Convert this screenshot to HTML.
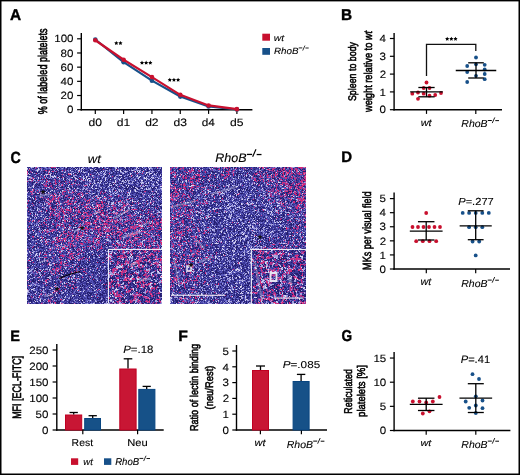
<!DOCTYPE html>
<html><head><meta charset="utf-8"><style>html,body{margin:0;padding:0;background:#fff;width:520px;height:475px;overflow:hidden}svg{display:block}text{font-family:"Liberation Sans",sans-serif}</style></head>
<body><svg style="will-change:transform" width="520" height="475" viewBox="0 0 520 475" font-family="Liberation Sans, sans-serif" text-rendering="geometricPrecision">
<rect width="520" height="475" fill="#fff"/>
<line x1="81.30" y1="33.00" x2="81.30" y2="110.40" stroke="#000" stroke-width="1.40"/>
<line x1="80.60" y1="109.70" x2="252.40" y2="109.70" stroke="#000" stroke-width="1.40"/>
<line x1="77.10" y1="109.70" x2="81.30" y2="109.70" stroke="#000" stroke-width="1.20"/>
<line x1="77.10" y1="95.52" x2="81.30" y2="95.52" stroke="#000" stroke-width="1.20"/>
<line x1="77.10" y1="81.34" x2="81.30" y2="81.34" stroke="#000" stroke-width="1.20"/>
<line x1="77.10" y1="67.16" x2="81.30" y2="67.16" stroke="#000" stroke-width="1.20"/>
<line x1="77.10" y1="52.98" x2="81.30" y2="52.98" stroke="#000" stroke-width="1.20"/>
<line x1="77.10" y1="38.80" x2="81.30" y2="38.80" stroke="#000" stroke-width="1.20"/>
<line x1="95.30" y1="109.70" x2="95.30" y2="113.90" stroke="#000" stroke-width="1.20"/>
<line x1="123.62" y1="109.70" x2="123.62" y2="113.90" stroke="#000" stroke-width="1.20"/>
<line x1="151.94" y1="109.70" x2="151.94" y2="113.90" stroke="#000" stroke-width="1.20"/>
<line x1="180.26" y1="109.70" x2="180.26" y2="113.90" stroke="#000" stroke-width="1.20"/>
<line x1="208.58" y1="109.70" x2="208.58" y2="113.90" stroke="#000" stroke-width="1.20"/>
<line x1="236.90" y1="109.70" x2="236.90" y2="113.90" stroke="#000" stroke-width="1.20"/>
<polyline points="95.30,39.51 123.62,62.20 151.94,80.63 180.26,96.58 208.58,106.51 236.90,109.49" fill="none" stroke="#175089" stroke-width="2.2" stroke-linejoin="round"/>
<circle cx="95.30" cy="39.51" r="2.30" fill="#175089"/>
<circle cx="123.62" cy="62.20" r="2.30" fill="#175089"/>
<circle cx="151.94" cy="80.63" r="2.30" fill="#175089"/>
<circle cx="180.26" cy="96.58" r="2.30" fill="#175089"/>
<circle cx="208.58" cy="106.51" r="2.30" fill="#175089"/>
<circle cx="236.90" cy="109.49" r="2.30" fill="#175089"/>
<polyline points="95.30,40.22 123.62,59.72 151.94,77.09 180.26,94.81 208.58,105.45 236.90,109.13" fill="none" stroke="#c8102e" stroke-width="2.2" stroke-linejoin="round"/>
<circle cx="95.30" cy="40.22" r="2.30" fill="#c8102e"/>
<circle cx="123.62" cy="59.72" r="2.30" fill="#c8102e"/>
<circle cx="151.94" cy="77.09" r="2.30" fill="#c8102e"/>
<circle cx="180.26" cy="94.81" r="2.30" fill="#c8102e"/>
<circle cx="208.58" cy="105.45" r="2.30" fill="#c8102e"/>
<circle cx="236.90" cy="109.13" r="2.30" fill="#c8102e"/>
<polygon points="116.30,41.00 116.95,42.31 118.39,42.52 117.35,43.54 117.59,44.98 116.30,44.30 115.01,44.98 115.25,43.54 114.21,42.52 115.65,42.31" fill="#000"/>
<polygon points="120.45,41.00 121.10,42.31 122.54,42.52 121.50,43.54 121.74,44.98 120.45,44.30 119.16,44.98 119.40,43.54 118.36,42.52 119.80,42.31" fill="#000"/>
<polygon points="142.00,60.60 142.65,61.91 144.09,62.12 143.05,63.14 143.29,64.58 142.00,63.90 140.71,64.58 140.95,63.14 139.91,62.12 141.35,61.91" fill="#000"/>
<polygon points="146.15,60.60 146.80,61.91 148.24,62.12 147.20,63.14 147.44,64.58 146.15,63.90 144.86,64.58 145.10,63.14 144.06,62.12 145.50,61.91" fill="#000"/>
<polygon points="150.30,60.60 150.95,61.91 152.39,62.12 151.35,63.14 151.59,64.58 150.30,63.90 149.01,64.58 149.25,63.14 148.21,62.12 149.65,61.91" fill="#000"/>
<polygon points="169.80,77.70 170.45,79.01 171.89,79.22 170.85,80.24 171.09,81.68 169.80,81.00 168.51,81.68 168.75,80.24 167.71,79.22 169.15,79.01" fill="#000"/>
<polygon points="173.95,77.70 174.60,79.01 176.04,79.22 175.00,80.24 175.24,81.68 173.95,81.00 172.66,81.68 172.90,80.24 171.86,79.22 173.30,79.01" fill="#000"/>
<polygon points="178.10,77.70 178.75,79.01 180.19,79.22 179.15,80.24 179.39,81.68 178.10,81.00 176.81,81.68 177.05,80.24 176.01,79.22 177.45,79.01" fill="#000"/>
<rect x="262.30" y="33.70" width="7.70" height="7.00" fill="#c8102e"/>
<rect x="262.30" y="48.00" width="7.70" height="6.80" fill="#175089"/>
<line x1="298.76" y1="47.91" x2="302.31" y2="47.91" stroke="#000" stroke-width="0.87"/>
<line x1="302.68" y1="50.57" x2="304.96" y2="45.55" stroke="#000" stroke-width="0.78"/>
<line x1="305.42" y1="48.00" x2="308.70" y2="48.00" stroke="#000" stroke-width="0.87"/>
<line x1="394.10" y1="33.00" x2="394.10" y2="110.40" stroke="#000" stroke-width="1.40"/>
<line x1="393.40" y1="109.70" x2="502.00" y2="109.70" stroke="#000" stroke-width="1.40"/>
<line x1="389.90" y1="109.70" x2="394.10" y2="109.70" stroke="#000" stroke-width="1.20"/>
<line x1="389.90" y1="91.90" x2="394.10" y2="91.90" stroke="#000" stroke-width="1.20"/>
<line x1="389.90" y1="74.10" x2="394.10" y2="74.10" stroke="#000" stroke-width="1.20"/>
<line x1="389.90" y1="56.30" x2="394.10" y2="56.30" stroke="#000" stroke-width="1.20"/>
<line x1="389.90" y1="38.50" x2="394.10" y2="38.50" stroke="#000" stroke-width="1.20"/>
<line x1="426.50" y1="109.70" x2="426.50" y2="113.90" stroke="#000" stroke-width="1.20"/>
<line x1="475.80" y1="109.70" x2="475.80" y2="113.90" stroke="#000" stroke-width="1.20"/>
<line x1="487.81" y1="120.51" x2="491.82" y2="120.51" stroke="#000" stroke-width="0.97"/>
<line x1="492.23" y1="123.09" x2="494.79" y2="117.44" stroke="#000" stroke-width="0.88"/>
<line x1="495.31" y1="120.61" x2="499.00" y2="120.61" stroke="#000" stroke-width="0.97"/>
<path d="M426.5,76 V44.4 H475.8 V51" fill="none" stroke="#111" stroke-width="1.3"/>
<polygon points="447.20,36.80 447.85,38.11 449.29,38.32 448.25,39.34 448.49,40.78 447.20,40.10 445.91,40.78 446.15,39.34 445.11,38.32 446.55,38.11" fill="#000"/>
<polygon points="451.35,36.80 452.00,38.11 453.44,38.32 452.40,39.34 452.64,40.78 451.35,40.10 450.06,40.78 450.30,39.34 449.26,38.32 450.70,38.11" fill="#000"/>
<polygon points="455.50,36.80 456.15,38.11 457.59,38.32 456.55,39.34 456.79,40.78 455.50,40.10 454.21,40.78 454.45,39.34 453.41,38.32 454.85,38.11" fill="#000"/>
<circle cx="426.50" cy="82.50" r="1.90" fill="#c8102e"/>
<circle cx="423.70" cy="88.00" r="1.90" fill="#c8102e"/>
<circle cx="429.50" cy="88.00" r="1.90" fill="#c8102e"/>
<circle cx="412.30" cy="93.70" r="1.90" fill="#c8102e"/>
<circle cx="418.00" cy="92.50" r="1.90" fill="#c8102e"/>
<circle cx="423.70" cy="93.70" r="1.90" fill="#c8102e"/>
<circle cx="429.50" cy="95.70" r="1.90" fill="#c8102e"/>
<circle cx="435.20" cy="95.00" r="1.90" fill="#c8102e"/>
<circle cx="441.00" cy="93.00" r="1.90" fill="#c8102e"/>
<circle cx="418.00" cy="98.80" r="1.90" fill="#c8102e"/>
<line x1="426.50" y1="87.50" x2="426.50" y2="96.80" stroke="#000" stroke-width="1.30"/>
<line x1="418.35" y1="87.50" x2="434.65" y2="87.50" stroke="#000" stroke-width="1.30"/>
<line x1="418.35" y1="96.80" x2="434.65" y2="96.80" stroke="#000" stroke-width="1.30"/>
<line x1="410.15" y1="91.80" x2="442.85" y2="91.80" stroke="#000" stroke-width="1.30"/>
<circle cx="476.00" cy="57.50" r="1.90" fill="#175089"/>
<circle cx="467.20" cy="66.00" r="1.90" fill="#175089"/>
<circle cx="476.00" cy="64.30" r="1.90" fill="#175089"/>
<circle cx="484.70" cy="64.80" r="1.90" fill="#175089"/>
<circle cx="467.20" cy="72.00" r="1.90" fill="#175089"/>
<circle cx="484.70" cy="69.50" r="1.90" fill="#175089"/>
<circle cx="484.70" cy="74.00" r="1.90" fill="#175089"/>
<circle cx="476.00" cy="75.80" r="1.90" fill="#175089"/>
<circle cx="484.70" cy="79.20" r="1.90" fill="#175089"/>
<circle cx="467.20" cy="82.00" r="1.90" fill="#175089"/>
<line x1="476.00" y1="62.80" x2="476.00" y2="78.00" stroke="#000" stroke-width="1.30"/>
<line x1="468.20" y1="62.80" x2="483.80" y2="62.80" stroke="#000" stroke-width="1.30"/>
<line x1="468.20" y1="78.00" x2="483.80" y2="78.00" stroke="#000" stroke-width="1.30"/>
<line x1="455.75" y1="70.50" x2="496.25" y2="70.50" stroke="#000" stroke-width="1.30"/>
<line x1="246.87" y1="154.42" x2="252.11" y2="154.42" stroke="#000" stroke-width="1.28"/>
<line x1="252.64" y1="156.66" x2="256.00" y2="149.28" stroke="#000" stroke-width="1.15"/>
<line x1="256.67" y1="154.54" x2="261.50" y2="154.54" stroke="#000" stroke-width="1.28"/>
<defs><filter id="hb" x="0" y="0" width="1" height="1"><feConvolveMatrix order="3" kernelMatrix="1 2 1 2 4 2 1 2 1" preserveAlpha="true" edgeMode="duplicate"/></filter></defs><g><g transform="translate(27.00 167.00)">
<rect width="135" height="137" fill="rgb(58, 54, 150)"/>
<g stroke="#241e6e" fill="none"><path d="M2 0.5h126" stroke-dasharray="1 4 1 5 1 6 1 9 2 5 1 2 2 6 1 1 1 2 2 2 1 2 1 7 3 5 1 5 1 1 1 7 1 2 1 3 1 3 2 6 1 1 1 6 1 4 1 1 1 135"/><path d="M1 1.5h134" stroke-dasharray="1 4 1 3 1 5 1 7 3 1 1 8 1 2 1 3 1 1 2 1 1 1 1 1 1 11 1 4 1 2 1 1 2 6 2 5 1 6 1 1 2 4 2 7 2 4 1 8 1 4 1 135"/><path d="M25 2.5h109" stroke-dasharray="1 3 1 1 1 7 2 1 1 5 1 6 1 1 1 3 1 4 1 1 2 1 1 2 1 4 3 7 1 6 1 1 1 1 1 2 1 1 1 5 1 4 1 3 1 5 1 1 1 1 2 1 1 135"/><path d="M0 3.5h134" stroke-dasharray="1 1 1 2 1 14 1 3 1 3 1 3 2 12 1 11 2 2 1 4 1 2 1 2 2 9 1 9 2 3 1 1 1 12 2 4 2 2 1 2 1 5 1 135"/><path d="M2 4.5h131" stroke-dasharray="1 2 1 1 1 4 1 3 2 5 1 6 1 1 1 14 1 1 1 5 1 1 1 3 3 2 3 2 2 6 1 5 1 2 1 1 1 4 1 6 2 2 1 2 1 1 1 6 3 7 1 3 1 135"/><path d="M1 5.5h133" stroke-dasharray="1 4 1 1 2 1 1 5 2 1 1 4 1 1 4 12 1 6 1 1 1 1 1 6 1 3 1 3 1 6 1 2 1 1 1 4 1 2 1 2 1 4 1 3 1 2 1 4 1 13 1 3 3 1 1 1 1 135"/><path d="M2 6.5h131" stroke-dasharray="1 1 1 5 1 3 1 1 2 4 1 2 1 1 1 1 1 4 1 3 1 8 3 1 2 2 1 2 1 27 1 2 1 9 1 1 1 7 1 3 1 14 1 3 1 135"/><path d="M7 7.5h128" stroke-dasharray="2 3 1 3 1 7 2 1 1 1 1 10 1 9 2 1 1 3 1 8 2 2 1 9 2 1 3 7 2 2 1 8 1 12 1 1 1 2 2 4 1 1 1 1 1 135"/><path d="M1 8.5h130" stroke-dasharray="3 6 1 10 1 8 1 2 2 5 2 1 1 1 1 7 1 5 1 3 1 5 1 8 1 1 1 6 1 7 1 6 1 4 1 4 1 5 2 3 1 6 1 135"/><path d="M5 9.5h129" stroke-dasharray="1 6 1 5 1 1 1 9 2 2 1 1 1 7 2 2 1 6 1 2 1 19 2 7 1 2 1 1 1 2 1 3 1 1 1 3 1 12 1 14 1 135"/><path d="M24 10.5h100" stroke-dasharray="1 8 2 2 1 8 1 2 2 1 1 8 2 10 1 22 2 6 1 2 1 5 1 6 1 2 1 135"/><path d="M14 11.5h117" stroke-dasharray="1 4 1 8 1 2 1 6 1 7 1 4 1 6 1 1 1 8 1 3 1 2 1 5 2 12 1 4 1 1 1 8 1 16 2 135"/><path d="M0 12.5h128" stroke-dasharray="1 3 1 3 2 2 1 1 1 1 1 1 1 1 4 5 1 7 2 8 1 4 1 4 1 5 1 1 1 6 2 7 2 3 1 7 1 2 1 1 1 2 1 6 2 7 1 4 1 2 2 135"/><path d="M9 13.5h121" stroke-dasharray="1 14 1 13 1 2 1 19 1 3 1 11 1 1 1 1 1 2 1 6 1 2 1 2 1 9 1 3 1 4 1 1 1 7 2 1 1 135"/><path d="M2 14.5h132" stroke-dasharray="1 4 1 26 4 9 1 9 1 7 1 3 3 3 1 11 1 5 1 4 1 1 1 2 1 7 1 4 1 13 1 2 1 135"/><path d="M2 15.5h133" stroke-dasharray="1 2 3 5 1 1 1 7 1 5 1 3 2 2 1 6 1 2 1 1 1 2 2 1 1 5 1 7 1 4 1 2 1 1 1 1 1 1 1 6 1 2 1 1 1 4 1 5 1 1 1 3 1 7 1 2 1 4 1 3 1 1 1 135"/><path d="M5 16.5h129" stroke-dasharray="1 3 1 2 1 9 1 2 1 1 1 2 1 11 1 1 1 5 1 1 1 1 1 2 1 8 1 17 1 1 1 1 1 1 2 3 1 1 1 1 1 7 1 5 1 3 1 2 1 6 1 4 2 135"/><path d="M0 17.5h130" stroke-dasharray="1 4 1 2 1 1 1 1 1 1 1 5 1 1 1 2 1 4 1 6 1 17 1 7 3 7 1 1 1 3 2 2 1 1 1 8 1 1 1 11 1 3 2 6 2 1 1 4 2 135"/><path d="M9 18.5h109" stroke-dasharray="1 1 2 2 1 4 1 1 1 2 2 3 1 7 1 1 1 8 1 3 1 7 1 12 2 9 3 8 2 2 1 2 2 4 1 7 1 135"/><path d="M1 19.5h130" stroke-dasharray="1 1 1 4 1 16 1 3 1 5 1 2 1 7 1 5 1 6 1 2 1 3 1 12 1 3 1 2 1 2 1 4 1 5 1 1 1 2 1 1 1 6 1 3 1 4 1 6 1 135"/><path d="M0 20.5h131" stroke-dasharray="1 6 1 2 2 1 1 2 1 6 1 4 1 4 3 3 1 3 2 3 2 4 1 11 1 1 1 1 1 4 1 2 2 3 1 4 2 2 1 2 1 3 1 1 1 1 1 1 1 1 1 3 2 4 2 3 1 1 1 2 1 2 1 135"/><path d="M18 21.5h111" stroke-dasharray="1 1 1 9 1 8 3 2 1 3 1 23 1 2 1 4 1 3 1 8 1 3 3 1 1 2 1 1 3 2 2 3 1 3 1 4 2 1 1 135"/><path d="M1 22.5h125" stroke-dasharray="1 12 1 12 1 7 2 14 1 5 1 6 1 4 2 3 1 5 1 6 1 11 2 4 1 3 1 4 1 10 1 135"/><path d="M0 23.5h132" stroke-dasharray="3 4 1 7 1 1 1 1 1 1 2 3 1 6 1 12 2 3 1 1 1 3 1 8 2 1 1 6 1 9 2 2 1 6 1 4 1 2 1 4 1 7 2 5 1 3 1 1 1 135"/><path d="M2 24.5h122" stroke-dasharray="1 10 1 2 3 13 1 1 1 24 1 1 1 14 2 8 1 6 1 19 1 1 2 4 1 1 1 135"/><path d="M1 25.5h128" stroke-dasharray="1 4 1 12 2 2 1 1 1 3 1 2 1 5 1 8 1 1 1 7 1 5 1 2 1 2 1 9 1 2 1 9 1 3 1 10 1 2 1 4 1 6 1 4 2 135"/><path d="M8 26.5h127" stroke-dasharray="1 3 1 4 1 2 1 4 1 7 1 12 1 1 1 1 1 6 1 3 1 7 1 4 1 2 1 6 1 8 1 3 1 7 1 3 1 1 1 12 1 1 1 2 1 4 1 135"/><path d="M3 27.5h131" stroke-dasharray="1 3 6 3 2 8 1 3 2 6 2 9 1 2 1 13 3 3 1 4 1 4 1 5 1 7 1 1 2 1 1 11 2 14 1 1 1 1 1 135"/><path d="M6 28.5h128" stroke-dasharray="1 5 1 1 1 3 1 8 1 6 1 2 1 19 1 2 1 3 2 7 1 3 1 2 1 14 1 9 1 4 1 3 1 5 1 3 2 1 1 1 2 2 1 135"/><path d="M4 29.5h130" stroke-dasharray="1 7 1 3 1 1 1 11 1 5 1 4 2 2 1 3 3 5 1 2 1 11 2 5 1 8 3 6 2 6 2 1 1 1 1 3 1 3 1 4 1 5 1 3 1 135"/><path d="M7 30.5h126" stroke-dasharray="1 3 1 9 1 14 1 1 2 7 1 6 1 1 1 1 1 9 1 13 1 4 1 2 1 10 1 23 1 4 1 1 1 135"/><path d="M0 31.5h132" stroke-dasharray="1 1 1 4 1 4 1 1 1 7 1 11 1 1 1 5 1 8 1 3 1 4 1 1 1 4 1 6 1 23 1 1 1 3 1 1 1 5 2 3 1 3 1 3 1 5 1 135"/><path d="M2 32.5h133" stroke-dasharray="2 1 1 6 2 1 1 1 1 15 1 3 2 1 1 2 2 3 1 31 1 5 2 3 1 2 2 1 1 13 2 1 1 3 1 4 1 3 2 3 1 1 1 135"/><path d="M5 33.5h126" stroke-dasharray="3 2 1 2 3 1 1 1 1 7 1 7 1 1 1 11 1 1 2 3 1 9 1 15 1 8 2 8 2 3 1 1 1 3 1 9 1 7 1 135"/><path d="M5 34.5h118" stroke-dasharray="1 2 2 3 1 7 1 4 1 3 1 20 2 6 1 1 1 2 2 2 2 3 1 3 1 1 1 3 2 3 1 15 1 10 1 1 1 2 1 1 1 135"/><path d="M0 35.5h133" stroke-dasharray="3 2 2 1 1 1 2 2 3 9 2 1 1 12 2 2 1 3 2 3 1 3 1 3 1 12 1 2 1 26 1 3 1 3 1 4 2 7 1 3 1 135"/><path d="M6 36.5h129" stroke-dasharray="3 2 1 4 1 6 1 3 2 8 1 8 1 3 1 3 2 14 1 1 3 5 1 2 1 5 2 7 1 3 3 1 1 20 1 1 1 3 2 135"/><path d="M10 37.5h124" stroke-dasharray="1 3 1 1 1 8 1 22 1 8 1 6 1 12 1 1 1 23 3 7 1 1 1 3 1 3 1 9 1 135"/><path d="M3 38.5h128" stroke-dasharray="1 4 1 9 1 6 1 2 2 5 1 6 1 4 1 6 1 12 1 10 1 3 1 6 1 5 1 15 3 2 1 1 1 4 1 5 2 135"/><path d="M4 39.5h130" stroke-dasharray="1 1 1 2 1 5 1 2 1 5 4 1 1 6 1 7 3 9 1 7 1 9 1 2 1 12 1 30 1 2 4 1 1 3 1 135"/><path d="M5 40.5h130" stroke-dasharray="2 4 1 1 1 6 1 4 1 12 1 5 1 6 1 1 2 7 1 4 1 2 1 1 1 4 2 13 2 5 1 3 1 7 1 3 1 3 1 10 1 3 1 135"/><path d="M1 41.5h134" stroke-dasharray="2 2 2 2 1 16 1 1 1 4 1 4 1 7 2 1 2 1 1 19 1 14 1 2 1 2 1 9 1 2 1 3 2 5 1 2 3 4 1 1 1 1 1 2 1 135"/><path d="M1 42.5h132" stroke-dasharray="1 4 1 2 1 5 2 1 1 2 1 2 1 17 1 2 1 1 1 2 1 1 1 2 1 2 1 2 1 2 1 4 2 4 2 1 2 5 1 12 2 3 1 7 1 2 1 2 1 12 1 1 1 135"/><path d="M1 43.5h132" stroke-dasharray="1 6 1 8 2 2 1 2 3 8 1 1 1 18 1 2 1 2 1 1 1 1 1 2 1 6 1 4 2 2 2 11 1 3 1 1 1 8 2 10 1 6 1 135"/><path d="M3 44.5h131" stroke-dasharray="1 1 1 1 1 7 1 4 2 4 1 4 1 2 1 18 1 3 1 5 1 7 1 2 1 6 1 3 1 9 1 5 1 3 2 8 1 1 1 2 1 7 1 4 1 135"/><path d="M1 45.5h128" stroke-dasharray="2 7 1 9 1 14 1 6 1 3 1 1 1 5 1 5 2 1 1 10 1 2 2 12 2 1 2 7 2 1 1 10 1 9 2 135"/><path d="M4 46.5h129" stroke-dasharray="1 1 2 3 2 2 1 3 2 18 2 2 1 6 1 3 2 8 1 6 1 1 1 3 1 7 1 12 2 4 1 7 1 1 1 6 1 10 1 135"/><path d="M7 47.5h126" stroke-dasharray="1 13 1 2 1 4 1 3 2 7 1 2 1 5 2 1 1 3 1 7 1 2 1 2 1 4 1 3 3 7 1 1 1 2 2 3 1 7 1 8 1 3 1 5 1 3 1 135"/><path d="M1 48.5h129" stroke-dasharray="1 1 1 2 1 9 1 1 2 1 1 3 1 17 1 5 2 17 1 17 1 1 1 1 1 5 2 14 1 1 1 3 2 7 3 135"/><path d="M3 49.5h126" stroke-dasharray="2 4 1 15 2 8 1 2 1 4 1 19 2 9 1 7 1 2 1 4 2 1 1 13 1 9 1 2 1 7 1 135"/><path d="M6 50.5h127" stroke-dasharray="1 1 1 4 1 5 3 7 1 9 1 5 1 12 1 1 1 2 1 1 3 6 1 12 2 3 1 5 1 2 1 9 1 10 2 1 1 6 1 135"/><path d="M6 51.5h125" stroke-dasharray="1 9 1 7 4 1 1 5 1 9 1 5 1 2 1 12 2 6 2 2 2 2 1 1 1 1 1 3 1 4 2 6 1 4 3 2 1 1 1 1 1 3 2 1 1 3 2 135"/><path d="M4 52.5h130" stroke-dasharray="1 4 1 1 2 7 1 2 1 4 2 1 1 2 1 10 1 1 1 3 2 1 1 1 2 5 1 4 1 7 1 2 1 11 1 14 1 1 1 4 1 4 1 14 1 135"/><path d="M1 53.5h133" stroke-dasharray="2 7 1 2 1 4 1 5 1 2 1 1 1 4 1 4 1 1 1 4 2 9 1 8 1 14 1 10 1 4 1 6 1 11 2 2 2 2 1 1 1 5 2 135"/><path d="M6 54.5h127" stroke-dasharray="1 9 1 6 1 10 1 1 1 2 1 7 1 1 1 12 1 1 1 5 1 3 1 11 1 4 1 4 1 4 1 2 1 2 1 9 1 14 1 135"/><path d="M1 55.5h121" stroke-dasharray="1 6 1 3 1 1 1 3 1 2 1 2 1 2 1 3 1 1 1 6 1 2 2 6 3 10 1 6 1 3 2 1 1 2 1 8 1 8 2 2 1 16 2 135"/><path d="M11 56.5h122" stroke-dasharray="1 2 1 1 1 1 1 1 1 21 3 9 1 15 1 20 1 11 1 2 1 1 3 2 1 5 1 8 1 3 1 135"/><path d="M6 57.5h128" stroke-dasharray="1 5 1 10 1 3 1 3 1 6 1 8 2 12 1 3 1 1 1 3 2 15 2 2 1 3 1 4 1 4 1 8 1 4 1 2 2 8 1 135"/><path d="M2 58.5h130" stroke-dasharray="3 3 1 4 3 2 1 3 1 3 1 8 1 2 1 1 2 2 1 1 1 2 2 15 2 1 1 4 1 4 1 12 1 1 1 2 2 4 1 16 1 5 1 4 1 135"/><path d="M17 59.5h117" stroke-dasharray="2 4 1 3 1 10 1 1 1 4 1 1 1 1 1 8 1 2 2 12 1 8 1 7 1 1 2 2 1 19 1 3 1 10 1 135"/><path d="M8 60.5h121" stroke-dasharray="1 4 4 5 1 4 2 1 1 8 1 1 1 3 1 4 1 5 1 4 1 2 1 19 1 7 1 6 1 1 1 10 1 3 1 1 1 4 1 4 1 135"/><path d="M1 61.5h132" stroke-dasharray="1 2 1 2 1 2 2 3 3 2 2 5 2 11 1 6 3 11 1 6 1 1 1 15 2 4 1 9 1 7 1 6 1 4 2 7 2 135"/><path d="M5 62.5h116" stroke-dasharray="1 2 1 1 1 3 1 1 1 2 1 12 1 4 1 9 1 60 1 5 1 1 1 3 1 135"/><path d="M1 63.5h134" stroke-dasharray="1 1 2 4 2 4 1 7 1 6 1 8 1 1 1 5 1 5 1 3 2 2 1 8 1 2 2 2 1 6 1 3 1 1 1 3 1 7 1 3 1 6 1 5 1 5 1 2 1 5 1 135"/><path d="M6 64.5h128" stroke-dasharray="1 7 1 24 1 6 1 2 1 13 1 9 1 2 1 7 1 15 1 2 1 28 2 135"/><path d="M7 65.5h128" stroke-dasharray="1 6 1 9 1 1 1 1 1 5 1 2 3 9 1 8 1 2 1 15 1 2 1 3 1 4 1 6 1 2 1 6 1 13 1 11 1 1 1 135"/><path d="M1 66.5h134" stroke-dasharray="1 3 1 1 1 13 2 1 2 2 1 1 2 2 1 6 1 6 2 2 1 13 1 4 1 10 1 2 2 3 2 4 1 31 1 4 2 135"/><path d="M3 67.5h131" stroke-dasharray="3 7 1 4 2 7 1 9 1 3 1 4 1 1 1 14 1 6 1 3 1 1 2 4 2 5 1 7 1 3 1 9 1 1 1 4 1 4 2 7 2 135"/><path d="M0 68.5h115" stroke-dasharray="2 1 1 2 2 21 1 5 1 16 1 16 1 7 1 7 1 2 2 5 1 13 1 1 1 1 2 135"/><path d="M1 69.5h132" stroke-dasharray="2 6 1 6 1 3 1 1 1 2 1 11 1 3 2 1 1 21 1 2 1 3 2 14 1 1 1 1 1 2 1 10 1 2 1 10 1 6 2 2 1 135"/><path d="M1 70.5h129" stroke-dasharray="2 7 1 6 2 5 1 6 2 2 1 4 2 8 1 4 2 12 1 1 1 13 1 3 1 1 1 13 2 6 2 10 1 2 2 135"/><path d="M1 71.5h132" stroke-dasharray="2 2 1 1 2 2 1 2 1 4 1 4 1 3 1 2 1 8 1 1 2 2 1 9 1 17 2 2 1 7 1 8 1 5 1 3 1 6 1 4 1 2 1 8 1 2 1 135"/><path d="M0 72.5h135" stroke-dasharray="1 6 1 4 2 4 1 28 1 4 1 15 1 2 2 1 1 1 1 7 4 1 2 7 1 1 1 4 1 14 1 3 1 3 1 4 2 135"/><path d="M1 73.5h131" stroke-dasharray="1 19 2 6 1 10 1 12 1 16 1 2 1 1 1 2 1 5 1 7 1 1 1 3 1 5 1 9 1 13 1 1 2 135"/><path d="M2 74.5h130" stroke-dasharray="2 7 1 18 1 5 1 2 1 18 1 26 1 11 1 4 1 5 2 21 1 135"/><path d="M0 75.5h133" stroke-dasharray="1 8 1 3 1 1 1 15 2 7 1 4 1 6 1 1 1 10 1 3 1 3 1 6 1 6 1 1 1 10 2 5 1 8 1 3 1 4 1 6 1 135"/><path d="M7 76.5h125" stroke-dasharray="1 9 1 6 1 3 1 4 1 1 1 1 1 23 1 3 2 10 1 31 1 9 3 1 1 7 1 135"/><path d="M9 77.5h124" stroke-dasharray="1 1 2 6 1 4 1 7 1 11 1 5 1 9 1 2 3 4 1 4 2 2 2 1 1 6 1 10 1 1 1 2 1 3 1 18 2 2 1 135"/><path d="M0 78.5h122" stroke-dasharray="2 2 1 5 1 2 1 5 1 1 1 1 2 42 1 7 1 1 2 1 2 4 1 2 2 5 1 9 1 12 1 1 1 135"/><path d="M2 79.5h133" stroke-dasharray="1 4 1 1 1 1 1 8 1 20 1 3 1 4 1 2 1 2 1 15 1 2 1 3 1 6 1 5 1 10 1 3 1 2 1 4 1 2 1 6 1 8 1 135"/><path d="M6 80.5h128" stroke-dasharray="2 1 1 3 4 17 1 6 1 2 3 4 1 2 1 4 1 1 1 1 1 1 1 4 1 21 1 2 1 13 2 2 1 4 1 6 1 7 1 135"/><path d="M2 81.5h123" stroke-dasharray="1 2 1 3 1 2 1 2 1 3 1 22 1 3 1 12 1 3 1 1 1 6 1 5 1 2 1 16 1 3 2 5 1 5 1 4 2 2 1 135"/><path d="M2 82.5h132" stroke-dasharray="1 18 1 14 2 8 2 1 1 6 1 3 1 5 2 7 1 1 1 2 1 2 1 2 1 1 1 6 1 2 1 6 1 2 1 1 1 12 1 1 1 7 1 135"/><path d="M3 83.5h132" stroke-dasharray="2 2 1 5 1 2 1 9 1 4 2 7 2 17 1 2 1 1 1 4 1 9 1 1 1 2 1 2 1 8 1 17 1 5 1 6 2 3 1 1 1 135"/><path d="M12 84.5h123" stroke-dasharray="1 1 1 2 1 1 1 4 1 11 1 2 1 6 1 1 2 2 1 2 1 3 1 7 1 3 2 3 2 4 1 7 2 4 1 2 1 12 1 11 1 5 1 1 1 1 1 135"/><path d="M10 85.5h123" stroke-dasharray="2 7 2 2 1 4 1 15 1 4 1 3 2 3 1 8 1 1 1 1 1 1 1 6 1 1 1 1 1 3 1 5 1 2 1 1 2 1 1 3 1 4 2 4 1 3 1 2 1 7 1 135"/><path d="M4 86.5h129" stroke-dasharray="1 11 1 5 1 5 2 5 1 3 1 9 1 8 1 2 2 9 1 5 1 1 1 16 1 4 2 3 1 1 1 2 1 2 1 1 1 1 1 6 1 3 1 1 1 135"/><path d="M2 87.5h123" stroke-dasharray="1 12 2 7 2 1 1 4 1 22 2 4 1 4 3 4 1 1 1 1 1 3 2 3 1 1 1 5 1 6 1 5 1 10 2 4 1 135"/><path d="M13 88.5h116" stroke-dasharray="1 16 1 1 1 6 1 1 1 5 1 1 1 3 1 4 2 2 1 1 2 2 1 13 2 9 1 5 2 1 1 3 1 9 1 2 1 8 1 135"/><path d="M1 89.5h134" stroke-dasharray="1 7 1 6 1 14 2 14 2 7 3 2 1 1 1 1 1 2 3 6 1 1 1 2 1 8 2 10 1 1 1 1 1 3 1 13 3 5 2 135"/><path d="M0 90.5h134" stroke-dasharray="1 3 1 2 1 18 1 12 1 4 1 4 1 8 1 4 1 1 1 3 1 3 1 2 1 1 1 9 1 11 3 1 1 4 1 5 1 6 1 5 2 2 2 135"/><path d="M8 91.5h122" stroke-dasharray="1 4 1 1 2 2 2 2 2 3 1 4 1 1 1 1 1 2 1 3 1 2 1 8 2 2 1 4 1 6 6 2 1 2 2 2 1 12 1 3 1 1 1 3 1 7 1 2 2 6 1 135"/><path d="M2 92.5h122" stroke-dasharray="1 5 1 6 1 3 1 1 2 22 2 2 1 11 1 4 1 1 1 6 1 1 1 1 1 3 1 1 2 2 3 6 2 5 1 5 1 5 1 5 1 135"/><path d="M3 93.5h125" stroke-dasharray="1 4 1 2 1 1 1 8 1 10 1 9 1 1 2 2 1 3 1 9 1 4 1 1 2 2 1 3 1 5 1 4 1 6 1 14 1 4 1 7 1 2 1 135"/><path d="M10 94.5h121" stroke-dasharray="2 1 1 2 1 1 1 4 1 4 1 15 1 3 1 2 1 1 1 1 2 4 1 4 1 5 1 4 1 1 1 1 1 1 1 9 1 2 1 2 1 13 2 3 1 2 1 1 1 2 1 3 1 135"/><path d="M0 95.5h133" stroke-dasharray="3 1 1 4 1 4 1 1 1 2 3 16 2 3 4 4 1 1 1 2 1 2 1 1 3 5 1 1 3 4 1 14 3 3 1 1 1 2 2 12 1 3 1 4 1 2 1 1 1 135"/><path d="M0 96.5h132" stroke-dasharray="1 3 1 5 1 3 1 2 1 1 1 8 3 1 1 3 1 3 1 4 1 1 1 4 2 3 1 15 2 7 1 1 1 2 1 4 2 19 2 6 1 3 1 5 1 135"/><path d="M2 97.5h131" stroke-dasharray="1 2 1 1 1 1 1 2 1 3 1 2 1 8 1 2 1 6 1 4 1 8 1 3 1 1 4 11 1 3 1 4 1 1 1 1 1 2 1 6 1 1 1 5 2 1 1 6 1 6 1 3 1 2 1 3 1 135"/><path d="M0 98.5h135" stroke-dasharray="1 2 2 4 1 2 1 8 1 3 1 3 2 3 1 10 2 4 2 1 2 1 1 2 1 5 2 4 1 2 2 1 1 5 1 1 2 4 1 7 1 3 1 2 2 5 1 2 2 6 1 1 1 6 1 135"/><path d="M1 99.5h125" stroke-dasharray="1 1 1 20 1 2 1 2 1 4 1 12 3 1 1 5 1 3 6 37 1 7 1 10 2 135"/><path d="M3 100.5h130" stroke-dasharray="1 4 1 2 1 6 1 8 2 18 2 4 2 2 2 2 1 4 1 1 1 2 1 2 2 5 1 5 2 6 1 9 2 2 2 6 1 7 1 1 1 1 1 1 2 135"/><path d="M1 101.5h120" stroke-dasharray="2 4 1 1 2 1 1 2 1 1 1 3 1 2 1 10 1 1 1 2 1 2 1 3 2 3 4 5 1 2 1 8 1 4 2 4 2 1 1 1 1 1 1 1 1 6 1 6 1 4 1 2 1 4 1 135"/><path d="M7 102.5h126" stroke-dasharray="4 24 1 7 1 1 1 6 1 5 1 2 1 3 1 1 1 2 1 2 1 5 1 8 1 2 1 2 2 6 2 1 1 2 1 3 1 2 1 10 1 5 1 135"/><path d="M6 103.5h128" stroke-dasharray="1 2 2 1 1 3 1 2 1 1 1 3 1 6 2 2 1 1 1 2 2 4 1 5 1 2 1 1 1 10 2 2 1 1 2 1 1 1 1 1 1 5 1 3 1 5 1 3 2 4 1 3 1 2 1 1 1 1 2 4 1 1 1 2 2 1 1 135"/><path d="M1 104.5h131" stroke-dasharray="1 11 1 18 1 2 1 2 1 4 1 2 1 1 1 15 1 6 2 1 1 1 1 3 3 1 1 19 1 5 3 1 2 6 1 3 1 4 1 135"/><path d="M0 105.5h132" stroke-dasharray="1 13 1 1 1 5 1 2 1 5 2 4 1 2 1 2 1 4 1 3 4 1 1 6 3 1 1 1 1 5 1 2 2 8 1 1 1 13 1 1 1 12 1 8 1 1 1 135"/><path d="M2 106.5h128" stroke-dasharray="1 8 1 2 3 2 1 2 1 8 1 1 1 3 1 2 1 2 1 1 2 7 1 3 1 7 1 1 1 4 1 1 1 3 1 4 2 4 1 7 1 12 1 5 1 5 1 5 1 135"/><path d="M5 107.5h124" stroke-dasharray="1 5 1 3 1 2 1 2 2 5 2 5 2 1 2 7 1 4 1 4 1 15 1 8 1 5 2 1 1 3 1 10 3 1 1 5 2 1 1 1 2 1 1 2 2 135"/><path d="M5 108.5h130" stroke-dasharray="1 6 1 1 1 2 1 3 1 1 1 2 1 1 1 3 1 3 1 5 1 7 2 9 2 17 1 1 1 4 1 3 1 5 1 2 2 23 2 7 1 135"/><path d="M3 109.5h130" stroke-dasharray="1 2 1 2 2 2 1 5 3 2 1 8 3 6 1 13 1 1 1 7 1 3 1 2 1 2 4 3 1 2 3 3 2 1 1 3 2 6 1 7 1 3 1 1 2 5 1 2 2 135"/><path d="M4 110.5h131" stroke-dasharray="1 13 1 22 1 1 1 4 1 5 1 5 1 5 1 5 1 2 2 7 3 2 1 1 1 1 1 5 2 3 1 1 2 2 2 1 2 7 1 4 2 5 1 135"/><path d="M2 111.5h129" stroke-dasharray="1 3 1 11 4 3 1 4 1 3 1 26 1 1 1 1 1 6 1 4 1 3 1 1 1 2 1 2 1 4 1 1 1 2 1 1 1 4 1 8 1 4 1 2 1 2 1 2 2 135"/><path d="M1 112.5h134" stroke-dasharray="1 4 1 3 2 10 1 2 1 1 1 5 1 1 1 2 1 7 1 7 1 4 1 1 1 3 1 1 2 5 2 3 1 5 1 3 1 3 1 1 1 15 1 9 1 4 1 5 1 1 1 135"/><path d="M2 113.5h131" stroke-dasharray="1 2 2 1 1 7 1 17 1 2 1 1 1 2 2 4 1 3 2 3 2 1 3 3 1 5 1 1 1 1 1 2 2 2 2 9 2 6 1 1 1 1 1 3 1 1 1 11 1 1 1 3 1 1 1 135"/><path d="M2 114.5h132" stroke-dasharray="1 2 3 2 2 1 2 5 1 4 1 1 1 3 1 9 3 4 1 4 1 2 1 2 1 1 1 5 1 9 1 6 2 2 1 14 2 3 2 7 1 5 1 2 1 6 1 135"/><path d="M0 115.5h132" stroke-dasharray="1 1 1 1 1 6 2 2 2 8 1 1 2 2 1 6 1 5 1 3 1 5 1 7 1 5 1 1 1 8 2 1 1 2 1 1 1 11 1 7 2 9 5 5 1 2 1 135"/><path d="M0 116.5h131" stroke-dasharray="1 13 1 4 1 2 1 9 1 7 2 5 2 10 2 2 2 3 1 3 1 1 1 3 4 6 1 1 1 1 1 2 1 5 1 7 1 1 1 10 1 4 2 1 1 135"/><path d="M2 117.5h133" stroke-dasharray="1 18 1 3 1 2 1 1 1 3 1 3 2 7 1 7 1 3 1 2 1 6 3 1 1 2 1 1 1 1 1 23 1 1 1 11 1 2 1 6 1 3 1 1 1 135"/><path d="M17 118.5h96" stroke-dasharray="1 2 1 1 1 3 1 3 1 10 1 11 1 1 2 3 1 3 1 11 2 8 1 1 1 6 1 2 1 4 1 8 1 135"/><path d="M4 119.5h125" stroke-dasharray="1 1 1 1 2 7 1 7 1 6 1 11 3 1 1 4 1 1 1 1 1 6 2 2 2 1 1 4 2 1 1 1 1 13 1 1 1 4 1 2 1 6 1 8 1 2 1 1 3 135"/><path d="M3 120.5h128" stroke-dasharray="1 2 3 2 2 5 1 3 1 4 1 2 1 2 1 3 1 2 4 2 1 14 1 4 1 2 1 3 1 2 1 2 3 2 1 7 1 1 1 7 1 2 1 1 1 3 1 6 1 6 1 3 2 135"/><path d="M0 121.5h134" stroke-dasharray="1 10 1 2 1 2 1 4 2 11 1 6 1 4 2 4 2 2 1 4 1 1 1 3 1 3 1 4 1 4 1 8 1 1 1 3 1 6 1 10 2 7 1 8 1 135"/><path d="M3 122.5h130" stroke-dasharray="1 7 1 3 1 18 1 1 2 4 1 2 1 8 1 4 1 5 1 4 1 2 1 6 2 9 1 15 1 8 1 3 1 1 1 5 1 3 1 135"/><path d="M5 123.5h127" stroke-dasharray="1 12 1 1 2 13 1 4 1 1 1 2 1 3 1 3 1 11 2 10 1 3 1 8 2 21 1 1 2 1 1 1 1 7 1 2 1 135"/><path d="M2 124.5h127" stroke-dasharray="1 3 1 1 1 2 2 1 1 5 1 5 1 4 1 4 1 2 1 1 1 2 1 12 1 20 1 4 3 27 1 1 3 4 1 3 1 1 1 135"/><path d="M3 125.5h123" stroke-dasharray="2 1 2 4 2 6 1 1 1 8 3 7 2 2 1 2 1 11 3 2 1 1 1 3 1 3 1 6 1 4 1 7 1 1 1 1 1 8 1 10 1 5 1 135"/><path d="M1 126.5h130" stroke-dasharray="1 7 1 5 1 4 1 5 1 4 1 1 1 3 1 11 4 3 1 1 1 1 1 1 3 8 1 2 2 1 1 2 1 2 1 1 1 4 1 5 1 7 1 5 1 5 1 4 1 2 1 3 1 135"/><path d="M7 127.5h124" stroke-dasharray="1 3 2 8 2 2 1 1 1 1 1 3 1 2 1 1 1 2 1 4 1 6 1 7 1 1 2 1 1 3 1 2 3 5 1 1 2 6 1 6 2 16 3 11 1 135"/><path d="M0 128.5h133" stroke-dasharray="3 21 2 4 1 4 1 11 1 3 1 3 1 5 3 8 2 1 1 20 1 26 2 1 3 3 1 135"/><path d="M0 129.5h129" stroke-dasharray="1 1 1 2 1 4 1 10 4 2 1 2 1 6 1 9 1 4 2 6 1 6 1 16 1 5 1 3 1 3 3 3 3 5 1 13 1 1 1 135"/><path d="M3 130.5h126" stroke-dasharray="1 3 1 8 1 2 2 1 1 4 1 8 1 6 1 1 1 14 1 3 1 1 1 4 1 1 1 2 1 7 1 1 1 5 3 1 2 1 1 9 3 1 1 3 2 4 1 1 1 2 1 135"/><path d="M10 131.5h121" stroke-dasharray="2 13 1 3 1 1 1 4 1 3 1 2 1 1 1 5 1 2 2 4 2 1 1 4 1 1 1 1 2 2 2 2 1 1 2 4 1 5 1 3 1 1 1 13 1 1 1 11 1 1 1 135"/><path d="M2 132.5h121" stroke-dasharray="2 2 2 11 1 8 2 8 1 4 1 8 1 3 1 9 1 3 3 4 1 4 1 2 1 7 2 3 1 4 1 1 1 11 2 3 1 135"/><path d="M2 133.5h131" stroke-dasharray="3 1 1 1 1 5 2 8 1 5 1 2 1 4 1 3 2 4 1 2 1 2 1 2 1 7 1 8 2 1 1 13 1 12 1 7 1 7 1 3 1 3 1 3 1 135"/><path d="M0 134.5h134" stroke-dasharray="1 1 1 1 1 2 1 11 1 10 4 8 1 3 1 5 1 1 2 1 1 3 1 8 5 3 1 2 1 17 3 2 1 3 2 1 1 4 1 5 1 8 3 135"/><path d="M4 135.5h130" stroke-dasharray="1 4 1 3 1 8 1 1 1 1 1 2 2 1 1 8 2 12 1 7 1 4 1 1 2 2 1 2 1 2 1 4 1 10 1 3 2 3 1 6 1 13 1 3 1 2 1 135"/><path d="M3 136.5h121" stroke-dasharray="1 5 2 6 2 11 2 6 1 3 4 3 1 2 2 14 1 7 1 15 2 3 1 2 1 2 1 1 1 7 2 6 1 1 1 135"/></g>
<g stroke="#5452b6" fill="none"><path d="M14 0.5h115" stroke-dasharray="1 1 1 2 1 6 1 2 1 4 1 24 1 14 1 2 1 3 1 11 1 11 1 2 1 3 1 5 1 3 1 5 1 135"/><path d="M12 1.5h120" stroke-dasharray="1 2 1 2 1 1 2 14 1 1 1 2 1 3 1 10 1 2 1 1 2 14 2 12 1 9 1 2 1 2 1 5 1 3 1 3 1 5 2 2 1 135"/><path d="M6 2.5h127" stroke-dasharray="2 1 1 7 1 1 1 6 1 6 3 5 1 3 1 1 1 2 1 2 1 5 1 13 1 11 2 5 1 4 1 1 1 1 2 3 1 3 1 2 1 1 1 8 1 7 1 135"/><path d="M3 3.5h117" stroke-dasharray="1 11 1 14 1 30 1 2 2 10 2 20 1 19 2 135"/><path d="M4 4.5h126" stroke-dasharray="1 22 1 8 1 6 1 4 1 1 1 2 1 4 3 3 2 7 1 6 4 3 1 25 2 6 1 1 1 3 1 1 1 135"/><path d="M13 5.5h112" stroke-dasharray="1 1 2 2 1 3 1 2 1 22 1 5 1 4 1 7 1 3 1 12 1 1 2 2 1 10 2 3 1 9 1 6 1 135"/><path d="M5 6.5h130" stroke-dasharray="2 1 1 6 1 2 1 7 1 3 1 8 1 17 1 6 1 1 1 12 1 1 1 1 1 13 1 2 1 7 1 2 2 1 1 1 3 15 1 135"/><path d="M9 7.5h123" stroke-dasharray="2 15 1 3 1 15 1 5 1 1 2 6 1 5 2 17 1 2 2 3 1 4 1 9 1 1 2 6 1 2 1 2 1 2 1 1 1 135"/><path d="M0 8.5h133" stroke-dasharray="1 3 1 2 1 7 1 9 1 3 1 1 1 4 2 4 1 1 1 10 2 7 1 2 1 2 1 4 1 9 1 5 1 5 1 16 2 6 1 4 1 3 2 135"/><path d="M16 9.5h114" stroke-dasharray="1 12 1 5 1 5 1 8 1 3 1 6 1 4 3 1 2 5 1 6 1 6 1 15 1 3 1 3 2 3 1 1 1 1 1 2 1 1 1 135"/><path d="M9 10.5h124" stroke-dasharray="2 2 3 13 1 9 1 1 3 10 1 2 2 4 1 3 2 1 2 2 1 2 1 4 1 1 1 5 1 7 1 1 1 2 1 5 2 18 1 1 2 135"/><path d="M1 11.5h121" stroke-dasharray="1 14 1 4 1 1 1 3 1 1 2 12 1 6 1 4 1 7 1 7 1 7 1 1 1 3 1 13 1 5 1 1 1 13 1 135"/><path d="M11 12.5h123" stroke-dasharray="1 14 1 4 1 1 1 17 1 7 1 1 1 4 1 3 2 2 1 4 1 7 1 2 1 12 2 1 1 9 2 11 1 1 1 1 1 135"/><path d="M6 13.5h129" stroke-dasharray="1 8 2 17 2 4 1 4 3 18 1 2 1 5 1 4 1 8 2 12 1 1 2 2 2 22 2 135"/><path d="M8 14.5h124" stroke-dasharray="3 1 2 1 1 7 1 5 1 10 2 2 1 6 1 8 2 4 1 12 1 5 2 15 1 4 1 2 1 6 1 4 1 3 1 4 1 135"/><path d="M12 15.5h111" stroke-dasharray="1 5 1 6 1 4 1 5 1 1 2 1 1 1 1 1 1 5 1 2 1 5 1 2 1 12 1 12 1 1 1 2 1 4 1 3 1 13 1 1 1 2 1 135"/><path d="M1 16.5h134" stroke-dasharray="2 3 1 3 2 4 1 2 1 6 1 6 1 27 1 9 1 2 1 5 1 19 1 5 1 1 2 2 1 9 1 2 1 5 1 2 1 135"/><path d="M1 17.5h134" stroke-dasharray="1 1 1 2 1 6 1 4 1 10 1 6 1 1 1 1 1 5 1 1 1 2 1 1 1 14 3 13 1 7 2 5 2 2 3 5 1 10 1 4 1 4 1 1 1 135"/><path d="M1 18.5h133" stroke-dasharray="1 8 1 3 1 1 1 11 1 4 1 3 1 4 1 2 1 2 1 3 1 13 1 4 1 5 1 10 1 4 1 8 1 2 1 9 1 5 1 2 1 4 1 1 1 1 1 135"/><path d="M4 19.5h129" stroke-dasharray="1 2 1 3 2 1 1 15 1 5 1 2 1 4 1 10 1 4 1 3 1 6 1 1 1 1 1 2 1 3 1 1 1 6 1 19 2 12 1 6 1 135"/><path d="M8 20.5h126" stroke-dasharray="1 3 1 2 1 3 1 4 1 2 1 14 1 16 1 5 1 1 1 13 1 3 2 28 1 3 1 12 2 135"/><path d="M3 21.5h130" stroke-dasharray="1 3 1 1 5 9 1 10 2 1 1 5 1 5 1 2 1 2 1 6 2 2 1 3 1 5 2 4 2 1 1 9 2 5 2 13 2 12 2 135"/><path d="M0 22.5h134" stroke-dasharray="1 2 2 4 1 5 1 1 1 6 1 6 2 12 2 19 2 4 1 6 1 3 2 13 1 3 1 15 1 5 1 4 1 3 1 135"/><path d="M4 23.5h129" stroke-dasharray="1 3 2 1 1 6 1 4 1 5 1 7 3 2 1 1 1 5 1 4 1 2 1 5 1 3 1 8 1 2 2 1 1 11 1 16 1 2 1 7 1 3 1 4 1 135"/><path d="M6 24.5h128" stroke-dasharray="1 13 1 5 1 4 1 8 1 1 3 19 1 22 1 13 1 5 1 19 1 5 1 135"/><path d="M3 25.5h123" stroke-dasharray="1 5 2 11 1 4 2 10 1 18 1 6 1 1 2 2 2 8 1 2 3 6 1 4 1 13 1 12 1 135"/><path d="M2 26.5h120" stroke-dasharray="2 14 2 4 1 9 1 2 1 1 1 7 1 16 1 18 1 7 1 2 2 4 1 6 2 4 1 2 1 1 1 1 2 135"/><path d="M6 27.5h127" stroke-dasharray="1 14 1 15 1 3 4 8 1 3 2 17 1 8 1 1 1 4 1 1 1 2 1 6 4 2 1 7 2 2 1 5 1 3 1 135"/><path d="M1 28.5h131" stroke-dasharray="2 2 1 2 4 5 1 3 1 19 1 2 1 5 1 2 2 7 1 4 2 2 1 4 1 2 1 4 1 4 1 6 2 8 1 4 2 4 1 1 1 2 1 3 1 4 1 135"/><path d="M14 29.5h118" stroke-dasharray="1 2 1 6 2 3 1 3 1 6 1 5 1 5 1 3 1 2 1 1 1 16 1 3 1 3 1 9 1 2 1 11 1 1 1 3 1 3 1 9 1 135"/><path d="M9 30.5h125" stroke-dasharray="1 2 1 5 1 1 1 4 1 14 1 35 1 2 1 1 1 1 1 10 1 1 2 1 1 2 5 8 1 1 1 2 2 11 1 135"/><path d="M4 31.5h129" stroke-dasharray="1 18 1 9 1 3 1 1 1 1 1 6 1 3 1 1 1 1 1 1 1 4 2 3 2 3 1 9 1 2 3 6 1 3 1 1 1 5 1 1 1 6 1 2 1 8 1 3 1 135"/><path d="M1 32.5h129" stroke-dasharray="1 8 1 18 1 4 1 1 1 2 1 10 1 4 1 5 1 2 1 3 2 12 1 10 1 4 1 7 1 1 3 18 1 135"/><path d="M11 33.5h118" stroke-dasharray="2 5 1 20 1 14 1 2 1 1 1 3 2 12 1 10 1 11 1 3 1 5 1 3 1 3 1 9 1 135"/><path d="M6 34.5h128" stroke-dasharray="1 3 1 3 1 5 1 6 1 5 1 3 1 4 1 3 2 2 1 5 2 5 1 3 1 27 1 3 1 1 1 12 1 3 1 6 1 2 1 2 1 1 1 135"/><path d="M3 35.5h132" stroke-dasharray="2 2 1 22 1 2 1 18 1 1 1 11 2 21 1 3 1 2 1 4 2 4 1 8 1 1 1 2 1 9 1 2 1 135"/><path d="M15 36.5h116" stroke-dasharray="1 10 1 13 1 8 1 3 1 9 1 3 2 8 1 15 1 15 1 12 1 7 1 135"/><path d="M2 37.5h125" stroke-dasharray="1 8 1 1 1 4 3 6 1 6 1 2 1 1 1 6 1 3 1 7 1 3 1 4 1 6 1 1 1 1 1 3 2 4 1 17 2 1 1 6 2 3 1 4 1 135"/><path d="M0 38.5h133" stroke-dasharray="1 6 1 1 2 2 2 2 1 3 2 20 1 1 2 1 1 7 3 5 1 10 1 1 1 1 1 1 1 10 1 1 1 7 1 6 2 4 1 4 1 3 1 3 1 3 1 135"/><path d="M1 39.5h122" stroke-dasharray="1 3 1 1 2 4 2 1 1 3 1 14 1 3 1 12 1 2 1 6 1 2 1 1 1 10 2 8 1 2 1 6 2 4 1 12 2 3 1 135"/><path d="M7 40.5h123" stroke-dasharray="3 17 1 6 1 2 1 3 1 3 1 6 1 7 1 22 1 5 1 12 1 5 1 1 1 2 1 2 2 2 1 5 1 2 1 135"/><path d="M3 41.5h121" stroke-dasharray="2 3 1 3 1 1 1 1 1 1 1 10 1 6 1 5 1 2 1 8 1 19 1 3 1 2 2 2 1 23 1 2 1 10 1 135"/><path d="M2 42.5h133" stroke-dasharray="1 1 1 6 1 8 1 7 1 1 1 2 1 3 1 25 1 3 1 9 1 3 1 18 1 1 1 7 1 13 1 1 1 2 1 4 1 135"/><path d="M3 43.5h127" stroke-dasharray="1 1 1 1 1 1 1 2 1 3 1 5 1 9 1 5 1 5 1 15 2 1 1 6 1 16 1 1 1 9 1 5 1 2 1 3 1 5 1 7 1 2 1 135"/><path d="M24 44.5h111" stroke-dasharray="1 3 2 10 1 14 1 2 2 2 1 3 1 5 1 4 1 2 1 2 1 10 1 13 1 10 1 5 1 1 1 6 1 135"/><path d="M0 45.5h130" stroke-dasharray="1 6 1 1 1 5 1 14 1 3 1 3 1 6 1 18 1 1 1 26 1 2 1 4 2 6 1 5 1 2 1 3 1 6 1 135"/><path d="M0 46.5h135" stroke-dasharray="1 9 1 2 2 1 1 8 1 16 1 6 1 1 1 11 1 1 1 25 1 9 1 1 1 3 1 7 2 8 1 1 1 1 1 4 1 135"/><path d="M0 47.5h127" stroke-dasharray="2 2 3 2 1 1 2 6 1 2 1 16 3 4 2 11 1 5 1 22 1 3 1 5 1 5 1 1 1 3 1 15 1 135"/><path d="M4 48.5h121" stroke-dasharray="1 2 1 7 1 1 1 2 1 7 1 4 1 2 1 21 1 12 1 13 1 1 1 6 1 4 1 5 1 14 1 3 1 135"/><path d="M1 49.5h129" stroke-dasharray="2 3 1 9 1 4 1 1 1 3 1 40 1 8 1 2 1 5 2 1 1 18 1 1 2 3 1 3 1 9 1 135"/><path d="M2 50.5h133" stroke-dasharray="2 8 1 14 2 4 1 7 1 4 1 15 1 9 1 2 1 3 1 11 1 4 1 7 1 1 1 1 1 12 1 2 1 2 1 5 2 135"/><path d="M1 51.5h124" stroke-dasharray="1 2 1 3 1 2 1 3 1 5 1 11 2 4 1 3 1 4 2 12 1 3 1 5 1 5 1 5 1 1 1 11 1 1 2 6 1 4 1 10 1 135"/><path d="M0 52.5h133" stroke-dasharray="1 2 1 2 3 5 1 9 4 2 1 7 1 1 2 1 1 2 1 13 1 6 1 10 1 4 1 2 1 2 1 6 1 2 1 2 1 2 1 9 2 5 1 3 1 5 1 135"/><path d="M4 53.5h115" stroke-dasharray="1 10 1 1 1 2 1 22 1 7 1 21 1 3 2 15 1 10 1 8 1 3 1 135"/><path d="M4 54.5h124" stroke-dasharray="1 5 1 2 1 5 1 2 1 4 1 4 2 11 1 9 1 1 1 2 1 10 1 21 1 24 1 8 1 135"/><path d="M3 55.5h105" stroke-dasharray="1 5 1 9 2 5 1 1 1 8 1 32 1 3 1 4 1 2 1 1 1 7 1 1 1 1 1 4 2 1 1 1 2 135"/><path d="M2 56.5h120" stroke-dasharray="2 1 3 5 1 8 1 4 1 1 2 5 5 5 1 4 1 19 1 3 1 9 2 10 1 13 2 8 1 135"/><path d="M5 57.5h118" stroke-dasharray="1 2 1 1 1 9 1 3 1 8 1 5 2 3 2 5 1 4 1 24 1 5 1 7 1 4 1 2 1 1 1 13 1 2 1 135"/><path d="M29 58.5h102" stroke-dasharray="1 7 1 21 1 3 2 5 1 4 1 6 1 6 3 1 1 7 1 3 1 3 1 11 1 8 1 135"/><path d="M0 59.5h117" stroke-dasharray="2 1 1 7 1 1 1 2 1 13 2 9 1 2 1 3 1 1 2 4 1 7 1 2 1 13 1 11 1 3 1 9 1 5 1 2 1 135"/><path d="M5 60.5h127" stroke-dasharray="2 4 1 6 1 2 1 3 1 5 1 1 1 1 2 6 1 11 1 1 1 7 1 1 1 12 1 5 1 6 1 1 1 2 1 18 1 1 2 3 1 1 2 2 2 135"/><path d="M3 61.5h127" stroke-dasharray="1 4 2 4 1 4 1 2 1 6 1 1 1 1 2 3 1 14 1 9 1 11 1 12 1 4 2 2 1 3 1 7 1 2 1 11 1 4 1 135"/><path d="M13 62.5h93" stroke-dasharray="1 13 2 4 2 4 1 4 1 8 1 5 1 9 1 5 1 10 1 7 1 6 3 1 1 135"/><path d="M0 63.5h133" stroke-dasharray="1 21 1 5 1 6 1 4 1 7 2 9 1 4 1 1 1 8 1 9 2 2 1 2 1 4 1 6 1 2 3 5 2 4 1 5 1 3 2 135"/><path d="M2 64.5h123" stroke-dasharray="1 1 2 5 1 18 1 3 1 5 1 7 1 21 1 14 1 18 1 2 1 15 2 135"/><path d="M8 65.5h126" stroke-dasharray="1 2 1 4 2 3 3 3 1 24 1 28 3 17 1 1 2 6 1 2 1 7 2 3 1 5 1 135"/><path d="M0 66.5h116" stroke-dasharray="1 3 1 5 1 1 1 3 1 6 1 2 1 13 1 6 1 5 2 14 2 42 1 1 1 135"/><path d="M0 67.5h120" stroke-dasharray="1 5 1 7 1 1 1 3 1 7 1 3 1 3 1 15 1 4 2 3 1 3 1 4 1 6 2 10 1 8 1 19 1 135"/><path d="M2 68.5h119" stroke-dasharray="1 8 5 2 1 1 1 3 3 9 1 1 1 20 1 1 1 2 3 17 1 1 2 2 1 6 2 9 1 9 1 1 1 135"/><path d="M0 69.5h134" stroke-dasharray="1 2 2 7 1 4 1 11 3 4 1 1 1 8 1 9 1 1 1 3 2 2 1 10 1 2 1 3 1 4 1 7 1 3 1 5 1 7 1 2 1 3 1 7 1 1 1 135"/><path d="M5 70.5h127" stroke-dasharray="1 1 1 15 1 1 1 8 1 1 1 6 1 13 1 8 1 1 1 5 1 1 1 21 1 3 1 1 1 10 2 1 1 2 1 4 2 2 2 135"/><path d="M3 71.5h121" stroke-dasharray="1 8 2 7 1 17 1 15 1 7 3 22 1 8 2 8 1 6 2 7 1 135"/><path d="M6 72.5h126" stroke-dasharray="1 9 1 16 2 4 1 1 2 12 1 8 2 9 1 1 1 10 1 5 1 6 1 2 1 14 1 3 1 5 1 1 1 135"/><path d="M0 73.5h126" stroke-dasharray="1 24 2 20 2 3 1 2 2 1 1 1 1 2 1 1 1 10 2 8 1 6 1 17 3 4 2 3 1 1 1 135"/><path d="M4 74.5h122" stroke-dasharray="1 1 2 6 1 2 1 15 1 16 1 5 1 10 3 3 1 5 1 1 1 4 1 6 1 4 1 11 1 3 1 2 1 7 1 135"/><path d="M2 75.5h130" stroke-dasharray="1 3 1 1 1 7 1 4 2 15 2 3 2 2 1 8 1 3 1 2 2 9 3 1 1 5 1 1 1 1 1 13 1 8 2 4 1 3 1 9 1 135"/><path d="M1 76.5h133" stroke-dasharray="1 9 1 1 3 2 1 11 2 4 1 5 1 2 1 10 1 1 1 1 1 1 1 5 1 4 1 1 2 2 1 1 1 1 1 3 1 10 1 2 1 2 1 28 1 135"/><path d="M0 77.5h125" stroke-dasharray="1 1 1 2 2 1 1 5 1 6 1 3 2 2 1 1 1 3 1 4 1 1 1 5 2 3 1 3 1 8 1 11 1 2 1 6 1 5 1 3 2 19 3 2 1 135"/><path d="M5 78.5h124" stroke-dasharray="2 2 1 10 1 1 1 3 1 17 1 4 1 6 2 2 1 1 2 7 3 2 1 7 2 8 1 7 2 4 1 9 1 9 1 135"/><path d="M5 79.5h129" stroke-dasharray="1 4 1 1 1 1 1 1 1 2 1 5 1 1 1 14 1 6 1 1 1 3 1 1 1 10 1 2 1 1 1 4 1 1 1 13 1 10 1 6 1 3 1 15 2 135"/><path d="M0 80.5h127" stroke-dasharray="3 17 2 1 1 2 3 3 1 5 3 1 1 4 2 1 1 2 1 4 1 1 1 14 2 1 1 5 2 5 1 16 1 3 1 3 1 3 1 5 1 135"/><path d="M7 81.5h111" stroke-dasharray="1 5 1 4 1 5 1 1 1 6 1 10 1 3 2 5 1 2 1 1 2 7 1 6 1 2 2 9 2 1 1 3 1 6 1 3 1 3 1 4 1 135"/><path d="M3 82.5h126" stroke-dasharray="1 6 6 9 1 3 1 2 2 4 1 5 1 13 1 2 1 7 1 1 1 4 1 5 1 11 1 1 1 2 1 3 1 2 1 5 1 1 1 5 1 3 1 1 3 135"/><path d="M1 83.5h125" stroke-dasharray="1 4 1 8 1 4 3 1 1 8 1 3 1 4 2 1 1 2 1 4 1 2 2 7 2 21 2 1 1 1 2 5 1 9 3 2 1 1 1 6 2 135"/><path d="M0 84.5h132" stroke-dasharray="1 2 1 4 1 1 1 5 1 1 1 4 1 1 1 1 1 3 1 5 1 15 1 8 1 10 1 4 1 5 2 1 1 10 1 15 1 8 1 2 1 1 1 2 1 135"/><path d="M12 85.5h123" stroke-dasharray="1 8 1 2 1 1 1 7 1 1 1 6 1 4 1 10 1 1 1 1 1 8 1 2 2 4 1 1 1 5 1 5 1 5 1 5 1 1 1 6 1 1 1 9 2 3 2 135"/><path d="M14 86.5h121" stroke-dasharray="2 4 1 3 2 4 1 1 3 15 1 4 1 3 1 3 1 12 1 5 1 4 1 3 1 4 1 1 1 2 1 9 1 12 1 4 1 1 1 2 1 135"/><path d="M1 87.5h122" stroke-dasharray="1 3 1 15 1 4 1 7 1 1 1 2 1 5 1 11 1 14 1 7 1 2 1 6 1 7 2 4 1 9 2 1 1 4 1 135"/><path d="M0 88.5h134" stroke-dasharray="1 3 1 1 1 13 2 2 1 1 2 1 1 8 1 18 1 5 1 10 2 4 1 3 1 1 1 8 1 25 1 11 1 135"/><path d="M4 89.5h126" stroke-dasharray="1 5 1 6 1 1 1 2 1 3 1 2 1 20 1 1 1 2 1 4 1 5 1 6 1 1 2 7 1 3 1 5 1 11 1 12 1 9 1 135"/><path d="M2 90.5h133" stroke-dasharray="1 7 1 5 1 3 1 2 1 3 1 1 1 3 1 2 1 1 1 20 1 1 1 8 1 15 1 2 2 2 2 1 1 8 1 1 1 5 2 1 1 4 1 8 1 3 1 135"/><path d="M0 91.5h133" stroke-dasharray="2 3 1 1 1 3 1 6 1 10 1 8 1 2 1 6 1 2 2 5 1 2 1 1 1 5 2 7 1 3 1 2 1 2 1 7 1 5 1 9 2 12 2 4 1 135"/><path d="M0 92.5h135" stroke-dasharray="1 3 2 1 1 1 1 14 1 1 1 2 2 9 2 6 1 7 2 1 1 11 3 4 1 3 1 1 1 12 1 5 1 8 3 10 2 2 1 4 1 135"/><path d="M9 93.5h124" stroke-dasharray="1 8 1 2 1 3 1 2 1 1 2 2 1 3 1 5 1 5 1 4 1 2 1 8 1 1 1 2 1 8 3 7 1 1 2 9 1 12 2 13 1 135"/><path d="M8 94.5h127" stroke-dasharray="1 3 1 6 1 1 2 1 3 4 2 13 2 6 1 3 1 3 1 8 1 3 1 2 1 9 1 5 1 5 1 1 1 13 1 5 1 2 1 2 1 5 1 135"/><path d="M8 95.5h118" stroke-dasharray="1 19 1 6 1 5 2 4 1 4 1 1 1 2 2 15 1 7 1 17 1 12 1 11 1 135"/><path d="M2 96.5h131" stroke-dasharray="1 2 1 2 1 2 1 1 1 2 1 18 1 5 1 1 1 4 4 2 2 4 1 8 2 1 1 10 1 5 3 3 1 31 1 4 1 135"/><path d="M4 97.5h127" stroke-dasharray="1 3 1 2 1 14 1 6 1 5 1 1 2 8 1 1 1 3 1 11 4 1 3 2 1 12 1 2 1 6 1 8 1 18 1 135"/><path d="M1 98.5h129" stroke-dasharray="1 6 1 1 2 2 1 2 1 26 1 14 1 11 1 2 1 5 1 4 1 12 1 7 1 4 1 8 1 1 1 5 2 135"/><path d="M8 99.5h126" stroke-dasharray="2 4 1 3 1 4 1 1 1 2 1 10 1 1 3 2 1 6 3 1 1 2 2 9 1 3 1 6 1 2 1 3 1 10 1 3 1 1 1 8 1 7 1 9 1 135"/><path d="M4 100.5h121" stroke-dasharray="1 5 1 1 1 1 2 8 1 5 2 2 1 14 1 1 1 17 1 6 1 1 1 4 2 1 1 2 2 2 1 7 1 1 1 4 1 13 1 1 1 135"/><path d="M3 101.5h121" stroke-dasharray="2 11 1 1 1 3 1 4 1 4 1 1 1 4 1 1 1 4 1 11 1 7 1 5 1 1 2 7 1 6 1 6 1 5 1 12 1 6 1 135"/><path d="M6 102.5h125" stroke-dasharray="1 7 1 8 1 9 1 4 2 2 1 1 1 1 1 4 1 5 1 1 1 4 1 1 1 1 1 3 1 7 1 3 4 11 1 1 1 5 1 3 1 13 1 1 1 1 2 135"/><path d="M37 103.5h90" stroke-dasharray="1 2 1 2 1 6 3 1 1 2 1 5 3 2 1 5 1 6 1 3 1 1 1 1 1 1 1 1 1 13 1 1 2 15 1 135"/><path d="M0 104.5h135" stroke-dasharray="1 10 1 4 1 5 1 4 1 5 2 2 1 7 1 9 1 3 1 5 2 3 1 2 1 1 1 7 1 3 1 1 1 18 1 4 1 3 1 5 1 3 1 6 1 135"/><path d="M2 105.5h133" stroke-dasharray="1 1 1 4 1 5 1 1 2 8 1 1 1 8 1 2 1 4 1 12 1 3 1 9 2 7 2 9 2 2 1 6 1 3 1 9 2 5 1 8 1 135"/><path d="M1 106.5h121" stroke-dasharray="1 1 1 1 4 9 1 16 1 11 1 3 1 4 2 4 4 1 1 3 1 2 1 5 1 2 1 12 1 7 1 1 1 1 1 3 1 5 2 1 1 135"/><path d="M1 107.5h132" stroke-dasharray="2 4 1 1 1 10 1 3 1 8 1 6 1 9 1 4 1 7 1 4 1 5 1 4 3 1 1 15 1 3 1 7 2 5 1 13 1 135"/><path d="M0 108.5h133" stroke-dasharray="2 5 1 1 1 8 1 8 1 2 1 13 1 9 1 1 1 1 1 5 1 3 1 8 1 14 1 1 1 3 1 9 1 3 2 2 2 1 1 9 1 2 1 135"/><path d="M7 109.5h120" stroke-dasharray="2 6 2 10 1 1 1 1 1 5 2 1 1 8 1 14 1 3 2 4 1 14 1 6 1 1 1 6 1 2 1 1 1 3 1 2 1 8 1 135"/><path d="M2 110.5h94" stroke-dasharray="1 14 1 19 2 10 1 3 1 4 1 5 2 2 2 4 1 4 1 1 1 1 1 3 1 6 2 135"/><path d="M1 111.5h128" stroke-dasharray="1 6 2 3 1 13 1 10 1 6 1 18 1 1 1 15 1 2 1 4 1 2 1 10 1 3 2 1 2 4 1 4 1 5 1 135"/><path d="M0 112.5h120" stroke-dasharray="1 8 1 2 2 4 1 11 1 5 1 11 1 4 1 1 1 2 1 3 1 1 1 11 1 1 1 3 1 14 1 7 2 3 1 3 1 4 1 135"/><path d="M3 113.5h125" stroke-dasharray="1 5 1 4 1 6 2 3 1 3 1 1 1 2 1 9 1 17 3 9 1 6 1 2 1 3 1 7 1 3 1 12 1 7 1 2 1 1 1 135"/><path d="M24 114.5h109" stroke-dasharray="1 1 1 2 1 7 2 10 2 1 1 5 1 3 2 1 1 5 2 1 2 3 1 2 1 4 1 7 1 1 3 5 1 5 2 9 1 5 3 1 1 135"/><path d="M3 115.5h132" stroke-dasharray="1 17 1 2 1 1 1 3 1 3 1 1 1 3 1 10 1 4 1 7 2 6 2 12 1 2 2 11 1 2 1 7 1 1 1 9 1 1 1 6 1 135"/><path d="M1 116.5h121" stroke-dasharray="1 5 1 1 1 5 1 4 1 12 2 19 1 10 2 3 2 1 1 3 1 4 1 2 1 3 1 3 2 18 1 1 1 5 1 135"/><path d="M3 117.5h128" stroke-dasharray="1 1 2 3 1 5 1 1 2 2 1 4 1 16 1 4 2 2 1 3 2 6 2 16 1 7 1 9 1 10 1 10 1 6 1 135"/><path d="M5 118.5h128" stroke-dasharray="1 3 1 5 1 13 1 2 1 3 1 3 1 11 1 6 1 1 2 2 1 3 1 1 1 7 1 10 1 15 2 2 1 3 1 5 3 7 1 1 1 135"/><path d="M0 119.5h123" stroke-dasharray="1 4 1 5 1 3 1 4 1 1 3 1 1 4 1 4 1 5 1 13 1 3 2 1 1 2 1 5 1 1 2 8 1 1 1 5 1 3 1 9 1 3 1 9 1 1 1 135"/><path d="M1 120.5h121" stroke-dasharray="1 2 1 5 1 2 2 2 1 3 1 4 1 1 1 22 1 6 1 1 1 4 1 1 1 3 2 1 2 7 1 5 1 1 1 7 1 6 1 6 1 7 1 135"/><path d="M1 121.5h122" stroke-dasharray="1 7 1 9 2 9 2 1 2 1 2 2 1 10 1 4 1 2 1 1 1 1 1 1 1 1 1 2 2 1 1 2 1 3 1 2 1 1 1 8 2 3 1 3 1 3 3 9 1 2 1 135"/><path d="M7 122.5h125" stroke-dasharray="1 1 2 1 1 1 1 6 1 7 2 2 1 1 1 4 1 5 1 3 1 9 1 1 1 1 1 1 2 6 1 15 1 1 2 4 1 1 1 4 1 4 1 2 1 4 1 4 1 2 1 4 1 135"/><path d="M2 123.5h129" stroke-dasharray="1 6 1 7 1 10 1 7 2 1 1 1 1 10 1 7 5 6 1 3 1 4 1 1 1 3 1 1 2 12 1 2 1 2 2 12 1 7 1 135"/><path d="M4 124.5h131" stroke-dasharray="1 12 1 6 2 11 1 4 2 4 1 1 1 4 1 4 1 2 1 1 3 1 2 2 2 6 2 5 3 9 1 8 1 2 1 6 1 4 1 2 1 1 1 4 1 135"/><path d="M5 125.5h128" stroke-dasharray="1 2 1 5 1 19 1 4 1 4 1 1 1 8 2 2 1 8 2 4 1 2 1 7 2 6 1 9 1 3 1 4 1 1 1 2 1 14 1 135"/><path d="M3 126.5h132" stroke-dasharray="1 6 3 6 1 2 1 4 1 8 1 4 1 4 3 12 1 7 1 1 1 2 1 5 1 5 1 2 1 4 1 10 1 2 1 10 2 6 1 4 3 135"/><path d="M1 127.5h133" stroke-dasharray="1 1 1 6 1 4 1 1 1 1 1 11 1 2 1 4 1 2 1 1 2 4 1 3 1 2 2 6 1 10 2 8 1 1 1 1 1 13 1 1 1 12 1 7 1 5 1 135"/><path d="M7 128.5h124" stroke-dasharray="1 1 1 1 1 1 1 6 1 2 1 7 1 1 1 5 1 16 1 7 1 1 2 2 1 13 2 1 2 6 1 1 2 5 3 7 1 1 1 3 1 1 1 7 1 135"/><path d="M1 129.5h133" stroke-dasharray="1 1 1 27 2 3 1 5 1 5 1 1 1 8 1 6 1 3 1 1 1 1 1 4 3 1 1 2 1 1 1 12 1 6 2 8 1 8 1 5 1 135"/><path d="M0 130.5h135" stroke-dasharray="3 11 1 6 1 8 1 8 1 1 1 4 2 3 1 4 1 1 2 1 2 11 1 2 1 17 1 5 1 1 1 2 1 9 1 10 1 6 1 135"/><path d="M1 131.5h126" stroke-dasharray="1 3 1 1 1 1 1 2 1 2 1 3 1 6 1 3 1 1 1 5 1 11 1 1 1 3 1 2 1 5 1 3 1 1 1 6 1 2 1 2 1 7 1 3 1 13 1 8 2 1 1 1 1 1 1 135"/><path d="M5 132.5h126" stroke-dasharray="1 6 1 2 1 4 1 9 1 1 1 6 2 4 1 1 1 5 2 2 4 7 1 4 1 4 1 4 1 3 2 3 1 8 1 7 1 1 1 1 1 2 1 6 1 4 3 135"/><path d="M9 133.5h119" stroke-dasharray="2 6 3 5 1 2 1 2 2 8 1 4 1 2 1 9 2 3 1 4 1 1 1 1 1 6 1 6 1 6 1 3 1 1 1 13 1 8 1 2 2 135"/><path d="M9 134.5h118" stroke-dasharray="1 24 3 1 1 4 1 3 1 5 1 2 1 1 2 2 3 15 1 1 1 1 2 3 1 12 1 11 1 6 1 4 1 135"/><path d="M7 135.5h123" stroke-dasharray="1 3 1 2 1 10 1 9 1 1 1 5 2 1 1 1 2 2 1 1 1 5 1 1 1 1 1 1 1 9 1 4 1 25 1 1 2 2 1 15 1 135"/><path d="M2 136.5h132" stroke-dasharray="1 1 1 2 1 4 1 3 1 3 1 20 1 9 1 3 1 5 1 13 1 8 1 3 1 6 1 5 1 2 1 11 1 14 1 1 1 135"/></g>
<g stroke="#7878ce" fill="none"><path d="M3 0.5h131" stroke-dasharray="1 4 1 2 1 5 1 4 1 10 1 2 1 15 1 2 1 6 1 24 1 29 1 6 1 8 1 135"/><path d="M4 1.5h129" stroke-dasharray="1 9 1 4 1 2 2 10 1 8 1 35 1 36 1 2 1 5 1 6 1 135"/><path d="M5 2.5h121" stroke-dasharray="1 17 1 4 1 15 1 37 1 8 1 1 2 9 1 2 1 17 1 135"/><path d="M8 3.5h125" stroke-dasharray="1 31 2 6 1 31 1 15 1 10 1 1 1 13 1 1 1 6 1 135"/><path d="M13 4.5h34" stroke-dasharray="1 5 1 8 1 15 1 1 1 135"/><path d="M31 5.5h69" stroke-dasharray="1 12 1 2 2 4 1 5 1 7 1 7 1 1 1 4 1 7 1 2 1 2 1 2 1 135"/><path d="M12 6.5h73" stroke-dasharray="1 60 1 2 1 7 1 135"/><path d="M3 7.5h126" stroke-dasharray="1 30 1 23 1 33 1 16 1 18 1 135"/><path d="M13 8.5h116" stroke-dasharray="1 59 1 7 1 1 1 14 1 9 1 7 1 9 1 1 1 135"/><path d="M3 9.5h123" stroke-dasharray="1 3 1 32 1 6 1 4 1 9 1 18 1 21 1 15 1 5 1 135"/><path d="M1 10.5h116" stroke-dasharray="1 16 1 32 1 3 1 20 1 12 1 9 1 16 1 135"/><path d="M3 11.5h131" stroke-dasharray="1 5 1 5 1 8 1 9 1 7 1 29 1 17 1 7 1 5 1 3 1 1 1 5 1 10 1 4 2 135"/><path d="M10 12.5h125" stroke-dasharray="1 21 1 6 1 40 1 8 1 1 1 8 1 7 1 2 1 1 2 13 1 1 1 3 1 135"/><path d="M0 13.5h120" stroke-dasharray="1 13 1 2 1 19 1 14 1 40 1 10 1 7 1 6 1 135"/><path d="M6 14.5h122" stroke-dasharray="1 19 2 36 1 8 1 8 2 5 1 4 1 2 1 17 1 11 1 135"/><path d="M1 15.5h127" stroke-dasharray="1 12 1 6 1 18 1 17 1 3 1 3 1 20 1 8 1 14 1 15 1 135"/><path d="M20 16.5h99" stroke-dasharray="1 10 1 27 2 9 1 5 1 15 1 10 1 7 1 6 1 135"/><path d="M17 17.5h117" stroke-dasharray="1 8 1 29 1 2 1 12 1 16 1 8 1 10 1 4 1 18 1 135"/><path d="M31 18.5h95" stroke-dasharray="1 4 1 7 1 9 1 13 1 25 2 14 1 11 1 2 1 135"/><path d="M2 19.5h125" stroke-dasharray="1 12 1 16 1 8 1 27 1 50 1 3 1 1 1 135"/><path d="M4 20.5h118" stroke-dasharray="1 15 1 17 1 11 1 10 1 14 1 3 1 1 1 13 1 24 1 135"/><path d="M16 21.5h98" stroke-dasharray="1 5 1 10 1 4 1 32 1 7 1 33 1 135"/><path d="M8 22.5h124" stroke-dasharray="1 3 1 25 1 2 1 7 1 23 1 19 1 1 1 16 1 10 1 4 1 2 1 135"/><path d="M20 23.5h115" stroke-dasharray="1 28 1 41 1 1 1 7 1 14 1 7 1 3 1 1 1 3 1 135"/><path d="M12 24.5h99" stroke-dasharray="1 34 1 2 1 2 1 3 1 5 1 6 1 1 1 7 1 18 1 10 1 135"/><path d="M5 25.5h130" stroke-dasharray="1 10 1 13 1 3 1 13 1 12 2 32 1 15 1 1 1 4 1 15 1 135"/><path d="M0 26.5h124" stroke-dasharray="1 6 1 5 1 14 1 12 1 3 1 3 1 29 1 5 1 12 1 2 1 21 1 135"/><path d="M14 27.5h117" stroke-dasharray="1 4 1 9 1 3 1 12 1 14 1 2 2 20 1 28 1 9 1 4 1 135"/><path d="M0 28.5h117" stroke-dasharray="1 34 1 36 1 1 1 12 1 6 1 12 1 8 1 135"/><path d="M13 29.5h122" stroke-dasharray="1 21 1 27 1 30 1 32 1 2 1 3 1 135"/><path d="M0 30.5h130" stroke-dasharray="1 21 1 7 1 4 1 13 1 11 2 4 1 6 1 10 2 4 1 6 1 13 1 10 1 4 2 135"/><path d="M75 31.5h55" stroke-dasharray="1 20 1 30 1 1 1 135"/><path d="M6 32.5h121" stroke-dasharray="1 63 1 10 1 6 1 1 1 25 1 9 1 135"/><path d="M20 33.5h115" stroke-dasharray="1 25 1 1 1 1 1 4 1 12 1 3 1 3 1 8 1 4 1 30 1 10 1 1 1 135"/><path d="M0 34.5h130" stroke-dasharray="1 2 1 12 1 5 1 57 1 5 1 10 1 4 1 26 1 135"/><path d="M9 35.5h121" stroke-dasharray="1 7 1 26 1 20 1 5 2 9 1 9 1 16 1 7 1 4 1 3 1 2 1 135"/><path d="M9 36.5h110" stroke-dasharray="2 3 1 47 1 29 1 22 1 2 1 135"/><path d="M6 37.5h126" stroke-dasharray="1 5 1 48 1 1 1 2 1 26 1 1 1 26 1 5 1 2 1 135"/><path d="M5 38.5h127" stroke-dasharray="1 6 1 6 1 3 1 45 1 10 1 7 1 4 1 13 1 6 1 7 1 8 1 135"/><path d="M38 39.5h64" stroke-dasharray="1 3 1 4 1 27 1 16 1 1 1 6 1 135"/><path d="M17 40.5h116" stroke-dasharray="1 28 1 19 1 2 1 37 1 16 1 7 1 135"/><path d="M37 41.5h90" stroke-dasharray="1 2 1 43 1 4 1 2 1 12 1 2 1 7 1 9 1 135"/><path d="M0 42.5h129" stroke-dasharray="1 30 1 17 1 4 1 35 1 29 1 4 1 2 1 135"/><path d="M31 43.5h103" stroke-dasharray="1 18 1 2 1 4 1 8 1 35 1 16 1 10 1 1 1 135"/><path d="M18 44.5h74" stroke-dasharray="1 41 1 30 1 135"/><path d="M8 45.5h119" stroke-dasharray="1 5 1 6 1 9 1 1 1 7 1 7 1 19 1 50 1 5 1 135"/><path d="M95 46.5h19" stroke-dasharray="1 1 1 11 1 3 1 135"/><path d="M2 47.5h133" stroke-dasharray="1 24 1 2 1 5 1 31 1 26 1 11 1 26 1 135"/><path d="M14 48.5h118" stroke-dasharray="1 16 1 20 1 4 1 26 1 45 2 135"/><path d="M18 49.5h116" stroke-dasharray="1 9 1 29 1 37 1 2 1 12 1 3 1 16 1 135"/><path d="M22 50.5h109" stroke-dasharray="1 8 1 5 1 13 1 38 1 4 1 4 1 16 1 12 1 135"/><path d="M7 51.5h87" stroke-dasharray="1 14 1 5 1 9 1 8 1 44 2 135"/><path d="M5 52.5h88" stroke-dasharray="1 9 1 17 1 3 1 24 1 3 1 25 1 135"/><path d="M21 53.5h102" stroke-dasharray="1 1 1 20 1 18 1 44 2 12 1 135"/><path d="M15 54.5h108" stroke-dasharray="1 47 1 49 1 8 1 135"/><path d="M2 55.5h114" stroke-dasharray="1 8 1 24 1 10 1 25 1 41 1 135"/><path d="M9 56.5h110" stroke-dasharray="2 4 1 3 1 1 1 23 1 9 1 17 1 28 1 4 1 10 1 135"/><path d="M7 57.5h128" stroke-dasharray="1 1 1 3 1 15 1 11 1 4 1 7 2 34 1 43 1 135"/><path d="M0 58.5h89" stroke-dasharray="1 38 1 11 1 36 1 135"/><path d="M6 59.5h114" stroke-dasharray="1 1 1 16 2 15 2 21 2 16 1 35 1 135"/><path d="M12 60.5h111" stroke-dasharray="1 11 1 19 1 2 1 12 1 33 1 15 1 10 2 135"/><path d="M36 61.5h83" stroke-dasharray="1 6 1 74 1 135"/><path d="M15 62.5h99" stroke-dasharray="1 6 1 1 1 29 1 24 1 4 1 24 1 3 1 135"/><path d="M7 63.5h114" stroke-dasharray="2 3 2 22 1 9 1 3 1 3 3 5 1 57 1 135"/><path d="M3 64.5h117" stroke-dasharray="1 9 1 14 1 14 1 3 1 3 1 10 1 26 1 15 1 13 1 135"/><path d="M3 65.5h126" stroke-dasharray="1 36 1 9 1 9 1 34 1 2 1 13 1 15 1 135"/><path d="M3 66.5h120" stroke-dasharray="1 4 1 2 1 7 1 7 1 69 1 8 1 5 1 9 1 135"/><path d="M11 67.5h86" stroke-dasharray="1 21 1 10 1 41 1 9 1 135"/><path d="M10 68.5h116" stroke-dasharray="1 5 2 3 1 10 1 15 1 19 1 41 1 13 2 135"/><path d="M24 69.5h107" stroke-dasharray="1 14 1 30 1 28 1 5 1 18 1 5 1 135"/><path d="M8 70.5h113" stroke-dasharray="1 33 1 5 1 14 1 13 1 8 2 32 1 135"/><path d="M25 71.5h110" stroke-dasharray="1 15 1 16 1 2 1 14 1 33 1 5 1 10 1 2 1 3 1 135"/><path d="M1 72.5h73" stroke-dasharray="1 42 1 28 1 135"/><path d="M15 73.5h107" stroke-dasharray="1 48 1 9 1 4 1 2 1 5 2 9 1 15 1 5 1 135"/><path d="M13 74.5h111" stroke-dasharray="1 26 3 16 2 23 1 19 1 8 1 9 1 135"/><path d="M20 75.5h89" stroke-dasharray="1 2 1 27 1 31 1 21 2 1 1 135"/><path d="M5 76.5h124" stroke-dasharray="1 42 1 2 1 18 1 21 1 31 1 3 1 135"/><path d="M4 77.5h130" stroke-dasharray="1 18 1 9 1 3 1 33 1 34 1 24 1 1 1 135"/><path d="M16 78.5h117" stroke-dasharray="1 1 1 15 1 2 1 2 2 11 1 1 1 13 1 27 1 11 1 19 1 2 1 135"/><path d="M0 79.5h105" stroke-dasharray="1 2 2 29 1 23 1 8 1 1 1 19 1 6 2 6 1 135"/><path d="M10 80.5h121" stroke-dasharray="1 7 1 3 1 43 1 2 1 32 1 11 1 15 1 135"/><path d="M4 81.5h111" stroke-dasharray="1 5 1 11 1 7 1 3 1 17 1 48 1 4 2 6 1 135"/><path d="M1 82.5h42" stroke-dasharray="1 7 1 32 1 135"/><path d="M11 83.5h123" stroke-dasharray="1 32 1 4 1 36 1 14 1 2 1 14 1 13 1 135"/><path d="M35 84.5h99" stroke-dasharray="1 2 1 1 1 27 1 5 1 4 1 35 1 17 1 135"/><path d="M25 85.5h80" stroke-dasharray="1 26 1 11 1 38 2 135"/><path d="M18 86.5h82" stroke-dasharray="1 38 1 11 1 3 1 25 1 135"/><path d="M14 87.5h116" stroke-dasharray="1 22 2 10 1 9 1 33 1 35 1 135"/><path d="M9 88.5h126" stroke-dasharray="1 44 2 10 2 5 1 17 2 5 1 12 2 21 1 135"/><path d="M30 89.5h89" stroke-dasharray="1 40 1 2 1 11 1 31 1 135"/><path d="M12 90.5h99" stroke-dasharray="1 1 1 9 1 23 1 1 1 33 2 13 1 10 1 135"/><path d="M10 91.5h102" stroke-dasharray="1 10 1 9 1 34 2 30 1 12 1 135"/><path d="M23 92.5h96" stroke-dasharray="1 7 1 3 1 72 1 9 1 135"/><path d="M0 93.5h132" stroke-dasharray="1 28 1 24 1 1 1 20 1 1 1 28 1 22 1 135"/><path d="M35 94.5h85" stroke-dasharray="1 23 1 14 1 10 1 1 1 19 1 4 1 6 1 135"/><path d="M11 95.5h104" stroke-dasharray="2 2 1 13 1 2 1 44 1 1 1 6 2 2 1 5 1 6 1 10 1 135"/><path d="M3 96.5h84" stroke-dasharray="1 3 1 1 1 67 2 1 1 5 1 135"/><path d="M3 97.5h122" stroke-dasharray="1 58 1 5 1 16 1 1 1 3 1 11 1 8 1 2 1 8 1 135"/><path d="M2 98.5h132" stroke-dasharray="1 13 1 19 1 10 1 8 1 1 1 2 2 18 1 1 1 17 1 1 1 1 1 17 1 9 1 135"/><path d="M4 99.5h116" stroke-dasharray="1 11 1 9 1 32 1 20 1 5 2 3 1 2 1 13 1 10 1 135"/><path d="M6 100.5h115" stroke-dasharray="1 6 1 32 1 12 1 2 2 52 1 3 1 135"/><path d="M5 101.5h117" stroke-dasharray="2 4 1 7 2 4 1 39 1 1 1 1 1 6 2 2 1 5 1 34 1 135"/><path d="M27 102.5h83" stroke-dasharray="1 22 1 18 1 8 1 30 1 135"/><path d="M23 103.5h83" stroke-dasharray="1 2 2 31 1 11 1 11 1 21 1 135"/><path d="M4 104.5h103" stroke-dasharray="1 16 1 46 1 24 1 12 1 135"/><path d="M5 105.5h123" stroke-dasharray="1 7 1 5 1 15 1 25 1 28 1 4 1 2 1 13 1 3 1 10 1 135"/><path d="M10 106.5h77" stroke-dasharray="1 2 1 9 1 6 1 18 2 25 1 9 1 135"/><path d="M14 107.5h112" stroke-dasharray="1 36 1 12 1 10 1 14 1 24 1 9 1 135"/><path d="M2 108.5h113" stroke-dasharray="1 22 1 49 2 1 1 14 1 5 1 10 1 3 1 135"/><path d="M1 109.5h123" stroke-dasharray="1 15 1 21 1 20 1 55 1 6 1 135"/><path d="M6 110.5h92" stroke-dasharray="1 33 1 1 1 13 1 10 1 22 1 6 1 135"/><path d="M4 111.5h121" stroke-dasharray="1 18 1 7 1 7 1 12 1 9 1 5 1 1 1 5 1 1 1 1 1 35 1 7 1 135"/><path d="M24 112.5h110" stroke-dasharray="1 6 2 7 1 3 1 4 2 12 1 5 2 10 1 10 1 40 1 135"/><path d="M13 113.5h117" stroke-dasharray="1 15 1 29 1 18 1 7 1 20 1 10 1 10 1 135"/><path d="M16 114.5h104" stroke-dasharray="2 29 1 9 1 11 1 8 1 2 1 8 1 11 1 16 1 135"/><path d="M18 115.5h81" stroke-dasharray="1 20 1 12 1 31 1 3 1 9 1 135"/><path d="M5 116.5h122" stroke-dasharray="1 32 1 30 1 17 1 8 1 8 1 4 1 12 1 2 1 135"/><path d="M9 117.5h114" stroke-dasharray="1 19 1 26 1 11 1 5 1 7 1 12 1 15 1 10 1 135"/><path d="M6 118.5h108" stroke-dasharray="1 3 1 5 1 8 1 28 1 11 1 7 1 6 1 2 1 12 1 2 1 12 1 135"/><path d="M7 119.5h113" stroke-dasharray="1 5 1 2 1 22 1 7 1 40 1 9 1 20 1 135"/><path d="M9 120.5h118" stroke-dasharray="1 15 1 5 1 12 1 14 1 8 1 18 2 7 1 6 2 12 1 2 1 3 1 1 1 135"/><path d="M3 121.5h127" stroke-dasharray="1 14 1 8 1 16 1 5 1 15 1 7 1 21 1 9 1 22 1 135"/><path d="M2 122.5h128" stroke-dasharray="1 46 1 6 1 18 3 26 1 3 1 16 1 3 1 135"/><path d="M4 123.5h109" stroke-dasharray="1 3 1 16 1 18 1 3 1 7 1 26 1 26 1 1 1 135"/><path d="M13 124.5h65" stroke-dasharray="1 9 1 9 1 6 1 6 1 4 1 1 1 7 1 1 1 7 1 4 1 135"/><path d="M18 125.5h114" stroke-dasharray="1 5 1 15 1 2 1 3 1 3 2 20 1 9 1 10 1 20 1 10 1 4 1 135"/><path d="M7 126.5h125" stroke-dasharray="1 5 1 16 1 24 1 34 1 13 1 10 1 8 2 5 1 135"/><path d="M2 127.5h125" stroke-dasharray="1 3 1 2 1 10 1 16 1 11 1 12 1 15 1 18 1 16 1 10 2 135"/><path d="M3 128.5h129" stroke-dasharray="1 36 1 2 1 27 1 11 1 10 1 17 1 18 1 135"/><path d="M8 129.5h116" stroke-dasharray="1 11 1 5 1 7 1 22 2 12 1 38 1 2 1 9 1 135"/><path d="M31 130.5h103" stroke-dasharray="2 1 1 5 1 3 1 8 1 35 2 24 1 5 2 10 1 135"/><path d="M8 131.5h127" stroke-dasharray="1 5 1 6 1 11 1 1 1 10 1 17 1 10 1 10 1 8 1 13 1 24 1 135"/><path d="M9 132.5h106" stroke-dasharray="1 38 2 17 1 13 1 2 1 19 1 9 1 135"/><path d="M29 133.5h97" stroke-dasharray="1 31 2 19 1 1 1 37 1 2 1 135"/><path d="M17 134.5h113" stroke-dasharray="1 30 1 34 1 7 1 25 1 10 2 135"/><path d="M1 135.5h116" stroke-dasharray="2 31 1 5 1 9 1 2 1 13 1 4 1 13 1 10 1 6 1 1 1 9 1 135"/><path d="M58 136.5h68" stroke-dasharray="2 3 1 1 1 7 1 9 1 23 1 2 1 8 1 5 1 135"/></g>
<g stroke="#a5a2de" fill="none"><path d="M5 0.5h119" stroke-dasharray="2 3 1 7 1 19 1 5 1 1 2 8 1 4 1 4 1 4 1 6 1 10 1 7 1 4 1 6 1 13 1 135"/><path d="M2 1.5h132" stroke-dasharray="1 28 1 3 1 12 1 1 1 1 1 4 1 10 1 19 1 9 1 24 2 5 1 2 1 135"/><path d="M0 2.5h110" stroke-dasharray="1 9 1 1 1 1 1 9 1 27 1 1 1 1 1 7 2 1 1 20 1 19 2 135"/><path d="M1 3.5h131" stroke-dasharray="1 7 1 1 1 2 1 12 1 3 1 22 1 8 1 4 2 8 2 2 1 5 1 1 1 11 1 1 1 1 1 3 4 2 1 14 1 135"/><path d="M24 4.5h103" stroke-dasharray="1 9 2 2 1 2 1 3 1 5 1 4 1 21 1 7 1 7 1 2 1 1 2 14 1 6 1 1 3 135"/><path d="M21 5.5h110" stroke-dasharray="2 15 1 12 1 4 1 1 1 14 1 4 1 5 1 9 2 2 1 6 1 2 1 3 2 1 1 5 2 2 1 4 1 135"/><path d="M7 6.5h123" stroke-dasharray="1 3 1 11 2 3 1 13 1 1 1 5 1 18 1 1 1 2 1 20 1 8 1 17 1 4 1 1 1 135"/><path d="M18 7.5h116" stroke-dasharray="1 3 1 13 1 34 2 3 2 4 1 18 1 31 1 135"/><path d="M8 8.5h122" stroke-dasharray="1 10 1 19 1 6 4 8 1 2 1 4 1 7 1 2 1 11 2 9 1 4 1 14 1 8 1 135"/><path d="M1 9.5h132" stroke-dasharray="2 16 1 3 2 1 1 5 1 13 1 13 1 4 1 22 1 8 1 4 1 6 1 2 1 8 1 10 1 135"/><path d="M3 10.5h132" stroke-dasharray="2 15 1 2 1 1 1 2 1 7 1 7 1 2 2 7 1 18 1 2 2 7 2 17 1 4 1 13 1 2 1 1 1 3 1 135"/><path d="M4 11.5h123" stroke-dasharray="1 2 1 5 1 4 1 3 1 17 1 18 1 4 1 10 1 12 1 2 1 5 1 21 2 2 1 1 2 135"/><path d="M41 12.5h84" stroke-dasharray="2 5 1 9 1 5 1 42 1 13 2 1 1 135"/><path d="M1 13.5h130" stroke-dasharray="2 1 1 2 2 1 1 2 1 6 1 21 1 11 2 2 1 4 1 7 1 1 2 17 1 2 2 3 3 20 1 6 1 135"/><path d="M21 14.5h114" stroke-dasharray="2 30 2 7 2 3 1 9 1 18 1 2 1 1 1 3 2 7 1 3 1 6 1 3 1 4 1 135"/><path d="M8 15.5h123" stroke-dasharray="1 2 1 4 1 9 1 5 1 13 1 20 1 2 1 9 1 4 1 11 2 2 1 3 1 4 1 2 2 1 1 13 1 135"/><path d="M7 16.5h124" stroke-dasharray="2 5 1 30 2 1 1 2 1 6 1 6 1 2 1 3 2 4 2 2 2 9 1 2 1 4 1 2 2 9 2 4 1 2 1 1 1 3 1 135"/><path d="M7 17.5h119" stroke-dasharray="1 13 1 5 1 4 1 1 1 14 1 10 1 5 1 9 1 5 1 5 1 1 1 19 1 14 1 135"/><path d="M29 18.5h102" stroke-dasharray="1 26 1 3 1 1 1 9 1 10 1 29 1 2 1 2 2 5 2 2 1 135"/><path d="M5 19.5h113" stroke-dasharray="1 27 1 23 1 3 1 10 1 17 1 4 2 4 1 11 1 1 3 135"/><path d="M1 20.5h128" stroke-dasharray="3 18 1 8 1 8 1 4 1 10 1 16 2 2 1 6 1 2 1 9 1 6 1 4 1 4 1 8 1 4 1 135"/><path d="M15 21.5h119" stroke-dasharray="1 16 1 18 1 4 2 1 2 13 1 11 1 1 1 1 1 18 1 4 1 6 3 5 1 3 1 135"/><path d="M11 22.5h124" stroke-dasharray="1 30 2 9 1 1 2 1 2 25 2 4 2 4 1 9 2 1 2 5 1 2 3 7 1 1 1 1 1 135"/><path d="M5 23.5h110" stroke-dasharray="1 6 1 11 1 2 1 8 1 23 1 1 2 6 1 1 1 6 1 2 1 2 1 3 1 2 1 1 1 1 1 10 1 6 1 135"/><path d="M1 24.5h128" stroke-dasharray="1 6 1 5 1 4 1 7 1 5 1 1 1 5 1 7 1 2 1 2 1 15 1 6 1 6 1 2 1 1 1 5 1 12 1 14 1 3 1 135"/><path d="M14 25.5h116" stroke-dasharray="1 18 1 9 2 30 1 7 1 3 1 1 2 11 2 10 1 14 1 135"/><path d="M6 26.5h126" stroke-dasharray="1 25 1 25 1 3 2 1 1 1 1 3 1 10 1 6 1 25 1 9 1 1 1 2 2 135"/><path d="M13 27.5h115" stroke-dasharray="1 4 1 8 1 4 1 38 1 8 1 2 2 5 2 3 1 4 1 23 1 1 2 135"/><path d="M29 28.5h106" stroke-dasharray="1 8 1 8 1 15 1 6 1 4 1 7 1 9 1 6 1 1 2 19 1 10 1 135"/><path d="M1 29.5h122" stroke-dasharray="2 6 1 11 1 1 1 7 1 2 1 33 1 1 1 29 1 8 1 6 1 5 1 135"/><path d="M13 30.5h110" stroke-dasharray="1 29 2 10 1 1 1 7 1 4 1 29 1 7 1 4 2 7 1 135"/><path d="M49 31.5h86" stroke-dasharray="1 15 2 5 1 5 2 4 1 33 1 5 1 9 1 135"/><path d="M9 32.5h125" stroke-dasharray="1 25 1 6 1 29 1 5 1 5 1 14 1 5 1 11 1 13 1 1 1 135"/><path d="M0 33.5h132" stroke-dasharray="1 1 2 4 1 12 1 9 1 10 1 2 1 27 1 4 1 10 1 5 1 3 1 11 1 3 1 1 1 5 1 7 1 135"/><path d="M39 34.5h85" stroke-dasharray="1 18 1 7 1 14 2 11 1 5 1 5 2 15 1 135"/><path d="M21 35.5h95" stroke-dasharray="1 3 1 38 1 16 1 2 2 8 1 2 1 2 1 14 1 135"/><path d="M13 36.5h109" stroke-dasharray="1 3 1 1 2 13 1 13 1 2 2 31 1 1 1 4 1 7 1 1 1 10 1 8 1 135"/><path d="M0 37.5h135" stroke-dasharray="1 8 1 5 1 12 1 2 3 13 1 1 1 10 1 24 2 2 1 12 1 27 1 3 1 135"/><path d="M4 38.5h131" stroke-dasharray="1 10 1 14 1 20 1 47 1 3 1 2 1 12 1 6 1 7 1 135"/><path d="M3 39.5h113" stroke-dasharray="1 15 1 2 1 61 2 9 1 19 1 135"/><path d="M10 40.5h116" stroke-dasharray="1 7 1 3 1 5 1 4 1 1 1 4 1 8 1 5 2 4 1 6 1 11 1 16 1 6 1 1 1 5 1 1 1 10 1 135"/><path d="M0 41.5h129" stroke-dasharray="1 6 1 2 2 5 1 1 1 12 1 2 1 15 1 10 1 12 1 25 2 4 1 11 1 8 1 135"/><path d="M3 42.5h131" stroke-dasharray="1 8 1 6 1 9 1 23 1 3 1 8 1 5 1 7 1 1 1 6 1 5 1 1 1 35 1 135"/><path d="M4 43.5h131" stroke-dasharray="1 1 1 6 2 33 1 19 1 2 1 5 1 1 2 13 2 34 1 3 1 135"/><path d="M11 44.5h122" stroke-dasharray="1 1 1 2 1 10 1 10 1 7 1 9 1 11 1 18 1 16 1 7 2 17 2 135"/><path d="M4 45.5h131" stroke-dasharray="2 64 1 11 1 2 3 1 1 20 1 5 1 13 2 2 1 135"/><path d="M5 46.5h124" stroke-dasharray="1 2 1 19 1 24 1 2 1 10 1 13 2 5 1 39 1 135"/><path d="M14 47.5h117" stroke-dasharray="3 11 1 15 1 4 1 17 1 6 1 55 1 135"/><path d="M10 48.5h125" stroke-dasharray="1 27 1 6 2 18 1 9 3 13 1 12 1 4 1 3 1 3 1 14 1 1 1 135"/><path d="M0 49.5h132" stroke-dasharray="1 4 1 2 1 2 1 1 1 5 1 17 1 4 1 6 1 10 1 18 1 12 1 5 1 6 1 8 1 16 1 135"/><path d="M1 50.5h120" stroke-dasharray="1 5 1 8 1 1 1 5 1 39 1 19 1 1 1 28 1 3 2 135"/><path d="M9 51.5h112" stroke-dasharray="1 7 1 1 1 20 1 23 1 52 1 2 1 135"/><path d="M39 52.5h71" stroke-dasharray="1 32 1 20 1 1 1 1 2 1 1 6 1 1 1 135"/><path d="M5 53.5h94" stroke-dasharray="1 10 1 9 1 4 1 3 1 20 1 15 1 10 1 6 2 3 1 2 1 135"/><path d="M7 54.5h128" stroke-dasharray="1 4 1 1 1 2 1 54 1 3 1 11 1 6 1 18 1 5 1 13 1 135"/><path d="M5 55.5h122" stroke-dasharray="1 19 1 46 1 12 1 38 1 1 1 135"/><path d="M4 56.5h123" stroke-dasharray="1 7 1 18 2 20 1 2 1 6 1 31 1 30 1 135"/><path d="M4 57.5h126" stroke-dasharray="1 6 1 20 1 2 1 13 1 2 1 11 1 3 1 6 1 31 1 1 1 7 1 11 1 135"/><path d="M7 58.5h112" stroke-dasharray="1 11 1 28 1 6 1 43 1 18 1 135"/><path d="M5 59.5h113" stroke-dasharray="1 15 1 32 1 2 1 2 1 29 1 10 1 15 1 135"/><path d="M1 60.5h133" stroke-dasharray="1 8 1 21 1 16 1 27 3 1 1 51 1 135"/><path d="M35 61.5h94" stroke-dasharray="1 5 1 4 1 4 1 3 1 24 1 33 1 13 1 135"/><path d="M2 62.5h109" stroke-dasharray="1 8 2 4 1 5 1 11 1 6 1 7 2 11 3 27 1 16 1 135"/><path d="M14 63.5h97" stroke-dasharray="1 3 1 1 2 16 1 56 1 4 1 9 1 135"/><path d="M7 64.5h107" stroke-dasharray="1 14 1 8 1 3 1 20 1 55 2 135"/><path d="M2 65.5h120" stroke-dasharray="1 10 1 19 1 13 1 6 1 8 2 4 1 5 1 42 1 2 1 135"/><path d="M14 66.5h101" stroke-dasharray="1 35 1 5 2 6 1 10 1 2 1 1 1 6 1 10 2 14 1 135"/><path d="M1 67.5h125" stroke-dasharray="1 7 1 11 1 13 1 4 1 31 1 52 1 135"/><path d="M8 68.5h115" stroke-dasharray="1 13 1 23 1 4 1 8 1 1 1 28 1 30 1 135"/><path d="M7 69.5h121" stroke-dasharray="1 3 1 6 1 37 1 1 1 21 1 2 1 3 1 25 1 11 3 135"/><path d="M0 70.5h125" stroke-dasharray="1 13 1 12 2 9 1 5 1 8 1 8 1 1 1 8 1 22 2 26 1 135"/><path d="M4 71.5h130" stroke-dasharray="1 21 1 8 1 8 1 9 1 25 1 15 1 12 1 23 1 135"/><path d="M17 72.5h116" stroke-dasharray="1 1 3 4 3 17 1 9 2 3 1 8 1 7 4 14 1 15 1 14 1 4 1 135"/><path d="M5 73.5h99" stroke-dasharray="2 1 2 4 1 4 1 3 1 15 1 1 2 25 2 1 1 11 1 7 1 10 2 135"/><path d="M20 74.5h115" stroke-dasharray="1 33 2 26 2 6 1 5 1 4 1 27 2 3 1 135"/><path d="M10 75.5h121" stroke-dasharray="1 17 1 20 1 17 2 22 2 1 2 18 2 10 2 2 1 135"/><path d="M8 76.5h123" stroke-dasharray="1 3 1 13 1 12 1 6 1 44 1 33 1 1 1 2 1 135"/><path d="M15 77.5h101" stroke-dasharray="1 14 1 36 1 6 1 29 1 3 1 6 1 135"/><path d="M7 78.5h128" stroke-dasharray="2 22 2 14 1 6 1 33 1 15 1 11 1 8 2 7 1 135"/><path d="M15 79.5h108" stroke-dasharray="1 19 3 14 1 10 2 18 2 6 1 14 1 15 1 135"/><path d="M19 80.5h116" stroke-dasharray="1 5 1 7 1 3 1 17 1 6 1 16 2 5 1 3 1 10 1 13 1 16 1 1 1 135"/><path d="M11 81.5h122" stroke-dasharray="1 13 1 3 1 9 1 7 1 14 1 8 1 15 1 6 1 5 1 18 1 12 1 135"/><path d="M5 82.5h109" stroke-dasharray="1 2 1 10 1 28 1 4 1 33 1 5 1 15 1 3 1 135"/><path d="M5 83.5h103" stroke-dasharray="1 11 1 1 1 14 3 26 1 7 1 3 1 6 2 1 1 6 1 14 1 135"/><path d="M6 84.5h100" stroke-dasharray="2 1 1 16 1 1 1 29 1 11 1 9 1 11 1 1 1 7 1 2 1 135"/><path d="M0 85.5h131" stroke-dasharray="1 1 1 3 1 15 1 19 1 3 2 18 1 41 1 4 1 16 1 135"/><path d="M3 86.5h125" stroke-dasharray="1 2 1 3 1 6 1 9 1 13 1 24 1 12 1 4 1 4 1 5 1 27 1 3 1 135"/><path d="M4 87.5h122" stroke-dasharray="1 3 1 14 1 16 1 13 1 14 1 4 1 9 1 4 1 2 1 12 1 19 1 135"/><path d="M12 88.5h86" stroke-dasharray="1 3 1 2 1 26 1 4 2 7 1 20 1 5 1 1 1 4 1 2 1 135"/><path d="M0 89.5h129" stroke-dasharray="1 6 2 40 1 37 1 1 1 19 1 7 1 3 1 6 1 135"/><path d="M6 90.5h122" stroke-dasharray="1 4 1 1 1 1 1 15 1 2 1 8 1 3 1 3 1 5 1 8 2 3 1 20 1 24 1 2 1 6 1 135"/><path d="M9 91.5h122" stroke-dasharray="1 2 1 4 1 7 1 10 1 8 1 3 2 28 1 11 1 2 1 2 1 3 1 15 1 2 1 7 1 1 1 135"/><path d="M1 92.5h133" stroke-dasharray="1 15 1 14 1 5 1 11 1 9 1 3 1 22 1 16 1 25 1 1 2 135"/><path d="M12 93.5h114" stroke-dasharray="1 4 1 6 1 17 1 17 1 14 1 10 1 3 1 1 1 5 1 4 1 21 1 135"/><path d="M2 94.5h132" stroke-dasharray="1 12 1 1 1 12 1 7 1 30 1 27 1 5 2 28 1 135"/><path d="M13 95.5h96" stroke-dasharray="1 8 2 13 1 10 1 17 1 17 1 3 2 18 1 135"/><path d="M25 96.5h98" stroke-dasharray="1 37 1 47 1 10 1 135"/><path d="M23 97.5h111" stroke-dasharray="2 11 1 9 3 31 1 25 1 10 1 9 1 5 1 135"/><path d="M7 98.5h124" stroke-dasharray="1 14 1 1 1 12 1 5 1 4 1 4 1 10 1 4 1 19 1 40 1 135"/><path d="M47 99.5h80" stroke-dasharray="1 20 1 9 1 18 1 1 1 22 1 3 1 135"/><path d="M23 100.5h112" stroke-dasharray="1 13 2 4 1 26 1 2 1 3 1 16 1 4 1 13 1 1 1 10 1 7 1 135"/><path d="M23 101.5h109" stroke-dasharray="1 26 1 6 1 41 1 6 1 2 1 4 1 16 1 135"/><path d="M0 102.5h132" stroke-dasharray="1 3 2 6 2 4 3 10 1 4 1 4 1 5 1 27 1 14 1 26 2 12 1 135"/><path d="M0 103.5h129" stroke-dasharray="2 1 2 2 2 13 1 49 1 23 1 14 1 6 1 2 1 6 1 135"/><path d="M3 104.5h131" stroke-dasharray="1 3 1 16 1 15 1 9 1 37 1 6 1 1 1 5 1 14 2 13 1 135"/><path d="M11 105.5h107" stroke-dasharray="1 33 1 4 1 20 1 9 1 2 1 3 1 28 1 135"/><path d="M4 106.5h127" stroke-dasharray="1 4 1 2 1 4 1 3 1 3 2 9 1 1 1 5 1 7 1 35 2 2 2 1 1 7 1 20 1 2 1 2 1 135"/><path d="M12 107.5h123" stroke-dasharray="2 13 1 3 2 1 1 9 1 8 1 5 1 10 1 16 1 9 1 25 1 10 1 135"/><path d="M4 108.5h120" stroke-dasharray="1 19 1 4 1 4 1 11 1 8 1 13 1 9 1 3 1 1 2 22 1 1 1 3 1 7 1 135"/><path d="M12 109.5h122" stroke-dasharray="1 1 1 7 2 21 2 18 1 6 1 45 1 10 1 3 1 135"/><path d="M10 110.5h124" stroke-dasharray="1 3 1 5 1 1 2 8 2 12 1 12 1 43 1 29 1 135"/><path d="M3 111.5h131" stroke-dasharray="1 1 1 16 1 9 1 2 3 8 2 21 1 32 1 10 2 17 2 135"/><path d="M15 112.5h113" stroke-dasharray="1 7 1 17 2 2 1 6 1 7 1 19 1 32 1 8 1 4 1 135"/><path d="M41 113.5h77" stroke-dasharray="1 13 1 32 1 11 1 16 1 135"/><path d="M9 114.5h105" stroke-dasharray="1 12 2 9 1 10 1 6 1 61 1 135"/><path d="M1 115.5h111" stroke-dasharray="1 3 1 3 1 40 1 9 2 32 1 6 1 9 1 135"/><path d="M6 116.5h127" stroke-dasharray="1 4 1 15 1 14 2 32 1 20 1 4 1 29 1 135"/><path d="M4 117.5h121" stroke-dasharray="1 2 2 26 1 9 2 41 1 3 2 19 2 1 2 6 1 135"/><path d="M3 118.5h129" stroke-dasharray="2 3 1 2 2 15 1 38 1 23 3 2 1 12 1 9 1 11 1 135"/><path d="M3 119.5h127" stroke-dasharray="1 25 2 2 1 1 1 1 1 12 2 15 1 25 1 7 1 5 1 3 1 3 2 6 1 5 1 135"/><path d="M15 120.5h119" stroke-dasharray="1 13 1 20 1 2 1 1 1 53 1 6 1 14 1 1 1 135"/><path d="M6 121.5h109" stroke-dasharray="1 17 1 16 1 42 1 2 1 1 1 12 1 11 1 135"/><path d="M6 122.5h101" stroke-dasharray="1 6 1 2 1 1 1 3 2 27 1 9 1 24 1 1 1 5 2 3 1 2 2 2 1 135"/><path d="M1 123.5h129" stroke-dasharray="1 4 2 8 1 9 1 30 1 10 1 23 1 18 1 9 1 7 1 135"/><path d="M1 124.5h132" stroke-dasharray="1 7 1 5 2 17 1 3 1 55 2 9 1 8 1 17 1 135"/><path d="M0 125.5h124" stroke-dasharray="3 6 1 1 1 4 2 17 1 34 1 10 1 2 1 33 1 4 1 135"/><path d="M0 126.5h115" stroke-dasharray="1 20 1 3 1 3 1 4 2 31 2 14 1 30 1 135"/><path d="M0 127.5h113" stroke-dasharray="1 3 1 11 1 7 1 3 1 30 1 25 1 9 1 4 1 4 1 5 2 135"/><path d="M15 128.5h95" stroke-dasharray="1 5 1 26 1 19 1 31 1 8 1 135"/><path d="M6 129.5h125" stroke-dasharray="1 38 1 22 1 33 1 4 1 3 1 13 1 4 1 135"/><path d="M6 130.5h115" stroke-dasharray="1 2 1 27 2 3 1 36 2 10 1 10 1 17 1 135"/><path d="M2 131.5h122" stroke-dasharray="1 10 1 10 1 16 2 31 1 16 1 5 1 1 1 1 1 5 1 7 1 7 1 135"/><path d="M10 132.5h118" stroke-dasharray="1 6 2 6 1 10 1 13 1 23 1 4 1 27 1 19 1 135"/><path d="M0 133.5h135" stroke-dasharray="1 6 1 4 1 3 1 10 1 7 1 4 1 6 1 20 1 24 1 1 1 9 1 1 1 9 1 16 1 135"/><path d="M20 134.5h100" stroke-dasharray="1 39 1 7 2 6 1 2 1 10 1 6 1 17 1 2 2 135"/><path d="M6 135.5h85" stroke-dasharray="1 9 1 6 1 21 1 10 2 21 1 7 1 1 2 135"/><path d="M21 136.5h102" stroke-dasharray="1 2 1 2 1 8 1 23 1 3 1 2 1 9 3 29 1 1 1 10 1 135"/></g>
<g stroke="#dad6f2" fill="none"><path d="M4 0.5h118" stroke-dasharray="1 34 1 25 1 6 1 2 1 12 1 2 1 6 1 11 1 4 1 5 1 135"/><path d="M0 1.5h123" stroke-dasharray="1 10 1 17 1 24 2 24 1 8 1 19 1 1 1 10 1 135"/><path d="M11 2.5h112" stroke-dasharray="1 18 1 18 1 13 1 54 1 3 1 135"/><path d="M10 3.5h96" stroke-dasharray="1 32 1 7 2 38 1 1 1 11 1 135"/><path d="M10 4.5h103" stroke-dasharray="1 11 1 31 1 19 1 1 1 16 1 4 1 9 1 1 1 1 1 135"/><path d="M5 5.5h116" stroke-dasharray="1 31 1 19 1 12 1 40 1 7 2 135"/><path d="M1 6.5h124" stroke-dasharray="1 41 1 2 1 14 1 15 1 18 1 6 1 15 1 3 2 135"/><path d="M2 7.5h126" stroke-dasharray="1 11 1 4 2 2 1 20 1 16 1 16 1 24 1 14 1 3 1 4 1 135"/><path d="M17 8.5h117" stroke-dasharray="1 5 1 3 1 37 1 26 3 15 1 14 1 7 1 135"/><path d="M0 9.5h114" stroke-dasharray="1 24 1 1 2 24 1 2 1 2 1 16 1 6 1 26 1 2 1 135"/><path d="M2 10.5h125" stroke-dasharray="1 8 1 14 1 4 1 13 1 13 1 34 1 17 1 4 1 1 1 4 1 1 1 135"/><path d="M11 11.5h121" stroke-dasharray="1 20 1 3 1 11 2 6 2 3 2 7 1 7 1 8 1 5 1 17 1 5 2 12 1 135"/><path d="M6 12.5h114" stroke-dasharray="1 29 1 13 1 5 1 3 1 17 1 4 1 8 1 26 1 135"/><path d="M3 13.5h129" stroke-dasharray="1 40 1 15 1 1 1 4 1 10 1 9 1 9 1 9 1 5 2 8 1 6 1 135"/><path d="M17 14.5h79" stroke-dasharray="1 56 1 13 1 6 1 135"/><path d="M71 15.5h59" stroke-dasharray="1 1 1 12 1 1 1 26 1 5 1 7 1 135"/><path d="M15 16.5h105" stroke-dasharray="1 21 1 29 1 26 1 7 1 11 1 4 1 135"/><path d="M42 17.5h90" stroke-dasharray="1 19 1 23 1 39 1 4 1 135"/><path d="M6 18.5h113" stroke-dasharray="1 34 1 23 1 3 1 12 1 1 1 4 1 9 1 1 1 16 1 135"/><path d="M6 19.5h129" stroke-dasharray="1 58 1 15 1 24 1 26 2 135"/><path d="M6 20.5h124" stroke-dasharray="1 14 1 7 1 11 1 22 1 35 1 7 1 16 1 3 1 135"/><path d="M19 21.5h116" stroke-dasharray="1 22 1 4 1 2 1 14 1 2 2 40 1 4 1 3 1 14 1 135"/><path d="M5 22.5h115" stroke-dasharray="1 76 1 36 1 135"/><path d="M25 23.5h84" stroke-dasharray="1 9 1 9 1 2 1 29 1 24 1 4 1 135"/><path d="M23 24.5h107" stroke-dasharray="1 58 2 8 1 1 1 8 1 4 1 20 1 135"/><path d="M0 25.5h102" stroke-dasharray="1 17 1 2 1 19 1 59 1 135"/><path d="M10 26.5h93" stroke-dasharray="2 54 1 19 1 1 1 13 1 135"/><path d="M54 27.5h64" stroke-dasharray="1 47 1 14 1 135"/><path d="M24 28.5h98" stroke-dasharray="1 3 1 3 1 23 1 12 1 18 1 12 1 19 1 135"/><path d="M48 29.5h30" stroke-dasharray="1 5 2 19 1 1 1 135"/><path d="M3 30.5h124" stroke-dasharray="1 1 1 45 1 19 1 1 1 52 1 135"/><path d="M6 31.5h125" stroke-dasharray="1 22 1 13 1 33 1 7 1 16 1 27 1 135"/><path d="M19 32.5h106" stroke-dasharray="1 104 1 135"/><path d="M29 33.5h92" stroke-dasharray="1 44 1 28 1 1 1 10 1 3 1 135"/><path d="M7 34.5h104" stroke-dasharray="1 17 1 79 1 2 1 1 1 135"/><path d="M86 35.5h38" stroke-dasharray="1 4 1 31 1 135"/><path d="M30 36.5h97" stroke-dasharray="1 2 1 13 1 33 1 3 1 27 1 12 1 135"/><path d="M17 37.5h109" stroke-dasharray="1 20 1 20 1 5 1 18 1 7 1 1 1 5 1 10 1 8 1 4 1 135"/><path d="M20 38.5h114" stroke-dasharray="1 44 1 4 1 20 1 13 1 27 1 135"/><path d="M41 39.5h42" stroke-dasharray="1 9 1 14 1 3 1 11 1 135"/><path d="M15 40.5h108" stroke-dasharray="1 43 1 3 1 34 1 2 1 3 1 16 1 135"/><path d="M41 41.5h57" stroke-dasharray="1 25 1 29 1 135"/><path d="M10 42.5h62" stroke-dasharray="1 35 1 24 1 135"/><path d="M10 43.5h108" stroke-dasharray="1 35 1 43 1 6 1 8 1 10 1 135"/><path d="M23 44.5h104" stroke-dasharray="1 13 1 48 1 22 1 16 1 135"/><path d="M18 45.5h115" stroke-dasharray="1 78 1 9 1 3 1 20 1 135"/><path d="M22 46.5h103" stroke-dasharray="1 6 1 39 1 38 1 2 1 12 1 135"/><path d="M8 47.5h114" stroke-dasharray="1 1 1 44 1 19 1 18 1 26 1 135"/><path d="M5 48.5h112" stroke-dasharray="1 31 1 1 1 76 1 135"/><path d="M14 49.5h100" stroke-dasharray="1 25 1 24 1 3 1 43 1 135"/><path d="M0 50.5h114" stroke-dasharray="1 8 1 24 1 14 1 32 2 29 1 135"/><path d="M3 51.5h18" stroke-dasharray="1 16 1 135"/><path d="M53 52.5h79" stroke-dasharray="1 77 1 135"/><path d="M7 53.5h107" stroke-dasharray="1 28 1 3 1 19 1 52 1 135"/><path d="M25 54.5h100" stroke-dasharray="1 16 1 16 1 17 1 7 1 25 1 12 1 135"/><path d="M35 55.5h76" stroke-dasharray="1 32 1 41 1 135"/><path d="M64 56.5h60" stroke-dasharray="1 58 1 135"/><path d="M21 57.5h90" stroke-dasharray="1 12 1 64 1 10 1 135"/><path d="M9 58.5h107" stroke-dasharray="1 1 1 12 1 87 2 1 1 135"/><path d="M32 59.5h95" stroke-dasharray="1 38 2 5 1 35 2 10 1 135"/><path d="M38 60.5h59" stroke-dasharray="1 3 1 3 1 1 1 20 1 12 1 13 1 135"/><path d="M5 61.5h116" stroke-dasharray="1 6 1 77 1 29 1 135"/><path d="M18 62.5h75" stroke-dasharray="1 11 1 5 1 4 1 10 1 24 1 14 1 135"/><path d="M5 63.5h110" stroke-dasharray="1 10 1 28 1 66 1 1 1 135"/><path d="M59 64.5h76" stroke-dasharray="1 6 1 67 1 135"/><path d="M6 65.5h112" stroke-dasharray="1 18 1 6 1 32 1 12 1 38 1 135"/><path d="M9 66.5h116" stroke-dasharray="1 8 1 46 1 17 1 17 1 22 1 135"/><path d="M8 67.5h122" stroke-dasharray="1 21 1 28 1 20 2 32 1 14 1 135"/><path d="M30 68.5h42" stroke-dasharray="1 40 1 135"/><path d="M10 69.5h97" stroke-dasharray="1 21 1 22 1 15 1 3 1 1 1 28 1 135"/><path d="M13 70.5h58" stroke-dasharray="1 2 1 53 1 135"/><path d="M27 71.5h93" stroke-dasharray="1 4 1 1 1 84 1 135"/><path d="M2 72.5h68" stroke-dasharray="1 8 1 2 1 7 1 30 1 15 1 135"/><path d="M13 73.5h105" stroke-dasharray="1 14 1 8 1 42 2 8 1 14 1 10 2 135"/><path d="M18 74.5h98" stroke-dasharray="1 70 1 4 1 20 1 135"/><path d="M14 75.5h85" stroke-dasharray="1 62 1 12 1 7 1 135"/><path d="M3 76.5h113" stroke-dasharray="1 15 1 14 1 51 1 8 1 19 1 135"/><path d="M34 77.5h89" stroke-dasharray="1 62 1 24 1 135"/><path d="M64 78.5h64" stroke-dasharray="1 14 1 21 1 25 1 135"/><path d="M22 79.5h96" stroke-dasharray="1 7 1 51 1 28 1 1 1 3 1 135"/><path d="M8 81.5h127" stroke-dasharray="1 14 1 16 1 26 1 31 1 34 1 135"/><path d="M31 82.5h62" stroke-dasharray="1 11 1 11 1 36 1 135"/><path d="M39 83.5h80" stroke-dasharray="1 15 1 22 1 18 1 11 1 8 1 135"/><path d="M2 84.5h117" stroke-dasharray="1 27 1 3 1 15 1 13 2 17 1 34 1 135"/><path d="M5 85.5h106" stroke-dasharray="1 9 1 25 1 20 1 47 1 135"/><path d="M0 86.5h119" stroke-dasharray="1 8 1 2 1 41 1 5 1 14 1 5 1 23 2 3 1 7 1 135"/><path d="M9 87.5h123" stroke-dasharray="1 2 1 9 1 5 1 2 1 47 1 51 1 135"/><path d="M8 88.5h119" stroke-dasharray="1 1 1 11 2 4 1 41 1 25 1 10 1 6 1 5 1 5 1 135"/><path d="M62 89.5h36" stroke-dasharray="1 27 1 2 1 3 1 135"/><path d="M62 90.5h42" stroke-dasharray="1 9 1 7 1 1 2 19 1 135"/><path d="M2 91.5h132" stroke-dasharray="1 89 1 38 1 1 1 135"/><path d="M12 92.5h1" stroke-dasharray="1 135"/><path d="M5 93.5h91" stroke-dasharray="1 4 1 30 1 6 1 46 1 135"/><path d="M3 94.5h118" stroke-dasharray="1 33 1 4 1 41 1 7 1 27 1 135"/><path d="M50 95.5h11" stroke-dasharray="1 9 1 135"/><path d="M26 96.5h95" stroke-dasharray="2 74 1 2 4 11 1 135"/><path d="M22 97.5h1" stroke-dasharray="1 135"/><path d="M5 98.5h19" stroke-dasharray="1 7 1 9 1 135"/><path d="M45 99.5h88" stroke-dasharray="1 27 1 3 1 29 1 24 1 135"/><path d="M21 100.5h35" stroke-dasharray="1 17 1 15 1 135"/><path d="M8 101.5h87" stroke-dasharray="1 29 1 55 1 135"/><path d="M2 102.5h95" stroke-dasharray="1 13 1 5 1 40 1 19 1 5 1 6 1 135"/><path d="M15 103.5h92" stroke-dasharray="1 14 1 35 1 28 1 10 1 135"/><path d="M2 104.5h104" stroke-dasharray="1 11 1 47 1 42 1 135"/><path d="M12 105.5h113" stroke-dasharray="1 21 1 89 1 135"/><path d="M53 106.5h79" stroke-dasharray="1 18 1 21 1 20 1 15 1 135"/><path d="M0 107.5h130" stroke-dasharray="1 2 1 50 1 3 1 34 1 15 1 19 1 135"/><path d="M13 108.5h72" stroke-dasharray="1 21 1 7 1 3 1 36 1 135"/><path d="M47 109.5h39" stroke-dasharray="1 3 1 32 2 135"/><path d="M7 110.5h125" stroke-dasharray="1 13 1 12 1 83 1 10 1 1 1 135"/><path d="M42 111.5h3" stroke-dasharray="1 1 1 135"/><path d="M2 112.5h100" stroke-dasharray="1 83 1 7 1 4 1 1 1 135"/><path d="M1 113.5h121" stroke-dasharray="1 9 1 3 1 11 1 21 1 20 1 45 1 4 1 135"/><path d="M46 114.5h1" stroke-dasharray="1 135"/><path d="M20 115.5h113" stroke-dasharray="1 16 1 3 1 55 1 26 1 7 1 135"/><path d="M18 116.5h100" stroke-dasharray="1 16 1 1 1 74 1 4 1 135"/><path d="M64 117.5h68" stroke-dasharray="1 10 1 33 1 21 1 135"/><path d="M2 118.5h116" stroke-dasharray="1 86 1 27 1 135"/><path d="M27 119.5h65" stroke-dasharray="1 59 1 3 1 135"/><path d="M16 120.5h95" stroke-dasharray="1 7 1 14 1 22 1 1 1 45 1 135"/><path d="M7 121.5h114" stroke-dasharray="1 17 1 94 1 135"/><path d="M4 122.5h108" stroke-dasharray="2 63 1 17 1 21 1 1 1 135"/><path d="M0 123.5h102" stroke-dasharray="1 37 1 11 1 16 1 5 1 27 1 135"/><path d="M0 124.5h93" stroke-dasharray="1 26 1 25 1 2 1 35 1 135"/><path d="M25 125.5h98" stroke-dasharray="1 3 1 6 1 85 1 135"/><path d="M8 126.5h96" stroke-dasharray="1 94 1 135"/><path d="M23 127.5h112" stroke-dasharray="1 16 1 83 1 9 1 135"/><path d="M12 128.5h108" stroke-dasharray="1 15 1 16 2 5 1 4 1 57 1 2 2 135"/><path d="M38 129.5h87" stroke-dasharray="1 25 1 27 1 10 1 20 1 135"/><path d="M11 130.5h78" stroke-dasharray="1 17 1 58 1 135"/><path d="M89 131.5h1" stroke-dasharray="1 135"/><path d="M13 132.5h121" stroke-dasharray="1 23 1 81 1 13 1 135"/><path d="M13 133.5h51" stroke-dasharray="1 22 1 15 1 2 1 7 1 135"/><path d="M8 134.5h127" stroke-dasharray="1 1 1 2 1 84 1 7 1 27 1 135"/><path d="M3 135.5h120" stroke-dasharray="1 29 1 41 1 46 1 135"/><path d="M25 136.5h110" stroke-dasharray="1 7 1 20 1 11 1 13 1 45 1 7 1 135"/></g>
<g stroke="#d42876" fill="none"><path d="M9 0.5h122" stroke-dasharray="1 14 2 1 1 102 1 135"/><path d="M2 2.5h75" stroke-dasharray="1 73 1 135"/><path d="M18 3.5h18" stroke-dasharray="2 2 1 12 1 135"/><path d="M0 4.5h117" stroke-dasharray="1 24 2 25 1 63 1 135"/><path d="M9 6.5h107" stroke-dasharray="1 11 1 60 1 27 1 4 1 135"/><path d="M35 7.5h29" stroke-dasharray="1 5 3 19 1 135"/><path d="M104 8.5h1" stroke-dasharray="1 135"/><path d="M17 9.5h69" stroke-dasharray="1 67 1 135"/><path d="M30 10.5h6" stroke-dasharray="1 4 1 135"/><path d="M6 11.5h47" stroke-dasharray="1 45 1 135"/><path d="M3 12.5h52" stroke-dasharray="1 11 1 3 1 24 1 9 1 135"/><path d="M5 13.5h44" stroke-dasharray="1 5 1 16 1 3 1 15 1 135"/><path d="M0 14.5h39" stroke-dasharray="1 18 2 7 1 9 1 135"/><path d="M19 15.5h24" stroke-dasharray="1 22 1 135"/><path d="M23 16.5h25" stroke-dasharray="1 4 2 9 1 7 1 135"/><path d="M16 17.5h30" stroke-dasharray="1 18 1 8 2 135"/><path d="M18 18.5h42" stroke-dasharray="1 16 1 23 1 135"/><path d="M19 19.5h4" stroke-dasharray="1 2 1 135"/><path d="M25 20.5h1" stroke-dasharray="1 135"/><path d="M6 22.5h32" stroke-dasharray="1 30 1 135"/><path d="M6 23.5h83" stroke-dasharray="1 3 1 30 1 46 1 135"/><path d="M3 24.5h116" stroke-dasharray="1 1 1 30 3 35 1 43 1 135"/><path d="M4 25.5h97" stroke-dasharray="1 7 1 22 1 6 1 3 1 26 1 26 1 135"/><path d="M27 26.5h50" stroke-dasharray="1 24 1 2 1 17 1 2 1 135"/><path d="M28 27.5h24" stroke-dasharray="1 22 1 135"/><path d="M23 28.5h33" stroke-dasharray="1 1 1 29 1 135"/><path d="M8 29.5h118" stroke-dasharray="1 17 2 41 1 14 1 6 1 33 1 135"/><path d="M26 30.5h70" stroke-dasharray="1 4 1 9 2 3 1 6 1 23 2 16 1 135"/><path d="M8 31.5h96" stroke-dasharray="1 12 1 4 1 1 1 2 1 14 1 23 2 10 1 20 1 135"/><path d="M8 32.5h93" stroke-dasharray="1 16 2 18 1 12 1 3 1 4 1 32 1 135"/><path d="M1 33.5h93" stroke-dasharray="1 21 1 1 1 14 2 18 1 1 1 30 1 135"/><path d="M24 34.5h70" stroke-dasharray="1 6 1 9 1 7 1 10 1 13 1 16 1 1 1 135"/><path d="M23 35.5h83" stroke-dasharray="1 8 1 6 2 7 1 13 1 11 2 1 1 10 1 6 1 9 1 135"/><path d="M0 36.5h124" stroke-dasharray="1 4 1 15 1 7 1 12 3 14 1 15 1 20 1 11 1 14 1 135"/><path d="M21 37.5h77" stroke-dasharray="1 1 1 16 2 1 1 10 1 16 1 25 1 135"/><path d="M6 38.5h99" stroke-dasharray="1 30 1 34 2 2 1 8 2 9 2 6 1 135"/><path d="M30 39.5h47" stroke-dasharray="1 3 1 23 1 9 2 1 1 4 1 135"/><path d="M0 40.5h129" stroke-dasharray="1 22 1 23 2 9 1 15 2 10 1 1 1 6 1 32 1 135"/><path d="M24 41.5h65" stroke-dasharray="1 9 1 13 1 10 1 1 1 2 1 3 2 1 1 1 1 14 1 135"/><path d="M27 42.5h83" stroke-dasharray="1 6 1 1 1 2 3 2 1 6 1 35 1 5 1 12 4 135"/><path d="M19 43.5h97" stroke-dasharray="1 19 1 1 3 30 2 8 1 6 1 4 1 3 1 14 1 135"/><path d="M14 44.5h108" stroke-dasharray="1 10 1 9 2 7 1 6 2 8 1 3 1 4 1 8 1 19 1 21 1 135"/><path d="M28 45.5h94" stroke-dasharray="1 7 1 2 1 11 3 2 2 1 1 12 2 2 1 3 1 9 1 30 1 135"/><path d="M3 46.5h128" stroke-dasharray="1 28 1 4 1 3 1 4 1 10 1 2 1 7 1 7 1 7 1 2 1 5 1 2 1 21 1 1 1 9 1 135"/><path d="M23 47.5h103" stroke-dasharray="1 2 1 23 1 13 1 8 1 39 1 11 1 135"/><path d="M23 48.5h101" stroke-dasharray="1 3 1 19 1 7 1 4 2 12 1 4 1 21 3 19 1 135"/><path d="M22 49.5h106" stroke-dasharray="1 10 1 2 1 8 1 25 1 12 1 40 1 1 1 135"/><path d="M32 50.5h81" stroke-dasharray="1 3 1 20 1 19 1 3 1 28 1 1 1 135"/><path d="M18 51.5h104" stroke-dasharray="1 4 1 17 1 2 1 7 2 2 1 3 2 26 1 32 1 135"/><path d="M22 52.5h109" stroke-dasharray="1 25 1 22 1 9 2 2 1 17 1 7 1 9 1 6 1 1 1 135"/><path d="M6 53.5h129" stroke-dasharray="1 12 1 8 1 8 2 15 2 12 1 56 1 8 1 135"/><path d="M2 54.5h124" stroke-dasharray="1 2 1 5 1 34 1 20 3 5 1 5 1 1 2 2 1 1 1 8 1 7 1 2 1 9 1 5 1 135"/><path d="M17 55.5h118" stroke-dasharray="1 41 4 26 1 23 1 3 1 1 1 2 1 6 2 2 2 135"/><path d="M33 56.5h97" stroke-dasharray="1 1 1 12 1 1 1 7 1 3 1 3 2 9 3 8 1 4 1 10 1 17 1 2 1 3 1 135"/><path d="M14 57.5h117" stroke-dasharray="1 4 1 6 1 3 1 22 1 3 1 1 2 1 1 6 1 9 2 27 1 3 1 14 1 2 1 135"/><path d="M30 58.5h99" stroke-dasharray="2 1 1 2 1 5 2 3 1 33 1 13 1 18 1 8 2 3 1 135"/><path d="M2 59.5h120" stroke-dasharray="1 17 1 8 1 5 1 19 1 21 1 2 1 1 1 5 1 16 2 3 3 7 2 135"/><path d="M51 60.5h82" stroke-dasharray="2 5 2 8 1 4 1 31 1 2 1 4 1 1 1 16 1 135"/><path d="M37 61.5h97" stroke-dasharray="1 20 2 2 1 1 2 1 1 1 1 2 1 12 1 5 1 6 1 1 1 5 1 1 1 4 1 2 1 16 1 135"/><path d="M0 62.5h134" stroke-dasharray="1 19 1 5 1 16 1 11 1 1 1 2 1 6 1 2 1 2 1 6 2 1 1 1 1 4 1 5 4 7 1 4 1 11 2 5 3 135"/><path d="M6 63.5h117" stroke-dasharray="1 10 1 53 1 9 1 14 1 1 2 22 1 135"/><path d="M12 64.5h119" stroke-dasharray="1 7 1 2 1 1 1 11 1 20 1 18 1 2 1 1 1 9 1 4 1 16 1 1 1 1 1 3 1 6 2 135"/><path d="M15 65.5h95" stroke-dasharray="1 25 1 2 1 6 1 3 1 15 1 13 1 1 1 2 2 13 1 3 1 135"/><path d="M2 66.5h118" stroke-dasharray="1 36 1 3 1 2 1 4 1 3 1 2 1 15 1 14 1 4 2 9 1 12 2 135"/><path d="M22 67.5h110" stroke-dasharray="1 11 1 15 1 22 1 11 1 7 2 8 2 1 3 12 2 8 1 135"/><path d="M40 68.5h93" stroke-dasharray="2 13 1 17 1 6 3 10 1 8 2 2 2 9 1 13 2 135"/><path d="M5 69.5h114" stroke-dasharray="2 7 1 18 1 11 1 3 2 41 1 7 1 17 1 135"/><path d="M6 70.5h106" stroke-dasharray="1 22 2 8 1 5 1 14 1 18 2 29 2 135"/><path d="M15 71.5h110" stroke-dasharray="1 2 1 14 1 2 3 6 1 3 1 1 1 14 1 1 3 1 1 11 1 2 1 5 1 28 1 1 1 135"/><path d="M10 72.5h121" stroke-dasharray="1 21 1 4 2 21 1 32 1 8 1 4 1 2 1 4 1 14 1 135"/><path d="M18 73.5h116" stroke-dasharray="1 16 1 2 1 6 1 4 1 10 1 34 1 3 2 25 1 5 1 135"/><path d="M21 74.5h107" stroke-dasharray="1 3 2 4 2 11 1 18 1 2 1 20 1 11 1 3 1 17 1 4 2 135"/><path d="M19 75.5h116" stroke-dasharray="1 6 1 3 1 10 1 16 1 2 1 9 1 7 1 23 1 29 2 135"/><path d="M9 76.5h126" stroke-dasharray="1 33 1 9 3 13 1 1 1 17 2 8 1 5 1 8 1 19 1 135"/><path d="M20 77.5h115" stroke-dasharray="1 15 1 6 1 1 1 9 1 29 2 4 1 1 1 13 1 6 1 2 1 8 1 3 1 3 1 135"/><path d="M70 78.5h61" stroke-dasharray="1 16 1 7 1 3 1 7 1 2 3 4 1 5 1 6 1 135"/><path d="M6 79.5h126" stroke-dasharray="1 32 1 6 1 13 2 12 1 27 1 16 1 3 1 7 1 135"/><path d="M5 80.5h118" stroke-dasharray="1 23 1 1 1 4 1 19 1 10 1 6 1 13 1 7 1 1 1 5 2 13 1 2 1 135"/><path d="M35 81.5h96" stroke-dasharray="3 13 1 21 2 36 1 14 1 3 1 135"/><path d="M23 82.5h110" stroke-dasharray="1 11 1 5 1 8 1 1 1 17 1 1 1 38 1 19 2 135"/><path d="M50 83.5h21" stroke-dasharray="1 19 1 135"/><path d="M32 84.5h96" stroke-dasharray="2 7 1 64 1 1 1 18 1 135"/><path d="M90 85.5h38" stroke-dasharray="1 7 1 21 1 6 1 135"/><path d="M13 86.5h121" stroke-dasharray="1 12 1 17 2 5 1 34 1 6 1 20 1 18 1 135"/><path d="M17 87.5h117" stroke-dasharray="1 1 1 23 1 6 2 44 1 6 1 6 1 22 1 135"/><path d="M33 88.5h90" stroke-dasharray="3 6 1 2 1 26 1 30 1 1 1 4 1 11 1 135"/><path d="M12 89.5h112" stroke-dasharray="1 22 2 65 1 9 1 10 1 135"/><path d="M18 90.5h107" stroke-dasharray="2 5 1 6 1 8 1 4 1 9 1 62 1 3 2 135"/><path d="M3 91.5h121" stroke-dasharray="1 49 1 5 1 2 1 36 1 14 1 8 1 135"/><path d="M33 92.5h96" stroke-dasharray="1 9 1 10 1 33 1 4 2 20 1 12 1 135"/><path d="M1 93.5h134" stroke-dasharray="2 17 1 18 1 22 1 24 2 8 1 1 2 1 1 17 1 7 1 5 1 135"/><path d="M34 94.5h96" stroke-dasharray="1 54 1 19 1 1 1 12 1 4 1 135"/><path d="M6 95.5h114" stroke-dasharray="1 26 2 35 1 5 1 33 2 3 1 3 1 135"/><path d="M33 96.5h97" stroke-dasharray="2 62 1 12 1 4 1 2 1 10 1 135"/><path d="M21 97.5h111" stroke-dasharray="1 5 1 1 1 19 1 59 1 3 1 6 1 10 1 135"/><path d="M90 98.5h32" stroke-dasharray="2 21 1 7 1 135"/><path d="M33 99.5h79" stroke-dasharray="1 17 1 38 1 2 1 17 1 135"/><path d="M33 100.5h101" stroke-dasharray="1 62 2 13 1 9 1 11 1 135"/><path d="M26 101.5h80" stroke-dasharray="1 2 3 1 1 8 1 27 1 17 1 16 1 135"/><path d="M25 102.5h99" stroke-dasharray="2 1 1 20 1 64 1 8 1 135"/><path d="M13 103.5h120" stroke-dasharray="1 20 1 69 1 11 1 7 1 7 1 135"/><path d="M18 104.5h107" stroke-dasharray="1 4 1 25 1 1 1 4 2 33 1 4 1 2 1 1 1 22 1 135"/><path d="M10 105.5h123" stroke-dasharray="1 17 1 15 1 55 3 11 1 13 1 3 1 135"/><path d="M28 106.5h75" stroke-dasharray="1 3 1 26 1 40 3 135"/><path d="M26 107.5h106" stroke-dasharray="1 16 1 69 1 17 1 135"/><path d="M103 108.5h31" stroke-dasharray="1 2 1 20 1 2 1 2 1 135"/><path d="M81 109.5h45" stroke-dasharray="1 22 1 8 1 10 2 135"/><path d="M55 110.5h71" stroke-dasharray="1 36 1 9 1 18 1 3 1 135"/><path d="M41 111.5h85" stroke-dasharray="1 6 1 46 1 1 2 4 1 17 1 3 1 135"/><path d="M21 112.5h108" stroke-dasharray="1 44 1 35 1 5 1 15 2 2 1 135"/><path d="M18 113.5h103" stroke-dasharray="2 67 1 32 1 135"/><path d="M45 114.5h90" stroke-dasharray="1 60 2 8 1 17 1 135"/><path d="M33 115.5h101" stroke-dasharray="1 62 1 13 1 22 1 135"/><path d="M28 116.5h73" stroke-dasharray="1 10 1 59 2 135"/><path d="M77 117.5h39" stroke-dasharray="1 21 1 3 1 3 1 7 1 135"/><path d="M1 118.5h133" stroke-dasharray="1 17 1 13 1 8 2 2 1 79 1 6 1 135"/><path d="M28 119.5h90" stroke-dasharray="1 9 1 60 1 4 1 12 1 135"/><path d="M49 120.5h52" stroke-dasharray="1 50 1 135"/><path d="M32 121.5h101" stroke-dasharray="1 12 2 32 1 46 1 3 1 1 1 135"/><path d="M31 122.5h97" stroke-dasharray="1 69 1 12 1 12 1 135"/><path d="M29 123.5h72" stroke-dasharray="1 21 1 33 1 1 1 7 1 1 4 135"/><path d="M28 124.5h103" stroke-dasharray="1 64 1 17 1 9 1 8 1 135"/><path d="M26 125.5h109" stroke-dasharray="1 65 1 16 2 5 1 4 1 11 2 135"/><path d="M32 126.5h86" stroke-dasharray="1 51 1 11 1 12 2 6 1 135"/><path d="M14 127.5h108" stroke-dasharray="1 54 1 45 1 5 1 135"/><path d="M102 128.5h33" stroke-dasharray="1 10 1 20 1 135"/><path d="M4 129.5h131" stroke-dasharray="1 7 1 103 2 16 1 135"/><path d="M70 130.5h63" stroke-dasharray="1 27 1 1 1 3 2 2 1 21 3 135"/><path d="M104 131.5h26" stroke-dasharray="1 6 2 14 1 1 1 135"/><path d="M33 132.5h94" stroke-dasharray="2 54 1 7 1 2 1 25 1 135"/><path d="M21 133.5h93" stroke-dasharray="2 66 1 11 1 4 1 6 1 135"/><path d="M21 134.5h107" stroke-dasharray="1 88 1 16 1 135"/><path d="M28 135.5h107" stroke-dasharray="1 66 1 31 1 6 1 135"/><path d="M14 136.5h107" stroke-dasharray="1 13 1 61 1 7 1 21 1 135"/></g>
<g stroke="#b83a94" fill="none"><path d="M28 0.5h1" stroke-dasharray="1 135"/><path d="M8 1.5h6" stroke-dasharray="1 4 1 135"/><path d="M90 2.5h1" stroke-dasharray="1 135"/><path d="M38 3.5h1" stroke-dasharray="1 135"/><path d="M3 4.5h105" stroke-dasharray="1 17 1 7 1 77 1 135"/><path d="M4 5.5h1" stroke-dasharray="1 135"/><path d="M0 6.5h1" stroke-dasharray="1 135"/><path d="M48 7.5h1" stroke-dasharray="1 135"/><path d="M13 9.5h1" stroke-dasharray="1 135"/><path d="M5 10.5h13" stroke-dasharray="1 11 1 135"/><path d="M5 11.5h1" stroke-dasharray="1 135"/><path d="M2 12.5h42" stroke-dasharray="1 40 1 135"/><path d="M22 13.5h1" stroke-dasharray="1 135"/><path d="M4 14.5h29" stroke-dasharray="1 27 1 135"/><path d="M28 15.5h1" stroke-dasharray="1 135"/><path d="M18 16.5h4" stroke-dasharray="1 2 1 135"/><path d="M19 17.5h34" stroke-dasharray="1 8 1 21 1 1 1 135"/><path d="M17 18.5h98" stroke-dasharray="1 1 1 4 1 7 1 24 1 56 1 135"/><path d="M18 19.5h75" stroke-dasharray="1 5 1 67 1 135"/><path d="M17 21.5h1" stroke-dasharray="1 135"/><path d="M48 22.5h1" stroke-dasharray="1 135"/><path d="M45 24.5h73" stroke-dasharray="1 2 1 13 1 54 1 135"/><path d="M8 25.5h71" stroke-dasharray="1 22 1 13 1 32 1 135"/><path d="M21 26.5h31" stroke-dasharray="1 13 1 8 1 6 1 135"/><path d="M4 27.5h113" stroke-dasharray="2 29 2 13 1 4 1 60 1 135"/><path d="M31 28.5h62" stroke-dasharray="1 7 2 11 1 29 1 8 2 135"/><path d="M38 29.5h95" stroke-dasharray="2 13 1 29 1 48 1 135"/><path d="M14 30.5h59" stroke-dasharray="1 17 1 39 1 135"/><path d="M25 31.5h81" stroke-dasharray="1 4 1 14 1 11 1 47 1 135"/><path d="M16 32.5h86" stroke-dasharray="1 3 2 9 1 17 1 1 1 27 1 21 1 135"/><path d="M22 33.5h76" stroke-dasharray="1 35 1 10 1 27 1 135"/><path d="M1 34.5h119" stroke-dasharray="1 36 1 1 1 3 1 30 1 43 1 135"/><path d="M12 35.5h113" stroke-dasharray="1 6 2 26 1 8 1 13 1 40 1 12 1 135"/><path d="M32 36.5h85" stroke-dasharray="1 36 1 30 1 10 1 4 1 135"/><path d="M22 37.5h80" stroke-dasharray="1 6 1 15 1 6 1 2 1 13 2 1 1 26 1 1 1 135"/><path d="M32 38.5h67" stroke-dasharray="1 26 2 1 1 35 1 135"/><path d="M57 39.5h60" stroke-dasharray="1 1 1 3 1 9 1 6 1 15 1 5 1 13 1 135"/><path d="M16 40.5h79" stroke-dasharray="1 33 1 13 1 8 1 13 1 6 1 135"/><path d="M22 41.5h109" stroke-dasharray="1 7 1 8 1 15 1 4 1 4 2 16 1 2 1 9 1 33 1 135"/><path d="M25 42.5h98" stroke-dasharray="2 32 1 2 1 23 1 4 1 13 1 7 1 7 2 135"/><path d="M27 43.5h67" stroke-dasharray="1 2 1 3 1 5 1 8 1 2 1 19 1 20 1 135"/><path d="M12 44.5h113" stroke-dasharray="1 6 1 13 1 35 1 28 1 25 1 135"/><path d="M43 45.5h56" stroke-dasharray="1 27 1 3 1 12 1 9 1 135"/><path d="M23 46.5h101" stroke-dasharray="2 5 1 5 1 22 1 6 1 7 2 24 1 22 1 135"/><path d="M31 47.5h78" stroke-dasharray="2 4 1 22 1 2 1 12 1 26 1 4 1 135"/><path d="M8 48.5h99" stroke-dasharray="1 17 1 2 1 2 1 26 1 3 2 5 1 29 1 5 1 135"/><path d="M29 49.5h104" stroke-dasharray="2 15 1 7 2 1 1 1 1 1 2 7 1 4 2 6 1 18 1 1 1 16 1 4 1 5 1 135"/><path d="M42 50.5h85" stroke-dasharray="1 5 1 7 1 13 1 9 1 16 1 28 1 135"/><path d="M31 51.5h101" stroke-dasharray="2 9 1 26 1 11 1 12 1 4 1 2 1 25 1 2 1 135"/><path d="M32 52.5h103" stroke-dasharray="1 3 1 5 1 6 2 14 1 3 1 3 1 6 1 3 1 19 1 7 1 1 1 4 1 7 1 6 1 135"/><path d="M3 53.5h126" stroke-dasharray="1 8 1 62 1 4 1 3 2 2 2 10 3 7 1 1 1 6 1 8 1 135"/><path d="M28 54.5h102" stroke-dasharray="1 1 1 6 2 17 1 21 3 1 1 7 1 1 1 6 2 2 1 12 1 12 1 135"/><path d="M16 55.5h116" stroke-dasharray="1 21 1 10 1 13 1 2 1 10 1 10 1 2 1 5 1 7 1 19 1 5 1 135"/><path d="M17 56.5h115" stroke-dasharray="1 7 1 34 1 7 1 3 1 21 1 10 1 8 1 12 1 3 1 135"/><path d="M18 57.5h114" stroke-dasharray="1 6 1 10 1 5 1 31 1 1 1 1 1 5 1 9 1 7 1 8 1 2 1 10 1 5 1 135"/><path d="M32 58.5h94" stroke-dasharray="1 20 1 17 1 6 1 28 1 3 1 10 1 2 1 135"/><path d="M12 59.5h118" stroke-dasharray="1 2 1 21 1 15 1 14 1 1 1 5 1 10 1 15 2 3 2 18 2 135"/><path d="M29 60.5h97" stroke-dasharray="1 10 1 34 1 13 1 1 1 11 1 3 1 1 1 4 1 10 1 135"/><path d="M60 61.5h67" stroke-dasharray="1 12 1 2 4 23 1 1 1 1 1 17 2 135"/><path d="M25 62.5h102" stroke-dasharray="1 3 1 15 1 10 1 4 1 9 2 3 1 10 1 38 1 135"/><path d="M19 63.5h105" stroke-dasharray="1 4 2 1 1 1 1 21 1 13 1 10 1 2 2 2 1 39 1 135"/><path d="M21 64.5h95" stroke-dasharray="1 10 1 3 1 13 1 2 1 6 1 10 1 6 1 2 1 11 1 4 1 10 3 3 1 135"/><path d="M20 65.5h75" stroke-dasharray="1 32 1 40 1 135"/><path d="M36 66.5h75" stroke-dasharray="3 3 1 16 1 7 1 8 2 31 2 135"/><path d="M38 67.5h83" stroke-dasharray="1 16 1 4 1 7 2 17 1 4 1 7 1 4 1 3 2 5 1 3 1 135"/><path d="M44 68.5h86" stroke-dasharray="2 3 2 2 2 8 1 36 1 20 1 4 1 2 1 135"/><path d="M40 69.5h65" stroke-dasharray="1 5 1 6 2 24 1 6 1 16 2 135"/><path d="M15 70.5h118" stroke-dasharray="1 45 1 5 1 4 1 17 1 2 1 9 1 3 1 1 1 2 1 10 1 8 1 135"/><path d="M29 71.5h93" stroke-dasharray="2 17 1 10 1 11 1 18 1 1 1 9 1 18 1 135"/><path d="M30 72.5h96" stroke-dasharray="1 18 2 15 1 42 1 3 1 4 1 2 2 2 1 135"/><path d="M30 73.5h105" stroke-dasharray="2 22 1 7 1 43 3 25 1 135"/><path d="M19 74.5h110" stroke-dasharray="1 18 1 18 1 7 1 5 1 28 1 5 1 13 1 1 1 1 1 3 1 135"/><path d="M18 75.5h82" stroke-dasharray="1 5 1 9 1 7 1 5 1 13 1 3 1 3 1 1 1 26 1 135"/><path d="M25 76.5h102" stroke-dasharray="1 15 1 2 1 4 1 17 1 6 1 25 1 9 1 2 1 8 1 3 1 135"/><path d="M28 77.5h69" stroke-dasharray="1 12 1 12 1 14 1 7 1 18 1 135"/><path d="M28 78.5h104" stroke-dasharray="1 14 1 4 1 17 1 24 3 20 1 7 1 8 1 135"/><path d="M38 79.5h84" stroke-dasharray="1 4 1 4 1 16 2 18 1 28 1 6 1 135"/><path d="M11 80.5h121" stroke-dasharray="1 12 1 18 1 13 1 6 1 24 1 7 1 23 1 5 1 3 1 135"/><path d="M31 81.5h101" stroke-dasharray="1 9 1 11 1 21 1 12 2 5 1 14 1 11 1 2 1 1 1 1 1 1 1 135"/><path d="M0 82.5h120" stroke-dasharray="1 21 1 11 1 5 1 16 1 7 1 18 2 11 1 6 1 14 1 135"/><path d="M23 83.5h99" stroke-dasharray="1 6 1 23 1 50 2 14 1 135"/><path d="M21 84.5h109" stroke-dasharray="1 20 1 11 1 66 2 6 1 135"/><path d="M3 85.5h124" stroke-dasharray="1 14 1 13 2 22 1 30 1 38 1 135"/><path d="M40 86.5h86" stroke-dasharray="1 2 1 8 2 59 1 11 1 135"/><path d="M18 87.5h117" stroke-dasharray="1 16 1 8 1 57 1 8 2 21 1 135"/><path d="M3 88.5h125" stroke-dasharray="1 32 2 71 1 3 1 13 1 135"/><path d="M27 89.5h98" stroke-dasharray="1 11 1 4 2 78 1 135"/><path d="M17 90.5h110" stroke-dasharray="1 24 1 2 1 33 1 7 1 18 1 19 1 135"/><path d="M42 91.5h84" stroke-dasharray="1 3 1 8 1 59 2 8 1 135"/><path d="M34 92.5h98" stroke-dasharray="1 12 1 3 1 6 1 33 1 16 1 12 1 8 1 135"/><path d="M4 93.5h106" stroke-dasharray="1 14 1 12 1 47 1 25 1 2 1 135"/><path d="M101 94.5h15" stroke-dasharray="1 13 1 135"/><path d="M26 95.5h104" stroke-dasharray="1 13 1 42 1 18 1 17 1 8 1 135"/><path d="M21 96.5h113" stroke-dasharray="1 17 1 69 1 9 1 13 1 135"/><path d="M15 97.5h108" stroke-dasharray="1 16 1 1 1 53 1 11 1 7 1 1 1 11 1 135"/><path d="M27 98.5h86" stroke-dasharray="1 10 4 68 1 1 1 135"/><path d="M34 99.5h77" stroke-dasharray="1 49 1 11 1 12 2 135"/><path d="M0 100.5h99" stroke-dasharray="1 28 1 14 2 52 1 135"/><path d="M49 101.5h79" stroke-dasharray="1 51 1 25 1 135"/><path d="M29 102.5h106" stroke-dasharray="1 2 1 20 1 2 1 67 1 8 2 135"/><path d="M28 103.5h107" stroke-dasharray="2 1 1 69 1 20 1 6 1 4 1 135"/><path d="M17 104.5h116" stroke-dasharray="1 12 2 15 1 59 1 8 1 15 1 135"/><path d="M24 105.5h110" stroke-dasharray="1 22 1 10 1 54 1 9 1 9 1 135"/><path d="M114 106.5h20" stroke-dasharray="1 1 1 15 2 135"/><path d="M17 107.5h86" stroke-dasharray="1 47 1 26 1 9 1 135"/><path d="M8 108.5h124" stroke-dasharray="1 6 1 88 2 25 1 135"/><path d="M12 110.5h87" stroke-dasharray="1 17 1 5 1 7 1 53 1 135"/><path d="M33 111.5h99" stroke-dasharray="1 97 1 135"/><path d="M90 112.5h42" stroke-dasharray="1 18 1 13 1 7 1 135"/><path d="M0 113.5h109" stroke-dasharray="1 11 1 60 1 16 1 17 1 135"/><path d="M3 114.5h32" stroke-dasharray="1 15 1 14 1 135"/><path d="M47 115.5h70" stroke-dasharray="1 55 1 2 1 9 1 135"/><path d="M16 116.5h91" stroke-dasharray="1 87 1 1 1 135"/><path d="M79 117.5h48" stroke-dasharray="1 28 1 17 1 135"/><path d="M37 118.5h98" stroke-dasharray="1 61 1 4 1 29 1 135"/><path d="M100 119.5h14" stroke-dasharray="1 12 1 135"/><path d="M23 120.5h112" stroke-dasharray="1 24 1 59 1 18 1 4 1 1 1 135"/><path d="M101 121.5h27" stroke-dasharray="1 8 1 2 1 4 1 8 1 135"/><path d="M32 122.5h84" stroke-dasharray="1 5 1 32 1 43 1 135"/><path d="M14 123.5h112" stroke-dasharray="1 19 1 35 1 32 2 18 1 1 1 135"/><path d="M30 124.5h94" stroke-dasharray="1 87 1 4 1 135"/><path d="M89 125.5h16" stroke-dasharray="1 14 1 135"/><path d="M14 126.5h108" stroke-dasharray="1 86 1 19 1 135"/><path d="M8 127.5h94" stroke-dasharray="1 83 2 7 1 135"/><path d="M22 128.5h108" stroke-dasharray="1 69 1 36 1 135"/><path d="M65 129.5h21" stroke-dasharray="1 19 1 135"/><path d="M5 130.5h120" stroke-dasharray="1 6 1 111 1 135"/><path d="M23 131.5h110" stroke-dasharray="1 78 2 28 1 135"/><path d="M112 132.5h21" stroke-dasharray="1 12 1 6 1 135"/><path d="M88 133.5h43" stroke-dasharray="1 1 1 18 1 6 1 13 1 135"/><path d="M22 134.5h91" stroke-dasharray="2 2 1 68 1 9 1 6 1 135"/><path d="M27 135.5h94" stroke-dasharray="1 66 1 3 2 20 1 135"/><path d="M34 136.5h1" stroke-dasharray="1 135"/></g>
<g stroke="#de6eaa" fill="none"><path d="M0 5.5h1" stroke-dasharray="1 135"/><path d="M41 6.5h1" stroke-dasharray="1 135"/><path d="M0 7.5h22" stroke-dasharray="1 20 1 135"/><path d="M104 9.5h1" stroke-dasharray="1 135"/><path d="M66 10.5h1" stroke-dasharray="1 135"/><path d="M27 12.5h1" stroke-dasharray="1 135"/><path d="M56 13.5h1" stroke-dasharray="1 135"/><path d="M9 15.5h1" stroke-dasharray="1 135"/><path d="M63 16.5h25" stroke-dasharray="1 23 1 135"/><path d="M34 18.5h25" stroke-dasharray="1 23 1 135"/><path d="M45 19.5h1" stroke-dasharray="1 135"/><path d="M28 21.5h1" stroke-dasharray="1 135"/><path d="M30 22.5h11" stroke-dasharray="1 9 1 135"/><path d="M4 24.5h122" stroke-dasharray="1 120 1 135"/><path d="M54 25.5h1" stroke-dasharray="1 135"/><path d="M5 26.5h56" stroke-dasharray="1 10 1 42 2 135"/><path d="M46 28.5h1" stroke-dasharray="1 135"/><path d="M28 29.5h39" stroke-dasharray="1 37 1 135"/><path d="M15 30.5h1" stroke-dasharray="1 135"/><path d="M63 32.5h1" stroke-dasharray="1 135"/><path d="M28 33.5h34" stroke-dasharray="1 32 1 135"/><path d="M18 34.5h109" stroke-dasharray="1 4 1 5 1 15 1 2 1 43 1 33 1 135"/><path d="M37 35.5h17" stroke-dasharray="1 15 1 135"/><path d="M22 36.5h99" stroke-dasharray="1 18 1 19 1 17 1 8 1 31 1 135"/><path d="M73 37.5h9" stroke-dasharray="1 1 1 5 1 135"/><path d="M52 38.5h20" stroke-dasharray="1 18 1 135"/><path d="M23 39.5h109" stroke-dasharray="1 8 1 39 1 8 1 15 1 33 1 135"/><path d="M30 40.5h42" stroke-dasharray="1 12 1 27 1 135"/><path d="M23 41.5h21" stroke-dasharray="1 19 1 135"/><path d="M23 42.5h96" stroke-dasharray="1 14 1 4 1 39 1 10 1 9 1 13 1 135"/><path d="M28 43.5h24" stroke-dasharray="1 7 1 14 1 135"/><path d="M1 44.5h100" stroke-dasharray="1 30 1 67 1 135"/><path d="M58 45.5h76" stroke-dasharray="1 74 1 135"/><path d="M86 46.5h5" stroke-dasharray="1 2 2 135"/><path d="M38 47.5h87" stroke-dasharray="1 9 1 31 1 8 1 34 1 135"/><path d="M30 48.5h78" stroke-dasharray="1 11 1 5 1 7 1 12 1 10 1 26 1 135"/><path d="M72 49.5h10" stroke-dasharray="1 8 1 135"/><path d="M71 50.5h23" stroke-dasharray="1 21 1 135"/><path d="M70 51.5h65" stroke-dasharray="1 63 1 135"/><path d="M17 52.5h78" stroke-dasharray="1 41 1 10 1 19 1 3 1 135"/><path d="M67 53.5h27" stroke-dasharray="1 6 1 1 1 2 1 7 1 5 1 135"/><path d="M40 54.5h94" stroke-dasharray="1 17 1 51 1 1 1 20 1 135"/><path d="M56 55.5h1" stroke-dasharray="1 135"/><path d="M61 56.5h70" stroke-dasharray="1 68 1 135"/><path d="M63 57.5h36" stroke-dasharray="1 9 1 3 1 4 1 15 1 135"/><path d="M61 58.5h74" stroke-dasharray="1 72 1 135"/><path d="M52 59.5h73" stroke-dasharray="1 16 1 15 1 38 1 135"/><path d="M37 60.5h68" stroke-dasharray="1 52 1 13 1 135"/><path d="M42 61.5h58" stroke-dasharray="1 39 1 16 1 135"/><path d="M91 62.5h1" stroke-dasharray="1 135"/><path d="M26 63.5h1" stroke-dasharray="1 135"/><path d="M17 64.5h101" stroke-dasharray="1 23 1 37 1 7 1 2 2 25 1 135"/><path d="M36 65.5h58" stroke-dasharray="1 36 1 19 1 135"/><path d="M72 66.5h56" stroke-dasharray="1 11 1 19 1 15 1 6 1 135"/><path d="M45 67.5h40" stroke-dasharray="1 38 1 135"/><path d="M33 68.5h60" stroke-dasharray="2 35 1 3 1 17 1 135"/><path d="M51 69.5h64" stroke-dasharray="2 61 1 135"/><path d="M49 70.5h60" stroke-dasharray="1 4 1 28 1 24 1 135"/><path d="M50 71.5h59" stroke-dasharray="1 57 1 135"/><path d="M29 72.5h89" stroke-dasharray="1 28 1 58 1 135"/><path d="M33 73.5h40" stroke-dasharray="1 12 1 4 1 14 1 5 1 135"/><path d="M15 74.5h56" stroke-dasharray="1 21 1 7 1 24 1 135"/><path d="M104 75.5h10" stroke-dasharray="1 8 1 135"/><path d="M18 77.5h96" stroke-dasharray="1 73 1 20 1 135"/><path d="M29 78.5h70" stroke-dasharray="2 7 1 7 1 51 1 135"/><path d="M33 79.5h8" stroke-dasharray="1 6 1 135"/><path d="M35 80.5h1" stroke-dasharray="1 135"/><path d="M27 81.5h1" stroke-dasharray="1 135"/><path d="M122 82.5h1" stroke-dasharray="1 135"/><path d="M108 83.5h1" stroke-dasharray="1 135"/><path d="M44 84.5h58" stroke-dasharray="1 56 1 135"/><path d="M13 85.5h1" stroke-dasharray="1 135"/><path d="M46 86.5h47" stroke-dasharray="1 45 1 135"/><path d="M65 87.5h31" stroke-dasharray="1 29 1 135"/><path d="M48 88.5h85" stroke-dasharray="1 75 1 7 1 135"/><path d="M112 90.5h14" stroke-dasharray="1 12 1 135"/><path d="M43 91.5h1" stroke-dasharray="1 135"/><path d="M44 92.5h73" stroke-dasharray="1 7 1 63 1 135"/><path d="M51 93.5h64" stroke-dasharray="2 61 1 135"/><path d="M20 94.5h91" stroke-dasharray="1 89 1 135"/><path d="M75 95.5h52" stroke-dasharray="1 50 1 135"/><path d="M22 96.5h75" stroke-dasharray="1 14 2 57 1 135"/><path d="M45 97.5h82" stroke-dasharray="1 48 1 31 1 135"/><path d="M131 98.5h1" stroke-dasharray="1 135"/><path d="M130 99.5h1" stroke-dasharray="1 135"/><path d="M59 101.5h52" stroke-dasharray="1 50 1 135"/><path d="M54 102.5h75" stroke-dasharray="1 49 1 23 1 135"/><path d="M9 104.5h121" stroke-dasharray="1 119 1 135"/><path d="M36 105.5h87" stroke-dasharray="1 50 1 34 1 135"/><path d="M24 106.5h103" stroke-dasharray="1 101 1 135"/><path d="M63 109.5h47" stroke-dasharray="1 37 2 6 1 135"/><path d="M11 110.5h99" stroke-dasharray="1 51 1 45 1 135"/><path d="M50 111.5h2" stroke-dasharray="2 135"/><path d="M20 112.5h84" stroke-dasharray="1 82 1 135"/><path d="M119 113.5h16" stroke-dasharray="1 14 1 135"/><path d="M18 114.5h1" stroke-dasharray="1 135"/><path d="M19 115.5h105" stroke-dasharray="1 103 1 135"/><path d="M100 117.5h1" stroke-dasharray="1 135"/><path d="M128 118.5h1" stroke-dasharray="1 135"/><path d="M134 119.5h1" stroke-dasharray="1 135"/><path d="M45 120.5h1" stroke-dasharray="1 135"/><path d="M100 121.5h12" stroke-dasharray="1 10 1 135"/><path d="M0 122.5h73" stroke-dasharray="1 71 1 135"/><path d="M27 123.5h70" stroke-dasharray="1 68 1 135"/><path d="M131 124.5h1" stroke-dasharray="1 135"/><path d="M120 125.5h1" stroke-dasharray="1 135"/><path d="M13 127.5h6" stroke-dasharray="1 4 1 135"/><path d="M93 128.5h1" stroke-dasharray="1 135"/><path d="M115 129.5h1" stroke-dasharray="1 135"/><path d="M25 130.5h95" stroke-dasharray="1 93 1 135"/><path d="M131 131.5h1" stroke-dasharray="1 135"/><path d="M21 132.5h1" stroke-dasharray="1 135"/><path d="M1 136.5h47" stroke-dasharray="1 21 1 11 1 11 1 135"/></g>
<g stroke="#7a3c9e" fill="none"><path d="M21 0.5h1" stroke-dasharray="1 135"/><path d="M27 2.5h57" stroke-dasharray="1 10 1 44 1 135"/><path d="M16 3.5h1" stroke-dasharray="1 135"/><path d="M64 7.5h1" stroke-dasharray="1 135"/><path d="M71 8.5h1" stroke-dasharray="1 135"/><path d="M10 9.5h28" stroke-dasharray="1 26 1 135"/><path d="M21 10.5h1" stroke-dasharray="1 135"/><path d="M54 11.5h1" stroke-dasharray="1 135"/><path d="M28 12.5h22" stroke-dasharray="1 20 1 135"/><path d="M12 13.5h46" stroke-dasharray="1 6 1 37 1 135"/><path d="M31 14.5h60" stroke-dasharray="1 1 1 5 1 2 1 47 1 135"/><path d="M10 15.5h26" stroke-dasharray="1 16 1 7 1 135"/><path d="M62 16.5h1" stroke-dasharray="1 135"/><path d="M117 17.5h1" stroke-dasharray="1 135"/><path d="M7 18.5h128" stroke-dasharray="1 15 1 26 1 83 1 135"/><path d="M17 19.5h69" stroke-dasharray="1 2 1 2 1 34 1 26 1 135"/><path d="M32 20.5h1" stroke-dasharray="1 135"/><path d="M25 21.5h12" stroke-dasharray="1 1 1 8 1 135"/><path d="M60 22.5h1" stroke-dasharray="1 135"/><path d="M61 23.5h5" stroke-dasharray="1 3 1 135"/><path d="M0 24.5h127" stroke-dasharray="1 125 1 135"/><path d="M13 25.5h105" stroke-dasharray="1 23 1 15 1 23 1 16 1 22 1 135"/><path d="M14 26.5h115" stroke-dasharray="1 21 1 16 1 68 1 5 1 135"/><path d="M24 27.5h33" stroke-dasharray="2 30 1 135"/><path d="M26 28.5h56" stroke-dasharray="1 3 1 2 1 47 1 135"/><path d="M32 29.5h1" stroke-dasharray="1 135"/><path d="M17 30.5h48" stroke-dasharray="1 10 1 4 2 2 1 12 1 13 1 135"/><path d="M18 31.5h59" stroke-dasharray="3 6 1 16 1 8 1 22 1 135"/><path d="M24 32.5h90" stroke-dasharray="1 2 2 1 1 25 2 13 1 3 2 19 1 10 1 5 1 135"/><path d="M24 33.5h102" stroke-dasharray="1 5 1 1 1 92 1 135"/><path d="M28 34.5h100" stroke-dasharray="1 3 1 29 1 26 1 37 1 135"/><path d="M36 35.5h34" stroke-dasharray="1 4 1 27 1 135"/><path d="M35 36.5h53" stroke-dasharray="1 9 1 10 1 3 1 26 1 135"/><path d="M42 37.5h83" stroke-dasharray="1 13 1 67 1 135"/><path d="M50 38.5h51" stroke-dasharray="1 4 1 31 1 12 1 135"/><path d="M48 39.5h64" stroke-dasharray="1 1 1 35 2 23 1 135"/><path d="M24 40.5h34" stroke-dasharray="1 32 1 135"/><path d="M27 41.5h68" stroke-dasharray="1 16 1 49 1 135"/><path d="M17 42.5h57" stroke-dasharray="1 55 1 135"/><path d="M20 43.5h108" stroke-dasharray="1 62 1 8 1 8 1 25 1 135"/><path d="M43 44.5h65" stroke-dasharray="1 4 3 22 1 18 1 14 1 135"/><path d="M11 45.5h89" stroke-dasharray="1 11 3 6 1 4 1 2 1 58 1 135"/><path d="M31 46.5h75" stroke-dasharray="1 13 1 33 1 3 1 21 1 135"/><path d="M3 47.5h127" stroke-dasharray="1 52 1 5 1 16 1 7 1 14 1 11 2 13 1 135"/><path d="M54 48.5h55" stroke-dasharray="1 7 1 15 1 29 1 135"/><path d="M32 49.5h92" stroke-dasharray="1 23 1 37 1 8 1 19 1 135"/><path d="M44 50.5h60" stroke-dasharray="1 16 1 23 1 3 1 4 1 7 2 135"/><path d="M36 51.5h77" stroke-dasharray="2 8 1 12 1 11 1 1 2 14 1 13 1 1 3 4 1 135"/><path d="M18 52.5h103" stroke-dasharray="1 16 1 38 2 34 1 6 1 2 1 135"/><path d="M0 53.5h112" stroke-dasharray="1 10 1 10 1 10 1 8 1 6 2 18 1 29 1 11 1 135"/><path d="M1 54.5h115" stroke-dasharray="1 33 1 5 1 55 1 17 1 135"/><path d="M10 55.5h105" stroke-dasharray="1 19 1 19 1 7 1 8 1 12 1 12 1 4 1 13 1 1 1 135"/><path d="M26 56.5h109" stroke-dasharray="1 22 1 9 1 16 1 3 1 2 1 8 1 8 1 13 3 16 1 135"/><path d="M58 57.5h71" stroke-dasharray="1 24 1 13 1 15 1 14 1 135"/><path d="M52 58.5h57" stroke-dasharray="1 3 1 3 1 7 1 11 1 2 1 1 3 20 1 135"/><path d="M36 59.5h99" stroke-dasharray="1 22 1 13 1 12 1 36 1 1 1 8 1 135"/><path d="M54 60.5h53" stroke-dasharray="1 21 1 8 1 14 1 5 1 135"/><path d="M39 61.5h96" stroke-dasharray="1 26 1 14 1 22 1 10 1 18 1 135"/><path d="M58 62.5h77" stroke-dasharray="1 9 1 60 2 3 1 135"/><path d="M44 63.5h68" stroke-dasharray="1 15 1 11 1 5 1 3 1 28 1 135"/><path d="M15 64.5h113" stroke-dasharray="1 3 1 4 1 17 1 2 1 22 1 3 1 48 1 3 1 1 1 135"/><path d="M19 65.5h95" stroke-dasharray="1 22 1 13 2 14 1 1 1 11 1 5 1 15 1 4 1 135"/><path d="M44 66.5h82" stroke-dasharray="1 43 1 14 1 13 1 7 1 135"/><path d="M17 67.5h96" stroke-dasharray="1 31 1 6 1 18 1 12 1 23 1 135"/><path d="M42 68.5h89" stroke-dasharray="2 12 1 15 1 6 1 19 1 16 1 6 1 3 2 1 1 135"/><path d="M72 69.5h17" stroke-dasharray="1 3 1 5 1 5 1 135"/><path d="M26 70.5h108" stroke-dasharray="1 19 1 4 2 6 1 22 1 9 1 1 1 38 1 135"/><path d="M67 71.5h37" stroke-dasharray="1 5 1 20 1 8 1 135"/><path d="M31 72.5h78" stroke-dasharray="1 3 2 11 1 13 1 36 1 3 1 4 1 135"/><path d="M34 73.5h93" stroke-dasharray="1 9 1 65 1 11 1 1 1 1 1 135"/><path d="M27 74.5h107" stroke-dasharray="2 6 1 25 2 9 1 32 1 13 1 13 1 135"/><path d="M29 75.5h82" stroke-dasharray="1 27 1 23 1 28 1 135"/><path d="M52 76.5h66" stroke-dasharray="1 10 1 8 1 5 1 15 1 16 2 4 1 135"/><path d="M46 77.5h67" stroke-dasharray="1 9 1 15 1 17 1 4 1 16 1 135"/><path d="M42 78.5h72" stroke-dasharray="1 31 1 30 1 7 1 135"/><path d="M47 79.5h52" stroke-dasharray="1 14 1 30 1 1 1 2 1 135"/><path d="M21 81.5h108" stroke-dasharray="1 42 1 20 1 32 1 9 1 135"/><path d="M24 82.5h107" stroke-dasharray="1 2 1 11 1 22 1 1 1 8 1 26 1 17 1 10 2 135"/><path d="M51 83.5h72" stroke-dasharray="2 69 1 135"/><path d="M93 84.5h18" stroke-dasharray="1 13 1 1 2 135"/><path d="M57 85.5h36" stroke-dasharray="1 28 1 5 1 135"/><path d="M23 86.5h26" stroke-dasharray="1 18 1 4 2 135"/><path d="M42 87.5h68" stroke-dasharray="1 66 1 135"/><path d="M104 88.5h20" stroke-dasharray="1 18 1 135"/><path d="M37 89.5h86" stroke-dasharray="1 4 2 64 1 13 1 135"/><path d="M40 90.5h79" stroke-dasharray="1 14 1 55 1 6 1 135"/><path d="M6 91.5h102" stroke-dasharray="1 19 1 80 1 135"/><path d="M25 92.5h95" stroke-dasharray="1 81 1 11 1 135"/><path d="M27 93.5h97" stroke-dasharray="1 73 1 13 1 6 2 135"/><path d="M105 94.5h4" stroke-dasharray="1 2 1 135"/><path d="M5 95.5h124" stroke-dasharray="1 24 1 5 1 60 1 11 1 18 1 135"/><path d="M104 96.5h23" stroke-dasharray="1 12 1 8 1 135"/><path d="M20 97.5h115" stroke-dasharray="1 9 1 6 1 55 1 5 1 19 1 14 1 135"/><path d="M20 98.5h113" stroke-dasharray="1 11 1 60 1 15 1 22 1 135"/><path d="M37 99.5h98" stroke-dasharray="1 76 1 6 1 12 1 135"/><path d="M1 100.5h9" stroke-dasharray="1 7 1 135"/><path d="M56 101.5h78" stroke-dasharray="1 54 1 14 1 6 1 135"/><path d="M30 102.5h90" stroke-dasharray="1 88 1 135"/><path d="M11 103.5h39" stroke-dasharray="1 8 1 28 1 135"/><path d="M6 104.5h39" stroke-dasharray="1 13 1 7 1 15 1 135"/><path d="M6 105.5h98" stroke-dasharray="1 44 1 51 1 135"/><path d="M99 106.5h1" stroke-dasharray="1 135"/><path d="M25 107.5h109" stroke-dasharray="1 16 1 3 1 67 1 18 1 135"/><path d="M71 108.5h32" stroke-dasharray="1 30 1 135"/><path d="M30 109.5h105" stroke-dasharray="1 24 1 6 1 40 1 16 1 9 1 3 1 135"/><path d="M29 110.5h96" stroke-dasharray="1 94 1 135"/><path d="M24 111.5h104" stroke-dasharray="1 102 1 135"/><path d="M19 112.5h97" stroke-dasharray="1 95 1 135"/><path d="M33 113.5h83" stroke-dasharray="1 69 1 11 1 135"/><path d="M73 114.5h49" stroke-dasharray="1 17 1 29 1 135"/><path d="M10 115.5h121" stroke-dasharray="1 38 1 80 1 135"/><path d="M8 116.5h122" stroke-dasharray="1 8 1 111 1 135"/><path d="M40 117.5h88" stroke-dasharray="1 2 1 58 1 22 1 1 1 135"/><path d="M108 119.5h26" stroke-dasharray="1 5 1 18 1 135"/><path d="M60 121.5h72" stroke-dasharray="1 51 1 18 1 135"/><path d="M48 122.5h50" stroke-dasharray="1 36 1 11 1 135"/><path d="M30 123.5h95" stroke-dasharray="1 53 1 39 1 135"/><path d="M29 124.5h1" stroke-dasharray="1 135"/><path d="M27 125.5h1" stroke-dasharray="1 135"/><path d="M18 126.5h28" stroke-dasharray="1 4 1 4 1 16 1 135"/><path d="M96 127.5h7" stroke-dasharray="1 5 1 135"/><path d="M89 128.5h13" stroke-dasharray="1 11 1 135"/><path d="M14 129.5h116" stroke-dasharray="1 114 1 135"/><path d="M24 130.5h1" stroke-dasharray="1 135"/><path d="M4 131.5h1" stroke-dasharray="1 135"/><path d="M24 132.5h1" stroke-dasharray="1 135"/><path d="M23 133.5h109" stroke-dasharray="1 2 1 7 1 50 1 22 1 22 1 135"/><path d="M86 134.5h18" stroke-dasharray="1 6 2 8 1 135"/><path d="M15 135.5h110" stroke-dasharray="1 5 1 101 2 135"/><path d="M15 136.5h80" stroke-dasharray="1 6 1 71 1 135"/></g>
</g>
<line x1="40.0" y1="196.0" x2="50.0" y2="194.0" stroke="#d0cee8" stroke-width="2.2" stroke-linecap="round" opacity="0.40"/>
<line x1="75.0" y1="231.0" x2="82.0" y2="228.0" stroke="#d0cee8" stroke-width="2.0" stroke-linecap="round" opacity="0.40"/>
<line x1="114.0" y1="218.0" x2="129.0" y2="210.0" stroke="#d0cee8" stroke-width="2.0" stroke-linecap="round" opacity="0.40"/>
<line x1="123.0" y1="237.0" x2="139.0" y2="232.0" stroke="#d0cee8" stroke-width="2.5" stroke-linecap="round" opacity="0.40"/>
<line x1="140.0" y1="226.0" x2="150.0" y2="222.0" stroke="#d0cee8" stroke-width="1.8" stroke-linecap="round" opacity="0.40"/>
<line x1="95.0" y1="213.0" x2="100.0" y2="212.0" stroke="#d0cee8" stroke-width="1.8" stroke-linecap="round" opacity="0.40"/>
<line x1="40.0" y1="262.0" x2="48.0" y2="260.0" stroke="#d0cee8" stroke-width="1.8" stroke-linecap="round" opacity="0.40"/>
<line x1="45.0" y1="296.0" x2="52.0" y2="295.0" stroke="#d0cee8" stroke-width="2.0" stroke-linecap="round" opacity="0.40"/>
<g transform="translate(108.00 249.00)">
<rect width="54" height="55" fill="rgb(58, 54, 150)"/>
<g stroke="#241e6e" fill="none"><path d="M1 0.5h49" stroke-dasharray="1 1 1 4 1 1 1 6 1 1 3 6 1 1 1 7 1 2 1 7 1 54"/><path d="M0 1.5h54" stroke-dasharray="3 2 1 3 1 10 1 4 1 1 1 5 1 5 1 3 1 9 1 54"/><path d="M9 2.5h41" stroke-dasharray="2 14 2 2 2 3 2 6 1 2 1 3 1 54"/><path d="M10 3.5h40" stroke-dasharray="1 1 1 11 1 3 2 14 1 4 1 54"/><path d="M4 4.5h49" stroke-dasharray="2 3 1 1 1 6 1 2 1 6 1 7 1 1 1 2 1 4 2 3 2 54"/><path d="M4 5.5h47" stroke-dasharray="1 5 2 5 2 1 2 3 1 1 1 6 1 4 1 7 1 2 1 54"/><path d="M0 6.5h48" stroke-dasharray="1 3 1 1 2 2 2 3 1 3 1 4 3 6 1 3 1 5 1 3 1 54"/><path d="M5 7.5h48" stroke-dasharray="4 7 1 3 1 2 1 2 1 10 1 5 2 5 1 1 1 54"/><path d="M10 8.5h44" stroke-dasharray="1 8 1 6 2 10 1 2 1 2 1 8 1 54"/><path d="M5 9.5h39" stroke-dasharray="1 2 2 6 1 10 1 8 5 1 2 54"/><path d="M3 10.5h49" stroke-dasharray="1 6 2 4 1 3 1 13 1 1 1 3 1 3 1 6 1 54"/><path d="M9 11.5h39" stroke-dasharray="1 3 1 2 1 5 1 2 1 1 1 7 1 3 1 3 2 2 1 54"/><path d="M0 12.5h47" stroke-dasharray="1 6 2 2 1 1 1 1 1 9 1 20 1 54"/><path d="M3 13.5h41" stroke-dasharray="3 1 1 4 2 1 2 7 1 7 2 3 1 1 2 2 1 54"/><path d="M3 14.5h49" stroke-dasharray="2 3 1 13 1 5 1 3 1 1 4 1 2 1 1 8 1 54"/><path d="M15 15.5h33" stroke-dasharray="1 3 1 1 1 5 2 6 2 3 2 5 1 54"/><path d="M1 16.5h53" stroke-dasharray="4 1 1 3 1 7 1 2 2 1 1 1 3 15 2 7 1 54"/><path d="M1 17.5h47" stroke-dasharray="2 2 1 1 1 9 2 13 1 4 1 4 2 1 1 1 1 54"/><path d="M1 18.5h46" stroke-dasharray="1 4 1 9 1 1 1 2 2 6 1 10 1 1 1 1 1 1 1 54"/><path d="M0 19.5h52" stroke-dasharray="1 2 1 9 1 1 2 4 1 8 2 1 2 4 1 2 1 6 3 54"/><path d="M0 20.5h51" stroke-dasharray="2 10 1 1 1 1 2 1 1 2 2 4 1 1 5 10 1 4 1 54"/><path d="M3 21.5h48" stroke-dasharray="1 9 1 5 1 7 1 3 1 13 1 4 1 54"/><path d="M9 22.5h43" stroke-dasharray="1 13 1 5 1 4 2 6 1 5 1 2 1 54"/><path d="M12 23.5h42" stroke-dasharray="1 5 2 4 2 13 1 6 3 3 2 54"/><path d="M0 24.5h46" stroke-dasharray="1 6 1 3 1 4 2 1 1 2 3 7 1 3 1 8 1 54"/><path d="M15 25.5h38" stroke-dasharray="1 3 1 4 2 1 1 3 1 3 1 6 1 2 1 6 1 54"/><path d="M7 26.5h44" stroke-dasharray="2 2 1 1 1 1 2 1 1 4 1 4 1 1 3 1 1 15 1 54"/><path d="M4 27.5h48" stroke-dasharray="1 3 2 2 1 6 1 2 1 3 2 3 2 2 2 4 2 4 1 2 2 54"/><path d="M2 28.5h50" stroke-dasharray="1 1 1 1 1 15 1 3 1 16 1 2 2 1 1 1 1 54"/><path d="M1 29.5h52" stroke-dasharray="6 20 1 6 1 4 1 1 1 1 1 1 3 4 1 54"/><path d="M1 30.5h44" stroke-dasharray="1 2 1 3 1 2 2 1 1 4 1 12 1 3 1 7 1 54"/><path d="M6 31.5h44" stroke-dasharray="1 17 1 1 3 1 2 4 1 2 3 3 2 2 1 54"/><path d="M2 32.5h43" stroke-dasharray="1 2 1 2 1 4 1 1 5 1 1 2 1 2 1 8 1 1 1 1 1 3 1 54"/><path d="M0 33.5h50" stroke-dasharray="1 3 3 1 1 4 1 4 2 7 1 5 2 5 2 4 4 54"/><path d="M4 34.5h42" stroke-dasharray="1 2 1 5 1 2 2 1 1 2 1 1 1 2 1 1 3 4 1 2 1 5 1 54"/><path d="M0 35.5h54" stroke-dasharray="1 2 2 1 2 8 1 3 3 2 2 3 1 1 1 11 2 3 2 2 1 54"/><path d="M0 36.5h51" stroke-dasharray="1 4 1 8 2 11 1 9 1 6 7 54"/><path d="M6 37.5h48" stroke-dasharray="1 1 2 9 1 2 1 2 1 1 1 3 1 5 3 5 1 1 2 2 3 54"/><path d="M0 38.5h48" stroke-dasharray="1 5 1 14 3 2 1 1 1 1 1 5 1 3 1 6 1 54"/><path d="M1 39.5h52" stroke-dasharray="1 7 1 3 2 3 1 1 1 10 1 4 2 1 1 1 1 7 4 54"/><path d="M0 40.5h51" stroke-dasharray="1 1 1 1 1 7 1 4 1 3 2 3 1 8 1 2 1 1 2 5 1 2 1 54"/><path d="M10 41.5h44" stroke-dasharray="4 9 2 1 1 3 1 3 1 1 1 7 1 7 2 54"/><path d="M12 42.5h39" stroke-dasharray="1 2 2 10 3 2 2 1 1 9 1 4 1 54"/><path d="M14 43.5h34" stroke-dasharray="2 6 1 1 1 7 1 1 1 12 1 54"/><path d="M3 44.5h51" stroke-dasharray="1 7 1 2 1 3 1 2 1 1 1 6 1 1 4 2 2 12 2 54"/><path d="M1 45.5h52" stroke-dasharray="1 2 2 15 1 12 3 8 1 3 1 1 2 54"/><path d="M3 46.5h51" stroke-dasharray="1 11 1 1 1 1 1 15 1 1 2 3 1 4 1 4 2 54"/><path d="M18 47.5h36" stroke-dasharray="1 2 1 1 1 1 1 7 1 6 1 4 1 1 1 1 1 2 2 54"/><path d="M4 48.5h46" stroke-dasharray="1 9 1 7 3 4 1 1 1 1 1 8 1 4 1 1 1 54"/><path d="M2 49.5h52" stroke-dasharray="1 3 1 2 2 2 3 1 2 2 2 8 2 1 1 1 1 7 2 4 1 2 1 54"/><path d="M1 50.5h46" stroke-dasharray="1 5 1 5 4 3 1 3 1 6 1 2 1 1 1 1 3 1 3 1 1 54"/><path d="M9 51.5h44" stroke-dasharray="2 2 1 2 1 17 1 5 1 4 2 2 2 1 1 54"/><path d="M1 52.5h42" stroke-dasharray="1 4 1 8 2 9 1 6 1 2 1 5 1 54"/><path d="M3 53.5h49" stroke-dasharray="1 4 1 7 1 1 3 5 1 9 2 11 3 54"/><path d="M5 54.5h42" stroke-dasharray="1 11 1 1 1 2 1 1 2 4 1 3 2 4 1 5 1 54"/></g>
<g stroke="#5452b6" fill="none"><path d="M39 0.5h13" stroke-dasharray="1 11 1 54"/><path d="M7 1.5h46" stroke-dasharray="1 5 1 3 1 1 1 9 2 7 1 5 1 7 1 54"/><path d="M7 2.5h15" stroke-dasharray="1 5 1 7 1 54"/><path d="M1 3.5h51" stroke-dasharray="1 3 1 19 2 8 1 6 1 3 1 3 2 54"/><path d="M0 4.5h49" stroke-dasharray="1 9 1 1 2 12 1 13 1 7 1 54"/><path d="M9 5.5h45" stroke-dasharray="1 4 1 4 1 20 1 10 1 1 1 54"/><path d="M5 6.5h44" stroke-dasharray="1 14 1 14 1 10 1 1 1 54"/><path d="M41 7.5h1" stroke-dasharray="1 54"/><path d="M3 8.5h50" stroke-dasharray="1 2 1 4 1 16 1 8 1 4 1 6 1 2 1 54"/><path d="M4 9.5h31" stroke-dasharray="1 17 1 7 1 3 1 54"/><path d="M6 10.5h38" stroke-dasharray="1 2 1 13 1 11 1 7 1 54"/><path d="M1 11.5h50" stroke-dasharray="1 3 1 2 1 2 1 8 1 24 2 1 1 1 1 54"/><path d="M1 12.5h53" stroke-dasharray="1 4 1 28 1 17 1 54"/><path d="M1 13.5h38" stroke-dasharray="1 16 1 3 1 15 1 54"/><path d="M1 14.5h44" stroke-dasharray="1 5 1 30 1 5 1 54"/><path d="M0 15.5h53" stroke-dasharray="1 2 1 3 1 14 1 29 1 54"/><path d="M7 16.5h41" stroke-dasharray="1 1 1 9 1 20 1 6 1 54"/><path d="M0 17.5h22" stroke-dasharray="1 3 1 14 1 1 1 54"/><path d="M2 18.5h46" stroke-dasharray="2 15 1 8 1 4 1 1 2 8 1 1 1 54"/><path d="M1 19.5h47" stroke-dasharray="1 24 1 2 1 6 2 2 1 3 1 2 1 54"/><path d="M21 20.5h1" stroke-dasharray="1 54"/><path d="M2 21.5h47" stroke-dasharray="1 17 1 4 1 2 1 6 1 12 1 54"/><path d="M8 22.5h45" stroke-dasharray="1 11 1 4 2 4 1 1 1 10 1 7 1 54"/><path d="M8 23.5h27" stroke-dasharray="1 13 1 8 1 2 1 54"/><path d="M26 24.5h22" stroke-dasharray="1 4 1 9 1 5 1 54"/><path d="M11 25.5h36" stroke-dasharray="1 18 1 2 1 7 1 4 1 54"/><path d="M9 26.5h34" stroke-dasharray="2 11 1 19 1 54"/><path d="M11 27.5h39" stroke-dasharray="1 4 1 17 1 11 1 2 1 54"/><path d="M25 28.5h24" stroke-dasharray="1 15 1 6 1 54"/><path d="M0 29.5h54" stroke-dasharray="1 12 1 1 1 24 1 3 1 3 2 3 1 54"/><path d="M28 30.5h26" stroke-dasharray="1 11 4 1 1 1 1 3 1 1 1 54"/><path d="M8 31.5h30" stroke-dasharray="1 28 1 54"/><path d="M12 32.5h26" stroke-dasharray="1 24 1 54"/><path d="M8 34.5h26" stroke-dasharray="1 9 1 14 1 54"/><path d="M19 35.5h33" stroke-dasharray="1 11 1 16 1 2 1 54"/><path d="M1 36.5h51" stroke-dasharray="1 1 1 15 1 31 1 54"/><path d="M20 37.5h23" stroke-dasharray="1 3 1 17 1 54"/><path d="M10 38.5h43" stroke-dasharray="1 1 1 7 1 10 1 5 1 13 2 54"/><path d="M11 39.5h43" stroke-dasharray="1 22 2 17 1 54"/><path d="M3 40.5h51" stroke-dasharray="1 7 1 2 1 16 1 2 1 17 2 54"/><path d="M0 41.5h51" stroke-dasharray="1 13 2 1 1 11 1 10 1 1 1 2 1 4 1 54"/><path d="M1 42.5h40" stroke-dasharray="3 6 1 3 1 9 1 11 1 3 1 54"/><path d="M10 43.5h18" stroke-dasharray="1 1 1 3 1 4 1 5 1 54"/><path d="M16 44.5h26" stroke-dasharray="2 7 2 9 1 3 2 54"/><path d="M12 45.5h28" stroke-dasharray="2 25 1 54"/><path d="M2 46.5h40" stroke-dasharray="1 10 1 8 1 13 1 3 2 54"/><path d="M6 47.5h36" stroke-dasharray="1 9 1 2 1 19 1 1 1 54"/><path d="M5 48.5h44" stroke-dasharray="1 9 1 2 1 16 1 8 1 3 1 54"/><path d="M12 49.5h41" stroke-dasharray="1 17 1 21 1 54"/><path d="M17 50.5h16" stroke-dasharray="1 1 1 12 1 54"/><path d="M4 51.5h32" stroke-dasharray="1 3 1 20 1 2 1 2 1 54"/><path d="M43 52.5h1" stroke-dasharray="1 54"/><path d="M0 53.5h36" stroke-dasharray="2 19 1 6 1 6 1 54"/><path d="M9 54.5h43" stroke-dasharray="1 27 1 13 1 54"/></g>
<g stroke="#7878ce" fill="none"><path d="M0 0.5h1" stroke-dasharray="1 54"/><path d="M8 1.5h1" stroke-dasharray="1 54"/><path d="M53 2.5h1" stroke-dasharray="1 54"/><path d="M18 3.5h31" stroke-dasharray="1 29 1 54"/><path d="M14 4.5h37" stroke-dasharray="1 10 1 13 1 10 1 54"/><path d="M49 6.5h4" stroke-dasharray="1 2 1 54"/><path d="M49 7.5h1" stroke-dasharray="1 54"/><path d="M45 8.5h2" stroke-dasharray="2 54"/><path d="M26 10.5h1" stroke-dasharray="1 54"/><path d="M12 12.5h39" stroke-dasharray="1 26 1 7 4 54"/><path d="M2 13.5h5" stroke-dasharray="1 3 1 54"/><path d="M4 15.5h1" stroke-dasharray="1 54"/><path d="M26 17.5h16" stroke-dasharray="1 14 1 54"/><path d="M30 18.5h1" stroke-dasharray="1 54"/><path d="M18 19.5h11" stroke-dasharray="1 9 1 54"/><path d="M15 20.5h22" stroke-dasharray="1 20 1 54"/><path d="M24 21.5h7" stroke-dasharray="1 5 1 54"/><path d="M27 22.5h15" stroke-dasharray="1 2 1 10 1 54"/><path d="M42 24.5h1" stroke-dasharray="1 54"/><path d="M18 25.5h1" stroke-dasharray="1 54"/><path d="M12 29.5h31" stroke-dasharray="1 1 1 1 1 14 1 10 1 54"/><path d="M5 30.5h27" stroke-dasharray="2 8 1 15 1 54"/><path d="M5 31.5h1" stroke-dasharray="1 54"/><path d="M20 32.5h22" stroke-dasharray="1 20 1 54"/><path d="M31 33.5h9" stroke-dasharray="1 7 1 54"/><path d="M38 34.5h1" stroke-dasharray="1 54"/><path d="M15 35.5h1" stroke-dasharray="1 54"/><path d="M32 36.5h1" stroke-dasharray="1 54"/><path d="M23 37.5h1" stroke-dasharray="1 54"/><path d="M16 38.5h30" stroke-dasharray="1 10 1 17 1 54"/><path d="M19 39.5h1" stroke-dasharray="1 54"/><path d="M42 40.5h7" stroke-dasharray="1 5 1 54"/><path d="M8 41.5h24" stroke-dasharray="2 21 1 54"/><path d="M31 42.5h22" stroke-dasharray="1 20 1 54"/><path d="M25 43.5h21" stroke-dasharray="1 7 1 11 1 54"/><path d="M1 46.5h16" stroke-dasharray="1 14 1 54"/><path d="M46 48.5h7" stroke-dasharray="1 5 1 54"/><path d="M8 49.5h31" stroke-dasharray="1 29 1 54"/><path d="M4 50.5h42" stroke-dasharray="1 30 1 9 1 54"/><path d="M1 51.5h1" stroke-dasharray="1 54"/><path d="M4 52.5h1" stroke-dasharray="1 54"/><path d="M14 53.5h30" stroke-dasharray="1 28 1 54"/><path d="M20 54.5h33" stroke-dasharray="1 21 1 9 1 54"/></g>
<g stroke="#a5a2de" fill="none"><path d="M9 0.5h45" stroke-dasharray="1 5 1 8 2 3 1 3 1 6 1 3 2 7 1 54"/><path d="M4 1.5h20" stroke-dasharray="1 18 1 54"/><path d="M0 2.5h45" stroke-dasharray="5 14 1 7 1 16 1 54"/><path d="M3 3.5h30" stroke-dasharray="1 5 1 1 1 5 1 3 1 8 3 54"/><path d="M6 4.5h24" stroke-dasharray="1 9 1 5 1 6 1 54"/><path d="M22 5.5h28" stroke-dasharray="1 25 2 54"/><path d="M1 6.5h38" stroke-dasharray="2 31 1 3 1 54"/><path d="M2 7.5h28" stroke-dasharray="2 15 1 1 1 7 1 54"/><path d="M14 8.5h22" stroke-dasharray="1 6 4 8 1 1 1 54"/><path d="M3 9.5h51" stroke-dasharray="1 6 2 1 1 1 1 5 1 1 2 28 1 54"/><path d="M19 10.5h31" stroke-dasharray="1 10 1 10 1 7 1 54"/><path d="M3 11.5h38" stroke-dasharray="2 14 1 3 2 15 1 54"/><path d="M4 12.5h37" stroke-dasharray="2 8 1 8 1 10 1 5 1 54"/><path d="M0 13.5h53" stroke-dasharray="1 25 2 18 1 2 1 2 1 54"/><path d="M16 14.5h28" stroke-dasharray="1 1 1 24 1 54"/><path d="M2 15.5h49" stroke-dasharray="1 7 1 7 1 1 1 4 1 6 1 4 2 5 1 5 1 54"/><path d="M0 16.5h52" stroke-dasharray="1 11 1 19 2 3 2 10 1 1 1 54"/><path d="M6 17.5h41" stroke-dasharray="1 1 1 1 2 2 1 12 3 8 1 7 1 54"/><path d="M8 18.5h36" stroke-dasharray="2 2 1 10 1 19 1 54"/><path d="M8 19.5h36" stroke-dasharray="1 13 3 16 1 1 1 54"/><path d="M26 20.5h27" stroke-dasharray="1 12 3 7 1 2 1 54"/><path d="M0 21.5h53" stroke-dasharray="2 5 1 3 2 10 1 14 2 1 1 7 1 2 1 54"/><path d="M0 22.5h47" stroke-dasharray="1 1 1 8 1 16 1 16 2 54"/><path d="M1 23.5h51" stroke-dasharray="3 2 1 21 1 8 1 5 1 1 1 3 1 1 1 54"/><path d="M2 24.5h52" stroke-dasharray="3 1 1 3 1 19 1 3 1 14 2 2 1 54"/><path d="M1 25.5h48" stroke-dasharray="1 1 3 2 1 39 1 54"/><path d="M0 26.5h44" stroke-dasharray="2 41 1 54"/><path d="M0 27.5h53" stroke-dasharray="2 5 1 16 2 3 1 22 1 54"/><path d="M1 28.5h28" stroke-dasharray="1 21 1 4 1 54"/><path d="M28 29.5h10" stroke-dasharray="1 3 1 3 2 54"/><path d="M9 30.5h41" stroke-dasharray="1 13 1 25 1 54"/><path d="M3 31.5h50" stroke-dasharray="1 6 1 1 2 15 1 3 1 10 1 2 2 3 1 54"/><path d="M0 32.5h54" stroke-dasharray="1 25 1 20 2 3 2 54"/><path d="M9 33.5h44" stroke-dasharray="2 4 1 5 1 28 3 54"/><path d="M6 34.5h46" stroke-dasharray="1 7 1 29 1 6 1 54"/><path d="M5 35.5h31" stroke-dasharray="1 8 1 13 1 6 1 54"/><path d="M7 36.5h46" stroke-dasharray="1 9 2 22 2 9 1 54"/><path d="M13 37.5h32" stroke-dasharray="1 3 1 23 1 2 1 54"/><path d="M4 38.5h47" stroke-dasharray="2 8 2 16 1 1 1 8 1 5 2 54"/><path d="M4 39.5h35" stroke-dasharray="2 9 1 8 1 3 1 9 1 54"/><path d="M10 40.5h42" stroke-dasharray="1 7 1 9 1 8 1 13 1 54"/><path d="M4 41.5h34" stroke-dasharray="1 1 2 17 1 11 1 54"/><path d="M26 42.5h12" stroke-dasharray="1 10 1 54"/><path d="M4 43.5h34" stroke-dasharray="1 14 1 15 3 54"/><path d="M4 44.5h34" stroke-dasharray="1 17 1 14 1 54"/><path d="M0 45.5h30" stroke-dasharray="1 1 1 4 1 15 2 3 2 54"/><path d="M0 46.5h51" stroke-dasharray="1 3 1 29 1 15 1 54"/><path d="M5 47.5h46" stroke-dasharray="1 8 1 2 1 32 1 54"/><path d="M30 48.5h24" stroke-dasharray="1 22 1 54"/><path d="M7 49.5h35" stroke-dasharray="1 19 1 13 1 54"/><path d="M2 50.5h28" stroke-dasharray="2 5 1 8 1 9 2 54"/><path d="M0 51.5h49" stroke-dasharray="1 6 1 6 1 2 1 7 1 1 2 15 1 2 2 54"/><path d="M2 52.5h48" stroke-dasharray="2 7 1 15 2 18 3 54"/><path d="M4 53.5h50" stroke-dasharray="2 5 2 4 1 14 1 20 1 54"/><path d="M1 54.5h53" stroke-dasharray="1 4 2 4 2 12 1 2 1 1 2 3 1 16 1 54"/></g>
<g stroke="#dad6f2" fill="none"><path d="M5 0.5h46" stroke-dasharray="1 12 1 15 1 15 1 54"/><path d="M18 2.5h22" stroke-dasharray="1 3 1 8 1 7 1 54"/><path d="M6 3.5h33" stroke-dasharray="1 9 1 21 1 54"/><path d="M2 4.5h31" stroke-dasharray="2 3 1 24 1 54"/><path d="M23 5.5h19" stroke-dasharray="1 13 1 3 1 54"/><path d="M23 6.5h1" stroke-dasharray="1 54"/><path d="M1 7.5h24" stroke-dasharray="1 20 1 1 1 54"/><path d="M2 8.5h35" stroke-dasharray="1 17 1 15 1 54"/><path d="M28 9.5h1" stroke-dasharray="1 54"/><path d="M14 10.5h34" stroke-dasharray="2 5 1 5 1 19 1 54"/><path d="M41 11.5h1" stroke-dasharray="1 54"/><path d="M25 13.5h27" stroke-dasharray="1 19 1 5 1 54"/><path d="M2 14.5h1" stroke-dasharray="1 54"/><path d="M33 15.5h19" stroke-dasharray="1 11 1 5 1 54"/><path d="M11 16.5h42" stroke-dasharray="1 2 1 5 1 8 1 22 1 54"/><path d="M9 17.5h28" stroke-dasharray="1 2 2 22 1 54"/><path d="M10 18.5h43" stroke-dasharray="2 1 1 10 1 27 1 54"/><path d="M9 19.5h1" stroke-dasharray="1 54"/><path d="M2 20.5h37" stroke-dasharray="1 35 1 54"/><path d="M49 22.5h2" stroke-dasharray="2 54"/><path d="M7 23.5h44" stroke-dasharray="1 2 1 15 1 2 2 9 1 3 1 5 1 54"/><path d="M43 24.5h10" stroke-dasharray="1 7 2 54"/><path d="M2 25.5h42" stroke-dasharray="1 3 1 36 1 54"/><path d="M24 26.5h30" stroke-dasharray="1 28 1 54"/><path d="M20 27.5h26" stroke-dasharray="1 24 1 54"/><path d="M0 28.5h54" stroke-dasharray="1 16 1 6 1 27 2 54"/><path d="M22 29.5h8" stroke-dasharray="2 5 1 54"/><path d="M3 30.5h44" stroke-dasharray="1 6 1 11 1 6 2 15 1 54"/><path d="M43 31.5h1" stroke-dasharray="1 54"/><path d="M29 32.5h1" stroke-dasharray="1 54"/><path d="M25 33.5h2" stroke-dasharray="2 54"/><path d="M10 34.5h40" stroke-dasharray="1 4 1 10 1 15 2 5 1 54"/><path d="M13 35.5h30" stroke-dasharray="1 13 1 14 1 54"/><path d="M14 37.5h30" stroke-dasharray="1 28 1 54"/><path d="M33 38.5h10" stroke-dasharray="1 8 1 54"/><path d="M8 39.5h35" stroke-dasharray="1 16 1 16 1 54"/><path d="M7 40.5h19" stroke-dasharray="3 15 1 54"/><path d="M18 41.5h34" stroke-dasharray="1 9 1 22 1 54"/><path d="M6 42.5h46" stroke-dasharray="1 6 1 37 1 54"/><path d="M0 43.5h54" stroke-dasharray="1 51 2 54"/><path d="M0 44.5h25" stroke-dasharray="1 6 1 16 1 54"/><path d="M3 45.5h20" stroke-dasharray="1 18 1 54"/><path d="M18 46.5h1" stroke-dasharray="1 54"/><path d="M2 47.5h3" stroke-dasharray="1 1 1 54"/><path d="M7 48.5h10" stroke-dasharray="2 7 1 54"/><path d="M2 51.5h52" stroke-dasharray="2 14 1 34 1 54"/><path d="M0 52.5h54" stroke-dasharray="1 4 1 47 1 54"/><path d="M27 53.5h1" stroke-dasharray="1 54"/><path d="M11 54.5h11" stroke-dasharray="1 9 1 54"/></g>
<g stroke="#d42876" fill="none"><path d="M7 0.5h40" stroke-dasharray="1 6 1 7 1 9 1 13 1 54"/><path d="M10 1.5h39" stroke-dasharray="1 4 1 8 1 10 1 5 1 4 1 1 1 54"/><path d="M15 2.5h37" stroke-dasharray="2 19 2 12 2 54"/><path d="M0 3.5h24" stroke-dasharray="1 13 1 8 1 54"/><path d="M20 4.5h30" stroke-dasharray="1 3 1 18 1 5 1 54"/><path d="M0 5.5h45" stroke-dasharray="2 1 1 20 1 19 1 54"/><path d="M12 6.5h31" stroke-dasharray="3 2 1 4 1 18 2 54"/><path d="M9 7.5h45" stroke-dasharray="2 1 1 1 1 13 1 2 1 4 1 10 1 5 1 54"/><path d="M9 8.5h26" stroke-dasharray="1 2 2 1 2 1 1 15 1 54"/><path d="M0 9.5h53" stroke-dasharray="1 30 1 1 1 7 1 8 1 1 1 54"/><path d="M1 10.5h53" stroke-dasharray="2 34 2 6 1 4 1 1 2 54"/><path d="M29 11.5h24" stroke-dasharray="1 2 1 3 1 1 1 13 1 54"/><path d="M3 12.5h39" stroke-dasharray="1 5 1 7 1 9 4 2 1 7 1 54"/><path d="M9 13.5h40" stroke-dasharray="1 1 1 5 1 2 1 7 1 1 1 4 1 12 1 54"/><path d="M5 14.5h46" stroke-dasharray="1 4 1 13 3 2 3 14 2 2 1 54"/><path d="M13 15.5h36" stroke-dasharray="2 1 1 6 1 24 1 54"/><path d="M8 16.5h28" stroke-dasharray="1 4 1 16 1 3 2 54"/><path d="M20 17.5h11" stroke-dasharray="1 2 1 6 1 54"/><path d="M20 18.5h31" stroke-dasharray="1 6 1 3 1 2 1 15 1 54"/><path d="M5 19.5h34" stroke-dasharray="3 6 1 23 1 54"/><path d="M4 20.5h6" stroke-dasharray="1 3 2 54"/><path d="M5 21.5h49" stroke-dasharray="2 1 1 5 1 2 1 18 2 9 1 5 1 54"/><path d="M5 22.5h35" stroke-dasharray="1 8 1 1 1 20 1 1 1 54"/><path d="M0 23.5h28" stroke-dasharray="1 3 1 8 2 12 1 54"/><path d="M1 24.5h27" stroke-dasharray="1 6 1 16 1 1 1 54"/><path d="M7 25.5h31" stroke-dasharray="1 1 2 2 2 2 1 2 1 2 1 5 1 6 2 54"/><path d="M17 26.5h28" stroke-dasharray="1 17 1 8 1 54"/><path d="M13 27.5h41" stroke-dasharray="1 16 1 22 1 54"/><path d="M10 28.5h24" stroke-dasharray="1 18 2 2 1 54"/><path d="M9 29.5h27" stroke-dasharray="2 6 3 4 2 9 1 54"/><path d="M2 30.5h36" stroke-dasharray="1 13 2 7 1 9 1 1 1 54"/><path d="M4 31.5h50" stroke-dasharray="1 12 1 1 1 1 1 31 1 54"/><path d="M3 32.5h32" stroke-dasharray="1 2 1 2 1 12 1 11 1 54"/><path d="M1 33.5h53" stroke-dasharray="1 1 1 25 2 1 1 2 2 5 1 10 1 54"/><path d="M0 34.5h42" stroke-dasharray="1 19 1 14 1 4 2 54"/><path d="M1 35.5h46" stroke-dasharray="1 6 1 1 2 21 1 6 1 5 1 54"/><path d="M4 36.5h36" stroke-dasharray="1 5 1 9 1 8 1 9 1 54"/><path d="M2 37.5h48" stroke-dasharray="1 2 1 10 1 13 1 2 1 1 1 13 1 54"/><path d="M1 38.5h48" stroke-dasharray="1 6 1 8 1 11 1 5 1 8 1 1 1 1 1 54"/><path d="M16 39.5h33" stroke-dasharray="2 25 4 1 1 54"/><path d="M23 40.5h24" stroke-dasharray="2 7 1 13 1 54"/><path d="M21 41.5h23" stroke-dasharray="1 21 1 54"/><path d="M4 42.5h39" stroke-dasharray="1 4 1 8 1 2 1 20 1 54"/><path d="M5 43.5h34" stroke-dasharray="1 3 1 8 1 1 1 7 2 8 1 54"/><path d="M2 44.5h50" stroke-dasharray="1 2 2 1 1 4 1 17 1 10 2 6 2 54"/><path d="M6 45.5h37" stroke-dasharray="1 4 1 3 1 16 2 8 1 54"/><path d="M10 46.5h35" stroke-dasharray="1 19 1 1 1 11 1 54"/><path d="M8 47.5h44" stroke-dasharray="4 1 1 21 1 8 1 6 1 54"/><path d="M26 48.5h14" stroke-dasharray="1 12 1 54"/><path d="M1 49.5h39" stroke-dasharray="1 9 1 16 1 10 1 54"/><path d="M6 50.5h46" stroke-dasharray="1 18 1 4 1 18 3 54"/><path d="M11 51.5h28" stroke-dasharray="2 9 1 1 1 5 1 7 1 54"/><path d="M9 52.5h44" stroke-dasharray="2 11 1 6 1 2 1 4 1 1 1 1 1 9 2 54"/><path d="M6 53.5h40" stroke-dasharray="1 15 2 17 1 3 1 54"/><path d="M14 54.5h35" stroke-dasharray="1 1 1 16 1 14 1 54"/></g>
<g stroke="#b83a94" fill="none"><path d="M6 0.5h42" stroke-dasharray="1 5 1 10 1 2 1 8 1 11 1 54"/><path d="M11 1.5h40" stroke-dasharray="1 19 2 12 1 4 1 54"/><path d="M23 2.5h25" stroke-dasharray="1 22 2 54"/><path d="M4 3.5h34" stroke-dasharray="1 15 1 13 1 1 2 54"/><path d="M1 4.5h44" stroke-dasharray="1 6 1 6 1 3 1 7 1 16 1 54"/><path d="M2 5.5h44" stroke-dasharray="1 5 1 7 1 25 2 1 1 54"/><path d="M3 6.5h38" stroke-dasharray="1 25 1 6 1 2 2 54"/><path d="M4 7.5h36" stroke-dasharray="1 12 1 16 1 4 1 54"/><path d="M1 8.5h40" stroke-dasharray="1 3 1 25 1 8 1 54"/><path d="M1 9.5h51" stroke-dasharray="2 11 1 32 3 1 1 54"/><path d="M0 10.5h47" stroke-dasharray="1 23 1 17 1 3 1 54"/><path d="M18 11.5h36" stroke-dasharray="1 9 1 1 2 5 1 15 1 54"/><path d="M10 12.5h43" stroke-dasharray="1 7 3 11 1 9 1 8 2 54"/><path d="M19 13.5h35" stroke-dasharray="1 21 2 10 1 54"/><path d="M17 14.5h33" stroke-dasharray="1 27 1 3 1 54"/><path d="M9 15.5h41" stroke-dasharray="1 7 1 12 2 17 1 54"/><path d="M23 16.5h21" stroke-dasharray="1 7 1 10 2 54"/><path d="M35 17.5h19" stroke-dasharray="1 13 2 1 2 54"/><path d="M15 18.5h35" stroke-dasharray="1 16 1 16 1 54"/><path d="M53 19.5h1" stroke-dasharray="1 54"/><path d="M5 20.5h38" stroke-dasharray="2 11 1 5 2 16 1 54"/><path d="M4 21.5h48" stroke-dasharray="1 11 1 1 1 13 2 17 1 54"/><path d="M17 22.5h24" stroke-dasharray="1 14 1 5 1 1 1 54"/><path d="M15 23.5h2" stroke-dasharray="2 54"/><path d="M5 24.5h33" stroke-dasharray="1 7 1 7 1 7 1 7 1 54"/><path d="M44 25.5h4" stroke-dasharray="1 2 1 54"/><path d="M3 26.5h43" stroke-dasharray="1 17 1 14 1 1 1 2 1 3 1 54"/><path d="M38 27.5h11" stroke-dasharray="3 7 1 54"/><path d="M8 28.5h32" stroke-dasharray="2 6 1 1 1 1 1 16 1 1 1 54"/><path d="M8 29.5h44" stroke-dasharray="1 12 1 4 1 24 1 54"/><path d="M24 30.5h3" stroke-dasharray="1 1 1 54"/><path d="M15 31.5h20" stroke-dasharray="2 17 1 54"/><path d="M4 32.5h32" stroke-dasharray="1 5 1 19 3 2 1 54"/><path d="M43 33.5h1" stroke-dasharray="1 54"/><path d="M2 34.5h31" stroke-dasharray="1 29 1 54"/><path d="M2 35.5h38" stroke-dasharray="1 9 1 16 1 9 1 54"/><path d="M8 36.5h36" stroke-dasharray="1 2 1 4 1 13 1 2 1 2 1 1 1 4 1 54"/><path d="M1 37.5h36" stroke-dasharray="1 2 1 5 1 18 1 6 1 54"/><path d="M2 38.5h12" stroke-dasharray="1 10 1 54"/><path d="M23 39.5h1" stroke-dasharray="1 54"/><path d="M19 40.5h25" stroke-dasharray="1 23 1 54"/><path d="M5 41.5h16" stroke-dasharray="1 14 1 54"/><path d="M19 42.5h21" stroke-dasharray="2 1 1 15 2 54"/><path d="M2 43.5h50" stroke-dasharray="1 38 1 4 1 3 2 54"/><path d="M9 44.5h40" stroke-dasharray="1 19 1 18 1 54"/><path d="M9 45.5h23" stroke-dasharray="2 20 1 54"/><path d="M6 46.5h41" stroke-dasharray="2 1 1 15 5 1 1 1 1 9 1 2 1 54"/><path d="M7 47.5h37" stroke-dasharray="1 7 1 10 1 1 1 7 1 6 1 54"/><path d="M0 48.5h39" stroke-dasharray="2 11 1 22 3 54"/><path d="M26 49.5h15" stroke-dasharray="1 10 1 2 1 54"/><path d="M11 50.5h38" stroke-dasharray="2 13 2 13 1 6 1 54"/><path d="M21 51.5h31" stroke-dasharray="1 19 1 9 1 54"/><path d="M8 52.5h33" stroke-dasharray="1 3 2 3 1 1 1 3 2 13 1 1 1 54"/><path d="M9 53.5h44" stroke-dasharray="1 20 1 17 1 3 1 54"/><path d="M10 54.5h35" stroke-dasharray="1 4 1 28 1 54"/></g>
<g stroke="#de6eaa" fill="none"><path d="M22 1.5h16" stroke-dasharray="1 14 1 54"/><path d="M11 2.5h10" stroke-dasharray="1 8 1 54"/><path d="M15 3.5h1" stroke-dasharray="1 54"/><path d="M33 4.5h10" stroke-dasharray="1 8 1 54"/><path d="M31 5.5h1" stroke-dasharray="1 54"/><path d="M45 6.5h1" stroke-dasharray="1 54"/><path d="M11 7.5h38" stroke-dasharray="1 6 1 11 1 17 1 54"/><path d="M48 8.5h1" stroke-dasharray="1 54"/><path d="M32 9.5h1" stroke-dasharray="1 54"/><path d="M31 10.5h18" stroke-dasharray="1 16 1 54"/><path d="M2 12.5h37" stroke-dasharray="1 35 1 54"/><path d="M29 13.5h19" stroke-dasharray="1 17 1 54"/><path d="M9 14.5h12" stroke-dasharray="1 9 2 54"/><path d="M26 15.5h18" stroke-dasharray="1 16 1 54"/><path d="M50 16.5h1" stroke-dasharray="1 54"/><path d="M24 17.5h11" stroke-dasharray="1 9 1 54"/><path d="M14 18.5h1" stroke-dasharray="1 54"/><path d="M51 20.5h1" stroke-dasharray="1 54"/><path d="M40 21.5h1" stroke-dasharray="1 54"/><path d="M12 22.5h7" stroke-dasharray="2 4 1 54"/><path d="M5 23.5h13" stroke-dasharray="1 11 1 54"/><path d="M28 24.5h12" stroke-dasharray="1 10 1 54"/><path d="M4 26.5h37" stroke-dasharray="1 35 1 54"/><path d="M3 27.5h15" stroke-dasharray="1 13 1 54"/><path d="M31 28.5h1" stroke-dasharray="1 54"/><path d="M20 29.5h19" stroke-dasharray="1 9 1 7 1 54"/><path d="M18 30.5h4" stroke-dasharray="1 2 1 54"/><path d="M18 31.5h18" stroke-dasharray="1 16 1 54"/><path d="M51 32.5h1" stroke-dasharray="1 54"/><path d="M20 33.5h9" stroke-dasharray="1 7 1 54"/><path d="M1 34.5h47" stroke-dasharray="1 7 1 36 2 54"/><path d="M37 35.5h11" stroke-dasharray="2 2 1 5 1 54"/><path d="M35 36.5h1" stroke-dasharray="1 54"/><path d="M12 37.5h1" stroke-dasharray="1 54"/><path d="M38 38.5h1" stroke-dasharray="1 54"/><path d="M22 41.5h18" stroke-dasharray="1 16 1 54"/><path d="M41 42.5h1" stroke-dasharray="1 54"/><path d="M14 45.5h30" stroke-dasharray="1 10 1 4 1 12 1 54"/><path d="M12 46.5h1" stroke-dasharray="1 54"/><path d="M12 47.5h27" stroke-dasharray="1 14 1 3 1 5 2 54"/><path d="M40 48.5h12" stroke-dasharray="1 10 1 54"/><path d="M0 49.5h17" stroke-dasharray="1 15 1 54"/><path d="M26 51.5h6" stroke-dasharray="1 4 1 54"/><path d="M39 53.5h1" stroke-dasharray="1 54"/></g>
<g stroke="#7a3c9e" fill="none"><path d="M11 0.5h38" stroke-dasharray="1 1 1 17 1 5 1 10 1 54"/><path d="M14 1.5h34" stroke-dasharray="1 32 1 54"/><path d="M14 2.5h27" stroke-dasharray="1 23 1 1 1 54"/><path d="M19 3.5h21" stroke-dasharray="1 13 1 5 1 54"/><path d="M23 4.5h12" stroke-dasharray="1 10 1 54"/><path d="M7 5.5h40" stroke-dasharray="1 7 1 30 1 54"/><path d="M16 6.5h38" stroke-dasharray="1 36 1 54"/><path d="M13 7.5h28" stroke-dasharray="1 18 1 7 1 54"/><path d="M17 8.5h31" stroke-dasharray="1 14 1 6 1 7 1 54"/><path d="M12 9.5h7" stroke-dasharray="1 5 1 54"/><path d="M13 10.5h21" stroke-dasharray="1 4 1 13 2 54"/><path d="M17 11.5h18" stroke-dasharray="1 3 1 11 2 54"/><path d="M21 12.5h11" stroke-dasharray="1 4 1 4 1 54"/><path d="M10 13.5h22" stroke-dasharray="1 20 1 54"/><path d="M0 14.5h54" stroke-dasharray="1 12 2 6 1 1 1 3 1 20 1 4 1 54"/><path d="M8 15.5h39" stroke-dasharray="1 15 1 21 1 54"/><path d="M17 16.5h23" stroke-dasharray="1 21 1 54"/><path d="M15 17.5h34" stroke-dasharray="1 6 1 8 1 1 1 14 1 54"/><path d="M7 18.5h47" stroke-dasharray="1 45 1 54"/><path d="M27 19.5h6" stroke-dasharray="1 4 1 54"/><path d="M7 20.5h47" stroke-dasharray="1 19 1 25 1 54"/><path d="M15 21.5h1" stroke-dasharray="1 54"/><path d="M4 22.5h44" stroke-dasharray="1 1 2 7 1 20 1 10 1 54"/><path d="M38 23.5h1" stroke-dasharray="1 54"/><path d="M9 24.5h30" stroke-dasharray="1 4 1 23 1 54"/><path d="M21 25.5h18" stroke-dasharray="2 5 1 9 1 54"/><path d="M2 26.5h47" stroke-dasharray="1 11 1 5 1 8 1 7 1 9 2 54"/><path d="M37 27.5h8" stroke-dasharray="1 6 1 54"/><path d="M7 28.5h38" stroke-dasharray="1 11 1 18 1 5 1 54"/><path d="M20 30.5h1" stroke-dasharray="1 54"/><path d="M9 31.5h30" stroke-dasharray="1 12 2 14 1 54"/><path d="M7 32.5h17" stroke-dasharray="1 15 1 54"/><path d="M2 33.5h36" stroke-dasharray="1 19 1 14 1 54"/><path d="M21 34.5h8" stroke-dasharray="1 6 1 54"/><path d="M34 35.5h10" stroke-dasharray="1 1 1 6 1 54"/><path d="M34 36.5h1" stroke-dasharray="1 54"/><path d="M11 37.5h24" stroke-dasharray="1 22 1 54"/><path d="M41 38.5h1" stroke-dasharray="1 54"/><path d="M22 39.5h1" stroke-dasharray="1 54"/><path d="M0 42.5h6" stroke-dasharray="1 4 1 54"/><path d="M6 43.5h37" stroke-dasharray="1 1 1 4 1 28 1 54"/><path d="M27 44.5h23" stroke-dasharray="2 20 1 54"/><path d="M8 45.5h39" stroke-dasharray="1 17 2 18 1 54"/><path d="M8 46.5h17" stroke-dasharray="1 2 1 12 1 54"/><path d="M10 48.5h19" stroke-dasharray="1 1 1 14 2 54"/><path d="M29 49.5h23" stroke-dasharray="1 18 1 2 1 54"/><path d="M5 50.5h19" stroke-dasharray="1 17 1 54"/><path d="M23 51.5h17" stroke-dasharray="1 15 1 54"/><path d="M30 52.5h2" stroke-dasharray="2 54"/><path d="M10 53.5h31" stroke-dasharray="1 20 1 8 1 54"/><path d="M2 54.5h46" stroke-dasharray="3 42 1 54"/></g>
</g>
<line x1="131.0" y1="265.0" x2="136.0" y2="263.0" stroke="#d0cee8" stroke-width="3.0" stroke-linecap="round" opacity="0.40"/>
<line x1="140.0" y1="280.0" x2="150.0" y2="279.0" stroke="#d0cee8" stroke-width="2.5" stroke-linecap="round" opacity="0.40"/>
<rect x="108.40" y="248.90" width="53.60" height="1.1" fill="#ecebf6"/>
<rect x="107.90" y="248.90" width="1.1" height="54.70" fill="#ecebf6"/>
<g transform="translate(170.00 167.00)">
<rect width="136" height="137" fill="rgb(58, 54, 150)"/>
<g stroke="#241e6e" fill="none"><path d="M9 0.5h108" stroke-dasharray="1 7 1 5 1 10 1 1 1 3 1 1 1 7 1 6 1 3 2 1 2 1 1 2 1 4 1 3 1 4 1 1 1 4 1 7 1 7 1 5 1 2 1 136"/><path d="M8 1.5h122" stroke-dasharray="2 10 1 6 2 1 2 13 3 2 1 4 1 3 1 4 1 2 1 9 1 1 1 10 2 5 1 8 1 1 2 6 1 2 1 3 1 5 1 136"/><path d="M2 2.5h133" stroke-dasharray="1 3 1 1 1 6 1 2 1 5 1 4 1 8 2 6 1 5 1 2 1 2 1 11 1 7 1 2 1 2 1 5 1 3 1 6 1 6 1 3 1 7 1 9 1 1 1 1 1 136"/><path d="M2 3.5h130" stroke-dasharray="1 3 1 2 1 6 1 7 1 2 1 27 2 4 1 13 3 16 2 7 1 4 3 2 1 9 1 1 1 5 1 136"/><path d="M6 4.5h130" stroke-dasharray="1 3 1 1 1 11 1 6 1 7 1 1 2 2 1 22 2 1 1 4 1 3 1 6 2 1 1 2 1 4 1 1 1 10 1 17 1 3 3 136"/><path d="M12 5.5h119" stroke-dasharray="1 10 1 2 1 2 1 2 1 3 1 5 3 3 1 5 1 5 1 6 1 5 1 3 1 1 1 1 1 3 1 5 1 3 1 1 1 5 2 4 1 4 1 9 1 5 1 136"/><path d="M3 6.5h121" stroke-dasharray="1 2 1 1 1 2 1 4 1 35 1 1 2 9 1 1 4 1 1 2 1 3 1 3 1 1 1 2 1 3 1 3 1 2 3 2 1 4 1 1 1 2 1 8 1 136"/><path d="M1 7.5h123" stroke-dasharray="1 4 1 6 2 2 2 1 1 3 1 11 4 1 1 3 2 3 1 9 2 4 2 2 1 4 1 1 1 4 1 7 1 7 3 7 1 3 1 1 1 3 1 4 1 136"/><path d="M2 8.5h128" stroke-dasharray="1 5 1 6 1 16 1 2 1 1 1 5 1 6 1 4 1 1 1 8 2 1 1 3 1 4 1 5 1 1 1 6 1 1 1 6 1 5 2 2 1 9 1 6 1 136"/><path d="M1 9.5h126" stroke-dasharray="1 5 1 3 1 2 1 11 1 1 1 2 1 18 1 2 1 4 1 8 1 3 1 1 1 1 1 1 1 6 1 1 2 1 1 5 1 12 2 5 2 9 1 136"/><path d="M0 10.5h133" stroke-dasharray="1 17 1 7 3 4 4 1 1 3 1 17 1 2 2 1 1 2 1 1 1 4 2 2 1 50 2 136"/><path d="M1 11.5h133" stroke-dasharray="1 1 1 3 1 9 1 7 3 4 1 4 2 5 2 2 1 1 1 16 1 5 1 1 1 10 2 3 1 3 1 6 3 2 2 14 1 9 1 136"/><path d="M9 12.5h126" stroke-dasharray="1 3 2 8 1 8 1 2 1 5 1 4 1 1 1 5 2 12 1 7 1 10 2 6 1 8 1 3 1 3 1 5 1 7 1 7 1 136"/><path d="M1 13.5h130" stroke-dasharray="2 1 2 3 2 6 1 3 1 3 1 3 1 1 1 1 1 2 1 3 3 1 2 12 1 2 1 3 1 8 1 11 1 2 1 7 1 11 1 6 1 2 1 2 1 3 1 3 1 136"/><path d="M4 14.5h130" stroke-dasharray="1 4 1 1 1 19 1 3 1 16 2 1 1 3 1 5 1 2 1 2 1 7 1 4 1 3 1 1 1 4 2 14 1 8 1 12 1 136"/><path d="M1 15.5h127" stroke-dasharray="4 4 1 5 1 8 1 3 1 7 1 1 2 2 1 2 2 2 1 7 1 2 2 3 1 7 1 11 1 1 3 10 1 2 1 1 1 12 1 7 2 136"/><path d="M1 16.5h130" stroke-dasharray="1 8 1 7 1 1 1 9 4 7 1 1 1 2 1 6 1 5 1 2 1 2 1 1 1 1 1 8 1 9 1 2 2 8 1 4 1 1 2 1 1 7 3 8 1 136"/><path d="M8 17.5h112" stroke-dasharray="1 3 1 7 1 3 1 4 1 2 1 3 1 1 1 4 1 1 1 8 1 2 1 2 1 4 1 1 1 5 2 2 1 5 1 1 1 4 1 2 1 25 1 136"/><path d="M3 18.5h127" stroke-dasharray="1 1 1 1 1 4 1 7 1 6 1 5 1 1 1 2 1 7 1 4 2 7 2 11 1 8 2 3 1 20 1 5 1 5 3 4 1 1 1 136"/><path d="M9 19.5h126" stroke-dasharray="2 1 1 20 1 9 1 2 1 5 1 11 1 5 1 7 1 2 1 5 1 1 1 3 2 3 1 3 1 9 2 11 1 7 2 136"/><path d="M6 20.5h119" stroke-dasharray="1 1 1 16 1 4 1 7 1 1 1 2 1 1 1 2 2 2 2 2 2 5 3 3 2 6 1 4 1 5 1 7 1 4 2 2 1 1 1 16 1 136"/><path d="M12 21.5h117" stroke-dasharray="1 3 1 2 1 3 1 5 1 13 1 2 1 1 1 16 1 5 1 2 1 2 1 8 1 7 1 9 1 3 1 1 1 13 1 3 1 136"/><path d="M8 22.5h125" stroke-dasharray="1 10 1 1 1 11 1 17 1 6 1 2 2 3 1 3 1 1 1 1 1 1 2 1 1 3 1 2 1 7 2 2 1 1 1 3 1 8 1 3 2 4 1 2 1 5 1 136"/><path d="M0 23.5h136" stroke-dasharray="1 2 1 3 1 5 1 2 3 2 1 6 1 3 1 14 2 1 1 9 1 1 2 5 2 5 1 1 2 8 1 34 1 1 1 6 1 2 1 136"/><path d="M0 24.5h135" stroke-dasharray="1 1 2 3 2 8 1 3 1 1 2 5 1 10 2 1 1 1 1 3 1 2 2 2 1 1 1 1 2 5 2 1 1 1 1 5 1 5 3 16 1 6 1 6 3 1 1 11 1 136"/><path d="M1 25.5h132" stroke-dasharray="2 20 1 1 1 2 2 2 1 6 1 5 1 5 1 8 1 2 1 5 1 8 1 3 1 15 1 14 1 2 3 13 1 136"/><path d="M4 26.5h123" stroke-dasharray="1 4 1 1 1 4 2 1 1 3 1 1 1 5 1 11 2 4 1 5 1 3 1 3 2 5 3 5 1 1 1 4 2 2 1 1 1 4 1 10 1 4 1 1 1 1 1 9 1 136"/><path d="M2 27.5h134" stroke-dasharray="1 3 1 12 1 4 1 15 2 2 3 8 1 6 1 2 1 25 1 4 1 14 2 4 1 2 2 5 1 5 1 1 1 136"/><path d="M17 28.5h115" stroke-dasharray="1 1 1 3 1 10 1 1 2 7 1 2 1 1 1 4 1 3 1 4 2 1 1 18 1 10 1 19 1 1 1 7 1 2 2 136"/><path d="M11 29.5h112" stroke-dasharray="1 3 2 5 1 2 1 4 1 6 1 2 1 2 1 4 1 2 1 2 1 10 1 1 1 4 1 3 1 7 1 3 1 2 1 2 1 1 2 2 1 4 1 7 1 4 2 2 1 136"/><path d="M8 30.5h120" stroke-dasharray="1 13 2 9 1 13 2 2 2 1 2 11 2 4 1 6 2 2 1 1 1 3 1 5 1 8 1 3 1 2 1 3 1 6 1 3 1 136"/><path d="M9 31.5h127" stroke-dasharray="1 7 1 3 1 1 1 3 1 10 1 1 1 2 1 7 1 1 1 1 1 18 1 16 1 6 1 2 3 2 2 2 2 1 1 20 2 136"/><path d="M15 32.5h108" stroke-dasharray="1 5 1 4 1 6 1 3 1 8 1 3 1 9 1 5 1 11 3 3 2 7 1 9 1 9 1 8 1 136"/><path d="M0 33.5h126" stroke-dasharray="1 6 1 3 2 2 1 6 2 1 1 3 1 5 1 3 1 3 1 12 1 7 1 7 1 9 4 5 2 7 1 13 1 2 1 5 3 136"/><path d="M6 34.5h129" stroke-dasharray="2 2 1 7 2 1 1 11 1 17 1 2 1 14 2 6 1 7 1 2 1 6 2 5 1 7 1 2 2 2 2 2 1 3 1 3 1 4 1 136"/><path d="M5 35.5h129" stroke-dasharray="1 3 1 2 1 6 1 1 1 1 1 2 1 17 3 2 2 1 1 5 1 2 1 5 1 7 1 15 1 1 1 3 1 7 1 6 1 5 1 1 2 4 2 5 1 136"/><path d="M4 36.5h123" stroke-dasharray="1 1 1 5 1 11 1 15 1 10 1 3 2 11 1 1 1 3 1 4 1 14 1 3 1 15 1 3 1 6 2 136"/><path d="M10 37.5h124" stroke-dasharray="1 2 1 10 1 7 1 5 1 4 2 3 1 4 1 2 2 5 1 5 2 2 1 12 2 2 1 11 1 1 1 1 1 6 2 7 1 10 1 136"/><path d="M0 38.5h133" stroke-dasharray="1 7 4 12 1 5 1 3 1 2 1 1 1 1 2 4 1 2 2 14 1 5 2 1 1 1 1 3 1 5 1 9 1 19 1 14 1 136"/><path d="M5 39.5h129" stroke-dasharray="1 2 2 7 1 11 1 1 1 2 1 1 1 7 1 5 1 1 2 3 2 7 1 7 1 1 1 1 2 2 1 4 1 3 1 11 3 15 1 11 1 136"/><path d="M3 40.5h130" stroke-dasharray="1 1 1 10 1 1 2 2 1 1 1 4 1 4 1 1 3 3 1 5 1 12 1 1 1 6 2 16 3 1 3 1 1 6 1 4 1 7 1 5 2 8 1 136"/><path d="M6 41.5h125" stroke-dasharray="1 4 1 5 2 11 1 5 1 4 1 2 1 17 1 4 2 4 2 3 1 2 1 5 1 3 1 6 1 5 1 1 1 5 1 17 1 136"/><path d="M0 42.5h133" stroke-dasharray="1 9 1 7 1 6 2 1 1 3 1 2 1 11 1 1 1 2 2 1 1 14 1 5 1 2 1 5 1 4 2 7 1 6 1 10 2 6 2 5 1 136"/><path d="M0 43.5h129" stroke-dasharray="1 9 1 12 1 4 2 5 1 3 1 2 1 2 1 1 1 3 1 8 1 4 3 11 1 2 1 6 2 12 1 10 1 1 2 3 1 5 2 136"/><path d="M0 44.5h126" stroke-dasharray="1 16 3 11 1 1 1 4 1 6 1 1 1 3 2 16 1 6 1 8 1 4 6 6 1 5 1 8 1 1 1 1 1 3 1 136"/><path d="M15 45.5h121" stroke-dasharray="1 3 1 3 1 3 1 7 2 12 2 1 1 9 1 5 1 3 1 6 1 3 1 1 1 14 1 2 1 9 2 13 2 3 3 136"/><path d="M0 46.5h125" stroke-dasharray="2 7 1 4 1 9 1 1 2 11 1 2 1 10 1 2 1 9 1 6 1 3 2 6 1 8 1 9 1 4 1 2 1 4 2 5 1 136"/><path d="M1 47.5h128" stroke-dasharray="1 6 1 3 1 15 2 5 2 6 1 2 2 1 2 3 1 2 1 5 1 10 1 2 1 9 1 9 3 13 1 7 1 6 1 136"/><path d="M4 48.5h123" stroke-dasharray="1 14 1 9 1 12 1 1 4 6 2 6 1 7 1 1 1 1 1 5 1 1 2 1 1 19 1 3 1 1 1 1 2 11 1 136"/><path d="M8 49.5h123" stroke-dasharray="1 4 2 8 1 5 1 1 3 8 1 3 1 2 1 1 1 12 1 12 1 2 1 5 1 2 1 4 1 5 1 1 1 2 1 1 2 4 1 16 1 136"/><path d="M2 50.5h131" stroke-dasharray="1 9 1 9 1 4 1 6 1 6 1 14 2 4 1 2 1 7 2 1 1 2 1 1 1 1 1 2 1 1 1 4 1 9 3 2 2 1 1 6 1 5 2 1 1 4 1 136"/><path d="M10 51.5h114" stroke-dasharray="2 2 4 7 1 6 1 1 1 3 3 3 1 6 3 4 1 14 2 4 1 4 1 5 1 4 1 8 1 8 1 9 1 136"/><path d="M0 52.5h135" stroke-dasharray="1 3 2 3 1 3 2 7 1 3 1 10 2 3 1 3 1 5 1 2 1 12 2 14 1 2 2 12 1 1 1 7 2 2 2 7 1 5 1 3 1 136"/><path d="M6 53.5h122" stroke-dasharray="2 6 1 3 1 3 1 4 1 1 1 2 1 4 1 2 1 3 1 1 1 2 2 7 1 7 1 2 1 2 2 4 1 6 1 2 1 1 1 1 2 1 1 4 1 5 2 2 2 2 1 6 1 3 1 1 1 136"/><path d="M5 54.5h126" stroke-dasharray="1 9 2 5 1 5 1 3 2 2 1 7 1 4 1 9 1 6 1 1 2 3 1 3 2 5 1 2 1 1 1 1 2 2 1 5 1 3 1 2 1 3 1 2 2 2 1 3 1 1 1 4 1 136"/><path d="M6 55.5h128" stroke-dasharray="1 4 1 4 1 5 1 3 2 11 1 1 1 2 2 2 1 4 1 1 1 7 1 6 1 6 1 2 1 7 1 8 1 3 1 9 1 1 1 1 1 3 1 5 1 3 1 1 1 1 1 136"/><path d="M14 56.5h122" stroke-dasharray="1 14 1 10 1 3 1 1 1 5 1 6 1 1 1 15 1 24 1 3 1 3 2 9 1 1 1 5 1 4 2 136"/><path d="M1 57.5h135" stroke-dasharray="1 5 2 5 1 2 1 14 1 5 1 4 2 1 2 6 2 4 1 2 1 3 1 5 2 1 1 7 1 1 1 1 1 1 2 22 1 1 1 2 3 1 1 2 3 3 1 1 2 136"/><path d="M17 58.5h118" stroke-dasharray="1 5 1 3 1 10 1 14 1 8 2 1 1 6 1 1 1 18 1 2 1 1 2 9 1 11 1 5 1 6 1 136"/><path d="M1 59.5h132" stroke-dasharray="1 19 2 1 1 10 1 7 1 1 2 1 1 4 1 3 2 6 1 3 1 5 2 4 1 6 1 1 1 1 1 4 1 8 2 5 1 1 1 9 1 3 1 2 1 136"/><path d="M6 60.5h126" stroke-dasharray="1 1 2 4 1 6 1 3 1 2 1 1 1 10 1 1 1 2 1 6 1 1 1 4 1 5 1 3 1 2 1 7 1 7 1 1 2 2 2 2 1 1 1 7 1 1 1 8 3 6 1 1 1 136"/><path d="M7 61.5h119" stroke-dasharray="1 1 1 1 1 8 1 9 1 20 1 6 1 1 1 2 1 1 1 7 1 4 1 11 2 7 1 12 1 1 2 4 1 1 1 2 1 136"/><path d="M0 62.5h136" stroke-dasharray="2 3 2 2 1 7 1 14 1 16 2 4 1 3 3 2 1 3 1 2 1 2 1 2 2 1 1 8 2 1 1 5 1 5 1 5 1 1 2 11 1 9 1 136"/><path d="M3 63.5h124" stroke-dasharray="1 2 1 4 1 1 1 1 1 10 1 3 1 8 1 1 1 3 2 6 3 8 1 2 1 3 1 1 1 3 2 11 1 4 1 5 1 9 2 3 1 9 1 136"/><path d="M0 64.5h121" stroke-dasharray="2 1 1 6 1 4 1 4 1 5 1 6 1 2 1 1 1 3 1 3 1 6 1 5 2 2 2 3 3 5 1 29 1 1 1 8 1 2 1 136"/><path d="M15 65.5h107" stroke-dasharray="1 1 1 3 1 3 1 5 2 4 1 1 2 1 2 1 1 4 1 1 1 2 2 11 1 11 1 2 1 1 1 1 1 3 1 5 2 5 2 2 1 8 1 3 1 136"/><path d="M15 66.5h119" stroke-dasharray="1 4 1 1 1 7 1 21 1 3 1 11 1 11 1 5 1 16 1 5 1 2 1 3 2 3 2 5 1 4 1 136"/><path d="M0 67.5h132" stroke-dasharray="1 5 1 6 1 3 1 2 1 5 1 7 1 1 2 3 1 6 1 3 3 5 1 6 1 7 2 5 2 10 1 16 1 4 2 2 2 9 1 136"/><path d="M4 68.5h132" stroke-dasharray="1 1 1 7 1 2 1 3 1 12 2 14 1 1 1 1 1 8 1 2 7 1 1 11 1 8 1 3 1 8 1 3 1 10 1 2 1 4 1 3 1 136"/><path d="M12 69.5h116" stroke-dasharray="1 2 3 11 1 5 1 2 1 8 1 2 1 13 2 1 1 5 1 8 1 2 1 3 1 6 1 12 1 3 1 1 1 1 1 2 2 5 1 136"/><path d="M3 70.5h127" stroke-dasharray="1 4 1 4 1 2 2 2 1 11 2 8 1 1 2 1 1 1 2 6 1 5 1 1 1 5 1 5 1 14 4 7 1 1 2 3 1 2 1 1 1 5 1 3 2 1 2 136"/><path d="M0 71.5h133" stroke-dasharray="1 6 1 11 1 8 2 4 1 1 1 8 1 2 1 1 1 5 1 10 1 3 1 8 1 1 2 1 1 1 1 5 1 1 2 1 1 5 1 1 1 3 1 1 1 2 1 3 1 1 1 10 1 136"/><path d="M11 72.5h122" stroke-dasharray="1 2 1 2 3 3 1 3 3 7 2 8 1 15 1 2 1 10 1 1 1 7 1 10 1 12 1 7 1 1 1 10 1 136"/><path d="M4 73.5h131" stroke-dasharray="1 1 1 3 1 1 1 2 1 3 1 15 1 1 1 1 1 5 1 2 1 3 1 4 5 2 1 4 1 1 1 4 3 3 1 6 1 2 1 3 1 1 1 1 1 3 1 2 1 1 1 6 4 2 1 2 1 3 1 4 1 136"/><path d="M0 74.5h132" stroke-dasharray="1 1 1 4 1 2 2 10 1 4 1 2 1 8 1 6 1 5 1 13 1 4 1 4 1 3 3 4 1 1 1 1 1 1 1 4 1 5 1 1 1 3 1 1 1 13 1 4 1 136"/><path d="M10 75.5h124" stroke-dasharray="2 5 1 14 1 9 1 4 1 1 1 8 1 7 1 4 1 2 3 4 1 5 1 1 1 4 1 8 1 1 1 4 1 5 1 9 2 2 1 1 2 136"/><path d="M0 76.5h136" stroke-dasharray="1 4 1 12 1 8 1 5 1 7 1 7 1 1 1 1 1 3 1 2 2 3 1 1 1 3 2 1 1 1 1 2 1 3 2 2 1 4 1 3 2 2 2 3 1 14 1 4 2 5 1 2 1 136"/><path d="M6 77.5h130" stroke-dasharray="1 11 1 8 4 1 1 7 1 2 3 2 1 12 1 8 1 3 1 5 1 1 1 2 2 3 1 3 1 2 1 1 1 9 1 1 2 1 1 8 1 10 2 136"/><path d="M0 78.5h131" stroke-dasharray="1 14 1 2 1 3 2 3 2 3 1 9 1 1 1 11 2 2 1 2 1 8 2 1 1 6 1 5 1 1 3 3 1 7 1 3 1 4 1 4 1 11 1 136"/><path d="M0 79.5h134" stroke-dasharray="1 4 2 6 2 4 1 2 1 5 1 4 1 3 1 7 2 8 1 7 2 1 2 8 1 20 2 3 1 1 2 2 1 6 1 1 2 3 1 1 1 3 2 3 1 136"/><path d="M18 80.5h113" stroke-dasharray="1 6 3 5 4 3 1 1 1 3 3 1 1 6 3 6 2 2 1 2 3 6 1 2 1 2 1 7 1 6 1 2 1 15 1 5 1 1 1 136"/><path d="M6 81.5h129" stroke-dasharray="1 2 1 3 1 6 1 2 1 1 1 3 1 2 1 4 2 1 1 19 1 1 1 3 1 1 1 3 1 16 1 4 2 6 1 12 1 7 1 2 1 1 1 3 3 136"/><path d="M5 82.5h130" stroke-dasharray="2 3 1 4 1 1 1 3 2 3 1 2 1 5 1 11 1 1 2 7 2 1 1 4 1 2 1 14 1 9 2 1 1 2 2 7 2 2 2 4 1 1 2 6 2 3 1 136"/><path d="M6 83.5h130" stroke-dasharray="1 8 1 3 1 9 2 2 1 9 1 1 2 1 1 7 2 3 1 3 1 3 3 8 1 2 1 2 1 5 1 10 2 22 1 2 1 4 1 136"/><path d="M6 84.5h124" stroke-dasharray="1 4 1 2 1 19 2 11 1 1 1 1 1 9 1 4 1 19 1 5 1 1 1 5 1 3 3 1 1 8 1 3 1 2 1 4 1 136"/><path d="M13 85.5h119" stroke-dasharray="1 5 1 7 1 16 2 1 1 9 1 2 1 1 1 9 1 9 1 3 1 2 2 5 2 5 2 3 1 1 1 1 1 3 1 4 1 9 1 136"/><path d="M5 86.5h131" stroke-dasharray="1 14 1 11 1 5 2 3 1 1 1 3 1 3 2 2 2 8 1 1 1 1 1 1 1 2 1 7 1 4 1 5 1 2 1 4 1 5 1 2 1 1 1 9 1 4 1 3 1 1 1 136"/><path d="M0 87.5h122" stroke-dasharray="1 14 1 4 1 11 1 6 1 4 1 2 1 3 2 1 2 4 1 1 1 3 1 6 1 4 1 2 1 2 2 3 1 8 1 4 1 2 1 10 2 2 1 136"/><path d="M3 88.5h130" stroke-dasharray="2 3 1 2 2 18 1 4 1 6 2 6 2 14 2 20 1 5 2 6 1 15 1 1 1 7 2 1 1 136"/><path d="M8 89.5h126" stroke-dasharray="2 2 2 3 1 6 2 2 1 3 1 20 1 1 1 1 1 1 1 8 1 1 1 4 1 6 1 2 1 7 1 3 1 1 1 7 2 2 1 3 1 5 2 10 1 136"/><path d="M1 90.5h134" stroke-dasharray="1 12 1 6 1 2 1 6 1 1 1 4 1 11 1 7 1 4 1 8 2 2 1 1 1 8 1 5 1 11 1 3 1 3 2 9 1 8 2 136"/><path d="M7 91.5h124" stroke-dasharray="2 3 1 4 1 2 1 4 1 1 1 1 1 7 1 3 1 4 1 3 1 7 1 1 1 4 1 1 1 3 2 4 1 11 1 8 1 10 1 4 1 2 1 12 1 136"/><path d="M0 92.5h129" stroke-dasharray="3 1 1 3 1 5 1 7 1 1 1 9 1 1 2 3 1 2 1 1 1 4 1 6 1 1 1 4 1 4 2 3 2 2 1 3 3 3 1 1 1 5 1 5 1 6 1 3 1 13 1 136"/><path d="M3 93.5h128" stroke-dasharray="1 3 1 2 2 1 1 10 1 10 2 10 2 1 1 5 1 5 1 1 2 3 2 3 1 1 1 2 2 1 1 2 1 23 2 13 2 3 2 136"/><path d="M4 94.5h129" stroke-dasharray="1 1 1 1 1 4 1 5 1 7 2 5 1 13 2 5 1 5 1 7 1 6 1 4 1 5 1 1 2 6 2 7 1 1 2 1 2 5 1 5 3 5 1 136"/><path d="M0 95.5h135" stroke-dasharray="1 7 2 1 1 10 1 10 1 14 1 7 1 1 1 6 1 1 1 24 1 2 1 5 3 2 1 1 1 12 1 1 1 3 2 5 1 136"/><path d="M1 96.5h135" stroke-dasharray="1 5 1 9 1 3 1 2 1 5 2 4 1 4 2 7 2 4 1 1 1 6 2 4 1 5 1 3 1 2 3 1 1 3 1 4 1 1 2 3 1 4 1 2 1 3 1 3 1 4 1 4 1 4 1 136"/><path d="M5 97.5h131" stroke-dasharray="1 7 1 1 1 10 2 7 1 3 1 1 1 3 1 1 1 6 1 7 1 2 1 5 2 2 1 3 1 3 1 3 3 3 1 2 1 11 1 1 1 2 1 21 1 136"/><path d="M2 98.5h130" stroke-dasharray="1 14 2 8 1 7 2 2 1 1 1 3 2 6 1 2 1 1 1 3 1 1 3 2 1 3 1 1 1 5 1 4 1 1 1 7 1 7 1 1 2 4 1 17 2 136"/><path d="M10 99.5h121" stroke-dasharray="2 6 1 1 1 9 1 1 1 5 1 4 1 5 1 4 1 1 1 6 1 1 1 1 1 1 1 2 2 3 1 3 2 8 1 1 2 1 5 9 1 1 2 7 1 6 3 136"/><path d="M0 100.5h135" stroke-dasharray="1 12 1 10 1 6 2 3 1 1 1 8 1 1 1 3 1 2 1 1 3 6 1 8 1 7 1 9 1 1 1 10 2 22 1 1 2 136"/><path d="M2 101.5h130" stroke-dasharray="1 2 1 1 2 3 3 5 1 4 1 1 1 14 4 2 1 3 1 4 1 1 1 5 1 6 2 3 1 3 2 1 1 8 1 7 1 5 3 1 1 2 1 7 1 5 2 1 1 136"/><path d="M5 102.5h126" stroke-dasharray="1 1 1 1 1 4 1 5 2 3 3 2 1 1 1 2 1 5 1 5 1 3 1 8 2 12 1 4 3 5 1 5 1 2 1 16 2 3 1 3 1 7 1 136"/><path d="M0 103.5h134" stroke-dasharray="1 2 3 1 1 6 1 1 1 5 1 3 1 5 1 5 1 2 2 3 1 9 1 1 1 13 1 1 2 4 4 5 3 2 1 5 2 6 1 8 1 7 1 1 1 4 2 136"/><path d="M3 104.5h130" stroke-dasharray="1 1 1 6 1 2 1 5 1 8 3 1 1 1 1 3 1 4 2 6 1 20 1 5 1 3 2 1 2 5 1 10 1 1 2 15 1 7 1 136"/><path d="M1 105.5h105" stroke-dasharray="1 2 1 10 1 2 2 5 1 7 2 7 2 1 4 4 1 1 1 19 2 5 3 1 1 7 1 4 2 3 2 136"/><path d="M12 106.5h123" stroke-dasharray="1 2 2 11 2 2 1 1 1 5 1 2 1 5 1 1 1 1 1 1 1 10 1 2 1 7 1 4 1 6 1 6 1 3 1 2 1 3 1 1 2 3 1 2 1 2 1 2 2 4 1 4 1 136"/><path d="M0 107.5h135" stroke-dasharray="1 2 1 2 2 7 1 2 1 5 3 8 1 3 1 6 2 2 1 14 1 4 2 1 1 3 2 3 1 2 1 8 1 4 1 7 1 2 1 8 1 3 2 1 1 7 1 136"/><path d="M1 108.5h124" stroke-dasharray="1 9 1 13 1 5 1 2 1 1 1 1 1 18 2 1 2 2 1 10 1 4 1 2 1 5 1 3 1 1 1 9 2 1 1 3 1 11 1 136"/><path d="M1 109.5h130" stroke-dasharray="2 8 2 4 2 14 1 2 1 4 1 2 1 3 1 2 1 1 2 4 1 1 1 2 3 4 1 10 1 8 1 8 1 5 1 13 1 9 1 136"/><path d="M6 110.5h130" stroke-dasharray="1 6 1 2 2 1 1 1 1 6 1 5 1 2 1 13 2 5 1 2 1 1 1 3 2 3 1 5 1 1 3 3 3 3 1 9 1 1 2 2 1 3 1 8 1 2 1 1 1 7 2 136"/><path d="M13 111.5h114" stroke-dasharray="1 1 1 1 1 10 1 4 1 10 1 1 1 2 1 6 1 10 2 2 1 3 1 22 1 2 3 4 1 4 1 2 1 5 1 2 2 136"/><path d="M2 112.5h122" stroke-dasharray="1 14 1 4 1 1 2 1 1 1 1 1 1 7 2 10 1 3 1 8 2 7 1 3 1 3 1 5 1 1 1 1 1 1 2 3 1 12 1 11 1 136"/><path d="M8 113.5h128" stroke-dasharray="1 2 1 3 1 4 1 10 1 2 2 7 1 1 1 1 1 2 1 13 2 10 1 6 1 3 1 3 1 1 1 1 1 5 1 3 2 2 1 2 1 8 1 7 1 3 3 136"/><path d="M7 114.5h128" stroke-dasharray="1 4 1 10 1 2 2 3 1 5 1 2 1 1 1 1 1 3 1 3 3 6 1 21 1 5 2 1 1 1 1 3 1 2 2 4 1 10 1 6 1 8 1 136"/><path d="M2 115.5h130" stroke-dasharray="1 2 1 17 1 9 1 5 1 14 1 1 1 1 1 4 2 9 1 2 1 1 1 2 2 1 1 8 1 12 1 2 1 1 1 3 1 3 1 7 1 2 1 136"/><path d="M0 116.5h134" stroke-dasharray="1 1 1 4 1 8 1 1 1 4 1 4 1 2 1 4 1 2 1 5 1 1 1 3 1 4 1 1 1 1 1 3 1 10 1 1 3 1 1 1 1 3 1 14 1 10 1 18 2 136"/><path d="M4 117.5h128" stroke-dasharray="2 3 1 3 1 1 1 2 1 9 1 2 1 1 1 8 1 4 1 3 1 7 1 5 1 12 1 2 1 13 1 8 2 1 1 2 1 2 1 4 1 4 1 7 1 136"/><path d="M5 118.5h126" stroke-dasharray="1 1 1 5 1 5 1 11 2 3 1 5 1 9 1 4 1 5 1 3 1 2 1 3 5 1 1 3 1 5 1 13 2 8 1 1 2 3 1 7 2 136"/><path d="M2 119.5h131" stroke-dasharray="1 2 1 4 2 16 1 2 1 2 1 5 1 4 1 4 1 5 2 6 1 3 1 3 2 3 1 6 1 2 1 7 1 6 1 1 1 11 2 2 2 1 1 8 1 136"/><path d="M5 120.5h108" stroke-dasharray="1 6 1 3 1 1 2 1 1 6 1 4 2 5 1 7 1 1 1 4 1 7 1 2 2 4 1 2 1 8 1 7 1 2 1 3 1 1 1 1 1 1 1 3 1 2 1 136"/><path d="M0 121.5h130" stroke-dasharray="2 2 2 5 4 6 3 3 2 8 1 9 2 4 1 2 1 2 1 6 1 3 1 4 1 4 1 3 1 1 2 1 1 14 1 6 1 2 1 1 1 11 2 136"/><path d="M0 122.5h129" stroke-dasharray="1 7 3 3 1 1 2 13 1 1 1 1 2 18 1 12 1 5 1 4 2 2 1 2 1 1 2 5 1 18 2 8 1 1 1 1 1 136"/><path d="M1 123.5h126" stroke-dasharray="1 6 2 3 1 10 1 1 1 4 1 11 1 12 2 6 1 1 1 3 1 5 1 19 1 6 2 3 1 13 2 2 1 136"/><path d="M4 124.5h132" stroke-dasharray="1 2 1 7 1 2 1 9 2 2 3 2 2 11 1 1 1 1 1 3 1 5 1 2 1 2 1 3 2 2 1 1 1 7 1 3 1 6 1 4 1 2 1 15 1 5 1 1 1 3 1 136"/><path d="M5 125.5h131" stroke-dasharray="1 10 1 1 1 1 1 2 1 3 1 6 1 7 1 4 1 1 1 1 1 12 1 4 2 1 1 13 1 3 1 3 1 6 1 3 1 1 1 1 1 3 1 5 1 3 1 3 2 6 1 136"/><path d="M0 126.5h131" stroke-dasharray="1 6 1 2 1 7 1 11 1 3 2 1 1 4 3 5 1 2 1 2 1 2 1 1 2 4 1 6 1 7 1 1 1 16 1 15 5 2 1 5 1 136"/><path d="M17 127.5h118" stroke-dasharray="1 3 1 4 1 3 1 2 2 2 2 5 3 8 2 1 1 5 1 1 1 1 1 4 1 2 2 1 2 17 1 4 1 2 1 6 1 3 1 1 2 1 3 4 1 4 1 136"/><path d="M0 128.5h130" stroke-dasharray="1 2 1 1 2 3 1 5 1 14 1 6 1 12 1 4 1 2 1 2 1 1 1 1 1 2 2 5 1 2 2 1 1 14 1 4 1 1 1 1 1 6 3 10 1 1 2 136"/><path d="M2 129.5h124" stroke-dasharray="1 8 1 2 2 5 1 1 2 6 1 13 2 1 1 1 1 2 1 1 1 3 1 3 1 3 2 3 2 7 1 2 1 2 2 2 1 1 1 1 1 1 2 5 1 4 2 5 3 6 1 136"/><path d="M3 130.5h128" stroke-dasharray="1 4 1 3 1 1 1 9 1 1 1 1 1 9 1 8 2 5 1 5 1 5 2 1 2 6 2 6 1 14 1 3 1 5 1 1 1 1 1 1 1 4 1 6 1 1 1 136"/><path d="M6 131.5h128" stroke-dasharray="1 11 1 13 1 5 1 2 1 2 1 11 3 3 1 7 1 6 1 5 2 6 3 15 1 1 1 13 1 4 1 2 1 136"/><path d="M5 132.5h131" stroke-dasharray="1 4 1 14 1 3 1 3 1 8 1 1 1 3 1 7 2 4 2 1 2 2 1 1 1 1 1 8 1 10 1 13 1 3 1 2 1 8 1 4 2 5 1 136"/><path d="M3 133.5h133" stroke-dasharray="1 1 3 1 1 14 1 5 1 1 1 7 2 2 1 20 1 3 1 1 2 13 1 2 1 2 1 24 1 6 1 1 1 2 1 1 2 2 1 136"/><path d="M3 134.5h133" stroke-dasharray="1 2 2 1 3 22 1 5 2 2 1 2 1 6 1 2 1 4 1 3 1 3 1 3 1 1 1 2 2 3 2 3 1 5 1 2 1 9 2 1 1 7 1 2 1 7 1 3 2 136"/><path d="M3 135.5h121" stroke-dasharray="1 2 2 9 1 1 1 23 1 1 1 1 1 1 1 8 1 4 2 4 2 2 1 2 1 1 1 4 1 1 1 9 1 6 1 6 1 4 1 8 1 136"/><path d="M5 136.5h127" stroke-dasharray="1 9 1 1 1 3 1 5 1 16 1 16 1 1 1 1 1 4 1 4 2 8 1 7 1 4 1 6 1 2 1 14 1 7 1 136"/></g>
<g stroke="#5452b6" fill="none"><path d="M1 0.5h108" stroke-dasharray="1 2 1 19 1 1 1 2 1 7 2 2 1 18 1 7 1 4 1 8 1 5 1 6 1 1 2 3 1 5 1 136"/><path d="M3 1.5h133" stroke-dasharray="1 3 1 8 2 7 1 7 2 1 2 13 2 29 1 18 1 22 1 3 1 6 1 136"/><path d="M1 2.5h135" stroke-dasharray="1 3 1 5 2 12 2 15 1 2 1 5 1 1 1 6 1 2 2 11 1 5 1 3 2 3 1 1 1 23 2 10 1 1 1 3 1 136"/><path d="M1 3.5h132" stroke-dasharray="1 3 1 5 3 1 1 1 1 7 2 4 1 1 1 7 1 2 1 1 2 3 1 8 1 10 2 6 2 3 2 1 1 3 1 13 2 13 1 9 1 1 1 136"/><path d="M8 4.5h117" stroke-dasharray="1 4 1 19 1 10 1 16 1 2 1 7 1 4 1 4 2 10 1 2 1 22 1 3 1 136"/><path d="M11 5.5h117" stroke-dasharray="1 2 1 4 1 4 1 6 1 5 2 1 1 9 1 6 1 6 1 6 1 2 1 1 1 3 1 2 2 3 1 1 1 7 1 1 1 1 1 9 1 14 1 136"/><path d="M2 6.5h118" stroke-dasharray="1 4 1 6 2 4 2 9 2 1 2 1 2 3 1 10 1 2 1 2 1 1 1 12 1 3 1 12 1 23 1 3 1 136"/><path d="M0 7.5h122" stroke-dasharray="1 11 1 6 1 1 2 7 1 1 1 2 1 13 1 4 2 9 1 2 1 3 2 17 1 3 1 6 1 1 1 16 1 136"/><path d="M0 8.5h133" stroke-dasharray="1 10 1 9 1 11 2 1 1 4 1 14 1 4 1 8 1 6 1 3 1 5 1 4 1 6 1 4 1 5 1 9 1 9 3 136"/><path d="M6 9.5h125" stroke-dasharray="1 10 1 17 1 13 1 5 1 5 2 3 1 3 1 1 1 23 1 1 3 5 1 3 1 8 1 3 1 3 1 1 2 136"/><path d="M1 10.5h130" stroke-dasharray="1 4 1 3 1 26 1 3 1 4 1 4 1 1 1 3 1 1 1 1 1 3 1 4 1 3 1 10 2 7 2 4 1 4 2 10 1 7 1 4 1 136"/><path d="M9 11.5h118" stroke-dasharray="1 25 1 10 1 6 1 7 2 3 1 3 1 1 1 10 1 10 1 2 1 1 1 10 2 1 2 3 1 1 1 5 1 136"/><path d="M0 12.5h132" stroke-dasharray="1 2 1 1 1 4 3 4 3 14 1 4 2 1 1 1 2 4 1 9 1 2 1 2 2 1 1 1 1 2 1 5 1 1 1 7 1 3 1 6 1 5 1 5 1 1 1 1 1 6 1 6 1 136"/><path d="M0 13.5h130" stroke-dasharray="1 6 1 3 2 1 1 7 1 12 1 12 1 5 1 11 1 1 1 1 1 1 1 4 1 28 1 7 1 5 1 3 2 3 1 136"/><path d="M0 14.5h130" stroke-dasharray="2 3 1 1 1 11 1 14 1 12 2 8 1 5 1 8 1 2 1 1 1 7 1 1 1 3 2 1 1 2 1 1 1 5 2 22 1 136"/><path d="M0 15.5h134" stroke-dasharray="1 7 1 2 1 1 2 3 1 7 1 2 1 10 2 2 1 3 1 3 1 5 1 4 1 2 1 2 1 5 1 1 2 7 1 3 1 6 1 3 1 4 1 14 2 5 3 2 1 136"/><path d="M7 16.5h98" stroke-dasharray="1 1 1 1 1 1 1 2 1 5 1 1 1 1 1 7 1 2 1 2 1 4 1 8 1 3 1 1 1 2 1 2 1 7 1 1 1 4 1 3 2 3 1 2 1 4 1 4 2 136"/><path d="M1 17.5h122" stroke-dasharray="1 5 1 7 3 1 1 6 1 7 1 2 1 8 1 4 2 8 1 2 1 4 1 1 2 2 1 3 1 11 1 2 1 5 1 4 1 2 1 13 1 136"/><path d="M8 18.5h123" stroke-dasharray="2 7 3 6 1 1 1 1 3 4 1 3 1 7 1 15 1 5 1 3 1 1 1 2 2 4 1 5 1 2 1 14 2 12 1 5 1 136"/><path d="M1 19.5h109" stroke-dasharray="2 2 1 1 2 2 1 1 1 2 1 6 1 5 3 5 3 8 1 6 2 4 1 11 3 3 2 4 1 14 1 4 1 3 1 136"/><path d="M9 20.5h126" stroke-dasharray="1 1 1 5 1 9 2 7 1 5 1 7 1 4 1 5 1 10 2 5 1 14 1 2 1 1 2 3 1 5 5 19 1 136"/><path d="M17 21.5h116" stroke-dasharray="2 17 1 12 2 1 1 4 1 20 2 1 2 4 2 6 1 1 1 4 1 6 1 6 1 6 1 8 1 136"/><path d="M1 22.5h134" stroke-dasharray="1 24 1 5 1 1 1 1 1 7 1 7 1 6 2 2 1 3 1 20 3 12 1 7 1 2 2 9 1 5 1 2 1 136"/><path d="M6 23.5h122" stroke-dasharray="1 4 1 8 1 3 2 5 1 11 1 1 2 2 1 1 1 5 1 16 1 5 1 9 1 2 1 3 1 7 1 6 2 10 1 2 1 136"/><path d="M1 24.5h127" stroke-dasharray="1 13 2 17 1 13 1 2 1 13 1 8 1 1 1 1 1 1 2 7 1 13 1 8 1 14 1 136"/><path d="M15 25.5h121" stroke-dasharray="1 4 1 6 1 9 1 2 3 4 1 6 2 2 1 3 1 8 1 2 1 5 1 4 1 1 1 5 1 3 1 1 2 11 1 12 1 4 1 2 1 1 1 136"/><path d="M2 26.5h127" stroke-dasharray="1 17 1 5 1 1 1 8 1 4 1 2 2 9 1 19 1 11 1 39 1 136"/><path d="M9 27.5h110" stroke-dasharray="2 5 1 3 2 3 1 4 1 8 1 8 1 3 1 4 1 2 1 9 1 1 1 4 1 4 1 10 2 2 1 5 1 9 1 4 1 136"/><path d="M4 28.5h130" stroke-dasharray="1 17 1 9 1 25 1 3 1 6 4 1 1 2 1 1 1 2 1 9 1 10 2 2 1 1 1 3 1 6 1 3 2 7 1 136"/><path d="M2 29.5h129" stroke-dasharray="1 10 1 3 1 5 1 7 1 3 1 5 1 3 1 9 1 8 1 1 1 1 1 4 2 2 1 9 1 2 1 1 1 5 1 9 2 10 1 9 1 136"/><path d="M4 30.5h129" stroke-dasharray="1 1 2 2 1 23 1 6 1 1 1 9 1 6 1 4 1 10 1 2 1 3 1 1 1 8 2 2 1 2 1 1 1 10 1 3 1 5 1 3 1 3 1 136"/><path d="M0 31.5h125" stroke-dasharray="1 2 1 1 1 4 1 4 1 9 1 4 3 13 1 1 1 15 1 1 1 8 1 3 1 1 2 4 4 3 1 2 1 1 1 4 2 2 2 5 3 2 1 3 1 136"/><path d="M13 32.5h123" stroke-dasharray="1 3 1 16 1 16 1 3 1 1 1 3 2 4 1 18 1 1 1 2 1 5 1 3 2 6 1 6 2 5 1 1 1 9 1 136"/><path d="M8 33.5h119" stroke-dasharray="1 1 1 5 1 1 1 2 1 6 1 2 1 5 1 3 1 9 1 3 1 4 2 1 1 10 2 2 1 10 2 11 1 5 2 3 1 4 2 6 1 136"/><path d="M2 34.5h111" stroke-dasharray="1 8 1 5 1 2 1 2 1 1 1 1 1 12 1 5 1 1 2 12 2 4 1 3 1 5 1 1 1 1 2 13 2 13 1 136"/><path d="M3 35.5h133" stroke-dasharray="2 2 1 6 1 38 1 1 1 1 1 8 1 4 2 8 1 2 1 3 1 1 1 13 1 4 1 4 1 2 1 1 1 15 1 136"/><path d="M2 36.5h127" stroke-dasharray="1 14 1 5 1 1 1 2 1 21 1 1 1 1 1 2 1 6 1 10 1 12 1 2 1 4 1 6 1 20 1 3 1 136"/><path d="M2 37.5h134" stroke-dasharray="1 5 1 9 2 2 1 10 1 1 1 4 2 7 2 8 1 25 1 3 1 1 1 4 1 1 1 1 1 6 3 6 1 1 1 1 1 4 1 4 1 1 1 2 1 136"/><path d="M5 38.5h131" stroke-dasharray="3 21 1 1 1 6 1 4 1 9 3 3 1 3 1 5 1 9 1 12 3 3 1 11 1 1 1 3 1 3 3 1 2 5 1 3 1 136"/><path d="M10 39.5h121" stroke-dasharray="1 8 2 11 2 3 2 4 1 4 1 15 1 6 1 8 1 3 1 4 2 3 1 4 1 6 1 1 1 1 1 1 1 3 1 2 1 3 1 2 1 3 1 136"/><path d="M0 40.5h134" stroke-dasharray="1 3 1 2 1 4 1 1 1 6 1 4 1 1 1 10 1 5 1 1 1 3 2 2 1 4 1 11 1 3 1 2 1 2 2 7 1 5 1 1 1 2 1 30 1 136"/><path d="M2 41.5h123" stroke-dasharray="1 4 2 3 1 8 1 1 2 3 1 9 2 2 1 9 1 1 1 1 1 4 1 1 1 2 1 4 1 4 1 3 1 11 1 15 1 10 1 4 1 136"/><path d="M1 42.5h133" stroke-dasharray="1 4 1 5 1 1 1 16 1 4 1 3 1 16 2 2 1 7 1 2 1 7 2 1 1 3 1 1 1 6 2 3 1 6 1 1 3 2 1 5 2 6 2 2 1 136"/><path d="M1 43.5h135" stroke-dasharray="2 5 1 13 1 1 1 2 1 8 1 4 1 10 1 3 1 4 1 6 1 1 2 5 2 8 1 3 2 1 1 1 1 7 1 5 1 4 1 2 1 3 2 2 1 8 1 136"/><path d="M2 44.5h131" stroke-dasharray="1 2 1 1 1 2 1 1 1 11 1 5 1 1 1 4 1 3 1 11 1 5 1 7 1 10 3 8 1 8 1 14 2 3 1 1 1 1 1 1 1 6 2 136"/><path d="M0 45.5h133" stroke-dasharray="1 9 1 3 1 1 1 1 1 6 1 7 2 5 1 3 2 2 1 9 1 7 2 2 1 2 1 2 2 3 2 1 1 3 2 1 1 7 1 21 1 9 2 136"/><path d="M3 46.5h127" stroke-dasharray="2 10 4 6 1 8 1 1 1 8 1 4 1 8 1 3 1 7 2 7 1 9 2 7 1 2 2 3 1 8 1 4 2 6 1 136"/><path d="M3 47.5h129" stroke-dasharray="2 4 2 8 1 5 1 6 2 10 2 2 1 2 2 3 1 8 4 3 1 10 1 5 1 3 4 4 1 1 1 1 1 1 2 1 1 15 2 2 2 136"/><path d="M10 48.5h119" stroke-dasharray="1 2 2 5 1 2 3 2 1 1 1 4 1 16 1 5 1 5 1 2 1 1 1 3 1 2 1 1 1 9 1 4 1 1 2 6 1 4 1 10 1 3 2 3 1 136"/><path d="M1 49.5h131" stroke-dasharray="1 19 1 2 2 8 1 27 1 7 1 5 1 8 1 1 1 11 1 15 2 7 2 2 1 2 1 136"/><path d="M1 50.5h128" stroke-dasharray="1 12 1 4 2 5 1 1 1 1 1 6 1 5 2 3 2 2 2 10 1 2 1 1 1 10 1 9 3 2 1 10 1 13 1 1 1 5 1 136"/><path d="M9 51.5h123" stroke-dasharray="1 17 1 14 1 3 1 9 1 5 5 3 3 12 1 7 1 3 3 5 1 3 1 2 1 1 1 15 2 136"/><path d="M10 52.5h117" stroke-dasharray="1 10 1 18 1 6 1 3 1 2 1 1 1 6 2 7 3 3 1 1 1 10 1 3 1 1 1 1 2 1 1 6 1 3 2 7 1 3 1 136"/><path d="M1 53.5h123" stroke-dasharray="1 1 1 4 1 6 1 1 1 7 1 8 1 3 1 4 1 4 1 4 1 7 1 3 1 9 2 2 1 21 1 11 1 1 2 2 1 3 1 136"/><path d="M6 54.5h129" stroke-dasharray="1 2 1 21 1 10 1 5 1 7 1 5 1 4 1 2 1 3 1 1 1 16 1 8 1 11 1 2 2 5 1 2 1 3 2 1 1 136"/><path d="M3 55.5h130" stroke-dasharray="2 25 1 4 3 4 2 3 1 3 2 4 1 3 1 3 1 1 1 6 2 8 1 5 1 1 2 4 1 1 1 1 2 2 1 5 1 9 1 3 1 5 1 136"/><path d="M1 56.5h132" stroke-dasharray="1 2 1 3 2 2 1 5 1 5 1 6 2 3 1 5 1 11 5 1 1 2 1 2 1 4 1 8 1 7 1 1 1 7 1 1 2 1 1 9 2 11 2 2 1 1 1 136"/><path d="M9 57.5h123" stroke-dasharray="1 5 1 3 2 5 1 1 1 2 1 9 1 6 3 7 1 5 1 3 1 26 1 8 1 2 1 2 2 3 1 8 1 6 1 136"/><path d="M1 58.5h135" stroke-dasharray="2 1 1 1 1 14 1 9 1 4 1 2 1 4 1 12 2 5 1 1 1 1 3 4 1 1 1 3 1 1 1 1 4 3 1 12 3 7 2 5 1 2 1 3 1 1 1 1 1 1 1 136"/><path d="M0 59.5h118" stroke-dasharray="1 2 1 9 3 3 1 20 2 7 1 5 1 5 1 1 2 8 1 11 2 4 1 4 1 1 1 2 1 7 1 2 1 3 2 136"/><path d="M3 60.5h116" stroke-dasharray="1 1 1 14 1 5 1 7 1 7 1 4 1 3 1 5 1 7 1 5 1 2 2 12 1 18 1 2 1 3 1 3 1 136"/><path d="M6 61.5h129" stroke-dasharray="1 7 1 2 1 4 1 14 1 5 3 4 1 4 2 4 2 3 1 15 1 15 1 7 2 22 1 3 1 136"/><path d="M10 62.5h125" stroke-dasharray="1 11 1 7 1 2 1 2 1 3 1 16 2 7 1 5 1 18 1 3 1 11 1 3 1 2 2 1 2 10 2 3 1 136"/><path d="M8 63.5h128" stroke-dasharray="1 1 1 1 1 14 1 5 1 13 1 11 1 1 2 7 1 9 1 5 1 6 1 6 1 2 1 1 1 7 1 6 1 3 1 2 1 3 1 2 2 136"/><path d="M4 64.5h124" stroke-dasharray="1 7 1 4 1 5 1 15 1 3 1 3 1 1 1 2 1 1 1 10 1 5 1 1 1 7 1 5 2 1 1 4 1 2 1 22 1 3 1 1 1 136"/><path d="M4 65.5h129" stroke-dasharray="1 1 1 5 1 3 1 7 1 10 1 5 1 11 1 9 1 2 2 2 1 2 1 3 1 1 1 9 1 2 1 3 1 5 1 6 1 2 1 5 1 5 2 2 1 1 1 1 1 136"/><path d="M1 66.5h132" stroke-dasharray="1 1 1 20 1 10 1 1 1 4 1 1 1 4 1 3 1 3 2 1 2 2 3 2 1 5 1 1 1 6 1 3 2 4 1 3 1 1 1 4 2 1 1 2 1 7 2 3 1 4 1 2 1 136"/><path d="M1 67.5h127" stroke-dasharray="1 2 2 9 1 6 1 1 1 3 1 2 1 6 1 3 1 3 1 3 1 4 1 7 1 10 1 2 1 11 1 1 2 6 1 3 1 1 1 1 1 5 1 11 1 1 1 136"/><path d="M10 68.5h123" stroke-dasharray="1 8 1 4 1 3 1 8 1 1 1 2 1 5 1 4 1 2 1 16 1 15 1 1 1 1 1 7 1 2 1 1 1 3 1 16 1 4 1 136"/><path d="M2 69.5h125" stroke-dasharray="2 6 1 17 1 3 1 4 1 4 1 2 1 9 2 2 1 2 1 3 1 2 2 7 1 4 1 3 1 3 2 1 1 2 1 8 2 6 1 3 1 5 3 136"/><path d="M0 70.5h136" stroke-dasharray="1 14 1 3 1 2 2 11 1 10 1 5 1 1 1 12 3 3 2 4 2 1 2 5 1 6 1 5 1 8 1 2 1 1 1 1 3 3 1 5 1 3 2 136"/><path d="M1 71.5h130" stroke-dasharray="1 14 1 10 1 2 1 4 1 2 1 2 1 2 1 13 1 17 1 1 1 2 1 9 1 9 1 3 1 11 2 1 1 8 2 136"/><path d="M2 72.5h129" stroke-dasharray="1 1 1 10 1 4 1 1 1 1 1 6 1 8 2 1 1 1 1 3 1 5 1 2 3 6 1 8 1 1 1 1 1 1 1 3 1 7 1 1 2 3 1 1 2 2 1 4 1 1 1 7 1 7 1 136"/><path d="M2 73.5h127" stroke-dasharray="2 4 1 4 1 10 2 4 1 16 1 2 1 3 2 17 1 6 1 2 1 2 1 3 1 6 1 8 1 3 2 12 1 3 1 136"/><path d="M4 74.5h124" stroke-dasharray="2 6 1 7 1 11 1 2 1 2 1 1 1 8 1 3 1 7 1 2 1 7 1 6 1 8 1 6 1 1 1 2 1 4 1 5 1 1 1 2 1 10 1 136"/><path d="M2 75.5h127" stroke-dasharray="2 8 1 5 3 2 4 3 2 1 1 5 3 2 1 3 1 4 2 2 1 11 1 13 1 2 1 4 1 1 1 5 1 7 3 3 3 4 1 7 1 136"/><path d="M1 76.5h129" stroke-dasharray="1 2 1 2 1 3 1 1 1 11 1 4 1 1 1 5 1 1 1 21 1 28 1 2 1 9 1 2 1 21 1 136"/><path d="M1 77.5h132" stroke-dasharray="1 11 3 5 1 1 1 7 1 2 2 1 1 4 1 6 1 1 1 1 1 6 1 2 1 8 1 2 2 1 1 2 1 2 1 7 2 1 1 2 1 7 2 12 2 4 1 5 1 136"/><path d="M6 78.5h129" stroke-dasharray="1 18 1 8 1 4 2 8 1 5 1 5 2 1 1 1 1 1 1 1 1 8 1 1 1 12 2 5 3 2 1 2 1 4 1 4 1 1 1 2 1 9 1 136"/><path d="M7 79.5h128" stroke-dasharray="3 17 1 3 1 6 2 1 1 6 1 23 2 3 2 1 1 1 1 3 1 5 1 1 1 6 1 4 1 5 1 6 1 3 1 10 1 136"/><path d="M9 80.5h126" stroke-dasharray="1 1 2 9 1 6 1 2 1 5 1 5 1 4 1 3 2 6 1 6 2 1 1 8 1 3 1 5 1 6 2 1 2 8 2 5 1 1 1 1 1 2 2 5 1 1 2 136"/><path d="M19 81.5h113" stroke-dasharray="1 16 1 7 1 9 1 1 1 1 1 4 1 3 1 6 1 2 1 3 1 2 1 5 1 7 1 32 1 136"/><path d="M4 82.5h125" stroke-dasharray="1 3 2 6 1 1 2 10 1 8 3 6 1 2 1 2 1 5 1 2 1 8 1 1 2 9 1 12 2 5 2 5 1 10 1 1 1 1 2 136"/><path d="M7 83.5h128" stroke-dasharray="4 5 2 4 2 1 1 5 1 3 1 11 1 1 1 5 1 4 1 6 2 7 3 12 1 22 1 5 2 3 1 8 1 136"/><path d="M4 84.5h127" stroke-dasharray="1 10 1 3 1 2 2 2 1 11 1 1 1 1 1 3 1 1 1 1 1 4 1 1 1 2 1 10 1 1 1 1 2 4 1 1 3 4 1 2 1 7 1 5 1 8 1 3 1 9 1 136"/><path d="M0 85.5h131" stroke-dasharray="1 2 1 1 2 8 2 6 3 3 2 2 1 1 5 11 1 1 1 2 1 4 1 4 1 3 2 8 1 4 1 13 1 2 1 6 1 4 1 3 1 11 1 136"/><path d="M7 86.5h116" stroke-dasharray="1 3 1 4 3 2 1 6 1 23 1 7 1 2 1 2 1 5 1 4 1 14 3 2 1 2 3 3 2 5 1 2 1 5 1 136"/><path d="M7 87.5h129" stroke-dasharray="2 2 1 4 1 18 1 1 1 4 1 13 1 4 1 5 1 2 1 5 1 6 1 7 2 4 1 15 1 2 1 5 1 2 1 3 2 3 2 136"/><path d="M2 88.5h133" stroke-dasharray="1 7 1 5 1 12 1 2 1 7 1 6 2 7 2 7 2 8 1 2 1 7 1 3 1 17 1 2 1 19 1 2 1 136"/><path d="M4 89.5h129" stroke-dasharray="1 10 1 4 1 12 1 1 1 3 2 1 1 1 1 7 1 10 1 7 3 5 1 4 1 7 1 1 1 11 1 7 1 1 1 2 2 8 1 1 2 136"/><path d="M4 90.5h127" stroke-dasharray="4 1 1 5 1 6 1 9 1 9 1 5 1 2 1 1 2 4 3 17 1 10 2 3 1 7 1 19 1 3 2 1 1 136"/><path d="M2 91.5h127" stroke-dasharray="1 6 1 1 1 4 1 5 1 9 2 10 1 3 1 2 1 9 1 2 1 8 1 2 1 1 1 5 2 6 1 1 1 1 1 2 2 2 2 16 1 4 1 1 1 136"/><path d="M9 92.5h110" stroke-dasharray="1 1 2 16 1 5 1 2 1 20 1 18 1 3 1 7 1 15 1 1 1 9 1 136"/><path d="M22 93.5h102" stroke-dasharray="1 4 1 2 1 3 1 2 1 1 2 1 1 3 1 5 1 6 1 6 2 3 1 5 1 3 1 1 1 12 1 25 2 136"/><path d="M2 94.5h134" stroke-dasharray="1 7 1 4 1 4 1 8 1 2 2 1 1 3 1 7 1 8 1 1 1 1 1 1 2 2 1 1 1 3 1 7 1 4 1 7 1 1 1 21 1 10 1 4 3 136"/><path d="M7 95.5h124" stroke-dasharray="1 11 1 1 1 10 1 4 2 6 2 5 1 2 1 1 1 2 1 5 1 5 1 2 1 5 1 4 1 12 1 9 1 8 1 1 1 1 1 7 1 136"/><path d="M0 96.5h135" stroke-dasharray="1 9 2 4 1 11 1 9 1 5 1 4 1 7 1 2 1 2 1 11 1 2 1 3 1 20 1 1 2 7 1 2 1 1 1 7 1 6 1 136"/><path d="M1 97.5h126" stroke-dasharray="1 2 1 5 2 13 1 11 1 5 1 7 2 2 1 4 1 13 1 1 1 1 1 1 1 4 2 11 1 4 1 1 2 4 1 11 1 2 1 136"/><path d="M1 98.5h118" stroke-dasharray="1 2 2 3 2 3 1 5 2 6 1 2 1 10 1 1 1 7 1 1 1 5 1 2 1 6 1 9 1 4 1 4 1 1 1 2 1 4 4 4 1 4 1 4 1 136"/><path d="M1 99.5h120" stroke-dasharray="1 6 2 3 1 2 1 9 2 3 1 1 2 1 1 13 1 2 1 3 1 4 1 3 1 4 1 3 1 2 1 1 1 14 1 5 1 1 1 1 1 1 2 10 2 136"/><path d="M3 100.5h126" stroke-dasharray="2 5 1 8 2 2 1 16 3 1 1 19 1 12 1 1 5 21 1 5 1 3 2 5 1 5 1 136"/><path d="M4 101.5h129" stroke-dasharray="1 12 1 5 1 2 1 1 1 1 1 1 2 6 1 5 1 6 1 7 1 2 1 3 3 3 1 17 1 2 1 1 1 7 2 12 1 3 1 1 1 6 1 136"/><path d="M1 102.5h134" stroke-dasharray="1 2 1 5 1 1 1 2 3 1 1 14 1 3 1 3 1 1 1 4 1 4 3 1 2 2 1 10 1 4 1 3 1 2 1 12 1 7 3 2 2 6 2 2 1 1 1 1 1 6 1 136"/><path d="M2 103.5h125" stroke-dasharray="1 5 2 2 2 4 1 10 1 10 1 2 1 7 1 7 2 9 1 26 1 11 1 11 2 3 1 136"/><path d="M29 104.5h94" stroke-dasharray="1 5 1 2 2 4 1 3 1 2 1 5 1 6 2 16 1 3 1 3 1 4 1 6 3 1 1 2 1 2 1 4 1 1 1 2 1 136"/><path d="M9 105.5h125" stroke-dasharray="1 1 1 20 1 4 1 12 2 10 1 3 1 2 2 2 1 5 2 11 1 4 2 7 1 5 1 3 1 1 1 3 2 7 1 1 1 136"/><path d="M1 106.5h131" stroke-dasharray="1 3 1 3 1 7 1 5 1 9 1 3 1 7 1 14 1 4 1 5 2 6 1 1 1 2 1 1 1 7 1 7 1 15 1 8 1 2 2 136"/><path d="M4 107.5h127" stroke-dasharray="1 4 2 8 2 2 1 4 1 8 1 3 1 9 3 3 1 3 3 2 1 2 1 2 1 6 3 10 1 3 2 4 2 8 1 1 1 10 1 4 1 136"/><path d="M12 108.5h118" stroke-dasharray="1 2 1 2 1 4 1 5 2 1 1 2 1 7 1 2 2 3 3 14 2 9 1 1 2 3 1 3 1 7 1 4 1 9 1 3 1 2 1 8 1 136"/><path d="M5 109.5h131" stroke-dasharray="1 3 1 11 2 14 1 11 1 8 1 3 2 11 1 1 2 6 1 12 2 2 1 4 1 18 1 5 1 2 1 136"/><path d="M7 110.5h126" stroke-dasharray="2 1 3 1 1 10 1 1 1 2 2 1 1 8 1 1 1 1 2 2 1 4 1 1 1 6 2 7 3 13 1 3 2 6 1 13 3 10 2 2 1 136"/><path d="M3 111.5h112" stroke-dasharray="1 7 1 2 1 6 3 6 1 1 1 1 1 2 1 1 2 7 1 5 1 14 1 6 1 1 1 13 1 18 1 2 1 136"/><path d="M8 112.5h126" stroke-dasharray="1 19 1 6 1 7 2 5 1 3 1 3 1 8 1 2 1 4 1 3 1 27 1 2 1 2 2 2 1 2 1 6 1 1 1 2 2 136"/><path d="M7 113.5h119" stroke-dasharray="1 8 1 12 2 5 3 2 2 1 1 3 2 6 1 3 1 2 1 4 1 6 1 3 1 9 2 3 1 8 1 4 1 7 1 1 2 2 2 1 1 136"/><path d="M1 114.5h128" stroke-dasharray="1 3 1 3 2 3 1 6 1 6 1 3 1 14 1 2 1 6 2 5 1 1 2 1 3 1 1 1 1 1 1 3 1 3 2 4 1 1 1 1 2 7 1 9 1 1 1 3 2 6 1 136"/><path d="M17 115.5h110" stroke-dasharray="2 1 1 3 1 6 2 3 1 1 1 6 1 5 3 1 1 4 1 6 1 5 1 4 1 12 3 1 1 22 1 4 1 1 2 136"/><path d="M4 116.5h118" stroke-dasharray="1 1 1 1 1 13 1 18 1 1 2 1 1 6 2 4 1 11 2 9 1 14 1 1 1 5 1 2 2 9 1 1 1 136"/><path d="M19 117.5h117" stroke-dasharray="1 6 1 7 1 4 2 3 1 5 1 5 1 4 1 1 2 5 1 2 2 2 1 1 1 8 1 3 1 19 1 4 1 4 1 6 1 2 1 2 1 136"/><path d="M2 118.5h132" stroke-dasharray="1 8 1 5 1 25 1 1 1 5 1 3 1 6 1 2 1 7 1 7 2 3 1 1 1 8 2 7 1 15 1 3 1 6 1 136"/><path d="M13 119.5h117" stroke-dasharray="1 3 2 5 2 3 1 8 2 1 2 8 2 1 1 19 1 7 1 2 2 5 1 3 1 1 2 22 1 3 1 2 1 136"/><path d="M3 120.5h117" stroke-dasharray="2 25 1 5 1 6 1 5 1 2 1 4 1 3 1 3 1 14 1 5 1 4 1 2 1 1 1 3 1 3 1 6 1 5 1 1 1 136"/><path d="M3 121.5h125" stroke-dasharray="1 2 2 8 1 2 1 5 1 6 2 12 1 2 2 1 1 8 1 1 1 3 1 6 1 2 1 4 1 8 1 1 1 9 1 5 2 2 1 1 1 6 1 3 2 136"/><path d="M4 122.5h129" stroke-dasharray="1 8 1 13 1 2 1 3 1 11 2 1 3 9 1 5 1 8 1 1 1 13 3 8 2 2 1 8 1 4 2 4 1 1 1 1 2 136"/><path d="M2 123.5h124" stroke-dasharray="1 1 1 7 1 3 1 1 2 13 1 4 1 9 1 1 1 4 1 2 1 2 1 1 1 7 1 1 3 2 1 3 1 4 1 2 1 2 1 1 1 9 1 13 1 1 1 3 1 136"/><path d="M2 124.5h131" stroke-dasharray="1 8 1 2 1 5 1 2 1 3 1 7 2 3 1 8 1 1 1 3 1 15 1 10 1 3 2 1 1 11 2 2 1 7 1 1 1 3 1 1 1 3 1 4 1 1 1 136"/><path d="M1 125.5h130" stroke-dasharray="1 9 1 5 1 8 1 2 1 2 2 2 1 6 1 4 1 3 3 13 1 6 2 4 2 2 1 1 1 1 1 1 1 1 1 9 2 3 1 5 2 9 1 4 1 136"/><path d="M4 126.5h132" stroke-dasharray="3 1 1 2 3 6 1 1 1 1 1 14 1 9 1 13 1 9 1 1 1 3 1 10 1 3 1 32 1 7 1 136"/><path d="M6 127.5h127" stroke-dasharray="1 3 1 2 1 1 1 3 1 2 2 3 1 23 1 7 3 3 1 9 1 6 2 9 1 5 2 10 2 1 1 10 4 3 1 136"/><path d="M9 128.5h125" stroke-dasharray="1 2 1 8 1 2 2 7 1 10 2 7 2 2 2 1 1 4 1 5 1 6 1 2 1 7 1 5 1 4 1 2 1 3 2 2 1 6 1 6 1 1 1 5 1 136"/><path d="M26 129.5h110" stroke-dasharray="1 16 1 3 1 9 2 5 1 1 1 9 2 2 1 9 1 1 1 3 1 4 1 1 1 1 1 2 1 19 1 6 1 136"/><path d="M2 130.5h123" stroke-dasharray="1 13 1 1 1 2 1 14 1 2 1 4 1 1 1 8 1 1 1 3 1 2 2 7 2 1 1 3 1 2 2 1 1 1 2 34 1 136"/><path d="M2 131.5h131" stroke-dasharray="1 16 2 1 1 14 1 9 1 4 4 3 1 6 1 1 1 5 1 10 1 1 1 8 1 7 1 13 2 11 2 136"/><path d="M1 132.5h134" stroke-dasharray="1 2 1 1 3 4 1 6 2 1 1 6 1 8 1 3 1 8 1 7 1 3 1 3 1 5 1 4 3 16 1 2 2 3 1 1 1 7 1 1 1 6 1 7 2 136"/><path d="M4 133.5h131" stroke-dasharray="1 13 2 3 1 10 1 1 1 1 2 7 1 6 2 1 1 3 1 1 1 15 1 10 1 2 2 5 2 3 1 2 1 1 2 11 1 1 1 2 1 5 1 136"/><path d="M1 134.5h127" stroke-dasharray="1 6 1 11 3 2 1 6 2 1 2 6 1 1 1 7 1 11 1 6 1 4 1 5 1 2 1 3 1 10 2 2 1 7 1 4 1 4 1 3 1 136"/><path d="M2 135.5h134" stroke-dasharray="1 1 1 13 1 12 2 2 1 3 1 8 1 2 1 8 1 1 1 2 1 2 1 2 1 3 1 1 1 8 1 11 1 25 1 4 1 3 1 1 1 136"/><path d="M0 136.5h133" stroke-dasharray="3 5 2 18 1 4 3 14 1 3 2 3 1 6 1 6 1 3 1 14 1 7 1 1 1 4 1 1 1 4 1 17 1 136"/></g>
<g stroke="#7878ce" fill="none"><path d="M28 0.5h106" stroke-dasharray="1 1 1 8 1 3 1 1 1 5 1 14 1 36 1 20 1 8 1 136"/><path d="M4 1.5h115" stroke-dasharray="1 1 1 49 1 4 1 38 1 16 2 136"/><path d="M28 2.5h101" stroke-dasharray="1 1 1 12 2 12 1 3 1 9 1 1 1 3 1 11 1 2 1 16 1 6 1 11 1 136"/><path d="M36 3.5h38" stroke-dasharray="1 6 1 1 1 3 1 4 1 11 1 6 1 136"/><path d="M0 4.5h132" stroke-dasharray="2 25 1 31 1 19 1 50 2 136"/><path d="M6 5.5h106" stroke-dasharray="1 15 1 46 1 2 1 21 1 4 1 11 1 136"/><path d="M4 6.5h128" stroke-dasharray="1 5 1 11 1 39 1 39 1 17 1 9 2 136"/><path d="M2 7.5h118" stroke-dasharray="1 1 1 3 1 35 1 29 1 3 1 8 1 1 1 21 1 3 1 3 1 136"/><path d="M14 8.5h110" stroke-dasharray="1 32 1 6 1 13 1 3 1 6 1 9 1 25 1 7 1 136"/><path d="M19 9.5h106" stroke-dasharray="1 5 1 43 1 24 1 23 1 5 1 136"/><path d="M21 10.5h88" stroke-dasharray="1 3 1 23 1 12 1 10 1 7 1 2 1 23 1 136"/><path d="M4 11.5h127" stroke-dasharray="1 6 1 19 1 9 1 1 1 20 2 8 1 2 1 3 1 7 1 8 1 2 1 28 1 136"/><path d="M1 12.5h122" stroke-dasharray="1 2 1 60 1 7 1 1 1 5 1 9 1 4 1 25 1 136"/><path d="M27 13.5h97" stroke-dasharray="1 34 1 10 1 13 1 6 1 1 1 13 1 10 1 1 1 136"/><path d="M6 14.5h61" stroke-dasharray="1 1 1 4 1 11 1 4 1 33 1 1 1 136"/><path d="M6 15.5h94" stroke-dasharray="1 3 1 8 1 3 1 3 1 3 1 5 1 12 1 28 1 2 1 16 1 136"/><path d="M19 16.5h106" stroke-dasharray="1 3 1 4 1 6 2 12 2 10 1 56 1 5 1 136"/><path d="M27 17.5h104" stroke-dasharray="1 16 1 2 1 8 1 1 1 7 1 9 1 15 1 10 1 3 1 22 1 136"/><path d="M36 18.5h100" stroke-dasharray="1 2 1 3 2 5 1 8 1 49 1 25 1 136"/><path d="M3 19.5h124" stroke-dasharray="1 10 1 2 1 22 2 21 1 19 1 17 1 2 1 6 1 2 1 4 1 6 1 136"/><path d="M29 20.5h70" stroke-dasharray="1 21 1 14 1 16 1 1 1 12 1 136"/><path d="M33 21.5h102" stroke-dasharray="1 10 1 6 1 8 1 22 1 5 1 10 1 10 1 5 1 16 1 136"/><path d="M23 22.5h85" stroke-dasharray="1 15 1 13 2 9 2 5 1 3 1 2 1 13 2 2 1 10 1 136"/><path d="M8 23.5h123" stroke-dasharray="1 5 1 4 1 14 1 24 1 1 1 4 1 18 1 3 1 5 1 10 1 7 1 1 1 13 1 136"/><path d="M14 24.5h115" stroke-dasharray="1 11 1 4 1 38 1 38 2 17 1 136"/><path d="M18 25.5h111" stroke-dasharray="1 3 1 8 1 11 2 14 1 10 1 5 1 2 1 1 1 4 1 2 3 3 1 6 1 4 1 20 1 136"/><path d="M5 26.5h71" stroke-dasharray="1 1 1 24 2 6 1 9 1 15 1 8 1 136"/><path d="M11 27.5h121" stroke-dasharray="1 17 1 17 1 3 1 4 1 22 1 3 1 1 1 37 1 7 1 136"/><path d="M13 28.5h123" stroke-dasharray="2 5 1 4 1 12 1 14 1 39 1 8 1 32 1 136"/><path d="M8 29.5h124" stroke-dasharray="1 17 1 5 1 25 1 12 1 17 1 5 1 6 1 21 1 2 2 2 1 136"/><path d="M24 30.5h79" stroke-dasharray="3 2 1 1 1 5 1 11 1 6 1 13 2 6 1 9 2 9 1 2 1 136"/><path d="M7 31.5h126" stroke-dasharray="1 5 1 5 1 6 1 1 2 29 1 7 1 3 1 11 1 30 1 17 1 136"/><path d="M40 32.5h76" stroke-dasharray="2 52 1 9 1 6 1 3 1 136"/><path d="M19 33.5h97" stroke-dasharray="1 28 1 50 1 3 1 2 1 8 1 136"/><path d="M31 34.5h90" stroke-dasharray="1 2 1 18 1 10 1 1 2 19 1 5 1 5 1 3 1 2 1 13 1 136"/><path d="M2 35.5h127" stroke-dasharray="1 10 1 6 1 3 1 7 1 6 1 24 1 35 2 11 1 8 1 5 1 136"/><path d="M0 36.5h123" stroke-dasharray="2 25 1 10 1 19 1 1 2 4 1 6 1 16 1 13 1 2 1 11 1 1 2 136"/><path d="M0 37.5h122" stroke-dasharray="2 13 1 15 1 28 1 13 1 6 1 11 1 3 1 3 1 13 1 5 1 136"/><path d="M36 38.5h70" stroke-dasharray="1 11 2 15 1 1 1 15 1 7 1 8 3 1 2 136"/><path d="M0 39.5h123" stroke-dasharray="1 27 1 22 1 9 1 6 1 53 1 136"/><path d="M9 40.5h113" stroke-dasharray="1 1 1 3 1 1 1 26 1 4 1 6 1 8 2 11 1 16 1 19 1 5 1 136"/><path d="M1 41.5h135" stroke-dasharray="1 1 1 10 1 14 1 4 1 13 1 20 1 13 1 4 1 7 1 3 1 1 1 2 1 5 1 1 1 4 1 2 1 13 1 136"/><path d="M11 42.5h124" stroke-dasharray="1 18 1 2 1 22 1 3 1 5 1 6 1 8 1 1 1 28 1 20 1 136"/><path d="M9 43.5h90" stroke-dasharray="1 3 1 41 1 2 1 3 3 7 1 24 2 136"/><path d="M1 44.5h133" stroke-dasharray="1 14 1 22 1 10 1 10 2 8 1 1 1 8 1 1 1 2 1 15 1 8 1 20 1 136"/><path d="M1 45.5h124" stroke-dasharray="1 1 1 5 1 14 1 7 1 8 1 9 1 1 1 11 1 28 2 6 1 1 1 6 1 12 1 136"/><path d="M7 46.5h122" stroke-dasharray="1 3 1 16 1 8 1 2 1 5 1 14 1 2 1 3 1 1 1 11 1 10 1 6 1 27 1 136"/><path d="M5 47.5h119" stroke-dasharray="1 69 1 15 1 12 1 17 2 136"/><path d="M1 48.5h133" stroke-dasharray="1 49 1 4 1 27 1 1 1 14 1 18 1 9 1 2 1 136"/><path d="M12 49.5h111" stroke-dasharray="1 28 1 27 1 11 1 13 1 1 1 12 1 7 1 3 1 136"/><path d="M13 50.5h111" stroke-dasharray="1 25 1 18 2 17 1 20 1 24 1 136"/><path d="M5 51.5h129" stroke-dasharray="1 2 1 22 1 3 1 18 1 13 1 8 1 2 2 10 1 22 1 9 1 7 1 136"/><path d="M8 52.5h128" stroke-dasharray="1 6 2 8 1 1 1 3 1 26 1 7 1 12 1 2 1 2 1 41 3 5 1 136"/><path d="M20 53.5h113" stroke-dasharray="2 1 1 21 1 9 1 7 2 12 1 5 1 14 1 13 1 19 1 136"/><path d="M3 54.5h104" stroke-dasharray="1 6 1 29 1 5 1 38 1 10 1 9 1 136"/><path d="M18 55.5h79" stroke-dasharray="1 1 1 33 1 4 1 11 1 4 1 9 1 4 1 4 1 136"/><path d="M26 56.5h108" stroke-dasharray="1 1 1 5 1 4 1 51 1 2 1 1 1 2 1 19 1 4 1 8 1 136"/><path d="M0 57.5h126" stroke-dasharray="1 11 1 29 1 34 1 19 1 5 1 4 1 4 1 4 1 6 1 136"/><path d="M20 58.5h105" stroke-dasharray="1 22 1 1 1 2 2 4 1 21 1 17 1 8 1 20 1 136"/><path d="M4 59.5h127" stroke-dasharray="1 5 1 14 2 1 1 4 1 5 1 11 1 26 1 10 1 5 1 15 1 6 1 5 1 5 1 136"/><path d="M2 60.5h131" stroke-dasharray="1 7 1 22 1 1 1 9 1 8 1 24 1 4 1 5 1 26 1 14 1 136"/><path d="M3 61.5h101" stroke-dasharray="1 17 1 16 1 8 2 4 1 15 1 11 1 7 1 2 1 10 1 136"/><path d="M11 62.5h112" stroke-dasharray="2 39 1 20 1 10 1 3 1 5 1 14 1 12 1 136"/><path d="M1 63.5h125" stroke-dasharray="1 7 1 12 1 29 1 4 1 11 1 9 1 14 1 7 1 7 1 10 1 3 1 136"/><path d="M9 64.5h127" stroke-dasharray="1 22 1 7 1 26 1 4 1 12 1 3 1 2 1 10 1 25 1 5 1 136"/><path d="M3 65.5h117" stroke-dasharray="1 14 1 4 1 3 1 1 2 23 1 5 1 1 1 23 1 6 2 15 1 8 1 136"/><path d="M12 66.5h90" stroke-dasharray="1 1 1 4 1 12 1 10 1 23 1 2 1 24 1 5 1 136"/><path d="M25 67.5h102" stroke-dasharray="1 14 1 40 1 11 1 4 1 2 1 7 1 2 1 11 1 1 1 136"/><path d="M0 68.5h131" stroke-dasharray="1 30 1 1 1 2 1 7 1 53 1 14 1 2 1 13 1 136"/><path d="M24 69.5h99" stroke-dasharray="1 16 1 6 1 12 1 40 1 1 2 16 1 136"/><path d="M34 70.5h76" stroke-dasharray="1 31 1 40 1 1 1 136"/><path d="M18 71.5h110" stroke-dasharray="1 1 1 10 2 13 1 5 1 13 1 8 1 51 1 136"/><path d="M1 72.5h123" stroke-dasharray="1 14 1 29 1 3 1 6 1 47 1 11 1 5 1 136"/><path d="M9 73.5h124" stroke-dasharray="1 10 1 23 1 6 1 27 1 1 1 20 1 23 1 5 1 136"/><path d="M3 74.5h118" stroke-dasharray="1 5 1 18 1 7 1 6 1 1 1 1 1 8 1 20 1 23 1 18 1 136"/><path d="M50 75.5h73" stroke-dasharray="1 21 1 4 1 19 1 23 2 136"/><path d="M6 76.5h107" stroke-dasharray="1 7 1 29 1 7 1 3 1 2 1 17 1 2 2 26 1 3 1 136"/><path d="M4 77.5h127" stroke-dasharray="1 49 1 4 1 2 1 14 1 18 1 3 2 3 1 12 1 3 1 4 1 2 1 136"/><path d="M1 78.5h133" stroke-dasharray="2 10 1 3 1 3 1 26 1 29 1 1 1 31 1 16 1 3 1 136"/><path d="M1 79.5h89" stroke-dasharray="1 23 1 17 2 4 1 7 2 3 1 26 1 136"/><path d="M1 80.5h132" stroke-dasharray="1 6 1 22 1 31 1 14 1 4 1 3 1 14 1 2 1 3 1 5 1 4 1 8 1 2 1 136"/><path d="M11 81.5h114" stroke-dasharray="2 4 1 10 1 58 1 11 2 8 1 1 1 12 1 136"/><path d="M2 82.5h119" stroke-dasharray="1 10 1 72 1 4 1 4 1 23 1 136"/><path d="M3 83.5h122" stroke-dasharray="1 14 1 23 1 46 1 8 1 24 2 136"/><path d="M2 84.5h134" stroke-dasharray="1 2 1 19 1 36 1 4 1 1 1 2 1 22 1 19 1 3 1 5 2 8 1 136"/><path d="M32 85.5h64" stroke-dasharray="1 9 2 23 1 8 1 11 1 6 1 136"/><path d="M14 86.5h113" stroke-dasharray="1 40 1 9 1 13 1 2 1 3 1 3 2 12 1 5 1 15 1 136"/><path d="M17 87.5h96" stroke-dasharray="1 76 1 9 1 6 2 136"/><path d="M20 88.5h116" stroke-dasharray="2 19 1 19 1 11 1 10 1 22 1 5 1 11 1 9 1 136"/><path d="M10 89.5h115" stroke-dasharray="1 47 1 65 1 136"/><path d="M19 90.5h114" stroke-dasharray="1 5 1 29 1 6 1 12 1 25 1 27 1 2 1 136"/><path d="M6 91.5h108" stroke-dasharray="1 14 1 2 1 9 2 13 1 3 1 21 1 6 1 8 1 21 1 136"/><path d="M3 92.5h109" stroke-dasharray="1 9 1 41 1 24 2 5 1 23 1 136"/><path d="M14 93.5h115" stroke-dasharray="1 18 1 17 1 8 1 29 1 37 1 136"/><path d="M3 94.5h99" stroke-dasharray="1 22 1 17 1 1 1 26 1 3 1 4 1 17 2 136"/><path d="M23 95.5h83" stroke-dasharray="1 10 1 9 1 16 1 14 1 10 1 17 1 136"/><path d="M27 96.5h106" stroke-dasharray="1 5 1 6 1 38 1 33 1 18 1 136"/><path d="M2 97.5h133" stroke-dasharray="1 3 1 16 1 4 1 13 1 7 1 5 1 7 1 47 1 3 1 8 1 6 1 1 1 136"/><path d="M7 98.5h128" stroke-dasharray="1 15 1 2 1 21 1 1 2 9 1 10 1 6 1 2 1 8 1 5 1 36 1 136"/><path d="M3 99.5h130" stroke-dasharray="1 21 1 18 1 2 2 25 1 8 1 3 1 18 1 17 1 7 1 136"/><path d="M12 100.5h57" stroke-dasharray="1 4 1 7 1 2 1 10 1 3 1 24 1 136"/><path d="M22 101.5h113" stroke-dasharray="1 14 1 12 1 4 2 9 1 11 2 14 1 1 1 23 1 13 1 136"/><path d="M28 102.5h43" stroke-dasharray="1 41 1 136"/><path d="M44 103.5h91" stroke-dasharray="1 4 2 3 1 21 1 2 1 6 1 1 1 6 1 2 2 3 2 14 1 4 1 9 1 136"/><path d="M8 104.5h122" stroke-dasharray="2 17 1 5 1 7 1 21 1 3 1 21 1 1 1 1 1 3 1 28 1 2 1 136"/><path d="M36 105.5h97" stroke-dasharray="1 1 1 18 1 3 1 1 1 1 1 8 1 13 1 26 1 1 1 14 1 136"/><path d="M11 106.5h111" stroke-dasharray="1 27 1 1 1 46 1 1 1 6 1 7 1 15 1 136"/><path d="M11 107.5h88" stroke-dasharray="1 42 1 3 1 1 1 7 1 5 1 11 1 2 3 6 1 136"/><path d="M9 108.5h102" stroke-dasharray="2 3 1 6 1 4 1 18 1 3 2 3 1 1 1 20 1 6 1 17 1 7 1 136"/><path d="M20 109.5h102" stroke-dasharray="1 10 1 2 2 6 1 51 2 1 1 6 1 16 1 136"/><path d="M0 110.5h114" stroke-dasharray="1 21 1 90 1 136"/><path d="M45 111.5h89" stroke-dasharray="1 7 1 23 1 34 1 11 1 7 2 136"/><path d="M12 112.5h101" stroke-dasharray="1 8 1 11 1 11 1 30 1 15 1 4 1 6 1 7 1 136"/><path d="M28 113.5h90" stroke-dasharray="1 24 1 28 1 1 1 7 1 6 1 17 1 136"/><path d="M22 114.5h103" stroke-dasharray="1 6 1 3 1 7 1 9 1 36 1 10 1 8 1 15 1 136"/><path d="M0 115.5h128" stroke-dasharray="1 3 1 45 1 19 1 29 1 1 1 18 1 5 1 136"/><path d="M14 116.5h99" stroke-dasharray="1 17 1 7 1 16 1 18 1 16 1 1 1 5 1 2 1 7 1 136"/><path d="M11 117.5h114" stroke-dasharray="1 4 2 34 1 34 1 6 1 8 1 5 1 14 1 136"/><path d="M4 118.5h88" stroke-dasharray="1 5 1 24 1 14 1 36 1 3 1 136"/><path d="M4 119.5h90" stroke-dasharray="1 21 1 9 2 38 1 3 1 12 1 136"/><path d="M1 120.5h135" stroke-dasharray="1 4 1 61 1 2 1 11 1 40 1 10 1 136"/><path d="M10 121.5h111" stroke-dasharray="1 20 1 11 1 32 1 2 1 5 1 34 1 136"/><path d="M15 122.5h106" stroke-dasharray="1 4 1 7 2 40 1 11 1 2 1 11 1 1 2 9 1 9 1 136"/><path d="M11 123.5h105" stroke-dasharray="1 18 1 6 1 14 1 15 1 33 1 9 1 2 1 136"/><path d="M22 124.5h103" stroke-dasharray="1 19 1 2 1 11 1 7 1 3 1 23 1 30 1 136"/><path d="M2 125.5h105" stroke-dasharray="1 43 1 45 1 13 1 136"/><path d="M19 126.5h104" stroke-dasharray="1 7 1 4 1 5 1 15 2 1 1 42 1 21 1 136"/><path d="M49 127.5h61" stroke-dasharray="2 11 1 26 1 4 1 14 1 136"/><path d="M7 128.5h116" stroke-dasharray="1 35 1 8 1 30 1 1 1 13 1 19 1 1 2 136"/><path d="M5 129.5h125" stroke-dasharray="2 22 1 3 1 3 1 2 2 18 1 33 1 34 1 136"/><path d="M9 130.5h121" stroke-dasharray="1 3 1 13 1 6 1 27 1 38 1 7 1 19 1 136"/><path d="M7 131.5h128" stroke-dasharray="1 31 1 2 1 5 1 14 2 2 1 22 1 43 1 136"/><path d="M14 132.5h77" stroke-dasharray="1 20 2 17 2 2 1 25 1 5 1 136"/><path d="M10 133.5h98" stroke-dasharray="1 3 2 5 1 4 1 6 1 11 1 10 1 7 1 1 1 14 2 1 1 22 1 136"/><path d="M15 134.5h118" stroke-dasharray="1 2 1 11 1 24 2 25 1 5 1 11 1 2 1 11 1 5 1 10 1 136"/><path d="M10 135.5h121" stroke-dasharray="3 20 1 16 1 5 1 4 1 5 1 12 1 19 1 10 2 17 1 136"/><path d="M46 136.5h68" stroke-dasharray="1 20 1 18 2 15 1 9 1 136"/></g>
<g stroke="#a5a2de" fill="none"><path d="M7 0.5h117" stroke-dasharray="1 8 1 4 1 10 1 14 3 4 1 8 1 5 1 17 1 17 2 3 2 10 2 136"/><path d="M39 1.5h61" stroke-dasharray="2 13 1 8 1 11 1 2 1 20 1 136"/><path d="M40 2.5h57" stroke-dasharray="1 24 1 3 1 26 1 136"/><path d="M4 3.5h126" stroke-dasharray="1 2 1 22 1 38 2 10 1 4 1 2 2 33 1 4 1 136"/><path d="M7 4.5h108" stroke-dasharray="1 14 2 6 1 6 1 10 2 10 1 14 1 9 2 9 1 17 1 136"/><path d="M41 5.5h83" stroke-dasharray="1 9 1 11 1 2 1 11 1 44 1 136"/><path d="M24 6.5h87" stroke-dasharray="1 5 1 15 1 46 1 3 1 12 1 136"/><path d="M3 7.5h115" stroke-dasharray="1 1 1 1 1 7 1 7 1 24 1 4 1 15 1 6 1 2 1 37 1 136"/><path d="M7 8.5h108" stroke-dasharray="1 18 1 3 2 7 1 8 1 11 1 4 1 28 1 5 1 13 1 136"/><path d="M10 9.5h123" stroke-dasharray="1 11 1 16 1 20 1 7 1 5 1 1 1 2 1 2 1 10 1 20 1 17 1 136"/><path d="M2 10.5h92" stroke-dasharray="1 19 1 45 1 24 1 136"/><path d="M39 11.5h71" stroke-dasharray="1 9 1 7 1 20 1 27 1 2 1 136"/><path d="M33 12.5h71" stroke-dasharray="1 9 1 3 1 5 1 3 1 14 1 5 1 19 1 4 1 136"/><path d="M8 13.5h104" stroke-dasharray="1 6 1 22 1 4 1 6 1 4 1 4 1 2 2 11 1 2 1 23 2 6 1 136"/><path d="M15 14.5h108" stroke-dasharray="1 29 1 15 1 11 1 30 1 3 1 10 1 2 1 136"/><path d="M16 15.5h120" stroke-dasharray="1 45 1 21 1 9 1 15 1 5 1 17 2 136"/><path d="M0 16.5h95" stroke-dasharray="1 4 1 15 1 16 1 3 1 13 1 7 1 5 2 7 1 2 1 11 1 136"/><path d="M0 17.5h125" stroke-dasharray="1 39 2 26 1 12 2 13 1 4 1 22 1 136"/><path d="M2 18.5h116" stroke-dasharray="1 42 1 7 1 2 1 1 1 4 2 3 1 1 1 3 1 4 1 9 1 6 1 20 1 136"/><path d="M21 19.5h90" stroke-dasharray="1 12 1 18 1 22 2 4 1 8 1 4 2 12 1 136"/><path d="M35 20.5h99" stroke-dasharray="1 5 1 2 1 13 1 15 1 41 2 15 1 136"/><path d="M1 21.5h125" stroke-dasharray="1 23 1 1 2 6 1 18 1 21 1 8 1 35 1 3 1 136"/><path d="M12 22.5h94" stroke-dasharray="1 15 1 17 3 7 2 15 1 17 1 13 1 136"/><path d="M33 23.5h102" stroke-dasharray="1 3 1 26 1 7 2 1 1 10 1 5 1 5 1 35 1 136"/><path d="M10 24.5h124" stroke-dasharray="1 24 1 2 1 6 1 1 1 1 1 5 2 3 1 6 1 20 1 4 2 38 1 136"/><path d="M10 25.5h114" stroke-dasharray="1 3 1 15 1 25 1 7 1 2 1 5 1 9 1 26 1 12 1 136"/><path d="M15 26.5h92" stroke-dasharray="1 18 2 11 2 3 1 1 1 22 1 6 1 9 1 3 2 6 1 136"/><path d="M17 27.5h88" stroke-dasharray="1 10 1 4 1 16 1 3 1 3 1 5 1 1 1 9 1 4 1 8 1 7 2 4 1 136"/><path d="M8 28.5h114" stroke-dasharray="1 15 1 2 1 1 1 11 2 4 1 1 1 2 1 4 1 32 1 3 2 10 1 14 1 136"/><path d="M21 29.5h95" stroke-dasharray="1 12 1 3 1 3 1 16 1 2 2 15 2 12 1 5 1 15 1 136"/><path d="M17 30.5h90" stroke-dasharray="2 8 1 11 1 10 1 7 1 4 1 10 1 16 1 5 1 8 1 136"/><path d="M4 31.5h120" stroke-dasharray="1 28 3 13 1 12 1 2 1 3 1 2 1 4 1 7 1 10 1 3 1 20 3 136"/><path d="M4 32.5h124" stroke-dasharray="1 5 1 12 2 4 1 5 1 6 1 13 1 1 1 12 1 2 2 11 1 18 1 1 1 18 1 136"/><path d="M52 33.5h84" stroke-dasharray="3 2 1 11 1 7 1 3 1 5 2 8 1 9 1 19 1 7 1 136"/><path d="M36 34.5h91" stroke-dasharray="1 1 2 16 2 23 1 9 1 34 1 136"/><path d="M10 35.5h102" stroke-dasharray="1 17 1 2 1 2 1 8 1 7 1 13 1 2 1 10 1 2 1 16 1 6 1 4 1 136"/><path d="M3 36.5h133" stroke-dasharray="1 11 1 5 1 13 1 3 1 4 1 1 1 12 1 7 1 4 1 5 1 1 1 1 1 3 1 5 1 2 1 3 1 11 1 4 2 17 1 136"/><path d="M7 37.5h125" stroke-dasharray="1 31 1 6 2 6 1 7 1 3 1 5 1 4 1 1 2 18 1 11 1 19 1 136"/><path d="M19 38.5h91" stroke-dasharray="2 2 1 9 1 1 1 16 1 5 1 2 2 15 1 6 2 1 2 19 1 136"/><path d="M26 39.5h92" stroke-dasharray="1 3 1 25 1 2 1 2 2 1 1 3 1 2 1 2 1 9 2 8 2 20 1 136"/><path d="M1 40.5h134" stroke-dasharray="1 23 1 4 1 26 2 9 1 4 1 26 1 9 1 6 1 2 1 8 1 4 1 136"/><path d="M5 41.5h105" stroke-dasharray="1 25 1 15 1 1 1 1 1 5 1 2 1 9 1 1 1 36 1 136"/><path d="M24 42.5h82" stroke-dasharray="1 17 1 1 2 21 1 10 1 9 1 13 1 2 1 136"/><path d="M11 43.5h121" stroke-dasharray="1 19 2 4 2 1 1 13 1 4 1 14 3 7 1 3 1 13 1 2 1 1 1 17 1 3 1 1 1 136"/><path d="M8 44.5h127" stroke-dasharray="1 5 1 5 2 3 2 1 1 5 1 19 1 1 2 2 1 13 1 8 1 4 1 10 2 4 3 2 2 3 1 10 1 7 1 136"/><path d="M21 45.5h105" stroke-dasharray="2 5 1 1 1 29 2 1 1 23 1 9 2 8 1 7 3 1 1 5 1 136"/><path d="M2 46.5h130" stroke-dasharray="1 19 1 9 1 5 1 9 2 1 1 22 1 1 1 2 1 6 1 10 1 3 1 8 1 8 1 11 1 136"/><path d="M34 47.5h91" stroke-dasharray="1 3 2 1 2 35 2 5 1 23 1 14 1 136"/><path d="M22 48.5h114" stroke-dasharray="1 9 1 3 3 14 1 5 3 4 1 20 1 1 1 12 1 12 1 5 1 5 1 7 1 136"/><path d="M3 49.5h118" stroke-dasharray="1 33 2 4 1 11 1 2 4 5 2 27 1 9 1 4 1 7 2 136"/><path d="M23 50.5h93" stroke-dasharray="1 7 3 11 1 4 1 4 1 7 1 2 1 18 1 10 1 10 1 5 1 1 1 136"/><path d="M6 51.5h129" stroke-dasharray="2 13 3 6 1 5 2 11 1 25 1 13 1 4 1 27 1 3 2 6 1 136"/><path d="M7 52.5h125" stroke-dasharray="1 16 1 14 1 8 1 13 1 4 1 3 1 34 1 13 1 10 1 136"/><path d="M2 53.5h128" stroke-dasharray="1 1 1 51 1 13 2 10 1 13 2 4 1 17 1 7 2 136"/><path d="M29 54.5h83" stroke-dasharray="1 5 1 2 1 14 1 3 1 17 1 5 1 22 1 2 1 1 3 136"/><path d="M9 55.5h115" stroke-dasharray="2 12 2 8 1 16 1 5 1 3 1 5 1 5 1 6 1 3 1 3 1 1 1 5 1 8 1 2 1 13 1 1 1 136"/><path d="M22 56.5h101" stroke-dasharray="1 7 1 2 1 4 1 2 1 8 1 2 1 18 1 1 1 7 2 1 1 30 1 5 1 136"/><path d="M11 57.5h120" stroke-dasharray="1 1 1 10 1 2 1 5 2 24 1 12 1 7 1 4 1 13 4 2 1 6 1 17 1 136"/><path d="M10 58.5h105" stroke-dasharray="1 3 1 13 1 3 1 2 1 15 2 18 1 1 1 5 1 2 1 6 1 11 1 9 1 2 1 136"/><path d="M8 59.5h115" stroke-dasharray="1 2 1 5 1 13 1 12 1 7 1 6 1 2 1 16 1 3 1 15 1 10 1 3 1 7 1 136"/><path d="M18 60.5h117" stroke-dasharray="1 21 1 26 1 9 1 2 1 2 1 2 1 6 1 12 1 27 1 136"/><path d="M1 61.5h97" stroke-dasharray="1 25 1 6 1 4 3 7 1 18 1 10 2 2 5 5 1 2 2 136"/><path d="M14 62.5h80" stroke-dasharray="1 3 1 2 1 1 2 2 1 3 1 2 1 2 2 4 2 8 1 2 1 8 1 9 2 2 1 13 1 136"/><path d="M2 63.5h129" stroke-dasharray="1 35 1 1 1 1 3 6 1 16 1 5 2 5 1 1 1 5 1 1 2 11 1 3 2 20 1 136"/><path d="M7 64.5h126" stroke-dasharray="1 27 1 8 1 5 1 5 1 4 1 13 1 7 1 2 1 4 1 1 1 5 1 1 1 12 2 16 1 136"/><path d="M2 65.5h133" stroke-dasharray="1 16 2 15 1 20 1 7 1 5 1 2 1 3 1 3 1 18 1 1 1 7 1 2 1 5 1 1 1 10 2 136"/><path d="M0 66.5h131" stroke-dasharray="1 24 1 12 1 1 2 3 1 9 1 7 1 7 1 2 1 3 1 3 2 3 1 5 1 5 1 7 1 5 1 16 1 136"/><path d="M9 67.5h121" stroke-dasharray="1 1 1 18 1 12 3 12 1 9 1 15 1 10 1 8 1 24 1 136"/><path d="M18 68.5h112" stroke-dasharray="1 6 1 1 1 1 2 27 1 2 2 13 2 4 1 1 1 15 1 2 1 3 1 21 1 136"/><path d="M20 69.5h114" stroke-dasharray="1 6 1 11 1 12 3 3 1 4 1 7 1 3 1 1 1 15 1 17 1 4 1 13 1 2 1 136"/><path d="M6 70.5h126" stroke-dasharray="2 2 1 1 1 16 1 1 1 4 2 1 1 3 1 12 1 3 2 8 1 4 2 1 1 2 1 5 2 8 2 2 1 29 1 136"/><path d="M6 71.5h126" stroke-dasharray="1 2 1 2 1 2 1 8 1 12 1 5 1 3 1 1 1 3 1 3 1 1 1 8 1 1 1 2 1 12 1 7 1 4 1 7 2 4 1 8 1 8 1 136"/><path d="M42 72.5h92" stroke-dasharray="1 10 1 10 2 2 1 1 2 1 1 7 1 2 1 4 1 1 2 22 1 4 1 12 1 136"/><path d="M0 73.5h136" stroke-dasharray="1 37 1 3 1 6 1 13 1 1 2 1 1 5 1 9 2 7 1 19 1 1 1 17 1 1 1 136"/><path d="M42 74.5h93" stroke-dasharray="1 7 1 19 1 7 1 4 1 31 1 6 1 11 1 136"/><path d="M4 75.5h108" stroke-dasharray="2 9 1 5 1 13 1 10 1 16 1 1 1 7 1 6 1 3 2 2 1 1 1 11 1 8 1 136"/><path d="M48 76.5h84" stroke-dasharray="1 6 1 7 1 9 1 4 1 3 1 10 1 9 1 6 2 4 1 14 1 136"/><path d="M7 77.5h81" stroke-dasharray="1 4 1 3 2 2 1 5 1 30 1 9 3 3 1 5 1 7 1 136"/><path d="M26 78.5h101" stroke-dasharray="1 26 1 11 1 11 1 8 1 2 1 3 1 23 1 7 2 136"/><path d="M18 79.5h118" stroke-dasharray="1 2 1 32 1 10 1 2 2 5 1 3 1 1 1 2 2 1 2 1 1 12 1 3 1 6 1 20 1 136"/><path d="M15 80.5h79" stroke-dasharray="1 23 1 24 1 7 1 3 1 14 1 1 1 136"/><path d="M0 81.5h131" stroke-dasharray="3 44 1 9 1 6 2 4 2 8 1 1 2 1 2 1 1 2 1 16 1 13 1 7 1 136"/><path d="M3 82.5h131" stroke-dasharray="1 3 1 4 1 24 2 13 1 3 2 12 1 5 1 5 1 10 1 10 1 2 2 7 1 16 1 136"/><path d="M4 83.5h126" stroke-dasharray="1 6 1 22 1 9 1 6 1 2 1 3 1 4 2 9 1 4 1 13 1 32 1 2 1 136"/><path d="M9 84.5h119" stroke-dasharray="1 2 1 19 1 4 1 5 1 12 1 2 1 3 1 10 1 2 1 4 1 4 1 39 1 136"/><path d="M7 85.5h121" stroke-dasharray="1 1 1 42 1 10 1 9 2 2 1 15 1 23 1 7 3 136"/><path d="M2 86.5h119" stroke-dasharray="1 19 2 20 1 2 2 7 1 11 1 5 1 42 1 2 1 136"/><path d="M10 87.5h111" stroke-dasharray="1 10 1 6 1 4 2 3 1 1 2 29 1 10 1 12 2 10 1 12 1 136"/><path d="M19 88.5h102" stroke-dasharray="1 10 1 3 1 10 1 7 1 1 1 3 2 2 1 6 3 1 1 4 1 1 1 1 1 3 2 2 1 12 1 15 1 136"/><path d="M34 89.5h56" stroke-dasharray="1 2 1 8 1 1 1 13 1 15 1 1 1 8 1 136"/><path d="M8 90.5h119" stroke-dasharray="1 21 1 10 1 4 1 9 2 8 1 3 2 2 1 7 2 1 1 2 1 5 1 3 3 25 1 136"/><path d="M14 91.5h116" stroke-dasharray="1 37 1 4 1 4 1 5 1 10 3 11 1 12 1 5 1 16 1 136"/><path d="M31 92.5h102" stroke-dasharray="1 16 2 2 1 4 1 4 1 11 1 24 1 7 1 17 2 5 1 136"/><path d="M19 93.5h108" stroke-dasharray="3 1 1 1 1 3 1 15 1 3 1 5 1 2 1 25 1 3 1 2 1 5 1 3 1 24 1 136"/><path d="M18 94.5h103" stroke-dasharray="1 6 1 31 1 1 1 7 1 11 1 11 1 10 1 10 1 5 2 136"/><path d="M18 95.5h112" stroke-dasharray="1 7 1 13 2 5 1 1 2 3 1 4 1 3 1 20 1 5 2 2 1 22 1 11 1 136"/><path d="M2 96.5h117" stroke-dasharray="1 1 1 14 1 5 2 12 1 5 1 8 1 12 1 12 1 2 1 18 1 15 1 136"/><path d="M8 97.5h126" stroke-dasharray="2 4 1 18 1 25 1 3 1 5 2 10 1 12 1 7 1 1 1 24 1 3 1 136"/><path d="M8 98.5h128" stroke-dasharray="1 4 1 5 1 4 1 4 2 24 1 1 1 29 1 6 1 29 1 10 1 136"/><path d="M0 99.5h71" stroke-dasharray="1 34 1 9 1 15 1 8 1 136"/><path d="M26 100.5h110" stroke-dasharray="1 3 1 17 1 1 1 3 2 1 1 3 1 8 2 20 1 7 1 22 1 11 1 136"/><path d="M6 101.5h116" stroke-dasharray="1 22 1 45 1 9 1 13 2 20 1 136"/><path d="M22 102.5h111" stroke-dasharray="1 42 1 3 1 19 1 12 2 25 1 2 1 136"/><path d="M19 103.5h117" stroke-dasharray="1 13 1 18 1 12 1 2 1 2 1 24 1 13 1 24 1 136"/><path d="M16 104.5h116" stroke-dasharray="1 6 2 18 1 14 1 9 1 8 2 2 1 18 2 8 2 19 1 136"/><path d="M8 105.5h113" stroke-dasharray="1 7 1 9 1 3 2 12 1 13 1 34 1 14 1 11 1 136"/><path d="M21 106.5h96" stroke-dasharray="1 8 1 5 1 22 1 1 1 11 1 1 2 1 1 13 1 23 1 136"/><path d="M13 107.5h123" stroke-dasharray="1 15 1 2 1 3 1 5 2 11 1 3 1 15 1 7 1 4 1 4 1 1 1 4 1 15 1 3 1 14 1 136"/><path d="M13 108.5h122" stroke-dasharray="1 5 1 21 1 6 1 6 1 11 1 6 1 13 1 32 1 4 1 1 1 5 1 136"/><path d="M19 109.5h107" stroke-dasharray="1 12 1 7 1 4 1 11 1 10 1 7 1 6 1 8 2 9 1 8 1 9 1 2 1 136"/><path d="M1 110.5h131" stroke-dasharray="1 27 1 6 1 3 2 11 2 4 2 9 1 5 1 2 1 3 1 39 1 7 1 136"/><path d="M12 111.5h82" stroke-dasharray="1 12 1 3 1 20 2 5 3 2 1 2 2 12 1 1 2 1 1 1 1 3 1 2 1 136"/><path d="M1 112.5h119" stroke-dasharray="1 3 1 24 1 5 1 10 1 1 1 7 1 1 1 2 2 8 1 11 2 9 1 4 1 18 1 136"/><path d="M5 113.5h126" stroke-dasharray="1 8 1 3 1 13 1 18 1 2 1 3 2 7 1 2 5 6 1 25 1 20 1 1 1 136"/><path d="M11 114.5h101" stroke-dasharray="1 27 1 6 1 12 1 18 2 4 1 2 1 12 1 10 1 136"/><path d="M6 115.5h130" stroke-dasharray="1 5 1 1 1 7 1 4 1 2 1 6 1 28 1 9 1 4 1 2 1 5 1 6 1 6 1 28 1 1 1 136"/><path d="M5 116.5h123" stroke-dasharray="1 18 1 17 1 9 1 2 1 10 2 1 1 4 1 36 1 15 1 136"/><path d="M1 117.5h133" stroke-dasharray="1 6 1 3 1 7 2 1 1 5 1 6 1 4 1 13 1 2 1 12 1 12 1 21 1 7 1 18 1 136"/><path d="M9 118.5h123" stroke-dasharray="1 13 2 8 2 3 1 2 1 4 3 5 1 11 1 4 1 7 1 3 1 8 1 1 1 13 1 2 1 1 1 11 1 5 1 136"/><path d="M12 119.5h107" stroke-dasharray="1 17 1 13 1 1 2 11 1 1 2 4 1 20 3 15 2 10 1 136"/><path d="M22 120.5h112" stroke-dasharray="1 1 1 1 1 4 2 13 2 5 1 4 1 1 1 1 1 10 1 47 1 11 1 136"/><path d="M34 121.5h100" stroke-dasharray="1 7 1 19 1 10 1 9 1 6 1 8 1 12 1 20 1 136"/><path d="M3 122.5h107" stroke-dasharray="1 15 1 12 1 10 1 4 1 5 1 3 1 1 1 1 1 2 1 25 1 4 1 12 1 136"/><path d="M32 123.5h103" stroke-dasharray="1 1 2 43 1 1 1 1 1 8 1 1 1 33 3 3 1 136"/><path d="M17 124.5h112" stroke-dasharray="1 7 1 5 1 11 1 12 1 15 2 10 1 10 1 13 1 7 2 9 1 136"/><path d="M3 125.5h110" stroke-dasharray="2 14 1 4 2 2 1 12 1 14 2 3 2 4 1 9 1 2 1 30 2 136"/><path d="M15 126.5h119" stroke-dasharray="1 5 1 4 1 1 1 7 1 4 1 10 1 12 1 2 1 2 1 5 2 1 1 2 1 1 1 17 1 4 1 24 1 136"/><path d="M20 127.5h71" stroke-dasharray="1 11 1 20 1 31 1 4 1 136"/><path d="M18 128.5h107" stroke-dasharray="1 8 2 21 1 21 2 1 1 12 1 7 1 19 2 6 1 136"/><path d="M38 129.5h93" stroke-dasharray="1 3 1 26 2 14 1 14 1 23 1 5 1 136"/><path d="M1 130.5h111" stroke-dasharray="1 2 4 2 1 22 1 3 1 7 1 4 1 1 1 18 2 17 1 1 2 2 1 2 1 11 1 136"/><path d="M0 131.5h107" stroke-dasharray="1 11 1 3 2 10 1 16 1 4 1 20 2 2 1 10 1 1 1 17 1 136"/><path d="M0 132.5h127" stroke-dasharray="1 8 1 7 1 14 1 8 1 33 1 1 1 7 2 39 1 136"/><path d="M0 133.5h131" stroke-dasharray="2 20 1 2 1 32 2 17 2 8 1 42 1 136"/><path d="M0 134.5h118" stroke-dasharray="1 26 2 9 2 8 1 2 1 7 3 5 3 3 1 7 1 11 2 22 1 136"/><path d="M9 135.5h89" stroke-dasharray="1 10 1 5 1 2 1 7 2 3 1 11 1 2 1 1 1 12 1 6 1 2 1 6 1 3 1 2 2 136"/><path d="M10 136.5h126" stroke-dasharray="1 1 2 10 1 1 1 11 4 11 1 4 1 1 1 3 1 4 1 1 2 1 1 4 2 2 1 11 1 10 1 9 2 8 1 6 1 1 1 136"/></g>
<g stroke="#dad6f2" fill="none"><path d="M19 1.5h76" stroke-dasharray="1 6 1 2 1 12 1 46 1 4 1 136"/><path d="M23 2.5h10" stroke-dasharray="1 8 1 136"/><path d="M18 4.5h111" stroke-dasharray="1 32 1 21 1 48 1 5 1 136"/><path d="M53 5.5h54" stroke-dasharray="1 52 1 136"/><path d="M17 6.5h29" stroke-dasharray="1 9 1 13 1 3 1 136"/><path d="M11 7.5h91" stroke-dasharray="1 59 1 16 1 12 1 136"/><path d="M4 8.5h77" stroke-dasharray="1 71 1 3 1 136"/><path d="M9 9.5h73" stroke-dasharray="1 37 1 33 1 136"/><path d="M3 10.5h45" stroke-dasharray="1 43 1 136"/><path d="M8 11.5h61" stroke-dasharray="1 54 1 4 1 136"/><path d="M8 12.5h90" stroke-dasharray="1 21 1 7 1 13 1 26 1 17 1 136"/><path d="M16 13.5h86" stroke-dasharray="1 15 1 6 1 35 1 7 1 17 1 136"/><path d="M12 14.5h51" stroke-dasharray="1 3 1 45 1 136"/><path d="M12 15.5h98" stroke-dasharray="1 61 1 1 1 25 1 5 2 136"/><path d="M27 16.5h71" stroke-dasharray="1 56 1 2 1 9 1 136"/><path d="M59 17.5h41" stroke-dasharray="1 10 1 15 1 12 1 136"/><path d="M1 18.5h112" stroke-dasharray="1 19 3 33 1 4 1 28 1 12 1 7 1 136"/><path d="M19 19.5h97" stroke-dasharray="2 15 1 8 1 12 1 7 2 47 1 136"/><path d="M84 20.5h1" stroke-dasharray="1 136"/><path d="M5 21.5h109" stroke-dasharray="1 86 1 19 2 136"/><path d="M9 22.5h74" stroke-dasharray="1 3 1 6 1 14 1 32 2 12 1 136"/><path d="M2 23.5h80" stroke-dasharray="1 6 1 13 1 2 1 11 1 19 1 8 1 13 1 136"/><path d="M39 24.5h75" stroke-dasharray="2 72 1 136"/><path d="M35 25.5h67" stroke-dasharray="1 2 1 13 1 48 1 136"/><path d="M51 26.5h82" stroke-dasharray="1 1 1 11 1 2 1 24 1 10 1 4 1 22 1 136"/><path d="M43 27.5h72" stroke-dasharray="1 36 1 33 1 136"/><path d="M28 28.5h91" stroke-dasharray="1 6 1 24 1 5 1 9 1 8 1 5 1 7 1 18 1 136"/><path d="M52 29.5h75" stroke-dasharray="1 7 1 17 1 6 1 37 1 2 1 136"/><path d="M0 30.5h1" stroke-dasharray="1 136"/><path d="M44 31.5h52" stroke-dasharray="1 5 1 5 1 21 1 16 1 136"/><path d="M63 32.5h64" stroke-dasharray="1 8 1 4 1 29 1 18 1 136"/><path d="M6 33.5h105" stroke-dasharray="1 29 1 13 1 11 1 30 1 16 1 136"/><path d="M55 34.5h61" stroke-dasharray="1 2 1 56 1 136"/><path d="M15 35.5h93" stroke-dasharray="1 1 2 23 1 20 1 13 1 8 1 5 1 14 1 136"/><path d="M42 36.5h68" stroke-dasharray="1 22 1 5 1 5 1 3 1 1 1 13 1 3 1 6 2 136"/><path d="M58 37.5h72" stroke-dasharray="1 12 1 6 1 15 1 34 1 136"/><path d="M18 38.5h91" stroke-dasharray="1 3 1 3 1 5 1 13 1 10 1 6 1 19 1 11 1 10 2 136"/><path d="M27 39.5h81" stroke-dasharray="1 26 1 5 1 37 1 2 1 5 1 136"/><path d="M40 40.5h80" stroke-dasharray="1 9 1 8 1 7 1 1 1 4 1 34 1 9 1 136"/><path d="M43 41.5h78" stroke-dasharray="1 1 2 3 1 4 1 2 1 6 1 37 1 16 1 136"/><path d="M38 42.5h94" stroke-dasharray="2 3 1 19 1 10 1 18 3 18 1 16 1 136"/><path d="M17 43.5h95" stroke-dasharray="1 15 1 51 1 9 1 10 1 4 1 136"/><path d="M6 44.5h96" stroke-dasharray="1 6 1 13 1 35 1 33 1 3 1 136"/><path d="M29 45.5h90" stroke-dasharray="1 24 1 1 1 44 1 16 1 136"/><path d="M98 46.5h14" stroke-dasharray="1 12 1 136"/><path d="M26 47.5h104" stroke-dasharray="1 4 1 27 1 1 1 8 1 5 1 11 1 11 1 1 1 12 1 13 1 136"/><path d="M7 48.5h126" stroke-dasharray="1 4 1 13 2 20 2 31 1 47 1 2 1 136"/><path d="M2 49.5h103" stroke-dasharray="1 7 2 18 1 9 1 3 1 30 1 28 1 136"/><path d="M17 50.5h84" stroke-dasharray="1 3 1 14 1 1 1 15 1 5 1 39 1 136"/><path d="M2 51.5h120" stroke-dasharray="1 30 1 21 1 4 1 8 1 6 1 6 1 17 1 19 1 136"/><path d="M6 52.5h65" stroke-dasharray="1 16 1 19 1 13 1 12 1 136"/><path d="M0 53.5h134" stroke-dasharray="1 53 1 7 1 4 1 16 1 2 1 16 1 28 1 136"/><path d="M97 54.5h17" stroke-dasharray="1 15 1 136"/><path d="M32 55.5h79" stroke-dasharray="1 31 1 3 1 9 1 26 1 2 1 1 1 136"/><path d="M73 56.5h23" stroke-dasharray="1 10 1 10 1 136"/><path d="M56 57.5h54" stroke-dasharray="2 3 1 3 1 3 1 19 1 19 1 136"/><path d="M3 58.5h126" stroke-dasharray="1 8 1 21 1 7 1 35 1 1 1 29 1 17 1 136"/><path d="M20 59.5h63" stroke-dasharray="1 35 1 3 1 21 1 136"/><path d="M62 60.5h54" stroke-dasharray="1 9 1 9 1 11 1 5 1 12 1 1 1 136"/><path d="M46 61.5h30" stroke-dasharray="1 23 1 4 1 136"/><path d="M42 62.5h91" stroke-dasharray="1 43 1 45 1 136"/><path d="M31 63.5h66" stroke-dasharray="1 24 1 8 1 30 1 136"/><path d="M51 64.5h66" stroke-dasharray="1 32 1 17 1 13 1 136"/><path d="M1 65.5h100" stroke-dasharray="1 24 1 24 1 20 1 27 1 136"/><path d="M54 66.5h74" stroke-dasharray="1 18 1 22 1 30 1 136"/><path d="M49 67.5h85" stroke-dasharray="1 11 1 4 1 5 2 56 1 2 1 136"/><path d="M65 68.5h60" stroke-dasharray="1 9 1 5 1 15 1 21 2 3 1 136"/><path d="M7 69.5h129" stroke-dasharray="1 6 1 15 1 3 1 41 1 7 1 1 1 13 1 11 1 10 1 11 1 136"/><path d="M4 70.5h27" stroke-dasharray="1 4 1 20 1 136"/><path d="M2 71.5h83" stroke-dasharray="1 14 1 24 1 29 1 1 1 9 1 136"/><path d="M9 72.5h118" stroke-dasharray="1 11 1 8 1 17 1 25 1 8 1 42 1 136"/><path d="M31 73.5h93" stroke-dasharray="1 14 1 15 1 7 1 17 1 34 1 136"/><path d="M8 74.5h128" stroke-dasharray="1 42 1 3 1 3 1 2 1 2 1 28 1 33 1 1 1 2 1 1 1 136"/><path d="M16 75.5h85" stroke-dasharray="1 20 1 17 1 8 1 13 1 21 1 136"/><path d="M12 76.5h103" stroke-dasharray="1 13 1 15 1 2 3 16 1 48 2 136"/><path d="M124 77.5h1" stroke-dasharray="1 136"/><path d="M10 78.5h107" stroke-dasharray="1 105 1 136"/><path d="M32 79.5h89" stroke-dasharray="1 19 2 5 1 31 1 3 1 24 1 136"/><path d="M6 80.5h76" stroke-dasharray="1 14 1 57 1 1 1 136"/><path d="M8 81.5h122" stroke-dasharray="1 7 1 28 1 2 1 3 1 23 1 52 1 136"/><path d="M42 82.5h76" stroke-dasharray="1 10 1 11 1 5 1 8 1 36 1 136"/><path d="M5 83.5h84" stroke-dasharray="1 56 1 25 1 136"/><path d="M30 84.5h99" stroke-dasharray="1 33 1 13 1 49 1 136"/><path d="M10 85.5h120" stroke-dasharray="1 1 1 41 1 32 1 3 1 37 1 136"/><path d="M8 86.5h111" stroke-dasharray="1 21 1 6 1 12 1 27 1 1 1 15 1 21 1 136"/><path d="M19 87.5h72" stroke-dasharray="1 33 1 3 1 5 2 3 1 5 1 12 1 2 1 136"/><path d="M102 88.5h1" stroke-dasharray="1 136"/><path d="M36 89.5h93" stroke-dasharray="1 8 1 3 1 1 1 57 1 18 1 136"/><path d="M0 90.5h108" stroke-dasharray="1 27 1 16 1 35 1 4 1 10 1 9 1 136"/><path d="M3 91.5h86" stroke-dasharray="2 23 1 9 1 6 1 1 1 15 1 23 2 136"/><path d="M5 92.5h89" stroke-dasharray="1 9 1 9 2 37 1 21 1 6 1 136"/><path d="M38 93.5h1" stroke-dasharray="1 136"/><path d="M7 94.5h117" stroke-dasharray="1 37 1 24 2 12 1 31 1 6 1 136"/><path d="M25 95.5h65" stroke-dasharray="1 9 2 32 1 10 1 8 1 136"/><path d="M14 96.5h118" stroke-dasharray="1 19 1 18 1 10 1 4 1 24 1 36 1 136"/><path d="M0 97.5h125" stroke-dasharray="1 123 1 136"/><path d="M0 98.5h117" stroke-dasharray="1 10 1 21 1 13 1 68 1 136"/><path d="M14 99.5h122" stroke-dasharray="1 7 1 19 1 49 1 24 1 4 1 12 1 136"/><path d="M18 100.5h100" stroke-dasharray="1 15 1 43 1 34 2 2 1 136"/><path d="M11 101.5h61" stroke-dasharray="1 9 1 27 1 17 1 3 1 136"/><path d="M3 102.5h126" stroke-dasharray="1 19 1 5 1 6 1 8 1 20 3 59 1 136"/><path d="M20 103.5h50" stroke-dasharray="2 6 1 33 1 3 1 2 1 136"/><path d="M13 104.5h109" stroke-dasharray="1 8 1 19 1 18 1 9 1 11 1 29 1 6 2 136"/><path d="M7 105.5h72" stroke-dasharray="1 15 1 35 2 3 1 13 1 136"/><path d="M98 106.5h18" stroke-dasharray="1 5 1 10 1 136"/><path d="M22 107.5h85" stroke-dasharray="1 4 1 17 1 10 1 47 1 1 1 136"/><path d="M0 108.5h101" stroke-dasharray="1 41 1 19 1 37 1 136"/><path d="M39 109.5h31" stroke-dasharray="1 10 1 5 1 12 1 136"/><path d="M2 110.5h119" stroke-dasharray="1 29 1 29 1 3 1 2 1 49 2 136"/><path d="M74 111.5h58" stroke-dasharray="1 8 1 3 1 3 1 8 1 30 1 136"/><path d="M20 112.5h82" stroke-dasharray="1 25 1 13 1 21 2 15 1 1 1 136"/><path d="M40 113.5h61" stroke-dasharray="1 28 1 30 1 136"/><path d="M8 114.5h103" stroke-dasharray="1 63 1 24 1 7 1 4 1 136"/><path d="M13 115.5h99" stroke-dasharray="1 32 1 22 1 41 1 136"/><path d="M12 116.5h95" stroke-dasharray="1 4 1 19 1 27 1 40 1 136"/><path d="M6 117.5h106" stroke-dasharray="1 17 1 12 1 47 1 5 1 19 1 136"/><path d="M8 118.5h125" stroke-dasharray="1 49 1 2 1 31 1 29 2 7 1 136"/><path d="M9 119.5h75" stroke-dasharray="1 56 1 3 2 11 1 136"/><path d="M2 120.5h122" stroke-dasharray="1 26 1 11 1 28 1 18 1 12 1 17 1 1 2 136"/><path d="M39 121.5h87" stroke-dasharray="1 29 1 2 1 5 1 13 1 28 1 3 1 136"/><path d="M7 122.5h129" stroke-dasharray="1 10 1 23 1 16 1 3 1 2 1 4 1 18 1 42 3 136"/><path d="M49 123.5h85" stroke-dasharray="1 10 1 23 1 3 1 22 1 20 2 136"/><path d="M61 124.5h67" stroke-dasharray="1 14 1 4 1 9 1 6 1 1 1 11 1 14 1 136"/><path d="M55 125.5h56" stroke-dasharray="1 15 1 6 1 20 1 2 1 7 1 136"/><path d="M2 126.5h109" stroke-dasharray="1 28 1 14 1 23 1 1 1 37 1 136"/><path d="M2 127.5h132" stroke-dasharray="2 3 1 10 1 12 1 60 1 9 1 12 1 17 1 136"/><path d="M13 128.5h119" stroke-dasharray="1 21 1 6 1 49 1 19 1 18 1 136"/><path d="M13 129.5h77" stroke-dasharray="1 21 1 26 1 8 1 3 1 13 1 136"/><path d="M0 130.5h127" stroke-dasharray="1 22 1 5 1 12 1 32 1 6 1 11 1 22 1 7 2 136"/><path d="M1 131.5h113" stroke-dasharray="1 11 1 99 1 136"/><path d="M22 132.5h78" stroke-dasharray="1 5 1 2 1 27 1 10 1 5 1 17 1 4 1 136"/><path d="M35 133.5h79" stroke-dasharray="1 12 1 19 1 6 1 33 1 3 1 136"/><path d="M2 134.5h57" stroke-dasharray="1 43 1 11 1 136"/><path d="M0 135.5h67" stroke-dasharray="1 24 1 1 1 38 1 136"/><path d="M6 136.5h129" stroke-dasharray="1 38 1 32 1 36 1 18 1 136"/></g>
<g stroke="#d42876" fill="none"><path d="M2 0.5h134" stroke-dasharray="1 3 1 6 1 42 1 2 1 11 1 20 1 3 1 20 1 10 5 2 1 136"/><path d="M13 1.5h119" stroke-dasharray="1 8 1 30 1 3 1 15 1 7 1 22 1 8 1 7 1 4 1 4 1 136"/><path d="M0 2.5h128" stroke-dasharray="1 8 2 37 2 9 1 38 1 4 1 9 2 7 1 4 1 136"/><path d="M19 3.5h115" stroke-dasharray="1 2 2 4 1 3 1 26 1 42 1 9 1 6 1 6 1 6 1 136"/><path d="M3 4.5h119" stroke-dasharray="1 10 1 4 1 1 1 7 1 23 1 2 2 31 1 17 1 2 1 4 1 3 1 1 1 136"/><path d="M1 5.5h133" stroke-dasharray="1 3 1 10 1 3 1 14 1 22 1 37 1 8 1 7 1 3 2 10 1 3 1 136"/><path d="M1 6.5h135" stroke-dasharray="1 56 1 4 1 13 1 6 1 1 1 20 1 4 2 4 1 2 2 4 1 1 1 3 1 1 1 136"/><path d="M10 7.5h124" stroke-dasharray="1 15 1 1 2 21 2 3 1 1 2 3 1 21 2 6 1 3 1 5 1 1 1 7 1 2 1 3 1 4 1 3 1 1 1 1 1 136"/><path d="M16 8.5h120" stroke-dasharray="1 10 2 9 1 5 1 8 1 9 1 19 1 6 1 6 1 3 1 3 2 9 1 18 1 136"/><path d="M4 9.5h131" stroke-dasharray="2 17 2 4 1 3 2 21 1 33 1 12 1 8 2 8 1 11 1 136"/><path d="M5 10.5h131" stroke-dasharray="1 6 1 2 2 3 1 24 1 51 1 3 1 1 1 3 1 8 1 5 1 12 1 136"/><path d="M13 11.5h113" stroke-dasharray="1 1 1 5 4 4 2 23 1 27 1 32 2 4 1 3 1 136"/><path d="M85 12.5h51" stroke-dasharray="1 6 1 17 1 14 1 7 1 1 1 136"/><path d="M26 13.5h110" stroke-dasharray="1 1 1 55 2 2 1 9 1 1 1 7 1 22 1 1 3 136"/><path d="M20 14.5h112" stroke-dasharray="1 5 1 12 1 46 1 6 1 4 1 17 1 8 1 5 1 136"/><path d="M22 15.5h110" stroke-dasharray="1 73 1 15 2 9 1 7 1 136"/><path d="M2 16.5h132" stroke-dasharray="1 11 1 100 3 10 2 3 1 136"/><path d="M5 17.5h130" stroke-dasharray="1 8 1 7 2 6 1 18 1 39 1 7 2 7 1 5 1 2 1 2 1 2 1 5 1 5 2 136"/><path d="M0 18.5h134" stroke-dasharray="1 12 3 9 1 14 1 1 1 45 1 12 1 5 1 17 2 5 2 136"/><path d="M4 19.5h129" stroke-dasharray="1 13 1 3 1 4 2 25 1 63 1 2 1 5 1 1 1 1 2 136"/><path d="M4 20.5h127" stroke-dasharray="1 8 2 6 2 24 1 72 1 4 1 4 1 136"/><path d="M4 21.5h130" stroke-dasharray="1 4 2 3 2 87 1 2 1 7 2 4 1 9 2 1 1 136"/><path d="M5 22.5h131" stroke-dasharray="1 1 1 7 1 2 1 19 1 67 1 21 1 4 1 1 1 136"/><path d="M5 23.5h124" stroke-dasharray="1 16 1 73 1 10 2 1 1 4 1 3 1 8 1 136"/><path d="M5 24.5h131" stroke-dasharray="2 2 1 22 1 65 1 3 1 5 1 6 1 1 1 3 1 10 1 2 1 136"/><path d="M6 25.5h121" stroke-dasharray="2 40 3 55 1 4 1 8 1 3 1 1 1 136"/><path d="M1 26.5h129" stroke-dasharray="1 11 1 24 1 76 1 2 1 5 2 3 1 136"/><path d="M4 27.5h126" stroke-dasharray="1 3 1 4 2 20 1 13 1 17 1 47 1 9 2 2 1 136"/><path d="M0 28.5h130" stroke-dasharray="1 2 1 2 1 5 1 5 1 70 1 10 1 15 1 11 2 136"/><path d="M5 29.5h129" stroke-dasharray="1 6 1 31 1 56 1 1 1 6 1 22 1 136"/><path d="M14 30.5h108" stroke-dasharray="1 106 1 136"/><path d="M16 31.5h118" stroke-dasharray="1 3 1 31 1 65 1 8 3 1 1 1 1 136"/><path d="M1 32.5h134" stroke-dasharray="2 80 1 15 1 10 1 9 1 11 3 136"/><path d="M2 33.5h131" stroke-dasharray="1 21 1 1 2 6 1 63 1 21 1 9 3 136"/><path d="M8 34.5h128" stroke-dasharray="1 4 1 8 1 1 1 10 1 8 1 5 1 53 1 19 1 2 1 3 1 3 1 136"/><path d="M11 35.5h114" stroke-dasharray="1 111 2 136"/><path d="M33 36.5h99" stroke-dasharray="1 2 2 62 1 9 1 1 1 17 2 136"/><path d="M6 37.5h129" stroke-dasharray="1 5 1 69 1 45 1 5 1 136"/><path d="M14 38.5h121" stroke-dasharray="1 1 1 10 1 85 1 13 2 5 1 136"/><path d="M2 39.5h126" stroke-dasharray="1 4 1 117 1 1 1 136"/><path d="M2 40.5h126" stroke-dasharray="1 7 1 73 1 20 1 20 2 136"/><path d="M10 41.5h124" stroke-dasharray="1 4 1 99 1 10 2 1 1 3 1 136"/><path d="M8 42.5h85" stroke-dasharray="2 9 1 72 1 136"/><path d="M15 43.5h94" stroke-dasharray="1 3 1 1 1 71 1 14 1 136"/><path d="M3 44.5h42" stroke-dasharray="1 11 1 7 1 16 1 3 1 136"/><path d="M47 45.5h60" stroke-dasharray="1 58 1 136"/><path d="M6 46.5h103" stroke-dasharray="1 101 1 136"/><path d="M2 47.5h134" stroke-dasharray="1 3 1 110 2 16 1 136"/><path d="M6 48.5h4" stroke-dasharray="1 2 1 136"/><path d="M9 49.5h127" stroke-dasharray="1 9 1 19 1 95 1 136"/><path d="M0 50.5h36" stroke-dasharray="1 2 1 1 2 28 1 136"/><path d="M3 51.5h122" stroke-dasharray="1 14 3 85 1 17 1 136"/><path d="M3 52.5h131" stroke-dasharray="1 106 1 22 1 136"/><path d="M13 53.5h106" stroke-dasharray="1 103 2 136"/><path d="M12 54.5h124" stroke-dasharray="1 8 1 113 1 136"/><path d="M0 55.5h63" stroke-dasharray="1 6 2 3 1 8 1 40 1 136"/><path d="M5 56.5h63" stroke-dasharray="1 7 1 53 1 136"/><path d="M4 57.5h20" stroke-dasharray="1 18 1 136"/><path d="M0 58.5h127" stroke-dasharray="1 12 1 112 1 136"/><path d="M9 59.5h127" stroke-dasharray="1 117 1 7 1 136"/><path d="M12 60.5h105" stroke-dasharray="1 14 1 9 2 77 1 136"/><path d="M15 61.5h110" stroke-dasharray="1 3 1 96 1 7 1 136"/><path d="M13 62.5h104" stroke-dasharray="1 6 1 7 1 87 1 136"/><path d="M17 63.5h20" stroke-dasharray="2 16 2 136"/><path d="M6 64.5h24" stroke-dasharray="1 1 1 2 1 1 1 15 1 136"/><path d="M0 65.5h132" stroke-dasharray="1 8 3 26 1 84 1 3 1 3 1 136"/><path d="M5 66.5h30" stroke-dasharray="1 2 2 7 1 15 2 136"/><path d="M3 67.5h27" stroke-dasharray="1 10 1 14 1 136"/><path d="M5 68.5h118" stroke-dasharray="1 6 2 71 1 36 1 136"/><path d="M1 69.5h26" stroke-dasharray="1 3 1 15 1 3 2 136"/><path d="M25 70.5h108" stroke-dasharray="2 72 1 8 1 23 1 136"/><path d="M3 71.5h122" stroke-dasharray="1 1 1 17 1 100 1 136"/><path d="M0 72.5h128" stroke-dasharray="1 126 1 136"/><path d="M18 73.5h97" stroke-dasharray="1 10 1 69 1 14 1 136"/><path d="M13 74.5h78" stroke-dasharray="3 10 1 4 1 58 1 136"/><path d="M135 75.5h1" stroke-dasharray="1 136"/><path d="M2 76.5h117" stroke-dasharray="1 7 1 5 1 92 1 8 1 136"/><path d="M3 77.5h127" stroke-dasharray="1 4 2 92 3 24 1 136"/><path d="M11 78.5h112" stroke-dasharray="1 24 2 47 1 25 1 10 1 136"/><path d="M2 79.5h125" stroke-dasharray="2 22 1 3 1 95 1 136"/><path d="M95 80.5h1" stroke-dasharray="1 136"/><path d="M15 81.5h106" stroke-dasharray="1 15 1 61 1 3 1 5 3 6 1 3 1 3 1 136"/><path d="M1 82.5h135" stroke-dasharray="1 12 1 13 1 3 1 85 1 13 1 2 1 136"/><path d="M20 83.5h91" stroke-dasharray="2 5 1 10 1 56 1 3 1 8 1 1 1 136"/><path d="M21 84.5h111" stroke-dasharray="1 6 2 72 1 8 1 19 1 136"/><path d="M26 85.5h108" stroke-dasharray="1 19 1 54 1 3 2 6 1 8 1 10 1 136"/><path d="M4 86.5h125" stroke-dasharray="1 4 1 17 1 100 1 136"/><path d="M3 87.5h122" stroke-dasharray="1 9 1 9 1 3 1 71 1 1 1 7 2 13 1 136"/><path d="M5 88.5h120" stroke-dasharray="2 6 2 3 1 19 1 3 1 11 1 55 1 12 2 136"/><path d="M2 89.5h109" stroke-dasharray="1 4 1 14 2 86 1 136"/><path d="M18 90.5h103" stroke-dasharray="1 8 1 8 2 64 1 1 1 13 3 136"/><path d="M5 91.5h114" stroke-dasharray="1 7 1 17 1 69 1 6 1 1 1 7 1 136"/><path d="M17 92.5h103" stroke-dasharray="1 3 1 18 1 63 2 6 1 4 1 1 1 136"/><path d="M6 93.5h122" stroke-dasharray="1 8 1 77 2 9 1 9 1 4 1 7 1 136"/><path d="M5 94.5h127" stroke-dasharray="1 16 2 81 1 8 1 16 1 136"/><path d="M1 95.5h116" stroke-dasharray="2 2 2 21 1 54 1 27 2 1 1 1 1 136"/><path d="M3 96.5h126" stroke-dasharray="1 64 1 41 2 16 1 136"/><path d="M7 97.5h121" stroke-dasharray="1 8 1 1 1 1 3 11 1 65 1 18 1 1 1 5 1 136"/><path d="M12 98.5h111" stroke-dasharray="1 9 1 15 1 54 1 25 1 2 1 136"/><path d="M4 99.5h113" stroke-dasharray="1 7 1 4 1 1 1 96 1 136"/><path d="M6 100.5h120" stroke-dasharray="1 15 1 64 1 14 3 7 1 12 1 136"/><path d="M0 101.5h118" stroke-dasharray="2 7 1 25 1 2 1 76 3 136"/><path d="M63 102.5h73" stroke-dasharray="1 31 1 8 1 5 1 6 1 17 1 136"/><path d="M23 103.5h93" stroke-dasharray="1 6 2 81 1 1 1 136"/><path d="M18 104.5h113" stroke-dasharray="2 95 1 14 1 136"/><path d="M13 105.5h84" stroke-dasharray="2 5 1 75 1 136"/><path d="M3 106.5h131" stroke-dasharray="1 16 1 14 1 97 1 136"/><path d="M14 107.5h119" stroke-dasharray="1 93 1 23 1 136"/><path d="M122 108.5h2" stroke-dasharray="2 136"/><path d="M24 109.5h106" stroke-dasharray="1 2 2 85 3 7 1 4 1 136"/><path d="M3 110.5h120" stroke-dasharray="2 85 1 7 2 18 1 3 1 136"/><path d="M0 111.5h119" stroke-dasharray="1 4 2 2 1 6 1 80 1 7 1 12 1 136"/><path d="M0 112.5h103" stroke-dasharray="1 5 1 19 1 75 1 136"/><path d="M2 113.5h126" stroke-dasharray="1 1 1 1 1 6 1 3 1 3 1 2 1 1 1 83 1 16 1 136"/><path d="M2 114.5h132" stroke-dasharray="1 32 1 73 1 5 1 3 1 6 1 3 1 1 2 136"/><path d="M11 115.5h103" stroke-dasharray="1 3 2 12 1 4 1 63 1 9 1 4 1 136"/><path d="M10 116.5h119" stroke-dasharray="1 2 1 19 1 14 1 36 1 34 1 7 1 136"/><path d="M14 117.5h121" stroke-dasharray="1 10 1 12 1 6 1 2 1 47 1 2 3 24 3 5 1 136"/><path d="M1 118.5h119" stroke-dasharray="1 1 1 10 1 80 1 16 1 6 1 136"/><path d="M108 119.5h24" stroke-dasharray="3 13 1 6 1 136"/><path d="M0 120.5h127" stroke-dasharray="1 13 1 78 1 12 2 2 1 2 2 11 1 136"/><path d="M15 121.5h87" stroke-dasharray="1 4 1 77 1 2 1 136"/><path d="M21 122.5h82" stroke-dasharray="1 79 2 136"/><path d="M106 123.5h1" stroke-dasharray="1 136"/><path d="M26 124.5h108" stroke-dasharray="1 83 1 22 1 136"/><path d="M9 125.5h124" stroke-dasharray="2 11 1 21 1 50 1 1 1 2 1 21 1 8 2 136"/><path d="M92 126.5h37" stroke-dasharray="1 2 4 16 1 7 1 4 1 136"/><path d="M14 127.5h92" stroke-dasharray="1 86 1 3 1 136"/><path d="M40 128.5h47" stroke-dasharray="1 5 1 39 1 136"/><path d="M20 129.5h103" stroke-dasharray="1 4 1 2 1 32 1 40 1 4 1 14 1 136"/><path d="M20 130.5h115" stroke-dasharray="1 84 1 9 1 18 1 136"/><path d="M14 131.5h122" stroke-dasharray="1 10 2 4 1 70 1 12 1 19 1 136"/><path d="M11 132.5h117" stroke-dasharray="1 83 1 17 1 1 1 3 1 7 1 136"/><path d="M20 133.5h108" stroke-dasharray="1 22 1 44 1 2 1 3 1 31 1 136"/><path d="M12 134.5h122" stroke-dasharray="2 96 1 9 1 12 1 136"/><path d="M22 135.5h106" stroke-dasharray="1 93 2 9 1 136"/><path d="M11 136.5h94" stroke-dasharray="1 76 3 6 1 3 1 2 1 136"/></g>
<g stroke="#b83a94" fill="none"><path d="M44 0.5h77" stroke-dasharray="1 1 1 8 1 33 1 24 1 5 1 136"/><path d="M0 1.5h126" stroke-dasharray="2 8 2 29 1 7 1 15 2 25 2 8 2 18 1 2 1 136"/><path d="M75 2.5h52" stroke-dasharray="1 23 1 2 1 8 1 9 1 3 2 136"/><path d="M21 3.5h114" stroke-dasharray="1 41 2 35 1 6 1 7 1 5 1 12 1 136"/><path d="M35 4.5h92" stroke-dasharray="1 22 1 4 1 52 1 9 1 136"/><path d="M3 5.5h133" stroke-dasharray="1 13 1 44 1 26 1 31 1 4 1 7 2 136"/><path d="M0 6.5h129" stroke-dasharray="1 4 1 13 1 67 1 2 1 14 1 10 1 11 1 136"/><path d="M57 7.5h74" stroke-dasharray="1 48 1 23 1 136"/><path d="M5 8.5h115" stroke-dasharray="2 3 1 18 1 10 1 11 1 45 1 12 1 1 1 5 1 136"/><path d="M3 9.5h109" stroke-dasharray="1 14 1 19 1 18 1 39 1 13 1 136"/><path d="M13 10.5h122" stroke-dasharray="1 26 1 13 3 25 1 6 1 1 2 5 1 14 1 1 1 2 1 5 1 1 1 1 1 5 1 136"/><path d="M16 11.5h120" stroke-dasharray="1 3 1 7 1 26 1 28 2 38 1 9 2 136"/><path d="M20 12.5h92" stroke-dasharray="2 15 1 46 1 24 1 1 1 136"/><path d="M52 13.5h61" stroke-dasharray="1 40 1 18 1 136"/><path d="M2 14.5h134" stroke-dasharray="1 15 1 2 2 5 2 3 1 67 1 1 1 26 1 1 1 2 1 136"/><path d="M20 15.5h96" stroke-dasharray="2 92 2 136"/><path d="M107 16.5h29" stroke-dasharray="1 4 1 9 1 11 2 136"/><path d="M6 17.5h130" stroke-dasharray="1 3 1 2 1 112 1 4 1 3 1 136"/><path d="M72 18.5h48" stroke-dasharray="1 46 1 136"/><path d="M44 19.5h87" stroke-dasharray="1 61 1 10 1 2 1 9 1 136"/><path d="M0 20.5h130" stroke-dasharray="2 21 1 9 2 86 1 4 1 2 1 136"/><path d="M0 21.5h136" stroke-dasharray="1 1 1 8 1 8 2 4 1 92 1 6 1 8 1 136"/><path d="M22 22.5h108" stroke-dasharray="1 8 1 5 1 2 1 60 1 27 1 136"/><path d="M87 23.5h35" stroke-dasharray="1 15 1 13 1 2 2 136"/><path d="M19 24.5h111" stroke-dasharray="2 79 1 5 1 7 1 1 1 12 1 136"/><path d="M3 25.5h117" stroke-dasharray="1 17 1 82 1 14 1 136"/><path d="M22 26.5h113" stroke-dasharray="1 7 1 38 1 27 1 2 1 4 1 2 1 11 1 9 1 2 2 136"/><path d="M7 27.5h126" stroke-dasharray="1 28 1 5 1 58 1 30 1 136"/><path d="M1 28.5h123" stroke-dasharray="1 5 1 7 1 80 1 15 1 1 1 8 1 136"/><path d="M1 29.5h134" stroke-dasharray="1 2 1 2 1 11 1 91 1 22 1 136"/><path d="M1 30.5h122" stroke-dasharray="1 1 1 5 1 1 1 7 1 102 1 136"/><path d="M2 31.5h129" stroke-dasharray="1 90 1 36 1 136"/><path d="M0 32.5h131" stroke-dasharray="1 2 1 23 1 24 1 45 1 1 1 28 2 136"/><path d="M5 33.5h100" stroke-dasharray="1 98 1 136"/><path d="M109 34.5h24" stroke-dasharray="1 1 1 11 1 4 1 3 1 136"/><path d="M30 35.5h81" stroke-dasharray="1 5 1 65 2 4 1 1 1 136"/><path d="M30 36.5h104" stroke-dasharray="1 1 1 100 1 136"/><path d="M14 37.5h106" stroke-dasharray="1 19 1 77 1 6 1 136"/><path d="M13 38.5h99" stroke-dasharray="1 1 1 1 1 10 1 82 1 136"/><path d="M1 39.5h129" stroke-dasharray="1 11 1 99 1 1 1 13 1 136"/><path d="M135 40.5h1" stroke-dasharray="1 136"/><path d="M131 41.5h1" stroke-dasharray="1 136"/><path d="M3 42.5h46" stroke-dasharray="1 11 1 4 1 1 1 25 1 136"/><path d="M3 43.5h128" stroke-dasharray="1 1 2 19 1 3 1 13 1 41 1 33 1 9 1 136"/><path d="M55 44.5h74" stroke-dasharray="1 71 2 136"/><path d="M7 45.5h121" stroke-dasharray="2 4 1 6 1 10 1 14 1 61 1 13 2 2 2 136"/><path d="M13 46.5h18" stroke-dasharray="1 6 1 9 1 136"/><path d="M11 47.5h8" stroke-dasharray="1 3 1 1 2 136"/><path d="M3 48.5h132" stroke-dasharray="1 7 1 5 2 72 1 33 1 8 1 136"/><path d="M35 49.5h1" stroke-dasharray="1 136"/><path d="M4 50.5h1" stroke-dasharray="1 136"/><path d="M0 51.5h130" stroke-dasharray="1 3 1 7 1 98 1 17 1 136"/><path d="M28 52.5h92" stroke-dasharray="1 1 1 5 1 59 1 22 1 136"/><path d="M12 53.5h119" stroke-dasharray="1 117 1 136"/><path d="M13 54.5h121" stroke-dasharray="1 65 1 40 1 12 1 136"/><path d="M1 55.5h134" stroke-dasharray="2 10 1 15 1 104 1 136"/><path d="M3 56.5h85" stroke-dasharray="1 83 1 136"/><path d="M10 57.5h1" stroke-dasharray="1 136"/><path d="M24 58.5h1" stroke-dasharray="1 136"/><path d="M7 59.5h128" stroke-dasharray="1 8 1 1 1 109 1 5 1 136"/><path d="M17 60.5h119" stroke-dasharray="1 5 2 83 1 19 1 6 1 136"/><path d="M54 61.5h75" stroke-dasharray="1 62 2 4 1 2 3 136"/><path d="M7 62.5h121" stroke-dasharray="1 112 1 6 1 136"/><path d="M4 63.5h18" stroke-dasharray="1 16 1 136"/><path d="M18 64.5h11" stroke-dasharray="1 2 1 6 1 136"/><path d="M5 65.5h30" stroke-dasharray="1 1 2 25 1 136"/><path d="M10 66.5h2" stroke-dasharray="2 136"/><path d="M3 68.5h9" stroke-dasharray="1 7 1 136"/><path d="M0 69.5h133" stroke-dasharray="1 5 1 112 1 12 1 136"/><path d="M11 70.5h49" stroke-dasharray="1 47 1 136"/><path d="M10 71.5h94" stroke-dasharray="1 15 1 76 1 136"/><path d="M7 72.5h93" stroke-dasharray="1 2 1 88 1 136"/><path d="M1 74.5h118" stroke-dasharray="1 17 1 5 1 3 1 18 1 37 1 31 1 136"/><path d="M8 75.5h111" stroke-dasharray="2 19 1 21 1 66 1 136"/><path d="M23 76.5h2" stroke-dasharray="2 136"/><path d="M19 77.5h23" stroke-dasharray="1 16 1 4 1 136"/><path d="M3 78.5h133" stroke-dasharray="1 1 1 3 1 2 1 11 1 110 1 136"/><path d="M20 79.5h106" stroke-dasharray="1 79 1 12 1 2 1 8 1 136"/><path d="M10 80.5h104" stroke-dasharray="1 9 1 9 1 63 1 18 1 136"/><path d="M10 81.5h98" stroke-dasharray="1 22 1 73 1 136"/><path d="M20 82.5h112" stroke-dasharray="1 4 1 105 1 136"/><path d="M13 83.5h119" stroke-dasharray="2 79 1 12 1 3 1 1 1 17 1 136"/><path d="M20 84.5h78" stroke-dasharray="1 75 2 136"/><path d="M4 85.5h117" stroke-dasharray="1 79 1 13 1 1 1 14 1 4 1 136"/><path d="M24 86.5h104" stroke-dasharray="1 10 1 69 1 21 1 136"/><path d="M14 87.5h119" stroke-dasharray="1 9 1 4 2 15 1 55 1 12 1 15 2 136"/><path d="M7 88.5h116" stroke-dasharray="1 114 1 136"/><path d="M104 89.5h20" stroke-dasharray="1 18 1 136"/><path d="M35 90.5h101" stroke-dasharray="1 7 1 64 1 26 1 136"/><path d="M30 91.5h103" stroke-dasharray="1 5 1 83 1 11 1 136"/><path d="M6 92.5h110" stroke-dasharray="1 12 1 72 1 8 1 13 1 136"/><path d="M9 93.5h112" stroke-dasharray="1 6 1 1 1 24 1 48 1 12 2 5 1 2 1 4 1 136"/><path d="M9 94.5h119" stroke-dasharray="1 11 1 81 2 22 1 136"/><path d="M68 95.5h48" stroke-dasharray="1 16 1 24 1 4 1 136"/><path d="M32 96.5h1" stroke-dasharray="1 136"/><path d="M95 97.5h1" stroke-dasharray="1 136"/><path d="M16 98.5h100" stroke-dasharray="1 17 1 75 1 3 2 136"/><path d="M5 99.5h130" stroke-dasharray="1 17 1 91 1 11 1 6 1 136"/><path d="M9 100.5h118" stroke-dasharray="1 11 1 68 1 2 1 4 1 19 1 7 1 136"/><path d="M3 101.5h110" stroke-dasharray="1 6 1 101 1 136"/><path d="M13 102.5h103" stroke-dasharray="1 23 1 54 1 22 1 136"/><path d="M10 103.5h107" stroke-dasharray="1 6 1 74 1 23 1 136"/><path d="M17 104.5h119" stroke-dasharray="1 96 1 8 1 11 1 136"/><path d="M0 105.5h131" stroke-dasharray="1 26 1 7 1 94 1 136"/><path d="M2 106.5h111" stroke-dasharray="1 108 2 136"/><path d="M17 108.5h117" stroke-dasharray="1 9 2 80 1 23 1 136"/><path d="M6 109.5h123" stroke-dasharray="1 22 1 13 1 46 1 32 1 4 1 136"/><path d="M24 110.5h91" stroke-dasharray="1 1 1 70 1 2 1 13 1 136"/><path d="M4 111.5h126" stroke-dasharray="1 14 2 5 1 69 1 7 1 10 1 3 1 9 1 136"/><path d="M4 112.5h122" stroke-dasharray="1 2 1 5 1 1 2 89 1 8 1 6 1 1 2 136"/><path d="M19 113.5h113" stroke-dasharray="1 3 1 1 1 1 1 60 1 15 1 19 1 6 1 136"/><path d="M3 114.5h32" stroke-dasharray="1 2 1 6 1 2 1 1 1 15 1 136"/><path d="M1 115.5h132" stroke-dasharray="1 55 1 30 1 17 1 7 1 9 1 7 1 136"/><path d="M11 116.5h125" stroke-dasharray="1 78 1 43 2 136"/><path d="M7 117.5h114" stroke-dasharray="1 82 1 7 1 20 2 136"/><path d="M27 118.5h102" stroke-dasharray="1 71 1 9 1 18 1 136"/><path d="M0 119.5h128" stroke-dasharray="2 12 1 96 4 12 1 136"/><path d="M127 120.5h1" stroke-dasharray="1 136"/><path d="M100 121.5h35" stroke-dasharray="1 1 1 15 1 15 1 136"/><path d="M1 122.5h118" stroke-dasharray="1 20 3 93 1 136"/><path d="M3 123.5h115" stroke-dasharray="1 93 1 11 1 6 2 136"/><path d="M90 124.5h45" stroke-dasharray="1 6 1 8 1 27 1 136"/><path d="M21 125.5h98" stroke-dasharray="1 76 1 18 2 136"/><path d="M125 126.5h7" stroke-dasharray="1 5 1 136"/><path d="M87 127.5h21" stroke-dasharray="1 7 2 7 1 2 1 136"/><path d="M36 128.5h88" stroke-dasharray="2 17 1 31 1 17 1 17 1 136"/><path d="M114 129.5h21" stroke-dasharray="1 17 3 136"/><path d="M25 130.5h108" stroke-dasharray="1 77 1 28 1 136"/><path d="M9 131.5h100" stroke-dasharray="2 4 1 19 1 61 1 10 1 136"/><path d="M18 132.5h114" stroke-dasharray="1 27 1 53 1 19 1 10 1 136"/><path d="M13 133.5h108" stroke-dasharray="1 14 1 86 1 4 1 136"/><path d="M23 134.5h109" stroke-dasharray="1 107 1 136"/><path d="M8 135.5h115" stroke-dasharray="1 7 1 4 1 1 2 63 1 15 1 1 1 14 2 136"/><path d="M47 136.5h82" stroke-dasharray="1 48 1 2 1 28 1 136"/></g>
<g stroke="#de6eaa" fill="none"><path d="M90 0.5h45" stroke-dasharray="1 2 1 27 1 12 1 136"/><path d="M114 1.5h1" stroke-dasharray="1 136"/><path d="M21 2.5h77" stroke-dasharray="1 75 1 136"/><path d="M99 3.5h29" stroke-dasharray="1 4 1 22 1 136"/><path d="M91 4.5h37" stroke-dasharray="1 21 1 13 1 136"/><path d="M2 5.5h115" stroke-dasharray="1 113 1 136"/><path d="M94 6.5h41" stroke-dasharray="1 22 1 6 1 9 1 136"/><path d="M25 7.5h110" stroke-dasharray="1 14 1 66 1 26 1 136"/><path d="M13 8.5h46" stroke-dasharray="1 44 1 136"/><path d="M13 9.5h123" stroke-dasharray="1 87 1 3 1 15 1 13 1 136"/><path d="M99 10.5h1" stroke-dasharray="1 136"/><path d="M29 12.5h74" stroke-dasharray="1 63 1 8 1 136"/><path d="M18 13.5h98" stroke-dasharray="1 71 1 24 1 136"/><path d="M132 15.5h1" stroke-dasharray="1 136"/><path d="M3 16.5h124" stroke-dasharray="1 101 1 20 1 136"/><path d="M11 17.5h122" stroke-dasharray="1 98 2 16 1 3 1 136"/><path d="M24 18.5h93" stroke-dasharray="1 91 1 136"/><path d="M5 20.5h115" stroke-dasharray="1 25 2 86 1 136"/><path d="M3 21.5h125" stroke-dasharray="1 123 1 136"/><path d="M99 24.5h27" stroke-dasharray="1 24 2 136"/><path d="M4 25.5h126" stroke-dasharray="1 100 1 15 1 7 1 136"/><path d="M8 26.5h128" stroke-dasharray="1 126 1 136"/><path d="M1 27.5h109" stroke-dasharray="1 66 1 40 1 136"/><path d="M122 28.5h11" stroke-dasharray="1 9 1 136"/><path d="M3 29.5h112" stroke-dasharray="1 2 1 11 1 95 1 136"/><path d="M44 30.5h90" stroke-dasharray="1 86 1 1 1 136"/><path d="M1 31.5h119" stroke-dasharray="1 6 1 27 1 82 1 136"/><path d="M5 32.5h117" stroke-dasharray="1 115 1 136"/><path d="M14 33.5h120" stroke-dasharray="1 114 1 3 1 136"/><path d="M14 34.5h103" stroke-dasharray="1 101 1 136"/><path d="M0 35.5h132" stroke-dasharray="1 114 1 15 1 136"/><path d="M76 36.5h38" stroke-dasharray="1 36 1 136"/><path d="M20 37.5h1" stroke-dasharray="1 136"/><path d="M2 38.5h1" stroke-dasharray="1 136"/><path d="M21 39.5h108" stroke-dasharray="1 106 1 136"/><path d="M23 40.5h108" stroke-dasharray="1 94 1 11 1 136"/><path d="M110 41.5h1" stroke-dasharray="1 136"/><path d="M113 43.5h1" stroke-dasharray="1 136"/><path d="M26 45.5h1" stroke-dasharray="1 136"/><path d="M12 46.5h122" stroke-dasharray="1 20 1 99 1 136"/><path d="M14 47.5h1" stroke-dasharray="1 136"/><path d="M15 49.5h8" stroke-dasharray="1 6 1 136"/><path d="M126 53.5h1" stroke-dasharray="1 136"/><path d="M128 54.5h1" stroke-dasharray="1 136"/><path d="M19 55.5h117" stroke-dasharray="1 20 1 94 1 136"/><path d="M6 56.5h20" stroke-dasharray="1 18 1 136"/><path d="M129 57.5h1" stroke-dasharray="1 136"/><path d="M130 58.5h1" stroke-dasharray="1 136"/><path d="M16 60.5h108" stroke-dasharray="1 106 1 136"/><path d="M4 61.5h25" stroke-dasharray="2 22 1 136"/><path d="M19 62.5h1" stroke-dasharray="1 136"/><path d="M28 63.5h55" stroke-dasharray="2 4 1 47 1 136"/><path d="M2 64.5h13" stroke-dasharray="1 11 1 136"/><path d="M126 65.5h1" stroke-dasharray="1 136"/><path d="M1 68.5h1" stroke-dasharray="1 136"/><path d="M9 69.5h15" stroke-dasharray="1 12 2 136"/><path d="M2 70.5h1" stroke-dasharray="1 136"/><path d="M27 73.5h1" stroke-dasharray="1 136"/><path d="M18 74.5h7" stroke-dasharray="1 5 1 136"/><path d="M6 75.5h124" stroke-dasharray="1 116 1 5 1 136"/><path d="M88 76.5h36" stroke-dasharray="1 26 1 7 1 136"/><path d="M117 77.5h1" stroke-dasharray="1 136"/><path d="M10 79.5h65" stroke-dasharray="1 63 1 136"/><path d="M3 80.5h1" stroke-dasharray="1 136"/><path d="M33 82.5h60" stroke-dasharray="1 58 1 136"/><path d="M27 84.5h1" stroke-dasharray="1 136"/><path d="M0 86.5h120" stroke-dasharray="1 25 1 88 1 3 1 136"/><path d="M22 87.5h1" stroke-dasharray="1 136"/><path d="M17 88.5h1" stroke-dasharray="1 136"/><path d="M11 89.5h91" stroke-dasharray="1 89 1 136"/><path d="M11 90.5h1" stroke-dasharray="1 136"/><path d="M10 91.5h115" stroke-dasharray="1 15 1 97 1 136"/><path d="M10 92.5h111" stroke-dasharray="1 7 1 20 1 80 1 136"/><path d="M40 94.5h83" stroke-dasharray="1 55 1 18 1 6 1 136"/><path d="M15 95.5h79" stroke-dasharray="1 77 1 136"/><path d="M19 97.5h102" stroke-dasharray="1 100 1 136"/><path d="M126 99.5h6" stroke-dasharray="1 4 1 136"/><path d="M14 100.5h76" stroke-dasharray="1 74 1 136"/><path d="M98 101.5h30" stroke-dasharray="1 27 2 136"/><path d="M93 103.5h22" stroke-dasharray="1 20 1 136"/><path d="M111 105.5h1" stroke-dasharray="1 136"/><path d="M132 106.5h1" stroke-dasharray="1 136"/><path d="M6 108.5h1" stroke-dasharray="1 136"/><path d="M7 109.5h128" stroke-dasharray="1 101 1 7 2 14 2 136"/><path d="M113 114.5h1" stroke-dasharray="1 136"/><path d="M3 115.5h1" stroke-dasharray="1 136"/><path d="M124 116.5h2" stroke-dasharray="2 136"/><path d="M27 117.5h1" stroke-dasharray="1 136"/><path d="M101 118.5h1" stroke-dasharray="1 136"/><path d="M23 120.5h42" stroke-dasharray="1 40 1 136"/><path d="M107 121.5h1" stroke-dasharray="1 136"/><path d="M6 124.5h91" stroke-dasharray="1 89 1 136"/><path d="M133 125.5h1" stroke-dasharray="1 136"/><path d="M93 126.5h15" stroke-dasharray="1 13 1 136"/><path d="M48 127.5h1" stroke-dasharray="1 136"/><path d="M1 128.5h132" stroke-dasharray="1 45 1 1 1 82 1 136"/><path d="M19 129.5h9" stroke-dasharray="1 7 1 136"/><path d="M11 130.5h1" stroke-dasharray="1 136"/><path d="M11 131.5h110" stroke-dasharray="1 83 1 9 1 14 1 136"/><path d="M103 132.5h8" stroke-dasharray="1 6 1 136"/><path d="M114 133.5h8" stroke-dasharray="1 6 1 136"/><path d="M90 135.5h42" stroke-dasharray="1 35 1 1 1 2 1 136"/><path d="M22 136.5h1" stroke-dasharray="1 136"/></g>
<g stroke="#7a3c9e" fill="none"><path d="M5 0.5h114" stroke-dasharray="1 6 1 9 1 8 1 21 1 46 2 2 1 13 1 136"/><path d="M12 1.5h121" stroke-dasharray="1 8 1 52 1 30 1 4 2 8 1 9 1 1 1 136"/><path d="M13 2.5h112" stroke-dasharray="1 3 1 1 1 2 1 18 1 82 1 136"/><path d="M0 3.5h112" stroke-dasharray="1 17 1 1 1 8 1 12 1 58 1 9 1 136"/><path d="M15 4.5h98" stroke-dasharray="1 4 1 7 1 5 1 27 1 39 3 3 2 2 1 136"/><path d="M4 5.5h119" stroke-dasharray="1 82 1 34 1 136"/><path d="M12 6.5h39" stroke-dasharray="1 37 1 136"/><path d="M27 7.5h102" stroke-dasharray="1 3 1 96 1 136"/><path d="M12 8.5h110" stroke-dasharray="1 10 1 27 1 22 2 15 1 4 1 24 1 136"/><path d="M12 9.5h81" stroke-dasharray="1 2 1 35 1 40 1 136"/><path d="M4 10.5h130" stroke-dasharray="1 18 2 14 1 43 1 6 1 21 1 1 1 14 1 3 1 136"/><path d="M90 11.5h43" stroke-dasharray="1 31 1 9 1 136"/><path d="M24 12.5h109" stroke-dasharray="1 1 1 1 1 32 1 8 1 56 1 4 1 136"/><path d="M13 13.5h120" stroke-dasharray="1 93 1 24 1 136"/><path d="M3 14.5h100" stroke-dasharray="1 6 1 91 1 136"/><path d="M33 15.5h85" stroke-dasharray="1 13 1 35 1 33 1 136"/><path d="M83 16.5h50" stroke-dasharray="1 12 1 16 2 8 1 8 1 136"/><path d="M84 17.5h34" stroke-dasharray="1 31 2 136"/><path d="M11 18.5h105" stroke-dasharray="1 90 1 3 1 8 1 136"/><path d="M26 19.5h97" stroke-dasharray="1 8 1 23 1 62 1 136"/><path d="M2 20.5h131" stroke-dasharray="1 23 1 10 1 54 1 13 1 24 2 136"/><path d="M7 21.5h92" stroke-dasharray="2 4 1 84 1 136"/><path d="M2 22.5h126" stroke-dasharray="1 3 1 3 1 91 1 16 1 7 1 136"/><path d="M91 23.5h39" stroke-dasharray="1 8 3 26 1 136"/><path d="M4 24.5h102" stroke-dasharray="1 100 1 136"/><path d="M5 25.5h30" stroke-dasharray="1 5 1 22 1 136"/><path d="M101 26.5h19" stroke-dasharray="1 17 1 136"/><path d="M0 27.5h135" stroke-dasharray="1 2 1 11 1 2 1 3 1 8 1 5 1 57 1 4 1 5 3 21 1 3 1 136"/><path d="M9 28.5h107" stroke-dasharray="1 21 1 69 1 8 1 4 1 136"/><path d="M53 29.5h83" stroke-dasharray="1 21 1 36 1 22 1 136"/><path d="M64 30.5h54" stroke-dasharray="1 27 2 19 1 3 1 136"/><path d="M6 32.5h126" stroke-dasharray="2 31 1 88 1 2 1 136"/><path d="M3 33.5h132" stroke-dasharray="2 123 1 5 1 136"/><path d="M28 34.5h18" stroke-dasharray="1 8 1 5 1 1 1 136"/><path d="M29 35.5h9" stroke-dasharray="1 5 1 1 1 136"/><path d="M7 36.5h109" stroke-dasharray="1 26 1 58 1 21 1 136"/><path d="M9 37.5h20" stroke-dasharray="1 18 1 136"/><path d="M90 38.5h40" stroke-dasharray="1 27 1 10 1 136"/><path d="M114 39.5h22" stroke-dasharray="1 19 2 136"/><path d="M125 40.5h1" stroke-dasharray="1 136"/><path d="M132 41.5h1" stroke-dasharray="1 136"/><path d="M21 42.5h107" stroke-dasharray="1 1 1 103 1 136"/><path d="M20 43.5h100" stroke-dasharray="1 98 1 136"/><path d="M9 44.5h127" stroke-dasharray="1 19 1 105 1 136"/><path d="M12 45.5h119" stroke-dasharray="1 117 1 136"/><path d="M16 47.5h118" stroke-dasharray="1 3 4 109 1 136"/><path d="M2 48.5h117" stroke-dasharray="1 5 1 109 1 136"/><path d="M18 49.5h1" stroke-dasharray="1 136"/><path d="M131 50.5h1" stroke-dasharray="1 136"/><path d="M110 51.5h1" stroke-dasharray="1 136"/><path d="M2 52.5h11" stroke-dasharray="1 9 1 136"/><path d="M11 53.5h1" stroke-dasharray="1 136"/><path d="M1 54.5h121" stroke-dasharray="1 5 2 2 1 109 1 136"/><path d="M117 55.5h14" stroke-dasharray="1 6 1 5 1 136"/><path d="M117 56.5h1" stroke-dasharray="1 136"/><path d="M7 60.5h121" stroke-dasharray="1 14 1 101 1 2 1 136"/><path d="M8 61.5h1" stroke-dasharray="1 136"/><path d="M4 62.5h123" stroke-dasharray="1 3 1 30 1 86 1 136"/><path d="M19 63.5h2" stroke-dasharray="2 136"/><path d="M34 64.5h1" stroke-dasharray="1 136"/><path d="M7 66.5h1" stroke-dasharray="1 136"/><path d="M12 67.5h1" stroke-dasharray="1 136"/><path d="M20 68.5h4" stroke-dasharray="1 2 1 136"/><path d="M8 69.5h4" stroke-dasharray="1 2 1 136"/><path d="M1 70.5h5" stroke-dasharray="1 3 1 136"/><path d="M4 71.5h1" stroke-dasharray="1 136"/><path d="M5 72.5h4" stroke-dasharray="1 2 1 136"/><path d="M26 73.5h105" stroke-dasharray="1 5 1 97 1 136"/><path d="M34 74.5h90" stroke-dasharray="1 84 1 3 1 136"/><path d="M1 75.5h134" stroke-dasharray="1 26 1 95 1 9 1 136"/><path d="M2 77.5h127" stroke-dasharray="1 125 1 136"/><path d="M4 78.5h129" stroke-dasharray="1 3 1 7 1 13 1 10 1 58 1 31 1 136"/><path d="M24 79.5h109" stroke-dasharray="1 4 1 63 1 5 1 27 1 4 1 136"/><path d="M5 80.5h110" stroke-dasharray="1 86 1 21 1 136"/><path d="M24 82.5h8" stroke-dasharray="1 6 1 136"/><path d="M26 83.5h1" stroke-dasharray="1 136"/><path d="M24 84.5h87" stroke-dasharray="1 85 1 136"/><path d="M50 85.5h70" stroke-dasharray="1 43 1 24 1 136"/><path d="M6 86.5h41" stroke-dasharray="1 8 1 30 1 136"/><path d="M4 87.5h102" stroke-dasharray="1 95 1 4 1 136"/><path d="M22 88.5h79" stroke-dasharray="2 4 1 69 1 1 1 136"/><path d="M18 89.5h85" stroke-dasharray="1 72 1 10 1 136"/><path d="M2 90.5h120" stroke-dasharray="1 14 1 71 1 20 1 10 1 136"/><path d="M20 92.5h97" stroke-dasharray="1 77 1 1 1 15 1 136"/><path d="M5 93.5h114" stroke-dasharray="1 6 1 103 3 136"/><path d="M27 95.5h105" stroke-dasharray="1 85 1 17 1 136"/><path d="M15 96.5h4" stroke-dasharray="1 2 1 136"/><path d="M101 97.5h1" stroke-dasharray="1 136"/><path d="M120 98.5h9" stroke-dasharray="1 6 2 136"/><path d="M90 99.5h36" stroke-dasharray="1 23 1 8 1 1 1 136"/><path d="M7 100.5h121" stroke-dasharray="2 77 1 12 1 27 1 136"/><path d="M103 101.5h1" stroke-dasharray="1 136"/><path d="M109 102.5h8" stroke-dasharray="1 6 1 136"/><path d="M1 104.5h98" stroke-dasharray="1 18 1 77 1 136"/><path d="M21 105.5h1" stroke-dasharray="1 136"/><path d="M13 106.5h7" stroke-dasharray="2 4 1 136"/><path d="M128 107.5h1" stroke-dasharray="1 136"/><path d="M20 108.5h82" stroke-dasharray="1 80 1 136"/><path d="M13 109.5h77" stroke-dasharray="1 75 1 136"/><path d="M5 110.5h1" stroke-dasharray="1 136"/><path d="M105 112.5h27" stroke-dasharray="1 12 1 12 1 136"/><path d="M22 113.5h111" stroke-dasharray="1 63 1 45 1 136"/><path d="M24 114.5h108" stroke-dasharray="1 106 1 136"/><path d="M7 115.5h103" stroke-dasharray="1 1 1 99 1 136"/><path d="M9 116.5h1" stroke-dasharray="1 136"/><path d="M3 117.5h1" stroke-dasharray="1 136"/><path d="M110 118.5h1" stroke-dasharray="1 136"/><path d="M3 119.5h1" stroke-dasharray="1 136"/><path d="M97 121.5h36" stroke-dasharray="1 8 1 25 1 136"/><path d="M40 122.5h67" stroke-dasharray="1 65 1 136"/><path d="M22 123.5h97" stroke-dasharray="2 17 1 59 1 8 1 7 1 136"/><path d="M3 124.5h106" stroke-dasharray="1 8 1 53 1 41 1 136"/><path d="M45 125.5h52" stroke-dasharray="1 50 1 136"/><path d="M88 126.5h45" stroke-dasharray="1 16 1 26 1 136"/><path d="M35 127.5h82" stroke-dasharray="2 79 1 136"/><path d="M41 128.5h54" stroke-dasharray="1 6 1 45 1 136"/><path d="M1 129.5h36" stroke-dasharray="1 2 1 31 1 136"/><path d="M15 130.5h119" stroke-dasharray="1 75 1 41 1 136"/><path d="M107 131.5h1" stroke-dasharray="1 136"/><path d="M16 132.5h115" stroke-dasharray="1 30 1 61 1 20 1 136"/><path d="M99 133.5h24" stroke-dasharray="1 3 1 18 1 136"/><path d="M14 134.5h115" stroke-dasharray="1 1 1 82 1 28 1 136"/><path d="M14 135.5h107" stroke-dasharray="1 79 1 4 1 18 1 1 1 136"/><path d="M19 136.5h2" stroke-dasharray="2 136"/></g>
</g>
<line x1="172.0" y1="207.0" x2="195.0" y2="201.0" stroke="#d0cee8" stroke-width="2.2" stroke-linecap="round" opacity="0.40"/>
<line x1="212.0" y1="194.0" x2="236.0" y2="187.0" stroke="#d0cee8" stroke-width="2.0" stroke-linecap="round" opacity="0.40"/>
<line x1="174.0" y1="259.0" x2="179.0" y2="284.0" stroke="#d0cee8" stroke-width="1.8" stroke-linecap="round" opacity="0.40"/>
<line x1="196.0" y1="240.0" x2="204.0" y2="248.0" stroke="#d0cee8" stroke-width="2.4" stroke-linecap="round" opacity="0.40"/>
<line x1="200.0" y1="262.0" x2="212.0" y2="257.0" stroke="#d0cee8" stroke-width="2.0" stroke-linecap="round" opacity="0.40"/>
<rect x="187" y="266" width="4" height="5" fill="none" stroke="#e8e6f4" stroke-width="1.5"/>
<g transform="translate(251.00 249.00)">
<rect width="55" height="55" fill="rgb(58, 54, 150)"/>
<g stroke="#241e6e" fill="none"><path d="M4 0.5h50" stroke-dasharray="1 10 1 11 1 5 1 1 1 3 3 8 1 2 1 55"/><path d="M1 1.5h52" stroke-dasharray="1 2 1 2 1 3 1 2 1 4 1 7 1 2 1 10 2 1 1 1 1 5 1 55"/><path d="M2 2.5h42" stroke-dasharray="2 18 2 2 1 6 1 3 1 2 2 1 1 55"/><path d="M3 3.5h52" stroke-dasharray="1 1 2 3 1 8 1 3 1 3 1 2 1 2 1 4 2 1 1 5 1 5 2 55"/><path d="M0 4.5h55" stroke-dasharray="1 1 1 1 2 1 1 5 1 6 1 22 2 3 2 4 1 55"/><path d="M2 5.5h53" stroke-dasharray="1 2 2 3 1 1 1 1 1 1 1 16 1 7 1 7 2 3 1 55"/><path d="M3 6.5h51" stroke-dasharray="1 5 1 1 3 1 2 3 1 6 1 5 2 4 1 2 1 5 1 1 1 2 1 55"/><path d="M3 7.5h52" stroke-dasharray="1 9 1 5 2 12 3 1 1 9 1 4 3 55"/><path d="M5 8.5h45" stroke-dasharray="1 2 2 4 1 17 1 6 2 3 1 3 2 55"/><path d="M3 9.5h51" stroke-dasharray="1 3 1 2 1 2 1 7 1 2 1 2 2 1 6 16 2 55"/><path d="M7 10.5h48" stroke-dasharray="1 4 1 3 1 2 2 4 1 2 3 1 1 2 1 16 3 55"/><path d="M5 11.5h47" stroke-dasharray="1 8 2 1 1 2 1 6 1 7 1 4 1 10 1 55"/><path d="M7 12.5h47" stroke-dasharray="1 11 1 2 1 8 1 1 1 12 1 2 1 2 2 55"/><path d="M0 13.5h53" stroke-dasharray="2 2 2 2 1 9 1 4 1 2 1 3 1 4 1 2 1 1 1 8 2 1 1 55"/><path d="M3 14.5h49" stroke-dasharray="1 2 1 1 1 4 1 14 4 2 1 1 1 5 1 2 4 1 2 55"/><path d="M3 15.5h46" stroke-dasharray="1 1 1 1 1 3 1 1 2 2 1 5 1 11 1 1 2 7 3 55"/><path d="M4 16.5h49" stroke-dasharray="2 3 1 2 1 6 2 6 1 2 2 3 1 3 2 6 1 2 3 55"/><path d="M1 17.5h52" stroke-dasharray="2 9 1 6 1 2 2 2 3 2 1 2 1 4 2 1 1 3 1 5 1 55"/><path d="M6 18.5h49" stroke-dasharray="3 5 1 1 1 7 1 3 2 2 1 3 1 3 1 10 2 1 1 55"/><path d="M1 19.5h51" stroke-dasharray="1 4 2 3 1 1 2 36 1 55"/><path d="M1 20.5h54" stroke-dasharray="1 3 2 4 1 2 1 17 2 1 1 9 2 7 1 55"/><path d="M4 21.5h50" stroke-dasharray="1 1 1 5 2 1 1 15 2 8 3 9 1 55"/><path d="M5 22.5h50" stroke-dasharray="1 1 2 4 1 2 1 15 1 8 1 1 1 3 2 5 1 55"/><path d="M1 23.5h52" stroke-dasharray="1 7 1 12 1 5 1 11 1 7 3 1 1 55"/><path d="M3 24.5h48" stroke-dasharray="1 1 1 9 2 1 1 3 1 3 1 4 1 9 1 1 4 1 3 55"/><path d="M3 25.5h52" stroke-dasharray="2 1 2 5 1 3 1 11 2 4 1 2 3 1 1 2 3 1 2 1 1 1 1 55"/><path d="M0 26.5h53" stroke-dasharray="1 5 1 8 1 1 2 9 1 8 1 2 4 3 2 3 1 55"/><path d="M0 27.5h55" stroke-dasharray="1 1 1 3 2 1 1 4 2 1 1 2 2 2 1 1 1 8 2 2 1 7 1 1 2 3 1 55"/><path d="M0 28.5h51" stroke-dasharray="2 4 1 5 1 5 1 1 1 3 2 7 1 1 1 1 1 3 2 3 2 2 1 55"/><path d="M0 29.5h55" stroke-dasharray="1 3 1 2 1 3 1 14 1 5 4 5 2 4 3 3 2 55"/><path d="M3 30.5h49" stroke-dasharray="1 5 1 7 1 1 1 3 1 8 1 1 2 3 1 2 2 7 1 55"/><path d="M2 31.5h53" stroke-dasharray="2 3 1 6 1 5 1 1 1 1 3 4 1 8 3 3 1 5 3 55"/><path d="M1 32.5h48" stroke-dasharray="1 2 1 2 2 13 3 3 1 6 1 2 3 6 2 55"/><path d="M7 33.5h47" stroke-dasharray="1 13 2 2 5 10 6 2 2 3 1 55"/><path d="M1 34.5h45" stroke-dasharray="1 2 2 8 1 9 1 9 1 10 1 55"/><path d="M1 35.5h54" stroke-dasharray="1 9 1 4 1 6 1 1 2 1 1 3 1 8 2 1 1 9 1 55"/><path d="M1 36.5h52" stroke-dasharray="2 1 1 3 2 1 1 4 1 4 3 1 1 11 1 5 1 2 2 4 1 55"/><path d="M10 37.5h45" stroke-dasharray="1 4 2 2 3 1 1 1 2 5 2 3 1 7 1 1 1 5 2 55"/><path d="M1 38.5h54" stroke-dasharray="1 2 2 2 3 7 1 4 1 2 3 1 1 2 2 7 1 1 1 9 1 55"/><path d="M0 39.5h55" stroke-dasharray="1 4 1 3 3 5 1 2 2 1 1 1 1 4 1 4 1 6 1 1 2 1 5 2 1 55"/><path d="M1 40.5h50" stroke-dasharray="2 11 1 4 1 5 2 5 1 1 1 2 1 7 1 2 1 1 1 55"/><path d="M0 41.5h50" stroke-dasharray="1 1 2 4 3 1 1 10 2 1 2 3 1 10 2 3 3 55"/><path d="M0 42.5h55" stroke-dasharray="1 2 2 3 1 4 3 10 2 1 1 2 1 2 1 4 1 2 1 5 6 55"/><path d="M9 43.5h39" stroke-dasharray="1 5 1 2 1 2 1 3 1 1 1 5 1 1 1 2 1 4 2 1 2 55"/><path d="M17 44.5h36" stroke-dasharray="2 6 3 2 1 1 3 2 3 3 2 7 1 55"/><path d="M1 45.5h54" stroke-dasharray="1 3 1 1 1 5 2 5 2 5 1 5 2 6 1 1 2 8 2 55"/><path d="M0 46.5h55" stroke-dasharray="2 3 2 2 1 16 2 1 1 7 3 4 1 6 4 55"/><path d="M0 47.5h55" stroke-dasharray="3 2 1 5 1 25 1 1 2 12 2 55"/><path d="M0 48.5h52" stroke-dasharray="2 4 1 1 1 6 1 3 1 7 2 2 1 6 1 1 1 2 1 4 2 1 1 55"/><path d="M3 49.5h51" stroke-dasharray="1 1 1 13 1 9 1 13 1 7 1 1 1 55"/><path d="M12 50.5h39" stroke-dasharray="1 17 1 3 1 1 2 1 2 2 1 3 1 1 2 55"/><path d="M0 51.5h53" stroke-dasharray="1 1 1 3 1 7 2 1 1 5 4 6 1 13 1 2 1 1 1 55"/><path d="M2 52.5h51" stroke-dasharray="1 3 1 1 1 2 1 9 2 11 1 2 2 1 1 10 2 55"/><path d="M0 53.5h47" stroke-dasharray="3 3 1 5 1 5 2 8 1 6 1 1 1 1 1 3 2 1 1 55"/><path d="M16 54.5h35" stroke-dasharray="1 1 1 10 1 2 2 1 1 9 1 4 1 55"/></g>
<g stroke="#5452b6" fill="none"><path d="M10 0.5h39" stroke-dasharray="1 14 2 19 1 1 1 55"/><path d="M15 1.5h29" stroke-dasharray="1 16 1 1 1 8 1 55"/><path d="M4 2.5h35" stroke-dasharray="1 11 1 4 1 5 1 2 1 5 1 1 1 55"/><path d="M11 3.5h27" stroke-dasharray="1 1 1 23 1 55"/><path d="M6 4.5h21" stroke-dasharray="1 19 1 55"/><path d="M1 5.5h45" stroke-dasharray="1 34 1 7 2 55"/><path d="M2 6.5h50" stroke-dasharray="1 7 1 7 1 17 1 1 1 1 1 10 1 55"/><path d="M2 7.5h42" stroke-dasharray="1 4 1 4 1 2 1 2 1 19 1 4 1 55"/><path d="M1 8.5h54" stroke-dasharray="4 23 1 4 1 9 1 9 2 55"/><path d="M37 9.5h1" stroke-dasharray="1 55"/><path d="M3 10.5h24" stroke-dasharray="1 5 1 1 1 14 1 55"/><path d="M16 11.5h29" stroke-dasharray="1 1 1 6 1 5 2 1 1 8 2 55"/><path d="M21 12.5h19" stroke-dasharray="1 1 1 8 1 6 1 55"/><path d="M9 13.5h39" stroke-dasharray="1 7 1 10 1 18 1 55"/><path d="M2 14.5h52" stroke-dasharray="1 14 1 6 1 24 1 2 2 55"/><path d="M2 15.5h40" stroke-dasharray="1 1 1 1 1 34 1 55"/><path d="M1 16.5h45" stroke-dasharray="1 16 1 22 1 2 2 55"/><path d="M36 17.5h15" stroke-dasharray="1 8 1 1 1 2 1 55"/><path d="M21 18.5h19" stroke-dasharray="2 12 1 3 1 55"/><path d="M2 19.5h53" stroke-dasharray="1 5 1 3 1 6 2 14 1 5 1 5 1 4 1 1 1 55"/><path d="M20 20.5h1" stroke-dasharray="1 55"/><path d="M5 21.5h42" stroke-dasharray="1 2 2 6 1 13 1 15 1 55"/><path d="M11 22.5h18" stroke-dasharray="2 15 1 55"/><path d="M10 23.5h32" stroke-dasharray="1 12 2 5 1 10 1 55"/><path d="M9 24.5h34" stroke-dasharray="1 17 1 6 1 7 1 55"/><path d="M14 25.5h35" stroke-dasharray="2 21 1 10 1 55"/><path d="M2 26.5h52" stroke-dasharray="1 4 1 6 1 12 1 17 1 7 1 55"/><path d="M4 27.5h43" stroke-dasharray="1 3 1 9 1 9 1 8 1 8 1 55"/><path d="M2 28.5h48" stroke-dasharray="1 11 1 2 1 4 1 13 1 1 1 10 1 55"/><path d="M5 29.5h46" stroke-dasharray="1 16 1 27 1 55"/><path d="M26 30.5h29" stroke-dasharray="1 3 1 9 1 13 1 55"/><path d="M8 31.5h40" stroke-dasharray="1 18 1 7 1 3 1 7 1 55"/><path d="M3 32.5h52" stroke-dasharray="1 2 1 19 2 25 2 55"/><path d="M4 33.5h34" stroke-dasharray="1 1 1 1 1 15 1 12 1 55"/><path d="M2 34.5h43" stroke-dasharray="1 5 1 16 1 10 1 4 1 1 2 55"/><path d="M3 35.5h43" stroke-dasharray="1 8 1 18 1 1 1 1 1 9 1 55"/><path d="M0 36.5h54" stroke-dasharray="1 30 2 1 1 5 1 8 1 3 1 55"/><path d="M0 37.5h36" stroke-dasharray="1 4 1 29 1 55"/><path d="M0 38.5h48" stroke-dasharray="1 15 1 14 1 11 1 2 2 55"/><path d="M2 39.5h32" stroke-dasharray="1 13 1 5 1 10 1 55"/><path d="M0 40.5h34" stroke-dasharray="1 4 2 1 1 9 1 14 1 55"/><path d="M34 41.5h20" stroke-dasharray="1 1 1 16 1 55"/><path d="M11 42.5h38" stroke-dasharray="1 9 1 3 1 2 1 5 1 12 2 55"/><path d="M14 43.5h41" stroke-dasharray="1 11 1 21 1 5 1 55"/><path d="M6 44.5h43" stroke-dasharray="1 1 1 2 1 1 3 30 1 1 1 55"/><path d="M2 45.5h51" stroke-dasharray="1 22 2 1 1 23 1 55"/><path d="M10 46.5h37" stroke-dasharray="1 2 1 11 1 20 1 55"/><path d="M3 47.5h26" stroke-dasharray="1 6 1 2 1 2 1 4 1 3 1 1 2 55"/><path d="M11 48.5h37" stroke-dasharray="1 4 1 5 1 7 1 16 1 55"/><path d="M2 49.5h48" stroke-dasharray="1 18 1 3 1 6 1 8 2 1 1 4 1 55"/><path d="M3 50.5h44" stroke-dasharray="2 6 1 19 1 14 1 55"/><path d="M7 51.5h45" stroke-dasharray="1 20 1 11 1 1 1 8 1 55"/><path d="M3 52.5h43" stroke-dasharray="1 12 1 22 1 5 1 55"/><path d="M13 53.5h21" stroke-dasharray="1 3 1 11 1 3 1 55"/><path d="M3 54.5h32" stroke-dasharray="1 30 1 55"/></g>
<g stroke="#7878ce" fill="none"><path d="M11 0.5h42" stroke-dasharray="1 40 1 55"/><path d="M1 2.5h13" stroke-dasharray="1 11 1 55"/><path d="M20 3.5h30" stroke-dasharray="2 27 1 55"/><path d="M39 4.5h1" stroke-dasharray="1 55"/><path d="M0 5.5h35" stroke-dasharray="1 33 1 55"/><path d="M35 8.5h1" stroke-dasharray="1 55"/><path d="M4 9.5h23" stroke-dasharray="1 21 1 55"/><path d="M13 10.5h1" stroke-dasharray="1 55"/><path d="M51 12.5h1" stroke-dasharray="1 55"/><path d="M25 13.5h1" stroke-dasharray="1 55"/><path d="M1 14.5h38" stroke-dasharray="1 35 2 55"/><path d="M12 15.5h1" stroke-dasharray="1 55"/><path d="M6 17.5h43" stroke-dasharray="2 40 1 55"/><path d="M30 18.5h17" stroke-dasharray="1 15 1 55"/><path d="M3 19.5h38" stroke-dasharray="1 13 1 22 1 55"/><path d="M44 20.5h1" stroke-dasharray="1 55"/><path d="M25 21.5h1" stroke-dasharray="1 55"/><path d="M25 22.5h29" stroke-dasharray="1 24 1 1 2 55"/><path d="M4 23.5h23" stroke-dasharray="1 21 1 55"/><path d="M28 25.5h9" stroke-dasharray="1 7 1 55"/><path d="M39 26.5h1" stroke-dasharray="1 55"/><path d="M1 27.5h23" stroke-dasharray="1 8 1 12 1 55"/><path d="M54 28.5h1" stroke-dasharray="1 55"/><path d="M21 29.5h10" stroke-dasharray="1 8 1 55"/><path d="M2 30.5h23" stroke-dasharray="1 19 1 1 1 55"/><path d="M33 31.5h1" stroke-dasharray="1 55"/><path d="M13 34.5h34" stroke-dasharray="1 21 1 10 1 55"/><path d="M49 35.5h1" stroke-dasharray="1 55"/><path d="M15 36.5h22" stroke-dasharray="1 20 1 55"/><path d="M20 38.5h26" stroke-dasharray="1 24 1 55"/><path d="M3 39.5h34" stroke-dasharray="1 32 1 55"/><path d="M43 40.5h1" stroke-dasharray="1 55"/><path d="M1 41.5h29" stroke-dasharray="1 27 1 55"/><path d="M42 42.5h1" stroke-dasharray="1 55"/><path d="M0 43.5h43" stroke-dasharray="1 15 1 17 1 7 1 55"/><path d="M45 44.5h1" stroke-dasharray="1 55"/><path d="M36 47.5h1" stroke-dasharray="1 55"/><path d="M53 48.5h1" stroke-dasharray="1 55"/><path d="M0 49.5h1" stroke-dasharray="1 55"/><path d="M0 50.5h45" stroke-dasharray="1 37 1 5 1 55"/><path d="M4 51.5h36" stroke-dasharray="1 3 1 18 1 4 1 6 1 55"/><path d="M16 53.5h1" stroke-dasharray="1 55"/></g>
<g stroke="#a5a2de" fill="none"><path d="M0 0.5h39" stroke-dasharray="2 7 1 19 2 7 1 55"/><path d="M0 1.5h55" stroke-dasharray="1 20 1 25 1 6 1 55"/><path d="M19 2.5h6" stroke-dasharray="2 3 1 55"/><path d="M7 3.5h40" stroke-dasharray="1 7 1 13 1 4 1 9 3 55"/><path d="M27 4.5h3" stroke-dasharray="1 1 1 55"/><path d="M3 5.5h50" stroke-dasharray="1 34 3 11 1 55"/><path d="M22 6.5h28" stroke-dasharray="5 22 1 55"/><path d="M5 7.5h25" stroke-dasharray="1 3 1 6 1 5 5 2 1 55"/><path d="M24 8.5h27" stroke-dasharray="3 9 2 3 1 8 1 55"/><path d="M0 9.5h52" stroke-dasharray="1 35 1 13 2 55"/><path d="M0 10.5h52" stroke-dasharray="1 13 2 5 1 5 1 23 1 55"/><path d="M1 11.5h53" stroke-dasharray="2 7 1 1 1 8 2 10 1 4 1 9 1 4 1 55"/><path d="M2 12.5h53" stroke-dasharray="1 1 1 3 1 2 1 2 1 3 1 15 1 1 3 4 1 3 1 6 1 55"/><path d="M15 13.5h40" stroke-dasharray="1 15 2 21 1 55"/><path d="M0 14.5h16" stroke-dasharray="1 14 1 55"/><path d="M0 15.5h45" stroke-dasharray="1 8 2 4 2 4 2 4 2 15 1 55"/><path d="M6 16.5h38" stroke-dasharray="1 3 2 3 2 4 1 6 2 13 1 55"/><path d="M9 17.5h13" stroke-dasharray="3 4 1 1 1 2 1 55"/><path d="M3 18.5h51" stroke-dasharray="1 9 1 4 1 15 1 18 1 55"/><path d="M0 19.5h54" stroke-dasharray="1 14 1 12 1 2 1 6 2 3 1 9 1 55"/><path d="M0 20.5h54" stroke-dasharray="1 29 1 5 1 15 2 55"/><path d="M0 21.5h53" stroke-dasharray="1 16 1 15 1 1 2 15 1 55"/><path d="M0 22.5h50" stroke-dasharray="1 22 1 5 1 3 2 14 1 55"/><path d="M3 23.5h35" stroke-dasharray="1 12 1 10 1 1 1 7 1 55"/><path d="M10 24.5h28" stroke-dasharray="1 26 1 55"/><path d="M10 25.5h34" stroke-dasharray="1 8 1 23 1 55"/><path d="M10 26.5h35" stroke-dasharray="1 21 3 9 1 55"/><path d="M19 27.5h33" stroke-dasharray="1 10 1 3 1 10 1 5 1 55"/><path d="M11 28.5h43" stroke-dasharray="1 4 1 13 1 3 1 4 2 10 3 55"/><path d="M1 29.5h40" stroke-dasharray="1 8 1 9 1 2 1 14 1 1 1 55"/><path d="M0 30.5h38" stroke-dasharray="1 10 2 1 3 11 1 7 2 55"/><path d="M0 31.5h49" stroke-dasharray="1 4 1 5 1 1 1 2 1 12 2 12 2 3 1 55"/><path d="M0 32.5h53" stroke-dasharray="1 4 1 4 1 1 1 1 1 2 1 12 1 12 2 7 1 55"/><path d="M11 33.5h20" stroke-dasharray="2 17 1 55"/><path d="M17 34.5h34" stroke-dasharray="1 12 2 17 2 55"/><path d="M7 35.5h41" stroke-dasharray="2 9 5 17 1 6 1 55"/><path d="M5 36.5h50" stroke-dasharray="2 6 2 4 2 8 2 14 1 8 1 55"/><path d="M13 37.5h36" stroke-dasharray="1 4 1 10 2 17 1 55"/><path d="M12 38.5h41" stroke-dasharray="2 37 2 55"/><path d="M12 39.5h42" stroke-dasharray="4 13 1 23 1 55"/><path d="M12 40.5h42" stroke-dasharray="1 27 1 12 1 55"/><path d="M4 41.5h47" stroke-dasharray="1 1 1 12 1 10 1 1 1 17 1 55"/><path d="M6 42.5h34" stroke-dasharray="1 11 1 20 1 55"/><path d="M28 43.5h26" stroke-dasharray="1 2 1 7 1 5 1 7 1 55"/><path d="M1 44.5h53" stroke-dasharray="1 1 1 24 1 6 2 12 2 2 1 55"/><path d="M29 45.5h22" stroke-dasharray="2 14 2 2 2 55"/><path d="M11 46.5h35" stroke-dasharray="2 1 1 8 1 8 1 2 2 8 1 55"/><path d="M9 47.5h37" stroke-dasharray="1 8 3 2 1 8 2 1 1 9 1 55"/><path d="M20 48.5h35" stroke-dasharray="1 2 2 7 2 10 1 9 1 55"/><path d="M11 49.5h25" stroke-dasharray="3 2 1 6 1 9 1 1 1 55"/><path d="M35 50.5h18" stroke-dasharray="1 16 1 55"/><path d="M10 51.5h25" stroke-dasharray="1 9 1 13 1 55"/><path d="M7 52.5h42" stroke-dasharray="1 7 1 3 1 6 1 14 2 5 1 55"/><path d="M10 53.5h44" stroke-dasharray="2 3 1 4 2 3 1 10 1 4 2 2 1 1 3 3 1 55"/><path d="M1 54.5h48" stroke-dasharray="1 9 1 2 2 4 3 18 1 1 1 4 1 55"/></g>
<g stroke="#dad6f2" fill="none"><path d="M6 0.5h40" stroke-dasharray="1 1 1 11 1 24 1 55"/><path d="M20 1.5h18" stroke-dasharray="1 15 2 55"/><path d="M14 2.5h35" stroke-dasharray="2 16 1 15 1 55"/><path d="M0 3.5h36" stroke-dasharray="1 34 1 55"/><path d="M28 4.5h10" stroke-dasharray="1 1 1 6 1 55"/><path d="M27 5.5h11" stroke-dasharray="1 9 1 55"/><path d="M21 6.5h1" stroke-dasharray="1 55"/><path d="M8 7.5h44" stroke-dasharray="1 40 3 55"/><path d="M23 8.5h29" stroke-dasharray="1 7 1 19 1 55"/><path d="M25 9.5h14" stroke-dasharray="1 12 1 55"/><path d="M1 10.5h1" stroke-dasharray="1 55"/><path d="M39 11.5h9" stroke-dasharray="1 7 1 55"/><path d="M10 12.5h7" stroke-dasharray="1 4 2 55"/><path d="M14 13.5h1" stroke-dasharray="1 55"/><path d="M14 14.5h10" stroke-dasharray="1 7 2 55"/><path d="M15 17.5h24" stroke-dasharray="1 13 1 8 1 55"/><path d="M0 18.5h51" stroke-dasharray="1 3 1 7 1 2 1 15 1 1 1 16 1 55"/><path d="M4 19.5h33" stroke-dasharray="2 24 1 3 1 1 1 55"/><path d="M17 20.5h35" stroke-dasharray="1 13 1 9 1 9 1 55"/><path d="M17 22.5h8" stroke-dasharray="1 1 2 3 1 55"/><path d="M14 23.5h21" stroke-dasharray="2 1 1 2 1 13 1 55"/><path d="M19 24.5h5" stroke-dasharray="1 3 1 55"/><path d="M25 25.5h1" stroke-dasharray="1 55"/><path d="M8 26.5h1" stroke-dasharray="1 55"/><path d="M11 27.5h30" stroke-dasharray="1 21 1 6 1 55"/><path d="M39 29.5h13" stroke-dasharray="1 4 1 6 1 55"/><path d="M1 30.5h46" stroke-dasharray="1 8 1 18 1 14 1 1 1 55"/><path d="M12 31.5h6" stroke-dasharray="1 4 1 55"/><path d="M11 32.5h19" stroke-dasharray="1 17 1 55"/><path d="M0 33.5h18" stroke-dasharray="1 9 1 2 1 3 1 55"/><path d="M0 34.5h34" stroke-dasharray="1 32 1 55"/><path d="M14 35.5h38" stroke-dasharray="1 14 1 9 1 6 1 4 1 55"/><path d="M7 36.5h1" stroke-dasharray="1 55"/><path d="M8 37.5h33" stroke-dasharray="1 3 1 1 1 25 1 55"/><path d="M2 38.5h52" stroke-dasharray="1 11 2 34 1 2 1 55"/><path d="M52 39.5h1" stroke-dasharray="1 55"/><path d="M23 40.5h32" stroke-dasharray="1 30 1 55"/><path d="M7 41.5h31" stroke-dasharray="1 17 1 11 1 55"/><path d="M45 42.5h1" stroke-dasharray="1 55"/><path d="M31 44.5h1" stroke-dasharray="1 55"/><path d="M33 46.5h2" stroke-dasharray="2 55"/><path d="M34 47.5h5" stroke-dasharray="1 3 1 55"/><path d="M3 48.5h44" stroke-dasharray="3 15 1 24 1 55"/><path d="M24 49.5h25" stroke-dasharray="1 23 1 55"/><path d="M15 50.5h34" stroke-dasharray="1 8 1 23 1 55"/><path d="M10 52.5h16" stroke-dasharray="1 14 1 55"/><path d="M26 53.5h1" stroke-dasharray="1 55"/><path d="M0 54.5h45" stroke-dasharray="1 16 1 5 1 12 1 5 1 1 1 55"/></g>
<g stroke="#d42876" fill="none"><path d="M2 0.5h53" stroke-dasharray="1 14 2 2 1 32 1 55"/><path d="M3 1.5h29" stroke-dasharray="1 5 1 21 1 55"/><path d="M9 2.5h45" stroke-dasharray="1 2 1 5 1 10 1 23 1 55"/><path d="M12 3.5h41" stroke-dasharray="1 4 1 7 1 2 1 23 1 55"/><path d="M16 4.5h26" stroke-dasharray="1 7 2 6 1 5 1 2 1 55"/><path d="M7 5.5h25" stroke-dasharray="1 3 1 19 1 55"/><path d="M5 6.5h43" stroke-dasharray="1 1 1 22 1 6 1 6 4 55"/><path d="M11 7.5h11" stroke-dasharray="1 5 1 3 1 55"/><path d="M6 8.5h40" stroke-dasharray="2 2 1 5 3 1 1 8 1 15 1 55"/><path d="M6 9.5h43" stroke-dasharray="1 5 1 27 1 4 2 1 1 55"/><path d="M2 10.5h49" stroke-dasharray="1 21 1 6 1 1 1 5 1 1 1 2 2 3 2 55"/><path d="M11 11.5h42" stroke-dasharray="1 12 1 12 1 14 1 55"/><path d="M1 12.5h35" stroke-dasharray="1 4 1 5 2 15 1 5 1 55"/><path d="M3 13.5h46" stroke-dasharray="1 2 1 3 1 1 1 3 1 3 1 12 1 8 1 1 1 3 1 55"/><path d="M10 14.5h34" stroke-dasharray="1 5 1 2 1 6 1 16 1 55"/><path d="M20 15.5h35" stroke-dasharray="1 11 1 16 2 3 1 55"/><path d="M24 16.5h30" stroke-dasharray="3 5 1 16 1 3 1 55"/><path d="M8 17.5h36" stroke-dasharray="1 5 1 18 1 9 1 55"/><path d="M10 18.5h34" stroke-dasharray="1 16 1 10 1 4 1 55"/><path d="M9 19.5h42" stroke-dasharray="2 13 1 1 2 14 1 6 2 55"/><path d="M4 20.5h46" stroke-dasharray="1 10 1 3 1 18 2 2 1 4 1 1 1 55"/><path d="M23 21.5h29" stroke-dasharray="1 2 2 1 1 4 1 2 1 2 1 6 1 3 1 55"/><path d="M10 22.5h31" stroke-dasharray="1 7 1 2 1 17 2 55"/><path d="M0 23.5h39" stroke-dasharray="1 6 2 2 2 8 1 3 1 9 1 2 1 55"/><path d="M0 24.5h52" stroke-dasharray="2 6 1 5 1 6 1 14 1 1 1 12 1 55"/><path d="M11 25.5h21" stroke-dasharray="1 11 1 7 1 55"/><path d="M19 26.5h33" stroke-dasharray="1 11 1 18 2 55"/><path d="M16 27.5h27" stroke-dasharray="1 14 1 10 1 55"/><path d="M9 28.5h35" stroke-dasharray="1 9 1 6 1 2 1 1 1 11 1 55"/><path d="M9 29.5h38" stroke-dasharray="1 9 1 8 1 17 1 55"/><path d="M13 30.5h38" stroke-dasharray="1 7 1 5 1 3 1 15 1 2 1 55"/><path d="M18 31.5h33" stroke-dasharray="1 31 1 55"/><path d="M9 32.5h13" stroke-dasharray="1 5 1 3 1 1 1 55"/><path d="M9 33.5h42" stroke-dasharray="1 5 1 16 1 13 2 2 1 55"/><path d="M10 34.5h31" stroke-dasharray="1 5 1 1 1 19 3 55"/><path d="M5 35.5h13" stroke-dasharray="1 11 1 55"/><path d="M10 36.5h17" stroke-dasharray="1 6 1 8 1 55"/><path d="M2 37.5h41" stroke-dasharray="3 6 1 30 1 55"/><path d="M3 38.5h47" stroke-dasharray="1 7 1 13 1 6 1 6 1 9 1 55"/><path d="M32 39.5h8" stroke-dasharray="1 6 1 55"/><path d="M7 40.5h40" stroke-dasharray="1 7 1 4 1 7 3 13 1 1 1 55"/><path d="M21 41.5h19" stroke-dasharray="1 17 1 55"/><path d="M12 42.5h20" stroke-dasharray="1 6 1 11 1 55"/><path d="M1 43.5h41" stroke-dasharray="1 1 1 8 2 9 1 5 1 11 1 55"/><path d="M4 44.5h38" stroke-dasharray="2 6 1 11 1 4 1 11 1 55"/><path d="M18 45.5h25" stroke-dasharray="1 3 1 19 1 55"/><path d="M16 46.5h35" stroke-dasharray="3 5 1 6 1 9 2 7 1 55"/><path d="M12 47.5h40" stroke-dasharray="1 18 1 11 1 7 1 55"/><path d="M26 48.5h20" stroke-dasharray="1 7 1 2 1 7 1 55"/><path d="M10 49.5h36" stroke-dasharray="1 3 2 1 2 3 1 3 1 18 1 55"/><path d="M10 50.5h24" stroke-dasharray="1 2 1 2 6 5 1 5 1 55"/><path d="M9 51.5h35" stroke-dasharray="1 8 1 2 1 9 1 3 1 7 1 55"/><path d="M9 52.5h41" stroke-dasharray="1 39 1 55"/><path d="M7 53.5h48" stroke-dasharray="1 14 3 6 2 5 1 11 1 1 1 1 1 55"/><path d="M5 54.5h48" stroke-dasharray="1 18 1 1 2 2 1 7 2 9 1 1 2 55"/></g>
<g stroke="#b83a94" fill="none"><path d="M5 0.5h33" stroke-dasharray="1 18 1 3 1 8 1 55"/><path d="M8 1.5h21" stroke-dasharray="1 14 1 4 1 55"/><path d="M7 2.5h44" stroke-dasharray="1 42 1 55"/><path d="M14 3.5h38" stroke-dasharray="1 1 1 14 1 19 1 55"/><path d="M11 4.5h42" stroke-dasharray="1 5 1 13 1 1 1 16 1 1 1 55"/><path d="M8 5.5h39" stroke-dasharray="1 11 2 3 2 2 2 15 1 55"/><path d="M6 6.5h1" stroke-dasharray="1 55"/><path d="M6 7.5h41" stroke-dasharray="1 3 1 33 3 55"/><path d="M0 8.5h47" stroke-dasharray="1 11 1 6 1 26 1 55"/><path d="M1 9.5h47" stroke-dasharray="1 6 1 6 4 22 4 2 1 55"/><path d="M5 10.5h44" stroke-dasharray="1 17 1 22 3 55"/><path d="M42 11.5h13" stroke-dasharray="1 2 2 2 1 4 1 55"/><path d="M27 12.5h24" stroke-dasharray="1 17 1 4 1 55"/><path d="M7 13.5h16" stroke-dasharray="1 3 1 7 1 2 1 55"/><path d="M9 14.5h36" stroke-dasharray="1 1 2 8 1 22 1 55"/><path d="M18 15.5h35" stroke-dasharray="1 26 1 5 2 55"/><path d="M2 16.5h36" stroke-dasharray="2 4 1 4 1 19 1 3 1 55"/><path d="M0 17.5h50" stroke-dasharray="1 16 1 14 1 4 1 11 1 55"/><path d="M11 18.5h39" stroke-dasharray="1 25 1 4 1 6 1 55"/><path d="M23 19.5h1" stroke-dasharray="1 55"/><path d="M3 20.5h48" stroke-dasharray="1 6 1 7 1 3 1 4 1 12 1 9 1 55"/><path d="M10 21.5h39" stroke-dasharray="2 9 1 16 2 8 1 55"/><path d="M14 22.5h25" stroke-dasharray="1 11 1 4 1 6 1 55"/><path d="M13 23.5h24" stroke-dasharray="1 22 1 55"/><path d="M2 24.5h31" stroke-dasharray="1 29 1 55"/><path d="M0 25.5h52" stroke-dasharray="2 32 1 16 1 55"/><path d="M5 26.5h21" stroke-dasharray="1 14 4 1 1 55"/><path d="M22 27.5h23" stroke-dasharray="1 20 2 55"/><path d="M28 28.5h17" stroke-dasharray="1 15 1 55"/><path d="M15 29.5h29" stroke-dasharray="2 1 1 10 1 1 1 11 1 55"/><path d="M9 31.5h7" stroke-dasharray="1 5 1 55"/><path d="M16 32.5h35" stroke-dasharray="1 1 1 12 1 1 2 15 1 55"/><path d="M16 33.5h18" stroke-dasharray="1 1 1 1 1 12 1 55"/><path d="M6 34.5h43" stroke-dasharray="2 1 1 1 1 7 1 27 2 55"/><path d="M6 35.5h25" stroke-dasharray="1 3 1 16 1 2 1 55"/><path d="M12 36.5h28" stroke-dasharray="1 14 2 10 1 55"/><path d="M24 37.5h27" stroke-dasharray="1 25 1 55"/><path d="M24 38.5h18" stroke-dasharray="1 16 1 55"/><path d="M31 39.5h13" stroke-dasharray="1 9 1 1 1 55"/><path d="M21 40.5h21" stroke-dasharray="1 17 1 1 1 55"/><path d="M15 41.5h30" stroke-dasharray="1 2 1 3 1 17 1 3 1 55"/><path d="M16 42.5h21" stroke-dasharray="2 18 1 55"/><path d="M2 43.5h49" stroke-dasharray="1 2 2 12 1 20 1 9 1 55"/><path d="M0 44.5h43" stroke-dasharray="1 22 1 18 1 55"/><path d="M16 45.5h16" stroke-dasharray="1 7 1 6 1 55"/><path d="M43 46.5h7" stroke-dasharray="1 4 2 55"/><path d="M30 47.5h23" stroke-dasharray="1 10 2 1 1 4 1 2 1 55"/><path d="M17 48.5h36" stroke-dasharray="2 33 1 55"/><path d="M27 49.5h20" stroke-dasharray="1 2 1 5 1 9 1 55"/><path d="M1 50.5h9" stroke-dasharray="1 5 1 1 1 55"/><path d="M1 51.5h19" stroke-dasharray="1 9 1 7 1 55"/><path d="M20 52.5h34" stroke-dasharray="1 32 1 55"/><path d="M8 54.5h47" stroke-dasharray="1 1 1 14 1 5 1 15 1 6 1 55"/></g>
<g stroke="#de6eaa" fill="none"><path d="M16 0.5h1" stroke-dasharray="1 55"/><path d="M5 1.5h1" stroke-dasharray="1 55"/><path d="M8 2.5h38" stroke-dasharray="1 1 1 34 1 55"/><path d="M9 3.5h1" stroke-dasharray="1 55"/><path d="M9 4.5h43" stroke-dasharray="1 2 1 38 1 55"/><path d="M23 5.5h10" stroke-dasharray="2 7 1 55"/><path d="M30 7.5h1" stroke-dasharray="1 55"/><path d="M15 8.5h28" stroke-dasharray="1 26 1 55"/><path d="M29 9.5h1" stroke-dasharray="1 55"/><path d="M42 10.5h1" stroke-dasharray="1 55"/><path d="M36 11.5h1" stroke-dasharray="1 55"/><path d="M34 13.5h1" stroke-dasharray="1 55"/><path d="M29 19.5h1" stroke-dasharray="1 55"/><path d="M16 20.5h33" stroke-dasharray="1 20 1 10 1 55"/><path d="M20 21.5h3" stroke-dasharray="1 1 1 55"/><path d="M51 22.5h1" stroke-dasharray="1 55"/><path d="M7 24.5h27" stroke-dasharray="1 25 1 55"/><path d="M5 25.5h16" stroke-dasharray="1 14 1 55"/><path d="M53 27.5h1" stroke-dasharray="1 55"/><path d="M27 28.5h19" stroke-dasharray="1 4 1 12 1 55"/><path d="M14 29.5h39" stroke-dasharray="1 2 1 27 1 6 1 55"/><path d="M32 32.5h1" stroke-dasharray="1 55"/><path d="M38 33.5h1" stroke-dasharray="1 55"/><path d="M37 34.5h15" stroke-dasharray="1 13 1 55"/><path d="M44 36.5h1" stroke-dasharray="1 55"/><path d="M4 39.5h1" stroke-dasharray="1 55"/><path d="M44 42.5h1" stroke-dasharray="1 55"/><path d="M4 43.5h1" stroke-dasharray="1 55"/><path d="M23 45.5h1" stroke-dasharray="1 55"/><path d="M24 47.5h1" stroke-dasharray="1 55"/><path d="M10 48.5h3" stroke-dasharray="1 1 1 55"/><path d="M34 49.5h1" stroke-dasharray="1 55"/><path d="M8 50.5h25" stroke-dasharray="1 23 1 55"/><path d="M31 52.5h1" stroke-dasharray="1 55"/><path d="M8 53.5h44" stroke-dasharray="1 21 1 20 1 55"/><path d="M12 54.5h1" stroke-dasharray="1 55"/></g>
<g stroke="#7a3c9e" fill="none"><path d="M3 0.5h32" stroke-dasharray="1 15 1 14 1 55"/><path d="M2 1.5h9" stroke-dasharray="1 7 1 55"/><path d="M6 2.5h47" stroke-dasharray="1 4 1 39 2 55"/><path d="M8 3.5h43" stroke-dasharray="1 15 1 25 1 55"/><path d="M10 4.5h14" stroke-dasharray="1 12 1 55"/><path d="M4 5.5h25" stroke-dasharray="1 10 1 6 1 5 1 55"/><path d="M29 6.5h1" stroke-dasharray="1 55"/><path d="M0 7.5h1" stroke-dasharray="1 55"/><path d="M11 8.5h1" stroke-dasharray="1 55"/><path d="M5 9.5h45" stroke-dasharray="1 17 1 15 1 9 1 55"/><path d="M6 10.5h38" stroke-dasharray="1 1 1 25 1 2 1 2 1 2 1 55"/><path d="M0 12.5h45" stroke-dasharray="1 27 1 13 1 1 1 55"/><path d="M13 13.5h33" stroke-dasharray="1 7 1 21 1 1 1 55"/><path d="M20 14.5h13" stroke-dasharray="1 4 1 6 1 55"/><path d="M19 15.5h35" stroke-dasharray="1 4 3 26 1 55"/><path d="M38 16.5h1" stroke-dasharray="1 55"/><path d="M13 17.5h1" stroke-dasharray="1 55"/><path d="M9 18.5h1" stroke-dasharray="1 55"/><path d="M37 19.5h8" stroke-dasharray="1 6 1 55"/><path d="M21 20.5h9" stroke-dasharray="1 1 1 4 2 55"/><path d="M1 21.5h50" stroke-dasharray="1 1 1 14 2 4 1 25 1 55"/><path d="M15 22.5h23" stroke-dasharray="1 6 1 4 1 8 2 55"/><path d="M18 23.5h1" stroke-dasharray="1 55"/><path d="M11 24.5h25" stroke-dasharray="1 1 1 10 2 9 1 55"/><path d="M21 25.5h13" stroke-dasharray="2 1 1 7 2 55"/><path d="M24 26.5h1" stroke-dasharray="1 55"/><path d="M5 27.5h28" stroke-dasharray="1 26 1 55"/><path d="M5 28.5h1" stroke-dasharray="1 55"/><path d="M8 29.5h20" stroke-dasharray="1 4 1 13 1 55"/><path d="M18 30.5h32" stroke-dasharray="1 1 1 27 2 55"/><path d="M21 31.5h31" stroke-dasharray="1 27 1 1 1 55"/><path d="M20 32.5h32" stroke-dasharray="1 30 1 55"/><path d="M3 33.5h50" stroke-dasharray="1 15 1 14 2 3 1 11 2 55"/><path d="M48 35.5h1" stroke-dasharray="1 55"/><path d="M3 36.5h16" stroke-dasharray="1 14 1 55"/><path d="M17 37.5h35" stroke-dasharray="1 10 1 10 1 1 1 2 1 4 1 1 1 55"/><path d="M38 38.5h1" stroke-dasharray="1 55"/><path d="M38 39.5h3" stroke-dasharray="1 1 1 55"/><path d="M10 40.5h29" stroke-dasharray="1 5 1 21 1 55"/><path d="M16 41.5h31" stroke-dasharray="1 21 1 6 2 55"/><path d="M2 42.5h36" stroke-dasharray="1 19 1 14 1 55"/><path d="M22 43.5h31" stroke-dasharray="1 26 1 1 2 55"/><path d="M16 44.5h39" stroke-dasharray="1 4 2 31 1 55"/><path d="M11 45.5h2" stroke-dasharray="2 55"/><path d="M30 46.5h1" stroke-dasharray="1 55"/><path d="M17 47.5h34" stroke-dasharray="1 32 1 55"/><path d="M41 48.5h1" stroke-dasharray="1 55"/><path d="M7 49.5h46" stroke-dasharray="2 28 1 14 1 55"/><path d="M14 50.5h13" stroke-dasharray="1 11 1 55"/><path d="M44 51.5h6" stroke-dasharray="1 4 1 55"/><path d="M0 52.5h55" stroke-dasharray="1 3 1 18 1 6 1 19 1 3 1 55"/><path d="M4 53.5h1" stroke-dasharray="1 55"/><path d="M7 54.5h47" stroke-dasharray="1 45 1 55"/></g>
</g>
<rect x="270.5" y="273" width="6" height="8" fill="none" stroke="#e6e4f2" stroke-width="2"/>
<line x1="255.0" y1="262.0" x2="262.0" y2="300.0" stroke="#d0cee8" stroke-width="2.0" stroke-linecap="round" opacity="0.40"/>
<line x1="289.0" y1="276.0" x2="291.0" y2="284.0" stroke="#d0cee8" stroke-width="3.0" stroke-linecap="round" opacity="0.40"/>
<rect x="251.30" y="248.90" width="55.10" height="1.1" fill="#ecebf6"/>
<rect x="250.80" y="248.90" width="1.1" height="54.70" fill="#ecebf6"/>
<rect x="171" y="294.7" width="54" height="1.1" fill="#ecebf6"/>
<rect x="276" y="297.5" width="27" height="1.1" fill="#ecebf6"/></g><path d="M59 278.5 Q69 274 80 271.5" stroke="#000" stroke-width="1.1" fill="none"/>
<polygon points="43.00,189.30 43.71,191.02 45.57,191.17 44.16,192.38 44.59,194.18 43.00,193.22 41.41,194.18 41.84,192.38 40.43,191.17 42.29,191.02" fill="#111"/>
<polygon points="82.00,225.30 82.71,227.02 84.57,227.17 83.16,228.38 83.59,230.18 82.00,229.22 80.41,230.18 80.84,228.38 79.43,227.17 81.29,227.02" fill="#111"/>
<polygon points="57.00,286.30 57.71,288.02 59.57,288.17 58.16,289.38 58.59,291.18 57.00,290.21 55.41,291.18 55.84,289.38 54.43,288.17 56.29,288.02" fill="#111"/>
<polygon points="191.00,262.30 191.71,264.02 193.57,264.17 192.16,265.38 192.59,267.18 191.00,266.21 189.41,267.18 189.84,265.38 188.43,264.17 190.29,264.02" fill="#111"/>
<polygon points="260.00,234.30 260.71,236.02 262.57,236.17 261.16,237.38 261.59,239.18 260.00,238.22 258.41,239.18 258.84,237.38 257.43,236.17 259.29,236.02" fill="#111"/>
<line x1="394.10" y1="192.50" x2="394.10" y2="269.70" stroke="#000" stroke-width="1.40"/>
<line x1="393.40" y1="269.00" x2="510.00" y2="269.00" stroke="#000" stroke-width="1.40"/>
<line x1="389.90" y1="269.00" x2="394.10" y2="269.00" stroke="#000" stroke-width="1.20"/>
<line x1="389.90" y1="254.92" x2="394.10" y2="254.92" stroke="#000" stroke-width="1.20"/>
<line x1="389.90" y1="240.84" x2="394.10" y2="240.84" stroke="#000" stroke-width="1.20"/>
<line x1="389.90" y1="226.76" x2="394.10" y2="226.76" stroke="#000" stroke-width="1.20"/>
<line x1="389.90" y1="212.68" x2="394.10" y2="212.68" stroke="#000" stroke-width="1.20"/>
<line x1="389.90" y1="198.60" x2="394.10" y2="198.60" stroke="#000" stroke-width="1.20"/>
<line x1="426.30" y1="269.00" x2="426.30" y2="273.20" stroke="#000" stroke-width="1.20"/>
<line x1="475.70" y1="269.00" x2="475.70" y2="273.20" stroke="#000" stroke-width="1.20"/>
<line x1="487.71" y1="280.11" x2="491.72" y2="280.11" stroke="#000" stroke-width="0.97"/>
<line x1="492.13" y1="282.69" x2="494.69" y2="277.04" stroke="#000" stroke-width="0.88"/>
<line x1="495.21" y1="280.21" x2="498.90" y2="280.21" stroke="#000" stroke-width="0.97"/>
<circle cx="426.20" cy="213.00" r="1.90" fill="#c8102e"/>
<circle cx="412.50" cy="227.00" r="1.90" fill="#c8102e"/>
<circle cx="418.00" cy="227.00" r="1.90" fill="#c8102e"/>
<circle cx="423.50" cy="227.00" r="1.90" fill="#c8102e"/>
<circle cx="429.00" cy="227.00" r="1.90" fill="#c8102e"/>
<circle cx="434.50" cy="227.00" r="1.90" fill="#c8102e"/>
<circle cx="440.00" cy="227.00" r="1.90" fill="#c8102e"/>
<circle cx="416.20" cy="241.20" r="1.90" fill="#c8102e"/>
<circle cx="422.80" cy="241.20" r="1.90" fill="#c8102e"/>
<circle cx="429.50" cy="241.20" r="1.90" fill="#c8102e"/>
<circle cx="436.20" cy="241.20" r="1.90" fill="#c8102e"/>
<line x1="426.20" y1="221.70" x2="426.20" y2="240.00" stroke="#000" stroke-width="1.30"/>
<line x1="417.95" y1="221.70" x2="434.45" y2="221.70" stroke="#000" stroke-width="1.30"/>
<line x1="417.95" y1="240.00" x2="434.45" y2="240.00" stroke="#000" stroke-width="1.30"/>
<line x1="409.80" y1="231.20" x2="442.60" y2="231.20" stroke="#000" stroke-width="1.30"/>
<circle cx="462.70" cy="212.90" r="1.90" fill="#175089"/>
<circle cx="469.10" cy="212.90" r="1.90" fill="#175089"/>
<circle cx="475.70" cy="212.90" r="1.90" fill="#175089"/>
<circle cx="482.30" cy="212.90" r="1.90" fill="#175089"/>
<circle cx="488.80" cy="212.90" r="1.90" fill="#175089"/>
<circle cx="469.10" cy="227.20" r="1.90" fill="#175089"/>
<circle cx="475.70" cy="227.20" r="1.90" fill="#175089"/>
<circle cx="482.30" cy="227.20" r="1.90" fill="#175089"/>
<circle cx="472.60" cy="241.50" r="1.90" fill="#175089"/>
<circle cx="479.20" cy="241.50" r="1.90" fill="#175089"/>
<circle cx="475.70" cy="255.40" r="1.90" fill="#175089"/>
<line x1="475.70" y1="210.80" x2="475.70" y2="239.70" stroke="#000" stroke-width="1.30"/>
<line x1="467.80" y1="210.80" x2="483.60" y2="210.80" stroke="#000" stroke-width="1.30"/>
<line x1="467.80" y1="239.70" x2="483.60" y2="239.70" stroke="#000" stroke-width="1.30"/>
<line x1="459.65" y1="225.80" x2="491.75" y2="225.80" stroke="#000" stroke-width="1.30"/>
<line x1="56.80" y1="344.00" x2="56.80" y2="430.70" stroke="#000" stroke-width="1.40"/>
<line x1="56.10" y1="430.00" x2="163.70" y2="430.00" stroke="#000" stroke-width="1.40"/>
<line x1="52.60" y1="430.00" x2="56.80" y2="430.00" stroke="#000" stroke-width="1.20"/>
<line x1="52.60" y1="414.00" x2="56.80" y2="414.00" stroke="#000" stroke-width="1.20"/>
<line x1="52.60" y1="398.00" x2="56.80" y2="398.00" stroke="#000" stroke-width="1.20"/>
<line x1="52.60" y1="382.00" x2="56.80" y2="382.00" stroke="#000" stroke-width="1.20"/>
<line x1="52.60" y1="366.00" x2="56.80" y2="366.00" stroke="#000" stroke-width="1.20"/>
<line x1="52.60" y1="350.00" x2="56.80" y2="350.00" stroke="#000" stroke-width="1.20"/>
<line x1="82.80" y1="430.00" x2="82.80" y2="434.20" stroke="#000" stroke-width="1.20"/>
<line x1="137.60" y1="430.00" x2="137.60" y2="434.20" stroke="#000" stroke-width="1.20"/>
<rect x="65.50" y="415.00" width="16.20" height="15.00" fill="#c81634" stroke="#c00022" stroke-width="1"/>
<rect x="84.70" y="418.50" width="15.80" height="11.50" fill="#165188" stroke="#084580" stroke-width="1"/>
<rect x="119.80" y="369.00" width="16.30" height="61.00" fill="#c81634" stroke="#c00022" stroke-width="1"/>
<rect x="138.80" y="389.40" width="16.10" height="40.60" fill="#165188" stroke="#084580" stroke-width="1"/>
<line x1="73.70" y1="412.50" x2="73.70" y2="414.50" stroke="#000" stroke-width="1.30"/>
<line x1="69.55" y1="412.50" x2="77.85" y2="412.50" stroke="#000" stroke-width="1.30"/>
<line x1="92.70" y1="415.70" x2="92.70" y2="418.00" stroke="#000" stroke-width="1.30"/>
<line x1="88.55" y1="415.70" x2="96.85" y2="415.70" stroke="#000" stroke-width="1.30"/>
<line x1="128.00" y1="358.80" x2="128.00" y2="368.50" stroke="#000" stroke-width="1.30"/>
<line x1="123.70" y1="358.80" x2="132.30" y2="358.80" stroke="#000" stroke-width="1.30"/>
<line x1="146.70" y1="386.40" x2="146.70" y2="388.90" stroke="#000" stroke-width="1.30"/>
<line x1="142.60" y1="386.40" x2="150.80" y2="386.40" stroke="#000" stroke-width="1.30"/>
<rect x="71.00" y="458.30" width="7.20" height="6.60" fill="#c8102e"/>
<rect x="104.00" y="458.30" width="7.30" height="6.60" fill="#175089"/>
<line x1="139.48" y1="458.42" x2="143.25" y2="458.42" stroke="#000" stroke-width="0.92"/>
<line x1="143.63" y1="461.05" x2="146.04" y2="455.74" stroke="#000" stroke-width="0.82"/>
<line x1="146.53" y1="458.52" x2="150.00" y2="458.52" stroke="#000" stroke-width="0.92"/>
<line x1="236.50" y1="345.00" x2="236.50" y2="430.70" stroke="#000" stroke-width="1.40"/>
<line x1="235.80" y1="430.00" x2="327.00" y2="430.00" stroke="#000" stroke-width="1.40"/>
<line x1="232.30" y1="430.00" x2="236.50" y2="430.00" stroke="#000" stroke-width="1.20"/>
<line x1="232.30" y1="414.20" x2="236.50" y2="414.20" stroke="#000" stroke-width="1.20"/>
<line x1="232.30" y1="398.40" x2="236.50" y2="398.40" stroke="#000" stroke-width="1.20"/>
<line x1="232.30" y1="382.60" x2="236.50" y2="382.60" stroke="#000" stroke-width="1.20"/>
<line x1="232.30" y1="366.80" x2="236.50" y2="366.80" stroke="#000" stroke-width="1.20"/>
<line x1="232.30" y1="351.00" x2="236.50" y2="351.00" stroke="#000" stroke-width="1.20"/>
<line x1="260.40" y1="430.00" x2="260.40" y2="434.20" stroke="#000" stroke-width="1.20"/>
<line x1="301.40" y1="430.00" x2="301.40" y2="434.20" stroke="#000" stroke-width="1.20"/>
<rect x="252.50" y="370.50" width="16.00" height="59.50" fill="#c81634" stroke="#c00022" stroke-width="1"/>
<rect x="293.10" y="381.50" width="16.00" height="48.50" fill="#165188" stroke="#084580" stroke-width="1"/>
<line x1="260.50" y1="366.00" x2="260.50" y2="370.00" stroke="#000" stroke-width="1.30"/>
<line x1="256.00" y1="366.00" x2="265.00" y2="366.00" stroke="#000" stroke-width="1.30"/>
<line x1="301.10" y1="374.40" x2="301.10" y2="381.00" stroke="#000" stroke-width="1.30"/>
<line x1="296.90" y1="374.40" x2="305.30" y2="374.40" stroke="#000" stroke-width="1.30"/>
<line x1="313.21" y1="441.11" x2="317.22" y2="441.11" stroke="#000" stroke-width="0.97"/>
<line x1="317.63" y1="443.69" x2="320.19" y2="438.04" stroke="#000" stroke-width="0.88"/>
<line x1="320.71" y1="441.21" x2="324.40" y2="441.21" stroke="#000" stroke-width="0.97"/>
<line x1="394.10" y1="352.00" x2="394.10" y2="431.20" stroke="#000" stroke-width="1.40"/>
<line x1="393.40" y1="430.50" x2="510.40" y2="430.50" stroke="#000" stroke-width="1.40"/>
<line x1="389.90" y1="430.50" x2="394.10" y2="430.50" stroke="#000" stroke-width="1.20"/>
<line x1="389.90" y1="406.35" x2="394.10" y2="406.35" stroke="#000" stroke-width="1.20"/>
<line x1="389.90" y1="382.20" x2="394.10" y2="382.20" stroke="#000" stroke-width="1.20"/>
<line x1="389.90" y1="358.05" x2="394.10" y2="358.05" stroke="#000" stroke-width="1.20"/>
<line x1="426.20" y1="430.50" x2="426.20" y2="434.70" stroke="#000" stroke-width="1.20"/>
<line x1="475.80" y1="430.50" x2="475.80" y2="434.70" stroke="#000" stroke-width="1.20"/>
<line x1="487.81" y1="441.11" x2="491.82" y2="441.11" stroke="#000" stroke-width="0.97"/>
<line x1="492.23" y1="443.69" x2="494.79" y2="438.04" stroke="#000" stroke-width="0.88"/>
<line x1="495.31" y1="441.21" x2="499.00" y2="441.21" stroke="#000" stroke-width="0.97"/>
<circle cx="412.80" cy="401.50" r="1.90" fill="#c8102e"/>
<circle cx="419.50" cy="401.50" r="1.90" fill="#c8102e"/>
<circle cx="426.20" cy="402.50" r="1.90" fill="#c8102e"/>
<circle cx="432.80" cy="401.50" r="1.90" fill="#c8102e"/>
<circle cx="439.50" cy="397.00" r="1.90" fill="#c8102e"/>
<circle cx="422.80" cy="413.50" r="1.90" fill="#c8102e"/>
<circle cx="429.50" cy="411.30" r="1.90" fill="#c8102e"/>
<line x1="426.20" y1="398.20" x2="426.20" y2="410.50" stroke="#000" stroke-width="1.30"/>
<line x1="417.95" y1="398.20" x2="434.45" y2="398.20" stroke="#000" stroke-width="1.30"/>
<line x1="417.95" y1="410.50" x2="434.45" y2="410.50" stroke="#000" stroke-width="1.30"/>
<line x1="409.80" y1="404.30" x2="442.60" y2="404.30" stroke="#000" stroke-width="1.30"/>
<circle cx="472.50" cy="374.20" r="1.90" fill="#175089"/>
<circle cx="479.00" cy="379.00" r="1.90" fill="#175089"/>
<circle cx="475.80" cy="396.30" r="1.90" fill="#175089"/>
<circle cx="465.70" cy="401.50" r="1.90" fill="#175089"/>
<circle cx="482.50" cy="400.50" r="1.90" fill="#175089"/>
<circle cx="469.20" cy="407.80" r="1.90" fill="#175089"/>
<circle cx="475.80" cy="405.50" r="1.90" fill="#175089"/>
<circle cx="482.50" cy="408.20" r="1.90" fill="#175089"/>
<circle cx="475.80" cy="413.00" r="1.90" fill="#175089"/>
<line x1="475.80" y1="383.70" x2="475.80" y2="412.50" stroke="#000" stroke-width="1.30"/>
<line x1="467.80" y1="383.70" x2="483.80" y2="383.70" stroke="#000" stroke-width="1.30"/>
<line x1="467.80" y1="412.50" x2="483.80" y2="412.50" stroke="#000" stroke-width="1.30"/>
<line x1="459.45" y1="398.20" x2="492.15" y2="398.20" stroke="#000" stroke-width="1.30"/>
<text transform="translate(10.015 20.400) scale(0.38519 0.39286)" font-size="40" font-weight="bold" fill="#000" stroke="#000" stroke-width="1.000"><tspan >A</tspan></text>
<text transform="translate(341.050 20.400) scale(0.38333 0.38929)" font-size="40" font-weight="bold" fill="#000" stroke="#000" stroke-width="1.000"><tspan >B</tspan></text>
<text transform="translate(10.492 162.800) scale(0.35385 0.40357)" font-size="40" font-weight="bold" fill="#000" stroke="#000" stroke-width="1.000"><tspan >C</tspan></text>
<text transform="translate(341.275 162.400) scale(0.37500 0.38571)" font-size="40" font-weight="bold" fill="#000" stroke="#000" stroke-width="1.000"><tspan >D</tspan></text>
<text transform="translate(10.309 340.600) scale(0.36364 0.37143)" font-size="40" font-weight="bold" fill="#000" stroke="#000" stroke-width="1.000"><tspan >E</tspan></text>
<text transform="translate(178.215 340.600) scale(0.39500 0.37143)" font-size="40" font-weight="bold" fill="#000" stroke="#000" stroke-width="1.000"><tspan >F</tspan></text>
<text transform="translate(341.519 341.000) scale(0.34074 0.39643)" font-size="40" font-weight="bold" fill="#000" stroke="#000" stroke-width="1.000"><tspan >G</tspan></text>
<text transform="translate(88.495 126.200) scale(0.30244 0.26552)" font-size="40" fill="#000" stroke="#000" stroke-width="0.400"><tspan >d0</tspan></text>
<text transform="translate(116.815 126.200) scale(0.30244 0.26552)" font-size="40" fill="#000" stroke="#000" stroke-width="0.400"><tspan >d1</tspan></text>
<text transform="translate(145.135 126.200) scale(0.30244 0.26552)" font-size="40" fill="#000" stroke="#000" stroke-width="0.400"><tspan >d2</tspan></text>
<text transform="translate(173.455 126.200) scale(0.30244 0.26552)" font-size="40" fill="#000" stroke="#000" stroke-width="0.400"><tspan >d3</tspan></text>
<text transform="translate(201.790 126.200) scale(0.29524 0.26552)" font-size="40" fill="#000" stroke="#000" stroke-width="0.400"><tspan >d4</tspan></text>
<text transform="translate(230.095 126.200) scale(0.30244 0.26552)" font-size="40" fill="#000" stroke="#000" stroke-width="0.400"><tspan >d5</tspan></text>
<text transform="translate(273.680 40.600) scale(0.26000 0.22308)" font-size="40" fill="#000" stroke="#000" stroke-width="0.400"><tspan font-style="italic">wt</tspan></text>
<text transform="translate(273.954 54.400) scale(0.24592 0.22759)" font-size="40" fill="#000" stroke="#000" stroke-width="0.400"><tspan font-style="italic">RhoB</tspan></text>
<text transform="translate(46.800 114.225) rotate(-90) scale(0.22540 0.31724)" font-size="40" fill="#000" stroke="#000" stroke-width="2.000"><tspan >% of labeled platelets</tspan></text>
<text transform="translate(420.650 125.600) scale(0.27500 0.24615)" font-size="40" fill="#000" stroke="#000" stroke-width="0.400"><tspan font-style="italic">wt</tspan></text>
<text transform="translate(461.338 127.400) scale(0.26224 0.25517)" font-size="40" fill="#000" stroke="#000" stroke-width="0.400"><tspan font-style="italic">RhoB</tspan></text>
<text transform="translate(355.600 101.042) rotate(-90) scale(0.22113 0.27586)" font-size="40" fill="#000" stroke="#000" stroke-width="2.000"><tspan >Spleen to body</tspan></text>
<text transform="translate(371.800 112.000) rotate(-90) scale(0.23088 0.28276)" font-size="40" fill="#000" stroke="#000" stroke-width="2.000"><tspan >weight relative to </tspan><tspan font-style="italic">wt</tspan></text>
<text transform="translate(87.850 162.800) scale(0.32500 0.30000)" font-size="40" fill="#000" stroke="#000" stroke-width="0.400"><tspan font-style="italic">wt</tspan></text>
<text transform="translate(215.288 162.300) scale(0.31224 0.30690)" font-size="40" fill="#000" stroke="#000" stroke-width="0.400"><tspan font-style="italic">RhoB</tspan></text>
<text transform="translate(420.460 285.000) scale(0.27000 0.25385)" font-size="40" fill="#000" stroke="#000" stroke-width="0.400"><tspan font-style="italic">wt</tspan></text>
<text transform="translate(461.238 287.000) scale(0.26224 0.25517)" font-size="40" fill="#000" stroke="#000" stroke-width="0.400"><tspan font-style="italic">RhoB</tspan></text>
<text transform="translate(371.200 269.879) rotate(-90) scale(0.22639 0.29655)" font-size="40" fill="#000" stroke="#000" stroke-width="2.000"><tspan >MKs per visual field</tspan></text>
<text transform="translate(458.222 204.800) scale(0.27760 0.25714)" font-size="40" fill="#000" stroke="#000" stroke-width="0.400"><tspan font-style="italic">P</tspan><tspan >=.277</tspan></text>
<text transform="translate(123.214 353.000) scale(0.28641 0.26429)" font-size="40" fill="#000" stroke="#000" stroke-width="0.400"><tspan font-style="italic">P</tspan><tspan >=.18</tspan></text>
<text transform="translate(71.618 446.000) scale(0.26076 0.25000)" font-size="40" fill="#000" stroke="#000" stroke-width="0.400"><tspan >Rest</tspan></text>
<text transform="translate(127.162 446.000) scale(0.27941 0.25000)" font-size="40" fill="#000" stroke="#000" stroke-width="0.400"><tspan >Neu</tspan></text>
<text transform="translate(83.220 464.800) scale(0.24000 0.23846)" font-size="40" fill="#000" stroke="#000" stroke-width="0.400"><tspan font-style="italic">wt</tspan></text>
<text transform="translate(115.159 465.100) scale(0.24082 0.24828)" font-size="40" fill="#000" stroke="#000" stroke-width="0.400"><tspan font-style="italic">RhoB</tspan></text>
<text transform="translate(20.900 418.871) rotate(-90) scale(0.22355 0.30357)" font-size="40" fill="#000" stroke="#000" stroke-width="2.000"><tspan >MFI [ECL-FITC]</tspan></text>
<text transform="translate(282.707 367.600) scale(0.29280 0.25000)" font-size="40" fill="#000" stroke="#000" stroke-width="0.400"><tspan font-style="italic">P</tspan><tspan >=.085</tspan></text>
<text transform="translate(254.450 446.000) scale(0.27500 0.24615)" font-size="40" fill="#000" stroke="#000" stroke-width="0.400"><tspan font-style="italic">wt</tspan></text>
<text transform="translate(286.738 448.000) scale(0.26224 0.25517)" font-size="40" fill="#000" stroke="#000" stroke-width="0.400"><tspan font-style="italic">RhoB</tspan></text>
<text transform="translate(198.200 431.084) rotate(-90) scale(0.22785 0.28276)" font-size="40" fill="#000" stroke="#000" stroke-width="2.000"><tspan >Ratio of lectin binding</tspan></text>
<text transform="translate(213.200 409.470) rotate(-90) scale(0.23497 0.27500)" font-size="40" fill="#000" stroke="#000" stroke-width="2.000"><tspan >(neu/Rest)</tspan></text>
<text transform="translate(420.460 446.000) scale(0.27000 0.23077)" font-size="40" fill="#000" stroke="#000" stroke-width="0.400"><tspan font-style="italic">wt</tspan></text>
<text transform="translate(461.338 448.000) scale(0.26224 0.25517)" font-size="40" fill="#000" stroke="#000" stroke-width="0.400"><tspan font-style="italic">RhoB</tspan></text>
<text transform="translate(460.722 362.600) scale(0.27767 0.27143)" font-size="40" fill="#000" stroke="#000" stroke-width="0.400"><tspan font-style="italic">P</tspan><tspan >=.41</tspan></text>
<text transform="translate(351.900 413.669) rotate(-90) scale(0.22308 0.28276)" font-size="40" fill="#000" stroke="#000" stroke-width="2.000"><tspan >Reticulated</tspan></text>
<text transform="translate(365.100 416.915) rotate(-90) scale(0.23821 0.27931)" font-size="40" fill="#000" stroke="#000" stroke-width="2.000"><tspan >platelets [%]</tspan></text>
<text transform="translate(66.933 113.268) scale(0.28889 0.26429)" font-size="40" stroke="#000" stroke-width="0.400">0</text>
<text transform="translate(60.578 99.088) scale(0.28889 0.26429)" font-size="40" stroke="#000" stroke-width="0.400">20</text>
<text transform="translate(60.578 84.908) scale(0.28889 0.26429)" font-size="40" stroke="#000" stroke-width="0.400">40</text>
<text transform="translate(60.578 70.728) scale(0.28889 0.26429)" font-size="40" stroke="#000" stroke-width="0.400">60</text>
<text transform="translate(60.578 56.548) scale(0.28889 0.26429)" font-size="40" stroke="#000" stroke-width="0.400">80</text>
<text transform="translate(54.222 42.368) scale(0.28889 0.26429)" font-size="40" stroke="#000" stroke-width="0.400">100</text>
<text transform="translate(379.533 113.268) scale(0.28889 0.26429)" font-size="40" stroke="#000" stroke-width="0.400">0</text>
<text transform="translate(379.533 95.600) scale(0.28889 0.26429)" font-size="40" stroke="#000" stroke-width="0.400">1</text>
<text transform="translate(379.822 77.800) scale(0.28889 0.26429)" font-size="40" stroke="#000" stroke-width="0.400">2</text>
<text transform="translate(379.533 59.868) scale(0.28889 0.26429)" font-size="40" stroke="#000" stroke-width="0.400">3</text>
<text transform="translate(379.533 42.200) scale(0.28889 0.26429)" font-size="40" stroke="#000" stroke-width="0.400">4</text>
<text transform="translate(379.533 272.568) scale(0.28889 0.26429)" font-size="40" stroke="#000" stroke-width="0.400">0</text>
<text transform="translate(379.533 258.620) scale(0.28889 0.26429)" font-size="40" stroke="#000" stroke-width="0.400">1</text>
<text transform="translate(379.822 244.540) scale(0.28889 0.26429)" font-size="40" stroke="#000" stroke-width="0.400">2</text>
<text transform="translate(379.533 230.328) scale(0.28889 0.26429)" font-size="40" stroke="#000" stroke-width="0.400">3</text>
<text transform="translate(379.533 216.380) scale(0.28889 0.26429)" font-size="40" stroke="#000" stroke-width="0.400">4</text>
<text transform="translate(379.533 202.168) scale(0.28889 0.26429)" font-size="40" stroke="#000" stroke-width="0.400">5</text>
<text transform="translate(41.933 433.568) scale(0.28889 0.26429)" font-size="40" stroke="#000" stroke-width="0.400">0</text>
<text transform="translate(35.578 417.568) scale(0.28889 0.26429)" font-size="40" stroke="#000" stroke-width="0.400">50</text>
<text transform="translate(29.222 401.568) scale(0.28889 0.26429)" font-size="40" stroke="#000" stroke-width="0.400">100</text>
<text transform="translate(29.222 385.568) scale(0.28889 0.26429)" font-size="40" stroke="#000" stroke-width="0.400">150</text>
<text transform="translate(29.222 369.568) scale(0.28889 0.26429)" font-size="40" stroke="#000" stroke-width="0.400">200</text>
<text transform="translate(29.222 353.568) scale(0.28889 0.26429)" font-size="40" stroke="#000" stroke-width="0.400">250</text>
<text transform="translate(222.533 433.568) scale(0.28889 0.26429)" font-size="40" stroke="#000" stroke-width="0.400">0</text>
<text transform="translate(222.533 417.900) scale(0.28889 0.26429)" font-size="40" stroke="#000" stroke-width="0.400">1</text>
<text transform="translate(222.822 402.100) scale(0.28889 0.26429)" font-size="40" stroke="#000" stroke-width="0.400">2</text>
<text transform="translate(222.533 386.168) scale(0.28889 0.26429)" font-size="40" stroke="#000" stroke-width="0.400">3</text>
<text transform="translate(222.533 370.500) scale(0.28889 0.26429)" font-size="40" stroke="#000" stroke-width="0.400">4</text>
<text transform="translate(222.533 354.568) scale(0.28889 0.26429)" font-size="40" stroke="#000" stroke-width="0.400">5</text>
<text transform="translate(379.733 434.068) scale(0.28889 0.26429)" font-size="40" stroke="#000" stroke-width="0.400">0</text>
<text transform="translate(379.733 409.918) scale(0.28889 0.26429)" font-size="40" stroke="#000" stroke-width="0.400">5</text>
<text transform="translate(373.378 385.768) scale(0.28889 0.26429)" font-size="40" stroke="#000" stroke-width="0.400">10</text>
<text transform="translate(373.378 361.618) scale(0.28889 0.26429)" font-size="40" stroke="#000" stroke-width="0.400">15</text>
<rect x="0" y="0" width="520" height="1.4" fill="#000"/><rect x="0" y="0" width="1.5" height="475" fill="#000"/><rect x="518.5" y="0" width="1.5" height="475" fill="#000"/><rect x="0" y="473.5" width="520" height="1.5" fill="#000"/>
</svg></body></html>
